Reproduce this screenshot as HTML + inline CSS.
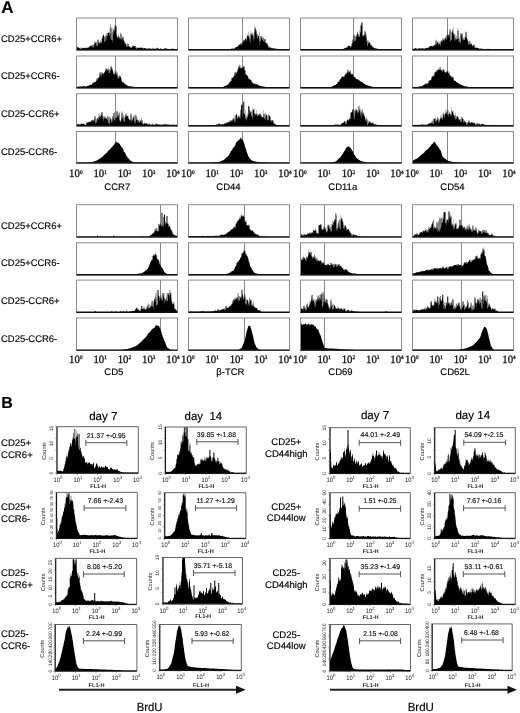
<!DOCTYPE html><html><head><meta charset="utf-8"><style>html,body{margin:0;padding:0;background:#fff;}svg{display:block;filter:grayscale(1);}</style></head><body>
<svg width="520" height="713" viewBox="0 0 520 713" text-rendering="geometricPrecision">
<rect width="520" height="713" fill="#fff"/>
<text x="1.20" y="13.20" font-family='"Liberation Sans", sans-serif' font-size="17" font-weight="bold" text-anchor="start" fill="#000" stroke="#000" stroke-width="0.15">A</text>
<text x="1.00" y="41.70" font-family='"Liberation Sans", sans-serif' font-size="9.6" font-weight="normal" text-anchor="start" fill="#000" textLength="60.98" lengthAdjust="spacingAndGlyphs" stroke="#000" stroke-width="0.15">CD25+CCR6+</text>
<text x="1.00" y="79.40" font-family='"Liberation Sans", sans-serif' font-size="9.6" font-weight="normal" text-anchor="start" fill="#000" textLength="58.60" lengthAdjust="spacingAndGlyphs" stroke="#000" stroke-width="0.15">CD25+CCR6-</text>
<text x="1.00" y="116.80" font-family='"Liberation Sans", sans-serif' font-size="9.6" font-weight="normal" text-anchor="start" fill="#000" textLength="58.60" lengthAdjust="spacingAndGlyphs" stroke="#000" stroke-width="0.15">CD25-CCR6+</text>
<text x="1.00" y="154.70" font-family='"Liberation Sans", sans-serif' font-size="9.6" font-weight="normal" text-anchor="start" fill="#000" textLength="56.23" lengthAdjust="spacingAndGlyphs" stroke="#000" stroke-width="0.15">CD25-CCR6-</text>
<line x1="115.50" y1="18.0" x2="115.50" y2="50" stroke="#888" stroke-width="1"/>
<path d="M76.50,50.00V46.1h.250V46.8h.250V47.3h.250V47.5h.250V46.8h.250V47.2h.250V46.9h.250V47.5h.250V47.8h.250V47.7h.250V47.9h.250V47.7h.250V48.2h.250V48.2h.250V47.7h.250V47.3h.250V49.1h.250V48.8h.250V48.7h.250V48.9h.250V48.0h.250V48.3h.250V47.9h.250V47.6h.250V47.9h.250V48.1h.250V48.2h.250V47.6h.250V48.0h.250V47.9h.250V47.6h.250V48.0h.250V47.9h.250V48.5h.250V47.9h.250V48.4h.250V47.5h.250V48.1h.250V47.8h.250V47.8h.250V47.9h.250V47.4h.250V47.6h.250V47.5h.250V47.9h.250V48.1h.250V47.2h.250V46.9h.250V47.5h.250V47.5h.250V47.3h.250V47.3h.250V46.0h.250V46.4h.250V45.8h.250V45.6h.250V46.0h.250V46.1h.250V46.2h.250V46.6h.250V45.0h.250V45.3h.250V44.8h.250V44.8h.250V47.3h.250V46.7h.250V48.0h.250V46.5h.250V44.6h.250V44.6h.250V44.8h.250V44.8h.250V41.3h.250V42.5h.250V41.8h.250V41.8h.250V43.4h.250V43.0h.250V42.3h.250V42.0h.250V45.5h.250V45.5h.250V46.3h.250V46.2h.250V39.6h.250V40.3h.250V40.1h.250V39.1h.250V41.7h.250V44.2h.250V43.6h.250V42.9h.250V42.5h.250V42.6h.250V40.2h.250V42.7h.250V41.6h.250V42.8h.250V43.3h.250V42.2h.250V41.7h.250V38.6h.250V38.4h.250V37.7h.250V35.6h.250V36.1h.250V35.0h.250V35.7h.250V35.2h.250V34.1h.250V37.1h.250V36.1h.250V41.8h.250V41.8h.250V41.0h.250V38.7h.250V35.9h.250V35.2h.250V35.8h.250V33.0h.250V40.5h.250V35.3h.250V36.4h.250V35.8h.250V32.5h.250V33.1h.250V32.3h.250V32.7h.250V32.4h.250V33.0h.250V32.4h.250V28.6h.250V34.6h.250V35.8h.250V33.3h.250V38.5h.250V24.3h.250V25.8h.250V28.0h.250V27.5h.250V39.5h.250V39.7h.250V42.3h.250V39.9h.250V27.7h.250V32.0h.250V29.3h.250V29.5h.250V30.7h.250V34.3h.250V29.9h.250V31.8h.250V28.0h.250V24.9h.250V27.0h.250V27.3h.250V25.2h.250V25.5h.250V25.8h.250V26.1h.250V33.9h.250V36.4h.250V38.1h.250V36.5h.250V37.1h.250V37.0h.250V34.8h.250V35.5h.250V36.3h.250V38.4h.250V39.3h.250V38.2h.250V37.0h.250V36.5h.250V38.6h.250V39.5h.250V32.8h.250V33.3h.250V33.8h.250V34.3h.250V39.4h.250V38.8h.250V40.5h.250V37.9h.250V36.4h.250V36.7h.250V37.1h.250V37.5h.250V40.3h.250V39.8h.250V41.2h.250V41.4h.250V43.9h.250V41.7h.250V43.2h.250V42.8h.250V43.6h.250V44.6h.250V43.8h.250V44.7h.250V46.7h.250V46.6h.250V46.0h.250V47.1h.250V44.0h.250V42.8h.250V44.0h.250V44.1h.250V46.2h.250V46.1h.250V46.3h.250V47.1h.250V47.0h.250V46.2h.250V47.7h.250V46.8h.250V47.5h.250V46.8h.250V47.7h.250V48.1h.250V47.6h.250V46.2h.250V47.0h.250V46.9h.250V45.6h.250V45.5h.250V46.1h.250V45.1h.250V46.1h.250V46.6h.250V46.7h.250V46.1h.250V45.9h.250V45.9h.250V46.0h.250V46.1h.250V47.6h.250V47.7h.250V47.7h.250V47.5h.250V48.9h.250V48.7h.250V47.7h.250V48.0h.250V47.1h.250V47.7h.250V47.4h.250V47.6h.250V47.9h.250V48.2h.250V47.8h.250V47.9h.250V47.8h.250V47.9h.250V47.5h.250V47.9h.250V47.5h.250V47.6h.250V47.8h.250V47.6h.250V47.7h.250V48.3h.250V47.4h.250V47.4h.250V48.3h.250V48.0h.250V48.0h.250V48.4h.250V48.3h.250V48.6h.250V48.1h.250V48.1h.250V48.3h.250V48.0h.250V48.2h.250V48.3h.250V48.3h.250V48.4h.250V48.4h.250V48.3h.250V49.3h.250V49.3h.250V48.7h.250V49.1h.250V48.0h.250V48.2h.250V48.3h.250V48.0h.250V49.1h.250V48.9h.250V49.0h.250V49.3h.250V48.1h.250V48.3h.250V48.0h.250V48.1h.250V48.9h.250V48.8h.250V48.8h.250V48.9h.250V48.7h.250V49.2h.250V48.8h.250V49.3h.250V48.2h.250V48.4h.250V47.6h.250V47.9h.250V49.0h.250V49.2h.250V49.4h.250V49.0h.250V48.5h.250V48.8h.250V48.7h.250V48.8h.250V48.4h.250V48.3h.250V48.3h.250V48.3h.250V48.4h.250V48.7h.250V48.7h.250V48.5h.250V47.6h.250V47.7h.250V47.9h.250V47.8h.250V49.0h.250V49.1h.250V49.1h.250V49.1h.250V48.8h.250V49.0h.250V48.5h.250V48.8h.250V48.5h.250V48.4h.250V48.5h.250V48.8h.250V48.9h.250V49.0h.250V49.0h.250V49.0h.250V49.1h.250V49.0h.250V49.0h.250V49.0h.250V48.9h.250V48.6h.250V48.9h.250V48.8h.250V48.3h.250V48.2h.250V48.3h.250V48.6h.250V48.2h.250V48.2h.250V48.2h.250V48.2h.250V48.9h.250V48.8h.250V49.1h.250V48.8h.250V48.8h.250V49.0h.250V49.0h.250V49.0h.250V48.9h.250V48.7h.250V48.9h.250V49.1h.250V49.1h.250V49.0h.250V48.8h.250V49.1h.250V49.3h.250V49.3h.250V49.3h.250V49.4h.250V48.7h.250V48.7h.250V48.6h.250V48.8h.250V48.5h.250V48.7h.250V48.7h.250V48.8h.250V48.8h.250V49.1h.250V49.1h.250V49.2h.250V49.4h.250V49.1h.250V49.1h.250V49.1h.250V49.0h.250V49.0h.250V48.9h.250V49.0h.250V49.4h.250V49.4h.250V50.00Z" fill="#000"/>
<rect x="76.5" y="18.0" width="101" height="32.0" fill="none" stroke="#8a8a8a" stroke-width="1"/>
<path d="M76.5,49.70H177.5" stroke="#111" stroke-width="1.4"/>
<line x1="115.50" y1="56.0" x2="115.50" y2="88" stroke="#888" stroke-width="1"/>
<path d="M76.50,88.00V86.8h.250V86.7h.250V86.8h.250V86.8h.250V86.8h.250V86.7h.250V86.7h.250V86.6h.250V86.6h.250V86.6h.250V86.6h.250V86.6h.250V86.6h.250V86.6h.250V86.6h.250V86.5h.250V86.3h.250V86.5h.250V86.5h.250V86.4h.250V86.6h.250V86.4h.250V86.4h.250V86.4h.250V86.2h.250V86.2h.250V86.2h.250V86.1h.250V86.1h.250V86.1h.250V86.1h.250V86.1h.250V86.6h.250V86.6h.250V86.5h.250V86.4h.250V86.6h.250V86.6h.250V86.5h.250V86.5h.250V86.2h.250V86.0h.250V86.2h.250V85.9h.250V85.8h.250V85.9h.250V85.6h.250V85.5h.250V85.8h.250V85.8h.250V85.4h.250V85.2h.250V85.0h.250V84.8h.250V85.0h.250V84.7h.250V85.1h.250V85.1h.250V85.1h.250V84.8h.250V84.5h.250V84.3h.250V84.2h.250V84.2h.250V83.0h.250V82.6h.250V82.6h.250V82.1h.250V83.0h.250V83.0h.250V82.6h.250V81.9h.250V82.4h.250V81.8h.250V81.9h.250V81.9h.250V81.5h.250V81.5h.250V81.1h.250V81.0h.250V78.4h.250V79.0h.250V77.9h.250V78.1h.250V79.7h.250V79.7h.250V78.5h.250V78.2h.250V76.9h.250V77.3h.250V76.5h.250V77.3h.250V72.9h.250V72.6h.250V72.3h.250V72.0h.250V75.8h.250V74.0h.250V75.3h.250V76.6h.250V72.4h.250V72.6h.250V73.1h.250V72.1h.250V73.8h.250V73.2h.250V73.3h.250V73.1h.250V73.9h.250V75.0h.250V72.6h.250V73.3h.250V71.8h.250V71.8h.250V70.6h.250V70.7h.250V68.8h.250V68.7h.250V68.7h.250V68.2h.250V71.2h.250V69.0h.250V70.2h.250V68.8h.250V69.1h.250V70.6h.250V69.0h.250V68.1h.250V73.2h.250V70.0h.250V72.9h.250V73.1h.250V69.4h.250V69.5h.250V71.0h.250V70.9h.250V66.6h.250V67.1h.250V66.5h.250V66.2h.250V68.2h.250V69.1h.250V69.0h.250V67.8h.250V70.9h.250V70.5h.250V73.4h.250V71.9h.250V73.6h.250V74.4h.250V74.0h.250V75.6h.250V70.8h.250V73.3h.250V71.2h.250V71.2h.250V73.9h.250V73.4h.250V74.7h.250V74.3h.250V70.8h.250V72.3h.250V72.4h.250V72.8h.250V76.2h.250V78.3h.250V78.4h.250V78.5h.250V76.3h.250V75.8h.250V76.4h.250V77.9h.250V75.2h.250V75.6h.250V75.9h.250V76.3h.250V76.2h.250V77.3h.250V78.0h.250V78.6h.250V81.6h.250V80.7h.250V82.0h.250V82.7h.250V81.3h.250V82.2h.250V82.1h.250V82.1h.250V82.4h.250V82.9h.250V83.2h.250V83.4h.250V83.7h.250V83.8h.250V84.1h.250V84.1h.250V84.5h.250V84.7h.250V84.7h.250V85.0h.250V85.0h.250V85.4h.250V85.2h.250V85.3h.250V85.7h.250V86.0h.250V85.7h.250V86.0h.250V86.4h.250V86.4h.250V86.7h.250V86.3h.250V85.9h.250V86.0h.250V86.1h.250V86.2h.250V86.4h.250V86.3h.250V86.6h.250V86.7h.250V86.5h.250V86.5h.250V86.6h.250V86.7h.250V86.5h.250V86.6h.250V86.7h.250V86.8h.250V86.8h.250V86.8h.250V86.9h.250V86.8h.250V86.9h.250V87.0h.250V86.9h.250V87.0h.250V87.1h.250V87.0h.250V87.2h.250V87.1h.250V87.4h.250V87.4h.250V87.4h.250V87.4h.250V87.3h.250V87.4h.250V87.3h.250V87.3h.250V87.4h.250V87.4h.250V87.3h.250V87.3h.250V87.4h.250V87.4h.250V87.4h.250V87.4h.250V87.5h.250V87.4h.250V87.4h.250V87.4h.250V87.3h.250V87.3h.250V87.3h.250V87.3h.250V87.3h.250V87.3h.250V87.4h.250V87.3h.250V87.3h.250V87.4h.250V87.3h.250V87.4h.250V87.4h.250V87.4h.250V87.4h.250V87.4h.250V87.4h.250V87.3h.250V87.4h.250V87.3h.250V87.2h.250V87.2h.250V87.2h.250V87.2h.250V87.4h.250V87.4h.250V87.4h.250V87.5h.250V87.4h.250V87.4h.250V87.4h.250V87.3h.250V87.4h.250V87.4h.250V87.4h.250V87.4h.250V87.4h.250V87.4h.250V87.4h.250V87.4h.250V87.3h.250V87.3h.250V87.3h.250V87.3h.250V87.3h.250V87.3h.250V87.4h.250V87.4h.250V87.3h.250V87.3h.250V87.3h.250V87.3h.250V87.3h.250V87.3h.250V87.3h.250V87.3h.250V87.3h.250V87.3h.250V87.4h.250V87.3h.250V87.4h.250V87.4h.250V87.4h.250V87.4h.250V87.3h.250V87.4h.250V87.4h.250V87.4h.250V87.3h.250V87.3h.250V87.4h.250V87.3h.250V87.4h.250V87.4h.250V87.3h.250V87.4h.250V87.3h.250V87.3h.250V87.3h.250V87.3h.250V87.2h.250V87.2h.250V87.2h.250V87.3h.250V87.3h.250V87.3h.250V87.4h.250V87.3h.250V87.4h.250V87.4h.250V87.4h.250V87.4h.250V87.4h.250V87.3h.250V87.4h.250V87.4h.250V87.4h.250V87.4h.250V87.3h.250V87.4h.250V87.3h.250V87.4h.250V87.4h.250V87.4h.250V87.2h.250V87.3h.250V87.3h.250V87.4h.250V87.3h.250V87.3h.250V87.3h.250V87.3h.250V87.5h.250V87.4h.250V87.4h.250V87.4h.250V87.3h.250V87.3h.250V87.3h.250V87.2h.250V87.3h.250V87.3h.250V87.3h.250V87.4h.250V87.3h.250V87.3h.250V87.4h.250V87.4h.250V87.4h.250V87.4h.250V87.4h.250V87.4h.250V87.4h.250V87.4h.250V87.4h.250V87.4h.250V87.4h.250V87.4h.250V87.5h.250V87.4h.250V87.3h.250V87.3h.250V88.00Z" fill="#000"/>
<rect x="76.5" y="56.0" width="101" height="32.0" fill="none" stroke="#8a8a8a" stroke-width="1"/>
<path d="M76.5,87.70H177.5" stroke="#111" stroke-width="1.4"/>
<line x1="115.50" y1="93.7" x2="115.50" y2="126" stroke="#888" stroke-width="1"/>
<path d="M76.50,126.00V124.2h.250V124.4h.250V124.6h.250V124.5h.250V124.0h.250V124.1h.250V124.3h.250V124.3h.250V124.2h.250V123.9h.250V123.8h.250V123.7h.250V125.2h.250V124.8h.250V124.8h.250V124.6h.250V123.5h.250V123.8h.250V123.9h.250V123.5h.250V124.2h.250V123.8h.250V124.0h.250V123.6h.250V123.7h.250V124.0h.250V123.8h.250V123.9h.250V123.8h.250V124.0h.250V123.2h.250V123.8h.250V124.9h.250V125.5h.250V125.5h.250V125.2h.250V124.7h.250V124.5h.250V124.4h.250V124.3h.250V122.7h.250V121.6h.250V122.7h.250V122.1h.250V122.4h.250V122.9h.250V122.5h.250V121.8h.250V122.2h.250V122.1h.250V122.1h.250V122.0h.250V121.9h.250V121.6h.250V122.0h.250V121.4h.250V121.2h.250V121.7h.250V120.3h.250V121.5h.250V121.3h.250V119.9h.250V120.6h.250V120.0h.250V121.4h.250V119.6h.250V120.9h.250V119.9h.250V119.9h.250V120.7h.250V118.9h.250V121.5h.250V116.7h.250V116.5h.250V116.3h.250V116.2h.250V122.4h.250V123.8h.250V122.4h.250V122.4h.250V119.4h.250V119.0h.250V120.4h.250V118.0h.250V118.1h.250V117.8h.250V119.4h.250V119.1h.250V117.1h.250V113.8h.250V113.5h.250V115.7h.250V116.6h.250V117.8h.250V118.0h.250V116.3h.250V116.5h.250V114.1h.250V114.9h.250V115.4h.250V112.2h.250V112.2h.250V112.2h.250V112.1h.250V115.8h.250V119.1h.250V120.9h.250V118.6h.250V116.2h.250V116.6h.250V118.2h.250V118.4h.250V116.6h.250V116.1h.250V117.0h.250V116.4h.250V119.2h.250V117.9h.250V117.3h.250V118.3h.250V118.7h.250V119.2h.250V119.8h.250V120.6h.250V115.2h.250V116.3h.250V116.7h.250V116.9h.250V123.0h.250V122.7h.250V124.2h.250V123.7h.250V116.5h.250V118.2h.250V118.4h.250V116.7h.250V118.6h.250V119.9h.250V119.0h.250V119.4h.250V121.7h.250V123.0h.250V119.6h.250V122.0h.250V116.7h.250V115.5h.250V119.2h.250V117.3h.250V113.1h.250V112.9h.250V112.8h.250V112.4h.250V120.8h.250V120.0h.250V121.9h.250V117.5h.250V117.6h.250V118.3h.250V118.0h.250V117.8h.250V111.2h.250V111.2h.250V111.2h.250V111.2h.250V116.4h.250V115.7h.250V117.6h.250V115.1h.250V112.4h.250V114.6h.250V113.2h.250V111.8h.250V121.1h.250V119.7h.250V120.1h.250V122.1h.250V120.9h.250V121.7h.250V117.4h.250V120.6h.250V111.6h.250V112.9h.250V113.4h.250V111.5h.250V117.2h.250V118.7h.250V115.0h.250V115.5h.250V121.9h.250V119.5h.250V122.1h.250V121.3h.250V116.1h.250V117.7h.250V116.6h.250V117.2h.250V113.7h.250V114.1h.250V116.3h.250V113.3h.250V114.8h.250V116.2h.250V115.9h.250V115.7h.250V116.3h.250V115.8h.250V118.8h.250V115.6h.250V119.0h.250V117.2h.250V119.9h.250V120.4h.250V119.5h.250V119.1h.250V119.8h.250V121.1h.250V114.3h.250V113.4h.250V113.0h.250V115.5h.250V122.0h.250V119.5h.250V120.4h.250V120.3h.250V118.5h.250V117.4h.250V118.4h.250V117.7h.250V117.1h.250V114.9h.250V116.4h.250V115.8h.250V123.1h.250V121.3h.250V121.6h.250V123.7h.250V114.5h.250V114.8h.250V115.9h.250V115.5h.250V120.1h.250V119.3h.250V118.4h.250V119.8h.250V120.2h.250V121.4h.250V121.4h.250V119.8h.250V122.6h.250V120.0h.250V122.5h.250V119.5h.250V121.9h.250V122.4h.250V120.3h.250V120.6h.250V121.1h.250V121.4h.250V122.9h.250V120.5h.250V117.1h.250V119.2h.250V120.5h.250V120.1h.250V123.8h.250V123.5h.250V123.1h.250V123.5h.250V124.9h.250V124.3h.250V123.8h.250V123.9h.250V122.4h.250V122.4h.250V123.1h.250V123.0h.250V123.4h.250V124.1h.250V123.4h.250V123.3h.250V123.6h.250V123.6h.250V123.5h.250V123.7h.250V124.6h.250V124.6h.250V124.6h.250V125.0h.250V123.4h.250V123.6h.250V123.9h.250V123.7h.250V123.8h.250V124.1h.250V124.4h.250V124.3h.250V124.9h.250V124.8h.250V124.4h.250V124.4h.250V124.7h.250V125.2h.250V124.9h.250V124.7h.250V123.6h.250V123.8h.250V123.7h.250V123.9h.250V125.1h.250V125.0h.250V125.1h.250V125.0h.250V124.8h.250V124.0h.250V125.0h.250V124.5h.250V123.2h.250V123.7h.250V124.1h.250V123.7h.250V124.2h.250V124.4h.250V124.4h.250V124.1h.250V124.4h.250V123.8h.250V124.3h.250V124.4h.250V125.2h.250V124.9h.250V124.5h.250V124.7h.250V124.2h.250V124.3h.250V124.4h.250V124.2h.250V124.9h.250V125.0h.250V124.4h.250V124.6h.250V124.5h.250V125.0h.250V125.0h.250V125.0h.250V124.2h.250V124.6h.250V124.3h.250V124.6h.250V124.3h.250V124.4h.250V124.3h.250V124.6h.250V124.4h.250V124.3h.250V124.1h.250V124.6h.250V124.3h.250V124.5h.250V124.4h.250V124.2h.250V124.6h.250V124.6h.250V124.8h.250V125.0h.250V124.0h.250V124.3h.250V124.3h.250V124.4h.250V125.1h.250V124.8h.250V124.8h.250V124.7h.250V124.9h.250V124.5h.250V124.7h.250V124.5h.250V124.7h.250V125.2h.250V125.1h.250V125.0h.250V124.3h.250V124.6h.250V124.2h.250V124.4h.250V125.0h.250V124.7h.250V124.6h.250V124.6h.250V124.7h.250V125.1h.250V125.2h.250V125.2h.250V124.7h.250V124.8h.250V124.8h.250V124.6h.250V125.2h.250V125.2h.250V125.3h.250V125.1h.250V124.4h.250V124.2h.250V126.00Z" fill="#000"/>
<rect x="76.5" y="93.7" width="101" height="32.3" fill="none" stroke="#8a8a8a" stroke-width="1"/>
<path d="M76.5,125.70H177.5" stroke="#111" stroke-width="1.4"/>
<line x1="115.50" y1="131.5" x2="115.50" y2="163.2" stroke="#888" stroke-width="1"/>
<path d="M76.50,163.20V162.9h.250V162.9h.250V162.9h.250V162.9h.250V162.9h.250V162.9h.250V162.9h.250V162.9h.250V162.9h.250V162.9h.250V162.9h.250V162.9h.250V162.9h.250V162.9h.250V162.9h.250V162.9h.250V162.9h.250V162.9h.250V162.9h.250V162.9h.250V162.9h.250V162.9h.250V162.9h.250V162.9h.250V162.9h.250V162.9h.250V162.9h.250V162.9h.250V162.9h.250V162.9h.250V162.9h.250V162.9h.250V162.9h.250V162.9h.250V162.9h.250V162.9h.250V162.9h.250V162.9h.250V162.9h.250V162.9h.250V162.9h.250V162.8h.250V162.8h.250V162.8h.250V162.7h.250V162.7h.250V162.7h.250V162.7h.250V162.6h.250V162.6h.250V162.6h.250V162.5h.250V162.5h.250V162.5h.250V162.4h.250V162.4h.250V162.4h.250V162.3h.250V162.3h.250V162.3h.250V162.2h.250V162.2h.250V162.1h.250V162.0h.250V161.9h.250V161.8h.250V161.7h.250V161.6h.250V161.6h.250V161.5h.250V161.5h.250V161.4h.250V161.3h.250V161.2h.250V161.1h.250V161.0h.250V160.9h.250V160.9h.250V160.8h.250V160.7h.250V160.6h.250V160.4h.250V160.3h.250V160.1h.250V159.9h.250V159.7h.250V159.5h.250V159.4h.250V159.5h.250V159.3h.250V159.2h.250V159.0h.250V158.7h.250V158.6h.250V158.4h.250V158.3h.250V158.1h.250V157.8h.250V157.7h.250V157.5h.250V157.4h.250V157.2h.250V157.0h.250V156.7h.250V156.4h.250V156.4h.250V156.0h.250V155.6h.250V155.7h.250V155.3h.250V155.2h.250V155.0h.250V154.5h.250V154.2h.250V154.0h.250V153.6h.250V153.5h.250V153.5h.250V153.2h.250V152.9h.250V152.8h.250V152.6h.250V152.4h.250V152.2h.250V151.7h.250V151.3h.250V151.1h.250V150.6h.250V150.3h.250V150.2h.250V150.0h.250V149.5h.250V149.9h.250V149.4h.250V149.1h.250V149.0h.250V148.3h.250V148.4h.250V147.6h.250V147.7h.250V147.6h.250V147.6h.250V147.1h.250V147.1h.250V146.2h.250V145.8h.250V145.9h.250V145.4h.250V145.3h.250V144.9h.250V144.4h.250V144.2h.250V143.8h.250V143.3h.250V142.7h.250V142.7h.250V142.5h.250V142.1h.250V141.9h.250V141.3h.250V142.2h.250V142.4h.250V142.0h.250V142.2h.250V142.8h.250V142.8h.250V142.8h.250V143.3h.250V143.2h.250V143.1h.250V143.8h.250V143.6h.250V143.8h.250V144.1h.250V145.0h.250V145.3h.250V145.6h.250V145.9h.250V146.4h.250V147.0h.250V146.8h.250V147.1h.250V147.5h.250V148.4h.250V148.1h.250V148.5h.250V149.0h.250V149.5h.250V151.0h.250V151.4h.250V152.0h.250V152.3h.250V151.9h.250V152.3h.250V152.8h.250V153.3h.250V154.4h.250V154.8h.250V155.3h.250V155.8h.250V156.0h.250V156.3h.250V156.7h.250V156.9h.250V157.5h.250V157.7h.250V158.2h.250V158.5h.250V158.5h.250V158.8h.250V159.1h.250V159.5h.250V159.9h.250V160.2h.250V160.3h.250V160.5h.250V160.6h.250V160.7h.250V160.9h.250V161.0h.250V161.2h.250V161.3h.250V161.5h.250V161.7h.250V161.8h.250V162.0h.250V162.0h.250V162.0h.250V162.1h.250V162.1h.250V162.2h.250V162.2h.250V162.2h.250V162.3h.250V162.3h.250V162.3h.250V162.4h.250V162.4h.250V162.5h.250V162.5h.250V162.5h.250V162.6h.250V162.6h.250V162.6h.250V162.6h.250V162.6h.250V162.6h.250V162.6h.250V162.6h.250V162.6h.250V162.6h.250V162.6h.250V162.6h.250V162.6h.250V162.6h.250V162.6h.250V162.6h.250V162.6h.250V162.6h.250V162.6h.250V162.6h.250V162.6h.250V162.6h.250V162.6h.250V162.6h.250V162.6h.250V162.6h.250V162.6h.250V162.6h.250V162.6h.250V162.6h.250V162.6h.250V162.6h.250V162.6h.250V162.6h.250V162.6h.250V162.6h.250V162.7h.250V162.7h.250V162.7h.250V162.6h.250V162.6h.250V162.6h.250V162.7h.250V162.7h.250V162.7h.250V162.7h.250V162.7h.250V162.7h.250V162.7h.250V162.7h.250V162.7h.250V162.7h.250V162.7h.250V162.7h.250V162.7h.250V162.7h.250V162.7h.250V162.7h.250V162.7h.250V162.7h.250V162.7h.250V162.7h.250V162.7h.250V162.7h.250V162.7h.250V162.7h.250V162.7h.250V162.7h.250V162.7h.250V162.7h.250V162.7h.250V162.7h.250V162.7h.250V162.7h.250V162.7h.250V162.7h.250V162.7h.250V162.7h.250V162.7h.250V162.7h.250V162.7h.250V162.7h.250V162.7h.250V162.7h.250V162.7h.250V162.7h.250V162.7h.250V162.7h.250V162.7h.250V162.7h.250V162.7h.250V162.8h.250V162.8h.250V162.8h.250V162.8h.250V162.8h.250V162.8h.250V162.8h.250V162.8h.250V162.8h.250V162.8h.250V162.8h.250V162.8h.250V162.8h.250V162.8h.250V162.8h.250V162.8h.250V162.8h.250V162.8h.250V162.8h.250V162.8h.250V162.8h.250V162.8h.250V162.8h.250V162.8h.250V162.8h.250V162.8h.250V162.8h.250V162.8h.250V162.8h.250V162.8h.250V162.8h.250V162.8h.250V162.8h.250V162.8h.250V162.8h.250V162.8h.250V162.8h.250V162.8h.250V162.8h.250V162.8h.250V162.8h.250V162.8h.250V162.8h.250V162.8h.250V162.8h.250V162.8h.250V162.8h.250V162.8h.250V162.8h.250V162.9h.250V162.9h.250V162.8h.250V162.8h.250V162.8h.250V162.8h.250V162.8h.250V162.9h.250V162.9h.250V162.9h.250V162.9h.250V162.9h.250V162.9h.250V162.9h.250V162.9h.250V162.9h.250V162.9h.250V162.9h.250V162.9h.250V162.9h.250V162.9h.250V163.20Z" fill="#000"/>
<rect x="76.5" y="131.5" width="101" height="31.69999999999999" fill="none" stroke="#8a8a8a" stroke-width="1"/>
<path d="M76.5,162.90H177.5" stroke="#111" stroke-width="1.4"/>
<text x="69.10" y="176.8" font-family='"Liberation Serif", serif' font-size="11.2" fill="#111" stroke="#111" stroke-width="0.3" textLength="13.4" lengthAdjust="spacingAndGlyphs">10<tspan font-size="5.4" dy="-3.2">0</tspan></text>
<text x="93.40" y="176.8" font-family='"Liberation Serif", serif' font-size="11.2" fill="#111" stroke="#111" stroke-width="0.3" textLength="13.4" lengthAdjust="spacingAndGlyphs">10<tspan font-size="5.4" dy="-3.2">1</tspan></text>
<text x="117.70" y="176.8" font-family='"Liberation Serif", serif' font-size="11.2" fill="#111" stroke="#111" stroke-width="0.3" textLength="13.4" lengthAdjust="spacingAndGlyphs">10<tspan font-size="5.4" dy="-3.2">2</tspan></text>
<text x="142.00" y="176.8" font-family='"Liberation Serif", serif' font-size="11.2" fill="#111" stroke="#111" stroke-width="0.3" textLength="13.4" lengthAdjust="spacingAndGlyphs">10<tspan font-size="5.4" dy="-3.2">3</tspan></text>
<text x="166.30" y="176.8" font-family='"Liberation Serif", serif' font-size="11.2" fill="#111" stroke="#111" stroke-width="0.3" textLength="13.4" lengthAdjust="spacingAndGlyphs">10<tspan font-size="5.4" dy="-3.2">4</tspan></text>
<text x="104.30" y="189.70" font-family='"Liberation Sans", sans-serif' font-size="9.5" font-weight="normal" text-anchor="start" fill="#000" stroke="#000" stroke-width="0.15">CCR7</text>
<line x1="242.50" y1="18.0" x2="242.50" y2="50" stroke="#888" stroke-width="1"/>
<path d="M188.50,50.00V49.6h.250V49.6h.250V49.6h.250V49.6h.250V49.6h.250V49.6h.250V49.5h.250V49.6h.250V49.7h.250V49.7h.250V49.7h.250V49.7h.250V49.8h.250V49.7h.250V49.7h.250V49.7h.250V49.7h.250V49.6h.250V49.7h.250V49.7h.250V49.7h.250V49.6h.250V49.6h.250V49.6h.250V49.6h.250V49.6h.250V49.7h.250V49.6h.250V49.7h.250V49.7h.250V49.7h.250V49.7h.250V49.8h.250V49.7h.250V49.7h.250V49.8h.250V49.5h.250V49.6h.250V49.6h.250V49.6h.250V49.6h.250V49.5h.250V49.5h.250V49.5h.250V49.7h.250V49.7h.250V49.7h.250V49.7h.250V49.7h.250V49.7h.250V49.7h.250V49.6h.250V49.5h.250V49.5h.250V49.5h.250V49.5h.250V49.5h.250V49.5h.250V49.5h.250V49.5h.250V49.7h.250V49.7h.250V49.7h.250V49.6h.250V49.6h.250V49.6h.250V49.6h.250V49.6h.250V49.7h.250V49.7h.250V49.7h.250V49.7h.250V49.5h.250V49.5h.250V49.5h.250V49.5h.250V49.6h.250V49.6h.250V49.7h.250V49.7h.250V49.7h.250V49.7h.250V49.7h.250V49.7h.250V49.8h.250V49.9h.250V49.8h.250V49.8h.250V49.6h.250V49.7h.250V49.6h.250V49.7h.250V49.7h.250V49.8h.250V49.8h.250V49.7h.250V49.7h.250V49.6h.250V49.6h.250V49.6h.250V49.6h.250V49.6h.250V49.6h.250V49.6h.250V49.5h.250V49.5h.250V49.5h.250V49.5h.250V49.7h.250V49.7h.250V49.8h.250V49.7h.250V49.8h.250V49.8h.250V49.8h.250V49.8h.250V49.7h.250V49.7h.250V49.7h.250V49.6h.250V49.8h.250V49.7h.250V49.8h.250V49.8h.250V49.7h.250V49.7h.250V49.6h.250V49.7h.250V49.7h.250V49.7h.250V49.7h.250V49.7h.250V49.6h.250V49.7h.250V49.7h.250V49.7h.250V49.5h.250V49.5h.250V49.5h.250V49.5h.250V49.7h.250V49.6h.250V49.6h.250V49.7h.250V49.7h.250V49.8h.250V49.6h.250V49.8h.250V49.7h.250V49.7h.250V49.7h.250V49.7h.250V49.7h.250V49.7h.250V49.7h.250V49.7h.250V49.7h.250V49.7h.250V49.7h.250V49.7h.250V49.7h.250V49.6h.250V49.4h.250V49.4h.250V49.5h.250V49.4h.250V49.4h.250V49.3h.250V49.2h.250V49.2h.250V48.8h.250V48.8h.250V48.6h.250V48.6h.250V48.3h.250V48.0h.250V48.7h.250V49.0h.250V48.8h.250V48.8h.250V48.5h.250V48.7h.250V49.2h.250V48.8h.250V48.0h.250V47.9h.250V47.3h.250V47.7h.250V47.7h.250V47.5h.250V46.9h.250V47.1h.250V47.0h.250V46.5h.250V46.6h.250V46.0h.250V46.8h.250V47.1h.250V46.2h.250V45.7h.250V45.2h.250V44.8h.250V44.6h.250V44.5h.250V44.7h.250V44.5h.250V45.1h.250V43.5h.250V43.2h.250V44.3h.250V42.6h.250V42.8h.250V44.8h.250V44.7h.250V42.9h.250V45.0h.250V42.4h.250V42.3h.250V41.5h.250V39.3h.250V41.3h.250V40.0h.250V39.9h.250V40.8h.250V40.9h.250V39.8h.250V38.1h.250V39.4h.250V38.3h.250V39.0h.250V39.5h.250V41.1h.250V38.9h.250V35.8h.250V36.3h.250V34.1h.250V35.3h.250V36.9h.250V36.4h.250V36.6h.250V32.1h.250V35.5h.250V34.5h.250V37.0h.250V39.0h.250V41.6h.250V42.9h.250V38.8h.250V34.5h.250V30.7h.250V32.7h.250V33.4h.250V34.3h.250V35.6h.250V32.6h.250V35.3h.250V33.8h.250V35.7h.250V33.3h.250V35.8h.250V37.8h.250V40.7h.250V39.2h.250V32.6h.250V25.7h.250V29.0h.250V27.8h.250V27.2h.250V28.4h.250V31.1h.250V29.9h.250V33.1h.250V35.3h.250V30.4h.250V34.3h.250V33.5h.250V37.9h.250V37.9h.250V35.9h.250V35.4h.250V36.1h.250V35.4h.250V32.1h.250V38.8h.250V45.0h.250V41.0h.250V40.6h.250V42.0h.250V35.9h.250V36.3h.250V36.1h.250V38.8h.250V36.5h.250V37.2h.250V39.7h.250V37.8h.250V36.1h.250V39.9h.250V37.7h.250V37.6h.250V41.8h.250V41.1h.250V39.8h.250V42.1h.250V38.7h.250V39.2h.250V39.1h.250V39.1h.250V43.0h.250V43.1h.250V42.6h.250V43.8h.250V42.6h.250V43.5h.250V43.5h.250V44.1h.250V43.5h.250V46.1h.250V45.4h.250V46.4h.250V46.7h.250V47.9h.250V47.5h.250V47.6h.250V46.9h.250V47.3h.250V47.1h.250V47.4h.250V47.7h.250V48.1h.250V47.9h.250V47.9h.250V47.6h.250V48.7h.250V48.3h.250V48.1h.250V48.3h.250V48.4h.250V48.4h.250V48.5h.250V48.0h.250V48.0h.250V48.5h.250V48.5h.250V48.8h.250V48.7h.250V48.9h.250V48.6h.250V48.6h.250V48.5h.250V49.0h.250V48.8h.250V48.6h.250V48.6h.250V48.8h.250V48.9h.250V49.1h.250V49.2h.250V49.0h.250V49.3h.250V49.2h.250V49.3h.250V49.3h.250V49.4h.250V49.6h.250V49.7h.250V49.8h.250V49.8h.250V49.9h.250V50.0h.250V50.0h.250V50.0h.250V50.0h.250V50.0h.250V50.0h.250V50.0h.250V50.0h.250V50.0h.250V50.0h.250V50.0h.250V50.0h.250V50.0h.250V50.0h.250V50.0h.250V50.0h.250V50.0h.250V50.0h.250V50.0h.250V50.0h.250V50.0h.250V50.0h.250V50.0h.250V50.0h.250V50.0h.250V50.0h.250V50.0h.250V50.0h.250V50.0h.250V50.0h.250V50.0h.250V50.0h.250V50.0h.250V50.00Z" fill="#000"/>
<rect x="188.5" y="18.0" width="101" height="32.0" fill="none" stroke="#8a8a8a" stroke-width="1"/>
<path d="M188.5,49.70H289.5" stroke="#111" stroke-width="1.4"/>
<line x1="242.50" y1="56.0" x2="242.50" y2="88" stroke="#888" stroke-width="1"/>
<path d="M188.50,88.00V87.7h.250V87.7h.250V87.7h.250V87.7h.250V87.7h.250V87.7h.250V87.7h.250V87.7h.250V87.7h.250V87.7h.250V87.7h.250V87.7h.250V87.6h.250V87.7h.250V87.7h.250V87.6h.250V87.7h.250V87.6h.250V87.6h.250V87.6h.250V87.7h.250V87.7h.250V87.6h.250V87.7h.250V87.6h.250V87.6h.250V87.6h.250V87.7h.250V87.7h.250V87.7h.250V87.7h.250V87.7h.250V87.6h.250V87.7h.250V87.6h.250V87.6h.250V87.7h.250V87.7h.250V87.7h.250V87.7h.250V87.7h.250V87.7h.250V87.7h.250V87.7h.250V87.7h.250V87.7h.250V87.7h.250V87.7h.250V87.7h.250V87.7h.250V87.7h.250V87.7h.250V87.7h.250V87.7h.250V87.7h.250V87.7h.250V87.7h.250V87.7h.250V87.7h.250V87.7h.250V87.7h.250V87.6h.250V87.7h.250V87.7h.250V87.7h.250V87.7h.250V87.7h.250V87.7h.250V87.7h.250V87.7h.250V87.7h.250V87.7h.250V87.7h.250V87.7h.250V87.7h.250V87.7h.250V87.7h.250V87.6h.250V87.6h.250V87.6h.250V87.7h.250V87.7h.250V87.7h.250V87.7h.250V87.7h.250V87.7h.250V87.7h.250V87.7h.250V87.7h.250V87.7h.250V87.7h.250V87.7h.250V87.7h.250V87.7h.250V87.7h.250V87.7h.250V87.7h.250V87.7h.250V87.7h.250V87.7h.250V87.7h.250V87.7h.250V87.7h.250V87.7h.250V87.7h.250V87.7h.250V87.7h.250V87.7h.250V87.7h.250V87.7h.250V87.7h.250V87.7h.250V87.7h.250V87.7h.250V87.7h.250V87.7h.250V87.7h.250V87.7h.250V87.6h.250V87.7h.250V87.7h.250V87.7h.250V87.6h.250V87.6h.250V87.5h.250V87.5h.250V87.4h.250V87.3h.250V87.4h.250V87.4h.250V87.3h.250V87.2h.250V87.2h.250V87.2h.250V87.2h.250V87.1h.250V86.9h.250V87.0h.250V86.9h.250V86.9h.250V86.5h.250V86.4h.250V86.2h.250V86.0h.250V86.2h.250V86.1h.250V86.0h.250V85.9h.250V85.7h.250V85.8h.250V85.6h.250V85.3h.250V85.1h.250V85.0h.250V84.7h.250V84.7h.250V84.7h.250V84.7h.250V84.5h.250V84.4h.250V84.1h.250V83.5h.250V83.0h.250V82.9h.250V81.8h.250V81.4h.250V80.9h.250V80.5h.250V82.0h.250V81.9h.250V80.9h.250V81.1h.250V77.8h.250V78.0h.250V77.9h.250V77.4h.250V77.9h.250V78.0h.250V77.6h.250V76.5h.250V76.5h.250V76.3h.250V75.5h.250V76.1h.250V72.9h.250V72.5h.250V72.0h.250V71.5h.250V73.6h.250V74.2h.250V73.5h.250V72.8h.250V72.5h.250V71.9h.250V72.1h.250V71.0h.250V69.2h.250V69.4h.250V68.8h.250V67.6h.250V66.1h.250V67.6h.250V67.3h.250V64.7h.250V64.8h.250V67.6h.250V67.3h.250V65.0h.250V67.9h.250V68.7h.250V68.6h.250V68.1h.250V67.1h.250V68.0h.250V67.0h.250V66.2h.250V68.3h.250V68.8h.250V67.7h.250V67.2h.250V65.4h.250V65.8h.250V66.1h.250V66.5h.250V70.1h.250V70.3h.250V70.3h.250V71.3h.250V74.1h.250V75.1h.250V73.9h.250V74.9h.250V74.9h.250V75.2h.250V75.9h.250V75.2h.250V76.2h.250V76.1h.250V76.6h.250V77.9h.250V78.6h.250V79.4h.250V79.3h.250V79.1h.250V79.3h.250V79.6h.250V79.6h.250V79.5h.250V79.5h.250V79.8h.250V80.4h.250V80.2h.250V81.7h.250V81.8h.250V81.8h.250V82.0h.250V83.3h.250V83.3h.250V83.5h.250V83.9h.250V83.3h.250V83.6h.250V83.7h.250V83.7h.250V83.5h.250V83.6h.250V83.8h.250V83.7h.250V84.2h.250V84.3h.250V84.2h.250V84.3h.250V84.5h.250V84.3h.250V84.6h.250V84.7h.250V84.4h.250V84.7h.250V84.9h.250V85.0h.250V85.4h.250V85.5h.250V85.5h.250V85.4h.250V86.0h.250V85.9h.250V85.9h.250V86.1h.250V86.0h.250V86.2h.250V86.1h.250V86.3h.250V86.1h.250V86.2h.250V86.2h.250V86.4h.250V86.4h.250V86.4h.250V86.6h.250V86.6h.250V86.4h.250V86.5h.250V86.5h.250V86.6h.250V86.8h.250V86.9h.250V87.0h.250V86.9h.250V87.0h.250V87.1h.250V87.0h.250V87.0h.250V87.1h.250V87.1h.250V87.1h.250V87.1h.250V87.2h.250V87.2h.250V87.3h.250V87.3h.250V87.2h.250V87.2h.250V87.3h.250V87.3h.250V87.4h.250V87.5h.250V87.4h.250V87.5h.250V87.5h.250V87.5h.250V87.6h.250V87.5h.250V87.5h.250V87.5h.250V87.6h.250V87.5h.250V87.6h.250V87.6h.250V87.6h.250V87.6h.250V87.6h.250V87.7h.250V87.6h.250V87.7h.250V87.7h.250V87.7h.250V87.7h.250V87.7h.250V87.7h.250V87.6h.250V87.7h.250V87.6h.250V87.7h.250V87.7h.250V87.7h.250V87.7h.250V87.7h.250V87.7h.250V87.7h.250V87.7h.250V87.7h.250V87.7h.250V87.7h.250V87.7h.250V87.7h.250V87.7h.250V87.7h.250V87.7h.250V87.6h.250V87.7h.250V87.7h.250V87.6h.250V87.6h.250V87.6h.250V87.6h.250V87.6h.250V87.7h.250V87.7h.250V87.7h.250V87.7h.250V87.6h.250V87.6h.250V87.7h.250V87.7h.250V87.7h.250V87.7h.250V87.7h.250V87.7h.250V87.7h.250V87.7h.250V87.7h.250V87.7h.250V87.7h.250V87.7h.250V87.7h.250V87.7h.250V87.7h.250V87.7h.250V87.7h.250V87.7h.250V87.7h.250V87.7h.250V88.00Z" fill="#000"/>
<rect x="188.5" y="56.0" width="101" height="32.0" fill="none" stroke="#8a8a8a" stroke-width="1"/>
<path d="M188.5,87.70H289.5" stroke="#111" stroke-width="1.4"/>
<line x1="242.50" y1="93.7" x2="242.50" y2="126" stroke="#888" stroke-width="1"/>
<path d="M188.50,126.00V126.0h.250V126.0h.250V126.0h.250V126.0h.250V126.0h.250V126.0h.250V126.0h.250V126.0h.250V126.0h.250V126.0h.250V126.0h.250V126.0h.250V126.0h.250V126.0h.250V126.0h.250V126.0h.250V126.0h.250V126.0h.250V126.0h.250V126.0h.250V126.0h.250V126.0h.250V126.0h.250V126.0h.250V126.0h.250V126.0h.250V126.0h.250V126.0h.250V126.0h.250V126.0h.250V126.0h.250V126.0h.250V126.0h.250V126.0h.250V126.0h.250V126.0h.250V126.0h.250V126.0h.250V126.0h.250V126.0h.250V126.0h.250V126.0h.250V126.0h.250V126.0h.250V126.0h.250V126.0h.250V126.0h.250V126.0h.250V126.0h.250V126.0h.250V126.0h.250V126.0h.250V126.0h.250V126.0h.250V126.0h.250V126.0h.250V126.0h.250V126.0h.250V126.0h.250V126.0h.250V126.0h.250V126.0h.250V126.0h.250V126.0h.250V126.0h.250V126.0h.250V126.0h.250V126.0h.250V126.0h.250V126.0h.250V126.0h.250V126.0h.250V126.0h.250V126.0h.250V126.0h.250V126.0h.250V126.0h.250V126.0h.250V126.0h.250V126.0h.250V126.0h.250V126.0h.250V126.0h.250V126.0h.250V126.0h.250V126.0h.250V126.0h.250V126.0h.250V126.0h.250V126.0h.250V126.0h.250V126.0h.250V126.0h.250V126.0h.250V126.0h.250V126.0h.250V126.0h.250V125.8h.250V125.6h.250V125.5h.250V125.2h.250V125.2h.250V125.4h.250V125.4h.250V125.1h.250V125.3h.250V125.0h.250V125.0h.250V124.5h.250V125.2h.250V124.7h.250V124.5h.250V124.4h.250V124.1h.250V124.5h.250V124.3h.250V124.5h.250V124.7h.250V124.0h.250V124.5h.250V123.6h.250V123.5h.250V123.6h.250V123.6h.250V124.5h.250V124.3h.250V124.4h.250V124.2h.250V124.2h.250V124.2h.250V124.1h.250V124.2h.250V124.7h.250V124.9h.250V124.6h.250V124.4h.250V123.9h.250V124.0h.250V124.2h.250V124.2h.250V124.3h.250V124.2h.250V123.7h.250V123.9h.250V123.1h.250V123.8h.250V122.9h.250V123.6h.250V123.7h.250V123.2h.250V123.5h.250V123.6h.250V122.6h.250V122.0h.250V122.6h.250V122.4h.250V123.2h.250V121.7h.250V122.9h.250V121.9h.250V121.9h.250V122.5h.250V122.3h.250V121.9h.250V120.5h.250V121.2h.250V120.0h.250V120.3h.250V122.0h.250V121.7h.250V121.0h.250V120.3h.250V120.1h.250V121.4h.250V120.3h.250V118.5h.250V121.3h.250V119.6h.250V120.3h.250V118.8h.250V117.4h.250V118.8h.250V118.5h.250V115.1h.250V120.7h.250V123.1h.250V119.0h.250V121.8h.250V115.8h.250V114.4h.250V114.4h.250V113.8h.250V115.1h.250V114.0h.250V117.6h.250V115.2h.250V117.6h.250V119.2h.250V115.1h.250V118.7h.250V116.2h.250V115.7h.250V117.6h.250V117.2h.250V117.6h.250V115.8h.250V114.7h.250V118.7h.250V110.1h.250V109.6h.250V105.2h.250V104.4h.250V105.4h.250V105.1h.250V104.8h.250V104.5h.250V115.5h.250V117.8h.250V113.5h.250V101.8h.250V101.8h.250V101.8h.250V101.8h.250V113.3h.250V113.8h.250V114.9h.250V109.9h.250V115.2h.250V118.3h.250V119.5h.250V120.4h.250V119.0h.250V114.9h.250V117.0h.250V117.0h.250V118.5h.250V115.4h.250V112.8h.250V114.9h.250V106.0h.250V106.0h.250V106.0h.250V106.0h.250V113.3h.250V109.7h.250V107.6h.250V110.6h.250V111.7h.250V112.2h.250V113.0h.250V110.8h.250V112.1h.250V116.8h.250V115.6h.250V117.0h.250V118.9h.250V110.8h.250V107.3h.250V109.5h.250V109.0h.250V110.2h.250V109.4h.250V112.7h.250V108.3h.250V116.0h.250V112.9h.250V115.2h.250V113.9h.250V113.1h.250V114.5h.250V115.3h.250V114.1h.250V113.9h.250V110.3h.250V115.2h.250V113.0h.250V115.4h.250V115.9h.250V114.0h.250V115.6h.250V115.0h.250V114.7h.250V113.9h.250V113.3h.250V116.1h.250V113.9h.250V114.7h.250V116.1h.250V113.4h.250V114.3h.250V115.4h.250V116.4h.250V117.6h.250V115.8h.250V117.6h.250V116.9h.250V117.0h.250V117.3h.250V117.1h.250V117.6h.250V110.0h.250V114.0h.250V113.8h.250V114.1h.250V119.0h.250V119.1h.250V119.7h.250V117.0h.250V112.8h.250V114.6h.250V113.4h.250V115.2h.250V114.9h.250V115.8h.250V114.6h.250V116.7h.250V120.2h.250V120.3h.250V119.6h.250V120.4h.250V114.6h.250V114.9h.250V115.2h.250V115.6h.250V115.9h.250V116.3h.250V116.6h.250V117.0h.250V120.7h.250V119.9h.250V121.8h.250V121.8h.250V119.8h.250V120.2h.250V120.4h.250V120.4h.250V120.1h.250V120.5h.250V120.8h.250V121.2h.250V123.4h.250V123.4h.250V123.5h.250V123.6h.250V123.6h.250V124.3h.250V123.8h.250V124.3h.250V124.4h.250V124.6h.250V125.0h.250V125.0h.250V124.7h.250V124.9h.250V125.1h.250V125.2h.250V125.5h.250V125.6h.250V125.8h.250V125.8h.250V125.9h.250V126.0h.250V126.0h.250V126.0h.250V126.0h.250V126.0h.250V126.0h.250V126.0h.250V126.0h.250V126.0h.250V126.0h.250V126.0h.250V126.0h.250V126.0h.250V126.0h.250V126.0h.250V126.0h.250V126.0h.250V126.0h.250V126.0h.250V126.0h.250V126.0h.250V126.0h.250V126.0h.250V126.0h.250V126.0h.250V126.0h.250V126.0h.250V126.0h.250V126.0h.250V126.0h.250V126.0h.250V126.0h.250V126.0h.250V126.0h.250V126.0h.250V126.0h.250V126.0h.250V126.0h.250V126.0h.250V126.0h.250V126.0h.250V126.00Z" fill="#000"/>
<rect x="188.5" y="93.7" width="101" height="32.3" fill="none" stroke="#8a8a8a" stroke-width="1"/>
<path d="M188.5,125.70H289.5" stroke="#111" stroke-width="1.4"/>
<line x1="242.50" y1="131.5" x2="242.50" y2="163.2" stroke="#888" stroke-width="1"/>
<path d="M188.50,163.20V162.9h.250V162.9h.250V162.9h.250V162.9h.250V162.9h.250V162.9h.250V162.9h.250V162.9h.250V162.9h.250V162.9h.250V162.9h.250V162.9h.250V162.9h.250V162.9h.250V162.9h.250V162.9h.250V162.9h.250V162.9h.250V162.9h.250V162.9h.250V162.9h.250V162.9h.250V162.9h.250V162.9h.250V162.9h.250V162.9h.250V162.9h.250V162.9h.250V162.9h.250V162.9h.250V162.9h.250V162.9h.250V162.9h.250V162.9h.250V162.9h.250V162.9h.250V162.9h.250V162.9h.250V162.9h.250V162.9h.250V162.9h.250V162.9h.250V162.9h.250V162.9h.250V162.9h.250V162.9h.250V162.9h.250V162.9h.250V162.9h.250V162.9h.250V162.9h.250V162.9h.250V162.9h.250V162.9h.250V162.9h.250V162.9h.250V162.9h.250V162.9h.250V162.9h.250V162.9h.250V162.9h.250V162.9h.250V162.9h.250V162.9h.250V162.9h.250V162.9h.250V162.9h.250V162.9h.250V162.9h.250V162.9h.250V162.9h.250V162.9h.250V162.9h.250V162.9h.250V162.9h.250V162.9h.250V162.9h.250V162.9h.250V162.9h.250V162.9h.250V162.9h.250V162.9h.250V162.8h.250V162.8h.250V162.8h.250V162.8h.250V162.7h.250V162.7h.250V162.7h.250V162.7h.250V162.6h.250V162.6h.250V162.6h.250V162.6h.250V162.6h.250V162.6h.250V162.5h.250V162.5h.250V162.4h.250V162.4h.250V162.4h.250V162.4h.250V162.4h.250V162.3h.250V162.3h.250V162.3h.250V162.2h.250V162.2h.250V162.2h.250V162.2h.250V162.2h.250V162.1h.250V162.1h.250V162.1h.250V162.0h.250V162.0h.250V162.0h.250V162.0h.250V162.0h.250V162.0h.250V162.0h.250V161.9h.250V161.9h.250V161.8h.250V161.5h.250V161.4h.250V161.4h.250V161.2h.250V161.2h.250V161.1h.250V161.0h.250V160.9h.250V160.7h.250V160.6h.250V160.6h.250V160.4h.250V160.5h.250V160.4h.250V160.3h.250V160.2h.250V160.0h.250V159.8h.250V159.6h.250V159.3h.250V159.2h.250V159.0h.250V158.7h.250V158.5h.250V158.2h.250V157.9h.250V157.6h.250V157.4h.250V157.2h.250V157.1h.250V156.9h.250V156.7h.250V156.4h.250V156.2h.250V155.9h.250V155.7h.250V155.5h.250V155.3h.250V154.7h.250V154.3h.250V153.8h.250V153.5h.250V153.0h.250V152.6h.250V151.8h.250V151.3h.250V150.9h.250V150.4h.250V150.6h.250V150.4h.250V149.9h.250V149.4h.250V148.6h.250V148.3h.250V148.2h.250V147.4h.250V147.5h.250V147.0h.250V147.0h.250V146.3h.250V146.6h.250V145.8h.250V145.5h.250V145.3h.250V143.4h.250V143.3h.250V142.8h.250V142.0h.250V142.0h.250V141.8h.250V141.2h.250V140.7h.250V141.8h.250V141.1h.250V140.8h.250V140.0h.250V140.4h.250V139.9h.250V140.0h.250V139.4h.250V139.2h.250V139.1h.250V139.3h.250V138.7h.250V137.3h.250V137.5h.250V137.6h.250V138.3h.250V139.0h.250V139.6h.250V140.0h.250V140.3h.250V139.7h.250V140.1h.250V140.5h.250V140.9h.250V142.0h.250V142.4h.250V143.3h.250V143.9h.250V145.0h.250V146.2h.250V146.9h.250V147.5h.250V148.3h.250V149.0h.250V149.8h.250V150.4h.250V151.5h.250V152.1h.250V152.9h.250V153.7h.250V154.2h.250V154.8h.250V155.7h.250V156.3h.250V156.7h.250V157.3h.250V157.6h.250V157.9h.250V158.3h.250V158.5h.250V158.8h.250V159.1h.250V159.4h.250V159.6h.250V159.9h.250V160.1h.250V160.4h.250V160.6h.250V160.7h.250V160.8h.250V160.7h.250V160.8h.250V160.9h.250V160.9h.250V161.1h.250V161.1h.250V161.2h.250V161.2h.250V161.3h.250V161.4h.250V161.4h.250V161.5h.250V161.5h.250V161.5h.250V161.6h.250V161.7h.250V161.7h.250V161.8h.250V161.8h.250V161.9h.250V161.9h.250V162.0h.250V162.0h.250V162.1h.250V162.2h.250V162.3h.250V162.3h.250V162.3h.250V162.3h.250V162.3h.250V162.3h.250V162.3h.250V162.4h.250V162.4h.250V162.4h.250V162.4h.250V162.4h.250V162.4h.250V162.5h.250V162.5h.250V162.5h.250V162.5h.250V162.5h.250V162.5h.250V162.5h.250V162.5h.250V162.6h.250V162.6h.250V162.6h.250V162.6h.250V162.6h.250V162.6h.250V162.7h.250V162.7h.250V162.7h.250V162.7h.250V162.7h.250V162.7h.250V162.8h.250V162.8h.250V162.8h.250V162.8h.250V162.8h.250V162.9h.250V162.9h.250V162.9h.250V162.9h.250V162.9h.250V162.9h.250V162.9h.250V162.9h.250V162.9h.250V162.9h.250V162.9h.250V162.9h.250V162.9h.250V162.9h.250V162.9h.250V162.9h.250V162.9h.250V162.9h.250V162.9h.250V162.9h.250V162.9h.250V162.9h.250V162.9h.250V162.9h.250V162.9h.250V162.9h.250V162.9h.250V162.9h.250V162.9h.250V162.9h.250V162.9h.250V162.9h.250V162.9h.250V162.9h.250V162.9h.250V162.9h.250V162.9h.250V162.9h.250V162.9h.250V162.9h.250V162.9h.250V162.9h.250V162.9h.250V162.9h.250V162.9h.250V162.9h.250V162.9h.250V162.9h.250V162.9h.250V162.9h.250V162.9h.250V162.9h.250V162.9h.250V162.9h.250V162.9h.250V162.9h.250V162.9h.250V162.9h.250V162.9h.250V162.9h.250V162.9h.250V162.9h.250V162.9h.250V162.9h.250V162.9h.250V162.9h.250V162.9h.250V162.9h.250V162.9h.250V162.9h.250V162.9h.250V162.9h.250V162.9h.250V162.9h.250V162.9h.250V162.9h.250V162.9h.250V162.9h.250V162.9h.250V162.9h.250V162.9h.250V162.9h.250V162.9h.250V163.20Z" fill="#000"/>
<rect x="188.5" y="131.5" width="101" height="31.69999999999999" fill="none" stroke="#8a8a8a" stroke-width="1"/>
<path d="M188.5,162.90H289.5" stroke="#111" stroke-width="1.4"/>
<text x="181.10" y="176.8" font-family='"Liberation Serif", serif' font-size="11.2" fill="#111" stroke="#111" stroke-width="0.3" textLength="13.4" lengthAdjust="spacingAndGlyphs">10<tspan font-size="5.4" dy="-3.2">0</tspan></text>
<text x="205.40" y="176.8" font-family='"Liberation Serif", serif' font-size="11.2" fill="#111" stroke="#111" stroke-width="0.3" textLength="13.4" lengthAdjust="spacingAndGlyphs">10<tspan font-size="5.4" dy="-3.2">1</tspan></text>
<text x="229.70" y="176.8" font-family='"Liberation Serif", serif' font-size="11.2" fill="#111" stroke="#111" stroke-width="0.3" textLength="13.4" lengthAdjust="spacingAndGlyphs">10<tspan font-size="5.4" dy="-3.2">2</tspan></text>
<text x="254.00" y="176.8" font-family='"Liberation Serif", serif' font-size="11.2" fill="#111" stroke="#111" stroke-width="0.3" textLength="13.4" lengthAdjust="spacingAndGlyphs">10<tspan font-size="5.4" dy="-3.2">3</tspan></text>
<text x="278.30" y="176.8" font-family='"Liberation Serif", serif' font-size="11.2" fill="#111" stroke="#111" stroke-width="0.3" textLength="13.4" lengthAdjust="spacingAndGlyphs">10<tspan font-size="5.4" dy="-3.2">4</tspan></text>
<text x="216.30" y="189.70" font-family='"Liberation Sans", sans-serif' font-size="9.5" font-weight="normal" text-anchor="start" fill="#000" stroke="#000" stroke-width="0.15">CD44</text>
<line x1="353.50" y1="18.0" x2="353.50" y2="50" stroke="#888" stroke-width="1"/>
<path d="M300.50,50.00V50.0h.250V50.0h.250V50.0h.250V50.0h.250V50.0h.250V50.0h.250V50.0h.250V50.0h.250V50.0h.250V50.0h.250V50.0h.250V50.0h.250V50.0h.250V50.0h.250V50.0h.250V50.0h.250V50.0h.250V50.0h.250V50.0h.250V50.0h.250V50.0h.250V50.0h.250V50.0h.250V50.0h.250V50.0h.250V50.0h.250V50.0h.250V50.0h.250V50.0h.250V50.0h.250V50.0h.250V50.0h.250V50.0h.250V50.0h.250V50.0h.250V50.0h.250V50.0h.250V50.0h.250V50.0h.250V50.0h.250V50.0h.250V50.0h.250V50.0h.250V50.0h.250V50.0h.250V50.0h.250V50.0h.250V50.0h.250V50.0h.250V50.0h.250V50.0h.250V50.0h.250V50.0h.250V50.0h.250V50.0h.250V50.0h.250V50.0h.250V50.0h.250V50.0h.250V50.0h.250V50.0h.250V50.0h.250V50.0h.250V50.0h.250V50.0h.250V50.0h.250V50.0h.250V50.0h.250V50.0h.250V50.0h.250V50.0h.250V50.0h.250V50.0h.250V50.0h.250V50.0h.250V50.0h.250V50.0h.250V50.0h.250V50.0h.250V50.0h.250V50.0h.250V50.0h.250V50.0h.250V50.0h.250V50.0h.250V50.0h.250V50.0h.250V50.0h.250V50.0h.250V50.0h.250V50.0h.250V50.0h.250V50.0h.250V50.0h.250V50.0h.250V50.0h.250V50.0h.250V50.0h.250V50.0h.250V50.0h.250V50.0h.250V50.0h.250V50.0h.250V50.0h.250V50.0h.250V50.0h.250V50.0h.250V50.0h.250V50.0h.250V50.0h.250V50.0h.250V50.0h.250V50.0h.250V50.0h.250V50.0h.250V50.0h.250V50.0h.250V50.0h.250V50.0h.250V50.0h.250V50.0h.250V50.0h.250V50.0h.250V50.0h.250V50.0h.250V50.0h.250V50.0h.250V50.0h.250V50.0h.250V50.0h.250V50.0h.250V50.0h.250V50.0h.250V50.0h.250V50.0h.250V50.0h.250V50.0h.250V50.0h.250V50.0h.250V50.0h.250V50.0h.250V50.0h.250V50.0h.250V50.0h.250V50.0h.250V50.0h.250V50.0h.250V50.0h.250V50.0h.250V50.0h.250V50.0h.250V50.0h.250V50.0h.250V50.0h.250V50.0h.250V50.0h.250V50.0h.250V50.0h.250V50.0h.250V50.0h.250V50.0h.250V49.8h.250V49.6h.250V49.4h.250V49.3h.250V49.2h.250V49.1h.250V49.0h.250V49.1h.250V49.1h.250V49.2h.250V48.9h.250V48.8h.250V48.6h.250V48.6h.250V48.2h.250V48.0h.250V48.5h.250V47.9h.250V48.3h.250V47.6h.250V47.7h.250V48.0h.250V47.6h.250V48.0h.250V47.1h.250V47.6h.250V47.4h.250V46.2h.250V46.1h.250V46.5h.250V46.1h.250V45.2h.250V45.8h.250V45.7h.250V45.8h.250V46.0h.250V45.9h.250V46.1h.250V46.5h.250V48.0h.250V46.7h.250V46.5h.250V46.4h.250V44.2h.250V43.5h.250V42.8h.250V43.7h.250V40.0h.250V39.3h.250V41.4h.250V41.8h.250V36.1h.250V35.5h.250V34.9h.250V34.4h.250V41.6h.250V40.4h.250V40.5h.250V40.4h.250V36.3h.250V36.3h.250V37.2h.250V35.8h.250V34.3h.250V36.1h.250V32.0h.250V31.6h.250V34.6h.250V33.4h.250V34.1h.250V35.8h.250V37.0h.250V33.9h.250V35.3h.250V37.0h.250V30.3h.250V36.4h.250V32.0h.250V33.2h.250V26.2h.250V24.3h.250V24.7h.250V26.1h.250V22.2h.250V22.4h.250V22.6h.250V22.8h.250V36.5h.250V35.4h.250V35.7h.250V35.6h.250V35.4h.250V35.2h.250V34.4h.250V35.4h.250V30.9h.250V30.9h.250V31.5h.250V33.4h.250V36.1h.250V31.8h.250V36.4h.250V33.8h.250V41.9h.250V38.5h.250V40.6h.250V40.5h.250V44.7h.250V46.8h.250V43.2h.250V43.8h.250V40.6h.250V41.8h.250V41.9h.250V42.0h.250V43.4h.250V42.3h.250V42.8h.250V44.3h.250V44.6h.250V45.4h.250V44.4h.250V45.2h.250V45.3h.250V46.3h.250V45.7h.250V46.2h.250V47.4h.250V47.4h.250V47.2h.250V47.4h.250V47.1h.250V47.8h.250V48.1h.250V48.1h.250V47.9h.250V48.2h.250V48.4h.250V48.5h.250V48.2h.250V48.3h.250V48.7h.250V48.2h.250V48.8h.250V48.7h.250V48.8h.250V48.8h.250V48.6h.250V48.7h.250V48.8h.250V48.9h.250V49.4h.250V49.4h.250V49.4h.250V49.6h.250V49.4h.250V49.5h.250V49.6h.250V49.8h.250V49.9h.250V50.0h.250V50.0h.250V50.0h.250V50.0h.250V50.0h.250V50.0h.250V50.0h.250V50.0h.250V50.0h.250V50.0h.250V50.0h.250V50.0h.250V50.0h.250V50.0h.250V50.0h.250V50.0h.250V50.0h.250V50.0h.250V50.0h.250V50.0h.250V50.0h.250V50.0h.250V50.0h.250V50.0h.250V50.0h.250V50.0h.250V50.0h.250V50.0h.250V50.0h.250V50.0h.250V50.0h.250V50.0h.250V50.0h.250V50.0h.250V50.0h.250V50.0h.250V50.0h.250V50.0h.250V50.0h.250V50.0h.250V50.0h.250V50.0h.250V50.0h.250V50.0h.250V50.0h.250V50.0h.250V50.0h.250V50.0h.250V50.0h.250V50.0h.250V50.0h.250V50.0h.250V50.0h.250V50.0h.250V50.0h.250V50.0h.250V50.0h.250V50.0h.250V50.0h.250V50.0h.250V50.0h.250V50.0h.250V50.0h.250V50.0h.250V50.0h.250V50.0h.250V50.0h.250V50.0h.250V50.0h.250V50.0h.250V50.0h.250V50.0h.250V50.0h.250V50.0h.250V50.0h.250V50.0h.250V50.0h.250V50.0h.250V50.0h.250V50.0h.250V50.0h.250V50.00Z" fill="#000"/>
<rect x="300.5" y="18.0" width="101" height="32.0" fill="none" stroke="#8a8a8a" stroke-width="1"/>
<path d="M300.5,49.70H401.5" stroke="#111" stroke-width="1.4"/>
<line x1="353.50" y1="56.0" x2="353.50" y2="88" stroke="#888" stroke-width="1"/>
<path d="M300.50,88.00V88.0h.250V88.0h.250V88.0h.250V88.0h.250V88.0h.250V88.0h.250V88.0h.250V88.0h.250V88.0h.250V88.0h.250V88.0h.250V88.0h.250V88.0h.250V88.0h.250V88.0h.250V88.0h.250V88.0h.250V88.0h.250V88.0h.250V88.0h.250V88.0h.250V88.0h.250V88.0h.250V88.0h.250V88.0h.250V88.0h.250V88.0h.250V88.0h.250V88.0h.250V88.0h.250V88.0h.250V88.0h.250V88.0h.250V88.0h.250V88.0h.250V88.0h.250V88.0h.250V88.0h.250V88.0h.250V88.0h.250V88.0h.250V88.0h.250V88.0h.250V88.0h.250V88.0h.250V88.0h.250V88.0h.250V88.0h.250V88.0h.250V88.0h.250V88.0h.250V88.0h.250V88.0h.250V88.0h.250V88.0h.250V88.0h.250V88.0h.250V88.0h.250V88.0h.250V88.0h.250V88.0h.250V88.0h.250V88.0h.250V88.0h.250V88.0h.250V88.0h.250V88.0h.250V88.0h.250V88.0h.250V88.0h.250V88.0h.250V88.0h.250V88.0h.250V88.0h.250V88.0h.250V88.0h.250V88.0h.250V88.0h.250V88.0h.250V88.0h.250V88.0h.250V88.0h.250V88.0h.250V88.0h.250V88.0h.250V88.0h.250V88.0h.250V88.0h.250V88.0h.250V88.0h.250V88.0h.250V88.0h.250V88.0h.250V88.0h.250V88.0h.250V88.0h.250V88.0h.250V88.0h.250V88.0h.250V88.0h.250V88.0h.250V87.9h.250V87.9h.250V87.8h.250V87.8h.250V87.8h.250V87.7h.250V87.7h.250V87.6h.250V87.5h.250V87.4h.250V87.4h.250V87.5h.250V87.4h.250V87.4h.250V87.3h.250V87.2h.250V87.2h.250V87.1h.250V87.1h.250V87.1h.250V86.9h.250V86.9h.250V86.7h.250V86.7h.250V86.6h.250V86.5h.250V86.4h.250V86.3h.250V86.1h.250V86.1h.250V85.9h.250V85.5h.250V85.5h.250V85.3h.250V85.2h.250V85.0h.250V85.0h.250V85.0h.250V84.9h.250V84.8h.250V84.7h.250V84.2h.250V84.1h.250V84.0h.250V84.0h.250V83.7h.250V83.6h.250V82.1h.250V81.9h.250V81.6h.250V81.3h.250V82.0h.250V81.7h.250V81.4h.250V81.6h.250V79.9h.250V79.6h.250V79.4h.250V79.1h.250V79.1h.250V78.7h.250V78.2h.250V77.5h.250V77.4h.250V77.0h.250V76.6h.250V76.2h.250V77.4h.250V76.7h.250V76.5h.250V76.0h.250V77.1h.250V77.0h.250V77.0h.250V76.0h.250V75.4h.250V74.9h.250V74.6h.250V73.9h.250V75.1h.250V73.0h.250V73.7h.250V73.8h.250V72.9h.250V72.2h.250V72.2h.250V72.5h.250V70.0h.250V69.5h.250V69.7h.250V70.6h.250V73.1h.250V72.2h.250V72.1h.250V71.8h.250V71.0h.250V71.2h.250V70.3h.250V71.1h.250V73.3h.250V73.6h.250V73.6h.250V74.3h.250V74.0h.250V74.5h.250V73.6h.250V74.3h.250V74.5h.250V74.2h.250V75.2h.250V75.1h.250V76.9h.250V76.2h.250V76.9h.250V77.6h.250V77.3h.250V77.0h.250V76.8h.250V77.1h.250V78.4h.250V78.7h.250V78.7h.250V79.1h.250V79.3h.250V78.9h.250V79.5h.250V79.5h.250V78.9h.250V79.3h.250V79.5h.250V80.2h.250V79.8h.250V79.9h.250V79.8h.250V80.7h.250V80.6h.250V81.0h.250V80.9h.250V81.5h.250V81.3h.250V81.4h.250V81.5h.250V82.0h.250V81.9h.250V82.6h.250V81.9h.250V82.6h.250V82.7h.250V82.5h.250V83.0h.250V83.0h.250V83.4h.250V83.6h.250V83.7h.250V83.9h.250V83.9h.250V83.8h.250V84.4h.250V84.5h.250V84.9h.250V85.2h.250V85.1h.250V85.1h.250V85.3h.250V85.3h.250V85.4h.250V85.3h.250V85.1h.250V85.3h.250V85.4h.250V85.4h.250V85.8h.250V85.7h.250V85.8h.250V86.0h.250V86.1h.250V86.2h.250V86.1h.250V86.4h.250V86.3h.250V86.4h.250V86.5h.250V86.4h.250V86.6h.250V86.6h.250V86.7h.250V86.7h.250V86.7h.250V86.7h.250V86.9h.250V86.9h.250V87.0h.250V87.0h.250V87.1h.250V87.1h.250V87.2h.250V87.2h.250V87.3h.250V87.3h.250V87.3h.250V87.2h.250V87.4h.250V87.4h.250V87.5h.250V87.5h.250V87.5h.250V87.6h.250V87.6h.250V87.7h.250V87.7h.250V87.7h.250V87.7h.250V87.7h.250V87.8h.250V87.8h.250V87.8h.250V87.9h.250V87.9h.250V87.9h.250V88.0h.250V88.0h.250V88.0h.250V88.0h.250V88.0h.250V88.0h.250V88.0h.250V88.0h.250V88.0h.250V88.0h.250V88.0h.250V88.0h.250V88.0h.250V88.0h.250V88.0h.250V88.0h.250V88.0h.250V88.0h.250V88.0h.250V88.0h.250V88.0h.250V88.0h.250V88.0h.250V88.0h.250V88.0h.250V88.0h.250V88.0h.250V88.0h.250V88.0h.250V88.0h.250V88.0h.250V88.0h.250V88.0h.250V88.0h.250V88.0h.250V88.0h.250V88.0h.250V88.0h.250V88.0h.250V88.0h.250V88.0h.250V88.0h.250V88.0h.250V88.0h.250V88.0h.250V88.0h.250V88.0h.250V88.0h.250V88.0h.250V88.0h.250V88.0h.250V88.0h.250V88.0h.250V88.0h.250V88.0h.250V88.0h.250V88.0h.250V88.0h.250V88.0h.250V88.0h.250V88.0h.250V88.0h.250V88.0h.250V88.0h.250V88.0h.250V88.0h.250V88.0h.250V88.0h.250V88.0h.250V88.0h.250V88.0h.250V88.0h.250V88.0h.250V88.0h.250V88.0h.250V88.0h.250V88.0h.250V88.0h.250V88.0h.250V88.0h.250V88.0h.250V88.0h.250V88.00Z" fill="#000"/>
<rect x="300.5" y="56.0" width="101" height="32.0" fill="none" stroke="#8a8a8a" stroke-width="1"/>
<path d="M300.5,87.70H401.5" stroke="#111" stroke-width="1.4"/>
<line x1="353.50" y1="93.7" x2="353.50" y2="126" stroke="#888" stroke-width="1"/>
<path d="M300.50,126.00V126.0h.250V126.0h.250V126.0h.250V126.0h.250V126.0h.250V126.0h.250V126.0h.250V126.0h.250V126.0h.250V126.0h.250V126.0h.250V126.0h.250V126.0h.250V126.0h.250V126.0h.250V126.0h.250V126.0h.250V126.0h.250V126.0h.250V126.0h.250V126.0h.250V126.0h.250V126.0h.250V126.0h.250V126.0h.250V126.0h.250V126.0h.250V126.0h.250V126.0h.250V126.0h.250V126.0h.250V126.0h.250V126.0h.250V126.0h.250V126.0h.250V126.0h.250V126.0h.250V126.0h.250V126.0h.250V126.0h.250V126.0h.250V126.0h.250V126.0h.250V126.0h.250V126.0h.250V126.0h.250V126.0h.250V126.0h.250V126.0h.250V126.0h.250V126.0h.250V126.0h.250V126.0h.250V126.0h.250V126.0h.250V126.0h.250V126.0h.250V126.0h.250V126.0h.250V126.0h.250V126.0h.250V126.0h.250V126.0h.250V126.0h.250V126.0h.250V126.0h.250V126.0h.250V126.0h.250V126.0h.250V126.0h.250V126.0h.250V126.0h.250V126.0h.250V126.0h.250V126.0h.250V126.0h.250V126.0h.250V126.0h.250V126.0h.250V126.0h.250V126.0h.250V126.0h.250V126.0h.250V126.0h.250V126.0h.250V126.0h.250V126.0h.250V126.0h.250V126.0h.250V126.0h.250V126.0h.250V126.0h.250V126.0h.250V126.0h.250V126.0h.250V126.0h.250V126.0h.250V126.0h.250V126.0h.250V126.0h.250V126.0h.250V126.0h.250V126.0h.250V126.0h.250V126.0h.250V126.0h.250V126.0h.250V126.0h.250V126.0h.250V126.0h.250V126.0h.250V126.0h.250V126.0h.250V126.0h.250V126.0h.250V126.0h.250V126.0h.250V126.0h.250V126.0h.250V126.0h.250V126.0h.250V126.0h.250V126.0h.250V126.0h.250V126.0h.250V126.0h.250V126.0h.250V126.0h.250V126.0h.250V126.0h.250V126.0h.250V126.0h.250V126.0h.250V125.7h.250V125.1h.250V125.0h.250V124.3h.250V124.7h.250V124.7h.250V124.4h.250V124.7h.250V124.4h.250V124.4h.250V124.2h.250V125.2h.250V124.9h.250V124.8h.250V124.9h.250V124.2h.250V124.3h.250V124.3h.250V124.4h.250V125.1h.250V124.7h.250V124.9h.250V125.0h.250V125.0h.250V125.0h.250V124.7h.250V124.7h.250V124.1h.250V124.6h.250V124.3h.250V124.2h.250V123.6h.250V122.9h.250V123.5h.250V123.1h.250V122.8h.250V122.8h.250V123.1h.250V123.0h.250V122.6h.250V121.7h.250V121.7h.250V121.6h.250V121.1h.250V121.3h.250V121.6h.250V121.4h.250V123.9h.250V123.9h.250V123.9h.250V123.8h.250V120.9h.250V121.2h.250V119.2h.250V119.5h.250V120.1h.250V120.6h.250V119.4h.250V119.4h.250V120.3h.250V121.0h.250V119.4h.250V119.3h.250V118.8h.250V117.3h.250V118.7h.250V119.0h.250V113.0h.250V112.6h.250V112.2h.250V111.8h.250V112.5h.250V112.4h.250V111.9h.250V109.8h.250V109.8h.250V109.4h.250V109.0h.250V108.6h.250V114.2h.250V118.9h.250V119.8h.250V117.3h.250V110.5h.250V110.5h.250V110.5h.250V113.0h.250V110.4h.250V108.8h.250V109.8h.250V108.3h.250V109.9h.250V111.0h.250V112.4h.250V112.7h.250V110.2h.250V110.3h.250V112.0h.250V113.4h.250V106.3h.250V106.3h.250V105.6h.250V110.8h.250V108.6h.250V110.2h.250V108.6h.250V110.9h.250V116.3h.250V113.6h.250V112.2h.250V118.2h.250V112.0h.250V109.9h.250V110.1h.250V109.3h.250V114.7h.250V113.6h.250V115.5h.250V111.9h.250V114.0h.250V112.9h.250V113.7h.250V116.3h.250V116.8h.250V116.2h.250V117.7h.250V119.2h.250V119.8h.250V121.7h.250V119.8h.250V122.1h.250V116.7h.250V118.4h.250V118.9h.250V120.3h.250V125.9h.250V124.9h.250V123.8h.250V123.0h.250V120.4h.250V122.5h.250V122.2h.250V121.6h.250V121.6h.250V121.3h.250V121.6h.250V122.1h.250V123.1h.250V122.9h.250V123.9h.250V123.0h.250V122.2h.250V123.0h.250V123.5h.250V123.0h.250V122.4h.250V122.5h.250V122.4h.250V123.0h.250V124.0h.250V124.4h.250V124.4h.250V124.3h.250V124.0h.250V124.6h.250V124.2h.250V124.5h.250V124.1h.250V124.6h.250V124.2h.250V124.6h.250V125.1h.250V125.3h.250V125.3h.250V125.3h.250V125.1h.250V125.5h.250V125.4h.250V125.4h.250V124.9h.250V125.1h.250V124.9h.250V125.1h.250V124.7h.250V124.7h.250V124.9h.250V124.9h.250V125.4h.250V125.2h.250V125.5h.250V125.6h.250V125.9h.250V126.0h.250V126.0h.250V126.0h.250V126.0h.250V126.0h.250V126.0h.250V126.0h.250V126.0h.250V126.0h.250V126.0h.250V126.0h.250V126.0h.250V126.0h.250V126.0h.250V126.0h.250V126.0h.250V126.0h.250V126.0h.250V126.0h.250V126.0h.250V126.0h.250V126.0h.250V126.0h.250V126.0h.250V126.0h.250V126.0h.250V126.0h.250V126.0h.250V126.0h.250V126.0h.250V126.0h.250V126.0h.250V126.0h.250V126.0h.250V126.0h.250V126.0h.250V126.0h.250V126.0h.250V126.0h.250V126.0h.250V126.0h.250V126.0h.250V126.0h.250V126.0h.250V126.0h.250V126.0h.250V126.0h.250V126.0h.250V126.0h.250V126.0h.250V126.0h.250V126.0h.250V126.0h.250V126.0h.250V126.0h.250V126.0h.250V126.0h.250V126.0h.250V126.0h.250V126.0h.250V126.0h.250V126.0h.250V126.0h.250V126.0h.250V126.0h.250V126.0h.250V126.0h.250V126.0h.250V126.0h.250V126.0h.250V126.0h.250V126.0h.250V126.0h.250V126.0h.250V126.0h.250V126.0h.250V126.0h.250V126.00Z" fill="#000"/>
<rect x="300.5" y="93.7" width="101" height="32.3" fill="none" stroke="#8a8a8a" stroke-width="1"/>
<path d="M300.5,125.70H401.5" stroke="#111" stroke-width="1.4"/>
<line x1="353.50" y1="131.5" x2="353.50" y2="163.2" stroke="#888" stroke-width="1"/>
<path d="M300.50,163.20V163.2h.250V163.2h.250V163.2h.250V163.2h.250V163.2h.250V163.2h.250V163.2h.250V163.2h.250V163.2h.250V163.2h.250V163.2h.250V163.2h.250V163.2h.250V163.2h.250V163.2h.250V163.2h.250V163.2h.250V163.2h.250V163.2h.250V163.2h.250V163.2h.250V163.2h.250V163.2h.250V163.2h.250V163.2h.250V163.2h.250V163.2h.250V163.2h.250V163.2h.250V163.2h.250V163.2h.250V163.2h.250V163.2h.250V163.2h.250V163.2h.250V163.2h.250V163.2h.250V163.2h.250V163.2h.250V163.2h.250V163.2h.250V163.2h.250V163.2h.250V163.2h.250V163.2h.250V163.2h.250V163.2h.250V163.2h.250V163.2h.250V163.2h.250V163.2h.250V163.2h.250V163.2h.250V163.2h.250V163.2h.250V163.2h.250V163.2h.250V163.2h.250V163.2h.250V163.2h.250V163.2h.250V163.2h.250V163.2h.250V163.2h.250V163.2h.250V163.2h.250V163.2h.250V163.2h.250V163.2h.250V163.2h.250V163.2h.250V163.2h.250V163.2h.250V163.2h.250V163.2h.250V163.2h.250V163.2h.250V163.2h.250V163.2h.250V163.2h.250V163.2h.250V163.2h.250V163.2h.250V163.2h.250V163.1h.250V163.1h.250V163.1h.250V163.1h.250V163.1h.250V163.1h.250V163.0h.250V163.0h.250V163.0h.250V163.0h.250V163.0h.250V163.0h.250V162.9h.250V162.9h.250V162.9h.250V162.9h.250V162.9h.250V162.9h.250V162.8h.250V162.8h.250V162.8h.250V162.8h.250V162.8h.250V162.8h.250V162.7h.250V162.7h.250V162.7h.250V162.7h.250V162.7h.250V162.7h.250V162.7h.250V162.7h.250V162.6h.250V162.6h.250V162.6h.250V162.6h.250V162.6h.250V162.5h.250V162.5h.250V162.4h.250V162.4h.250V162.3h.250V162.3h.250V162.2h.250V162.2h.250V162.1h.250V162.1h.250V162.0h.250V162.0h.250V162.0h.250V161.9h.250V161.8h.250V161.8h.250V161.8h.250V161.7h.250V161.7h.250V161.6h.250V161.3h.250V161.2h.250V160.9h.250V160.7h.250V160.5h.250V160.3h.250V160.0h.250V159.6h.250V159.4h.250V159.2h.250V158.9h.250V158.7h.250V158.5h.250V158.2h.250V157.9h.250V157.8h.250V157.7h.250V157.4h.250V157.2h.250V156.8h.250V156.4h.250V155.9h.250V155.5h.250V155.4h.250V155.1h.250V154.6h.250V154.2h.250V153.9h.250V153.7h.250V153.2h.250V152.7h.250V152.0h.250V151.9h.250V151.5h.250V150.7h.250V150.8h.250V150.6h.250V150.0h.250V149.7h.250V148.6h.250V148.4h.250V148.3h.250V147.6h.250V147.1h.250V147.1h.250V146.8h.250V146.8h.250V146.9h.250V146.8h.250V146.6h.250V146.6h.250V146.4h.250V146.5h.250V146.7h.250V146.6h.250V147.4h.250V147.4h.250V147.6h.250V147.8h.250V148.4h.250V148.3h.250V148.9h.250V149.3h.250V149.6h.250V150.1h.250V150.6h.250V151.0h.250V151.0h.250V151.5h.250V152.0h.250V152.5h.250V153.4h.250V154.0h.250V154.2h.250V154.7h.250V155.0h.250V155.3h.250V155.8h.250V156.2h.250V156.7h.250V157.1h.250V157.5h.250V158.0h.250V158.1h.250V158.3h.250V158.6h.250V158.7h.250V159.1h.250V159.1h.250V159.3h.250V159.5h.250V159.5h.250V159.7h.250V159.9h.250V160.0h.250V160.3h.250V160.4h.250V160.6h.250V160.7h.250V160.8h.250V161.0h.250V161.1h.250V161.1h.250V161.2h.250V161.2h.250V161.3h.250V161.4h.250V161.5h.250V161.5h.250V161.6h.250V161.7h.250V161.7h.250V161.7h.250V161.8h.250V161.9h.250V161.9h.250V162.0h.250V162.0h.250V162.1h.250V162.2h.250V162.3h.250V162.3h.250V162.3h.250V162.4h.250V162.4h.250V162.4h.250V162.5h.250V162.4h.250V162.5h.250V162.5h.250V162.6h.250V162.6h.250V162.6h.250V162.7h.250V162.7h.250V162.7h.250V162.8h.250V162.8h.250V162.8h.250V162.8h.250V162.9h.250V162.9h.250V162.9h.250V162.9h.250V162.9h.250V162.9h.250V162.9h.250V162.9h.250V162.9h.250V162.9h.250V162.9h.250V162.9h.250V162.9h.250V162.9h.250V162.9h.250V162.9h.250V162.9h.250V162.9h.250V162.9h.250V162.9h.250V162.9h.250V162.9h.250V162.9h.250V162.9h.250V162.9h.250V162.9h.250V162.9h.250V163.0h.250V163.0h.250V163.0h.250V163.0h.250V163.0h.250V163.0h.250V163.0h.250V163.0h.250V163.0h.250V163.0h.250V163.0h.250V163.0h.250V163.0h.250V163.0h.250V163.0h.250V163.0h.250V163.0h.250V163.0h.250V163.0h.250V163.0h.250V163.0h.250V163.0h.250V163.0h.250V163.0h.250V163.0h.250V163.0h.250V163.0h.250V163.0h.250V163.0h.250V163.0h.250V163.0h.250V163.0h.250V163.0h.250V163.0h.250V163.0h.250V163.0h.250V163.0h.250V163.1h.250V163.1h.250V163.1h.250V163.1h.250V163.1h.250V163.1h.250V163.1h.250V163.1h.250V163.1h.250V163.1h.250V163.1h.250V163.1h.250V163.1h.250V163.1h.250V163.1h.250V163.1h.250V163.1h.250V163.1h.250V163.1h.250V163.1h.250V163.1h.250V163.1h.250V163.1h.250V163.1h.250V163.1h.250V163.1h.250V163.1h.250V163.1h.250V163.1h.250V163.1h.250V163.1h.250V163.1h.250V163.1h.250V163.1h.250V163.1h.250V163.1h.250V163.1h.250V163.2h.250V163.2h.250V163.2h.250V163.2h.250V163.2h.250V163.2h.250V163.2h.250V163.2h.250V163.2h.250V163.2h.250V163.2h.250V163.2h.250V163.2h.250V163.2h.250V163.2h.250V163.2h.250V163.2h.250V163.2h.250V163.2h.250V163.2h.250V163.20Z" fill="#000"/>
<rect x="300.5" y="131.5" width="101" height="31.69999999999999" fill="none" stroke="#8a8a8a" stroke-width="1"/>
<path d="M300.5,162.90H401.5" stroke="#111" stroke-width="1.4"/>
<text x="293.10" y="176.8" font-family='"Liberation Serif", serif' font-size="11.2" fill="#111" stroke="#111" stroke-width="0.3" textLength="13.4" lengthAdjust="spacingAndGlyphs">10<tspan font-size="5.4" dy="-3.2">0</tspan></text>
<text x="317.40" y="176.8" font-family='"Liberation Serif", serif' font-size="11.2" fill="#111" stroke="#111" stroke-width="0.3" textLength="13.4" lengthAdjust="spacingAndGlyphs">10<tspan font-size="5.4" dy="-3.2">1</tspan></text>
<text x="341.70" y="176.8" font-family='"Liberation Serif", serif' font-size="11.2" fill="#111" stroke="#111" stroke-width="0.3" textLength="13.4" lengthAdjust="spacingAndGlyphs">10<tspan font-size="5.4" dy="-3.2">2</tspan></text>
<text x="366.00" y="176.8" font-family='"Liberation Serif", serif' font-size="11.2" fill="#111" stroke="#111" stroke-width="0.3" textLength="13.4" lengthAdjust="spacingAndGlyphs">10<tspan font-size="5.4" dy="-3.2">3</tspan></text>
<text x="390.30" y="176.8" font-family='"Liberation Serif", serif' font-size="11.2" fill="#111" stroke="#111" stroke-width="0.3" textLength="13.4" lengthAdjust="spacingAndGlyphs">10<tspan font-size="5.4" dy="-3.2">4</tspan></text>
<text x="328.30" y="189.70" font-family='"Liberation Sans", sans-serif' font-size="9.5" font-weight="normal" text-anchor="start" fill="#000" stroke="#000" stroke-width="0.15">CD11a</text>
<line x1="447.50" y1="18.0" x2="447.50" y2="50" stroke="#888" stroke-width="1"/>
<path d="M412.50,50.00V49.0h.250V48.9h.250V49.1h.250V48.8h.250V48.4h.250V48.7h.250V48.9h.250V48.7h.250V48.2h.250V48.3h.250V48.1h.250V48.6h.250V48.0h.250V48.2h.250V48.1h.250V48.3h.250V49.2h.250V48.8h.250V48.9h.250V48.9h.250V48.4h.250V48.9h.250V48.5h.250V48.4h.250V48.4h.250V48.3h.250V48.3h.250V48.2h.250V48.4h.250V48.3h.250V48.3h.250V48.5h.250V48.2h.250V48.7h.250V48.5h.250V48.3h.250V48.4h.250V48.4h.250V48.1h.250V48.0h.250V48.5h.250V48.8h.250V48.8h.250V48.8h.250V48.6h.250V48.1h.250V48.5h.250V48.4h.250V48.7h.250V48.4h.250V48.4h.250V48.6h.250V48.1h.250V47.9h.250V48.0h.250V47.9h.250V47.9h.250V47.9h.250V47.8h.250V48.0h.250V48.3h.250V47.6h.250V47.7h.250V48.2h.250V47.3h.250V47.3h.250V47.0h.250V47.3h.250V46.0h.250V46.0h.250V46.2h.250V46.1h.250V46.1h.250V45.6h.250V46.2h.250V45.7h.250V46.0h.250V45.9h.250V45.6h.250V46.1h.250V46.8h.250V46.6h.250V46.1h.250V46.4h.250V45.4h.250V44.8h.250V45.1h.250V44.6h.250V45.6h.250V45.3h.250V46.1h.250V44.4h.250V40.7h.250V41.5h.250V40.6h.250V39.5h.250V43.7h.250V43.9h.250V43.1h.250V42.4h.250V41.9h.250V41.3h.250V42.7h.250V41.7h.250V45.4h.250V44.1h.250V42.0h.250V42.7h.250V43.9h.250V44.4h.250V45.9h.250V43.8h.250V41.7h.250V40.9h.250V40.3h.250V42.8h.250V40.3h.250V40.9h.250V37.6h.250V42.1h.250V39.5h.250V40.7h.250V40.6h.250V38.3h.250V40.1h.250V39.3h.250V39.3h.250V39.3h.250V37.7h.250V41.4h.250V38.5h.250V37.8h.250V36.5h.250V38.6h.250V38.5h.250V35.6h.250V34.9h.250V40.1h.250V37.8h.250V34.8h.250V35.4h.250V30.5h.250V35.3h.250V34.2h.250V36.6h.250V34.7h.250V37.1h.250V34.5h.250V31.4h.250V28.8h.250V30.0h.250V28.9h.250V40.5h.250V41.2h.250V40.3h.250V39.2h.250V32.3h.250V32.0h.250V31.2h.250V32.9h.250V29.8h.250V29.8h.250V32.2h.250V26.8h.250V34.3h.250V34.1h.250V33.0h.250V34.7h.250V41.1h.250V35.3h.250V34.6h.250V38.1h.250V38.8h.250V40.4h.250V39.0h.250V38.6h.250V35.8h.250V40.1h.250V39.0h.250V38.4h.250V28.0h.250V31.0h.250V30.7h.250V30.1h.250V38.7h.250V41.4h.250V39.3h.250V36.7h.250V41.4h.250V42.5h.250V42.0h.250V43.5h.250V33.0h.250V33.3h.250V36.4h.250V32.8h.250V34.2h.250V34.1h.250V34.2h.250V32.9h.250V39.5h.250V38.5h.250V38.2h.250V40.0h.250V40.5h.250V37.3h.250V40.1h.250V39.3h.250V39.9h.250V36.4h.250V37.3h.250V37.5h.250V31.6h.250V31.8h.250V32.1h.250V32.3h.250V36.9h.250V38.3h.250V40.8h.250V39.8h.250V39.3h.250V39.1h.250V40.9h.250V42.3h.250V44.6h.250V44.3h.250V43.5h.250V44.5h.250V40.6h.250V40.9h.250V42.7h.250V41.3h.250V44.3h.250V45.2h.250V43.1h.250V44.3h.250V43.9h.250V44.5h.250V45.2h.250V45.2h.250V46.7h.250V45.8h.250V46.1h.250V45.3h.250V45.0h.250V43.9h.250V44.4h.250V45.1h.250V47.3h.250V47.3h.250V47.7h.250V47.5h.250V47.8h.250V48.2h.250V47.7h.250V48.0h.250V47.5h.250V47.4h.250V48.1h.250V47.8h.250V47.7h.250V48.1h.250V48.2h.250V48.1h.250V48.6h.250V48.3h.250V48.2h.250V48.2h.250V49.3h.250V49.3h.250V49.2h.250V49.3h.250V48.2h.250V48.3h.250V48.4h.250V48.4h.250V48.8h.250V48.7h.250V48.9h.250V48.7h.250V48.8h.250V48.8h.250V48.7h.250V49.0h.250V49.3h.250V49.2h.250V49.4h.250V49.2h.250V49.0h.250V48.8h.250V48.9h.250V49.1h.250V49.2h.250V49.4h.250V49.1h.250V49.3h.250V49.0h.250V49.1h.250V49.1h.250V49.0h.250V48.7h.250V48.8h.250V48.8h.250V48.8h.250V49.3h.250V49.2h.250V49.3h.250V49.2h.250V49.3h.250V49.2h.250V49.2h.250V49.2h.250V49.0h.250V49.1h.250V49.2h.250V49.1h.250V49.4h.250V49.5h.250V49.5h.250V49.4h.250V49.4h.250V49.2h.250V49.3h.250V49.3h.250V49.5h.250V49.5h.250V49.4h.250V49.6h.250V49.6h.250V49.5h.250V49.5h.250V49.4h.250V49.5h.250V49.6h.250V49.5h.250V49.4h.250V49.6h.250V49.5h.250V49.7h.250V49.6h.250V49.4h.250V49.5h.250V49.5h.250V49.4h.250V49.1h.250V49.1h.250V49.2h.250V49.2h.250V49.4h.250V49.5h.250V49.4h.250V49.4h.250V49.4h.250V49.4h.250V49.4h.250V49.4h.250V49.6h.250V49.6h.250V49.7h.250V49.6h.250V49.3h.250V49.4h.250V49.4h.250V49.4h.250V49.6h.250V49.5h.250V49.6h.250V49.5h.250V49.3h.250V49.3h.250V49.3h.250V49.3h.250V49.5h.250V49.4h.250V49.4h.250V49.4h.250V49.4h.250V49.3h.250V49.3h.250V49.4h.250V49.6h.250V49.5h.250V49.5h.250V49.6h.250V49.8h.250V49.8h.250V49.7h.250V49.8h.250V49.6h.250V49.7h.250V49.6h.250V49.6h.250V49.6h.250V49.6h.250V49.6h.250V49.6h.250V49.7h.250V49.7h.250V49.7h.250V49.7h.250V49.7h.250V49.7h.250V50.00Z" fill="#000"/>
<rect x="412.5" y="18.0" width="101" height="32.0" fill="none" stroke="#8a8a8a" stroke-width="1"/>
<path d="M412.5,49.70H513.5" stroke="#111" stroke-width="1.4"/>
<line x1="447.50" y1="56.0" x2="447.50" y2="88" stroke="#888" stroke-width="1"/>
<path d="M412.50,88.00V87.0h.250V87.1h.250V87.1h.250V87.1h.250V87.1h.250V87.1h.250V87.1h.250V87.1h.250V87.1h.250V87.0h.250V87.0h.250V87.0h.250V87.1h.250V87.1h.250V87.1h.250V87.1h.250V87.0h.250V87.1h.250V87.0h.250V87.0h.250V86.9h.250V86.9h.250V86.9h.250V86.7h.250V86.6h.250V86.5h.250V86.4h.250V86.5h.250V86.4h.250V86.3h.250V86.3h.250V86.3h.250V86.3h.250V86.5h.250V86.4h.250V86.4h.250V86.2h.250V86.1h.250V86.2h.250V86.0h.250V85.7h.250V85.5h.250V85.6h.250V85.3h.250V84.8h.250V84.8h.250V84.5h.250V84.5h.250V84.8h.250V84.2h.250V84.8h.250V84.3h.250V83.5h.250V83.3h.250V83.2h.250V83.0h.250V84.4h.250V84.1h.250V83.6h.250V83.7h.250V83.4h.250V83.5h.250V83.0h.250V83.2h.250V80.8h.250V81.4h.250V80.6h.250V80.3h.250V81.0h.250V80.5h.250V80.4h.250V80.2h.250V80.3h.250V79.6h.250V79.8h.250V78.8h.250V77.4h.250V76.2h.250V75.6h.250V76.0h.250V77.0h.250V76.8h.250V76.6h.250V76.4h.250V76.0h.250V75.3h.250V74.8h.250V75.2h.250V72.5h.250V71.7h.250V72.6h.250V72.6h.250V72.3h.250V71.0h.250V71.2h.250V69.7h.250V72.0h.250V71.4h.250V70.5h.250V70.4h.250V69.8h.250V69.5h.250V69.0h.250V69.4h.250V70.1h.250V69.6h.250V70.0h.250V70.1h.250V67.6h.250V67.7h.250V67.5h.250V66.4h.250V69.4h.250V70.3h.250V69.9h.250V69.7h.250V70.4h.250V71.1h.250V71.9h.250V70.1h.250V69.1h.250V70.7h.250V69.6h.250V68.8h.250V69.7h.250V69.9h.250V70.2h.250V70.0h.250V71.7h.250V71.9h.250V71.4h.250V71.9h.250V73.2h.250V72.7h.250V71.3h.250V72.8h.250V71.9h.250V71.4h.250V70.7h.250V70.5h.250V72.1h.250V72.0h.250V73.1h.250V73.1h.250V70.9h.250V74.1h.250V72.7h.250V71.9h.250V75.4h.250V75.0h.250V75.6h.250V76.6h.250V75.8h.250V75.3h.250V76.3h.250V76.0h.250V77.1h.250V77.6h.250V77.9h.250V77.7h.250V76.4h.250V76.8h.250V77.0h.250V77.3h.250V79.3h.250V80.2h.250V80.0h.250V80.7h.250V80.5h.250V81.2h.250V81.0h.250V81.0h.250V81.1h.250V81.1h.250V81.9h.250V82.1h.250V81.9h.250V82.2h.250V82.4h.250V82.8h.250V82.2h.250V83.0h.250V83.0h.250V83.3h.250V83.4h.250V83.5h.250V84.0h.250V83.9h.250V84.3h.250V84.4h.250V84.6h.250V84.4h.250V84.5h.250V84.8h.250V84.8h.250V84.8h.250V84.9h.250V85.2h.250V85.4h.250V85.6h.250V85.3h.250V85.4h.250V85.4h.250V85.5h.250V86.2h.250V85.9h.250V86.0h.250V86.4h.250V86.3h.250V86.3h.250V86.3h.250V86.3h.250V86.2h.250V86.3h.250V86.5h.250V86.4h.250V86.4h.250V86.5h.250V86.6h.250V86.6h.250V86.8h.250V86.7h.250V86.7h.250V86.9h.250V86.9h.250V87.0h.250V87.1h.250V87.0h.250V87.0h.250V87.1h.250V87.1h.250V87.0h.250V87.0h.250V87.0h.250V87.0h.250V87.1h.250V87.2h.250V87.3h.250V87.3h.250V87.3h.250V87.3h.250V87.3h.250V87.3h.250V87.4h.250V87.4h.250V87.4h.250V87.4h.250V87.4h.250V87.5h.250V87.5h.250V87.5h.250V87.5h.250V87.5h.250V87.5h.250V87.4h.250V87.5h.250V87.4h.250V87.4h.250V87.5h.250V87.5h.250V87.5h.250V87.5h.250V87.5h.250V87.5h.250V87.5h.250V87.5h.250V87.5h.250V87.5h.250V87.6h.250V87.5h.250V87.6h.250V87.6h.250V87.6h.250V87.6h.250V87.6h.250V87.6h.250V87.6h.250V87.6h.250V87.6h.250V87.7h.250V87.7h.250V87.7h.250V87.7h.250V87.7h.250V87.7h.250V87.7h.250V87.7h.250V87.7h.250V87.7h.250V87.7h.250V87.7h.250V87.7h.250V87.8h.250V87.7h.250V87.7h.250V87.7h.250V87.7h.250V87.7h.250V87.7h.250V87.7h.250V87.7h.250V87.7h.250V87.7h.250V87.7h.250V87.7h.250V87.7h.250V87.7h.250V87.7h.250V87.7h.250V87.7h.250V87.7h.250V87.7h.250V87.7h.250V87.7h.250V87.7h.250V87.7h.250V87.7h.250V87.7h.250V87.7h.250V87.7h.250V87.7h.250V87.7h.250V87.7h.250V87.7h.250V87.7h.250V87.7h.250V87.7h.250V87.7h.250V87.7h.250V87.7h.250V87.7h.250V87.7h.250V87.7h.250V87.7h.250V87.7h.250V87.7h.250V87.7h.250V87.7h.250V87.7h.250V87.7h.250V87.7h.250V87.7h.250V87.7h.250V87.7h.250V87.7h.250V87.7h.250V87.7h.250V87.7h.250V87.7h.250V87.7h.250V87.7h.250V87.7h.250V87.7h.250V87.7h.250V87.7h.250V87.7h.250V87.6h.250V87.6h.250V87.6h.250V87.6h.250V87.7h.250V87.7h.250V87.7h.250V87.7h.250V87.6h.250V87.7h.250V87.6h.250V87.6h.250V87.7h.250V87.7h.250V87.7h.250V87.7h.250V87.7h.250V87.7h.250V87.7h.250V87.7h.250V87.7h.250V87.7h.250V87.7h.250V87.7h.250V87.7h.250V87.7h.250V87.7h.250V87.7h.250V87.7h.250V87.7h.250V87.7h.250V87.8h.250V87.7h.250V87.7h.250V87.7h.250V87.7h.250V87.7h.250V87.7h.250V87.7h.250V87.7h.250V87.7h.250V87.7h.250V87.7h.250V87.7h.250V87.7h.250V87.7h.250V88.00Z" fill="#000"/>
<rect x="412.5" y="56.0" width="101" height="32.0" fill="none" stroke="#8a8a8a" stroke-width="1"/>
<path d="M412.5,87.70H513.5" stroke="#111" stroke-width="1.4"/>
<line x1="447.50" y1="93.7" x2="447.50" y2="126" stroke="#888" stroke-width="1"/>
<path d="M412.50,126.00V125.2h.250V125.1h.250V125.3h.250V125.0h.250V125.1h.250V125.5h.250V125.5h.250V125.3h.250V124.6h.250V124.9h.250V125.0h.250V124.6h.250V125.5h.250V125.5h.250V125.3h.250V125.5h.250V125.0h.250V124.7h.250V124.9h.250V124.7h.250V125.1h.250V125.4h.250V125.4h.250V125.5h.250V124.7h.250V124.8h.250V124.7h.250V124.6h.250V124.7h.250V124.9h.250V124.5h.250V124.8h.250V124.9h.250V124.9h.250V124.8h.250V125.0h.250V124.5h.250V124.1h.250V124.6h.250V124.2h.250V124.5h.250V124.6h.250V124.6h.250V124.8h.250V125.1h.250V125.4h.250V125.2h.250V124.8h.250V124.4h.250V124.4h.250V124.8h.250V124.6h.250V125.0h.250V124.4h.250V124.4h.250V124.5h.250V125.4h.250V125.8h.250V125.5h.250V126.0h.250V123.7h.250V124.2h.250V124.0h.250V123.3h.250V123.9h.250V123.7h.250V123.3h.250V122.8h.250V123.6h.250V123.7h.250V123.4h.250V122.7h.250V122.9h.250V123.1h.250V123.6h.250V123.2h.250V121.4h.250V121.6h.250V121.1h.250V120.6h.250V123.5h.250V123.2h.250V124.0h.250V123.7h.250V118.8h.250V118.6h.250V118.4h.250V118.1h.250V119.4h.250V118.9h.250V117.3h.250V119.1h.250V121.6h.250V121.8h.250V121.4h.250V121.1h.250V119.9h.250V119.1h.250V119.7h.250V116.8h.250V120.1h.250V117.4h.250V118.2h.250V118.3h.250V122.7h.250V120.9h.250V122.8h.250V121.1h.250V119.7h.250V119.2h.250V118.2h.250V119.2h.250V117.8h.250V114.9h.250V116.2h.250V117.3h.250V119.1h.250V117.6h.250V119.5h.250V119.6h.250V113.3h.250V117.7h.250V113.6h.250V112.2h.250V115.0h.250V115.0h.250V114.1h.250V117.7h.250V117.0h.250V114.0h.250V113.6h.250V110.2h.250V113.9h.250V112.4h.250V109.2h.250V111.9h.250V113.3h.250V113.8h.250V114.8h.250V110.8h.250V115.8h.250V111.5h.250V116.9h.250V114.6h.250V113.7h.250V109.9h.250V112.2h.250V113.7h.250V111.7h.250V114.1h.250V113.8h.250V113.4h.250V115.0h.250V116.2h.250V114.6h.250V115.7h.250V107.0h.250V110.8h.250V111.7h.250V111.6h.250V111.2h.250V111.5h.250V110.8h.250V113.5h.250V115.1h.250V114.2h.250V115.0h.250V115.3h.250V118.5h.250V115.7h.250V118.2h.250V120.3h.250V112.6h.250V115.5h.250V118.7h.250V115.9h.250V119.0h.250V116.3h.250V117.5h.250V116.5h.250V115.7h.250V116.9h.250V117.0h.250V116.5h.250V119.0h.250V120.2h.250V119.8h.250V120.3h.250V119.4h.250V119.0h.250V119.1h.250V118.4h.250V122.5h.250V120.9h.250V122.1h.250V121.5h.250V116.9h.250V117.1h.250V117.4h.250V117.7h.250V119.1h.250V119.2h.250V118.5h.250V119.3h.250V122.5h.250V121.9h.250V122.3h.250V121.5h.250V120.9h.250V120.1h.250V121.6h.250V122.0h.250V122.0h.250V122.7h.250V121.4h.250V122.8h.250V124.9h.250V124.5h.250V123.3h.250V124.9h.250V122.2h.250V122.9h.250V123.0h.250V122.0h.250V120.3h.250V120.4h.250V121.3h.250V120.2h.250V123.0h.250V123.0h.250V123.3h.250V122.8h.250V122.9h.250V122.6h.250V122.3h.250V122.5h.250V121.8h.250V121.9h.250V122.2h.250V122.2h.250V122.9h.250V123.0h.250V123.7h.250V122.5h.250V122.4h.250V122.7h.250V122.7h.250V122.8h.250V123.4h.250V123.6h.250V123.7h.250V123.6h.250V125.4h.250V125.6h.250V125.3h.250V125.7h.250V123.0h.250V123.1h.250V123.1h.250V123.2h.250V124.1h.250V124.7h.250V124.4h.250V124.3h.250V123.4h.250V123.5h.250V123.5h.250V123.5h.250V124.0h.250V124.7h.250V124.5h.250V124.6h.250V124.5h.250V124.6h.250V124.9h.250V124.6h.250V123.8h.250V123.9h.250V123.9h.250V123.8h.250V123.9h.250V123.9h.250V123.9h.250V123.9h.250V124.4h.250V124.8h.250V124.3h.250V124.5h.250V125.4h.250V125.1h.250V125.3h.250V125.3h.250V124.9h.250V124.6h.250V124.5h.250V124.7h.250V124.7h.250V125.0h.250V124.9h.250V125.0h.250V125.3h.250V125.2h.250V125.5h.250V125.6h.250V124.9h.250V125.1h.250V125.1h.250V125.3h.250V125.4h.250V125.3h.250V125.5h.250V125.5h.250V124.8h.250V124.9h.250V124.9h.250V125.0h.250V125.4h.250V125.5h.250V125.5h.250V125.2h.250V125.4h.250V125.6h.250V125.5h.250V125.5h.250V125.5h.250V125.5h.250V125.3h.250V125.5h.250V125.2h.250V125.3h.250V125.3h.250V125.3h.250V125.5h.250V125.5h.250V125.5h.250V125.5h.250V125.4h.250V125.5h.250V125.4h.250V125.5h.250V125.6h.250V125.6h.250V125.8h.250V125.7h.250V125.6h.250V125.5h.250V125.5h.250V125.5h.250V125.4h.250V125.5h.250V125.6h.250V125.5h.250V125.6h.250V125.6h.250V125.5h.250V125.6h.250V125.7h.250V125.7h.250V125.7h.250V125.6h.250V125.8h.250V125.8h.250V125.8h.250V125.8h.250V125.8h.250V125.8h.250V125.9h.250V125.9h.250V125.7h.250V125.7h.250V125.8h.250V125.7h.250V125.8h.250V125.7h.250V125.8h.250V125.7h.250V125.7h.250V125.8h.250V125.7h.250V125.7h.250V125.8h.250V125.7h.250V125.8h.250V125.8h.250V125.7h.250V125.8h.250V125.7h.250V125.7h.250V125.6h.250V125.6h.250V125.7h.250V125.7h.250V125.6h.250V125.5h.250V125.6h.250V125.6h.250V125.8h.250V125.8h.250V125.8h.250V125.8h.250V125.5h.250V125.6h.250V126.00Z" fill="#000"/>
<rect x="412.5" y="93.7" width="101" height="32.3" fill="none" stroke="#8a8a8a" stroke-width="1"/>
<path d="M412.5,125.70H513.5" stroke="#111" stroke-width="1.4"/>
<line x1="447.50" y1="131.5" x2="447.50" y2="163.2" stroke="#888" stroke-width="1"/>
<path d="M412.50,163.20V160.7h.250V160.5h.250V160.5h.250V160.4h.250V160.1h.250V160.1h.250V159.9h.250V159.9h.250V159.6h.250V159.4h.250V159.3h.250V159.2h.250V159.1h.250V159.0h.250V158.9h.250V158.7h.250V158.8h.250V158.7h.250V158.6h.250V158.4h.250V158.1h.250V158.1h.250V157.7h.250V157.5h.250V157.5h.250V157.3h.250V157.0h.250V156.8h.250V156.3h.250V156.0h.250V155.7h.250V155.6h.250V155.6h.250V155.4h.250V155.2h.250V154.8h.250V154.6h.250V154.6h.250V154.0h.250V154.0h.250V154.0h.250V153.7h.250V153.5h.250V153.3h.250V153.0h.250V152.8h.250V152.5h.250V152.4h.250V151.7h.250V151.5h.250V151.4h.250V151.0h.250V150.8h.250V150.6h.250V150.6h.250V150.0h.250V150.2h.250V149.5h.250V149.7h.250V149.6h.250V149.0h.250V149.0h.250V148.7h.250V148.4h.250V148.2h.250V147.4h.250V147.6h.250V147.4h.250V147.0h.250V146.9h.250V146.7h.250V146.4h.250V145.7h.250V145.5h.250V145.1h.250V144.6h.250V144.6h.250V144.5h.250V144.2h.250V144.0h.250V143.6h.250V143.7h.250V143.3h.250V143.0h.250V142.0h.250V142.0h.250V142.1h.250V141.7h.250V141.6h.250V142.4h.250V142.5h.250V142.7h.250V143.6h.250V143.6h.250V144.2h.250V144.8h.250V144.8h.250V145.3h.250V145.4h.250V145.7h.250V146.0h.250V146.3h.250V146.6h.250V146.9h.250V147.3h.250V147.8h.250V148.2h.250V148.8h.250V149.3h.250V149.5h.250V150.0h.250V150.3h.250V150.2h.250V151.1h.250V151.6h.250V152.5h.250V153.7h.250V154.3h.250V155.2h.250V155.9h.250V156.7h.250V156.9h.250V157.2h.250V157.3h.250V157.5h.250V157.7h.250V157.9h.250V158.1h.250V158.4h.250V158.6h.250V158.7h.250V159.0h.250V159.1h.250V159.3h.250V159.4h.250V159.6h.250V159.9h.250V160.1h.250V160.3h.250V160.4h.250V160.6h.250V160.7h.250V160.8h.250V160.8h.250V160.9h.250V161.0h.250V161.0h.250V161.1h.250V161.1h.250V161.2h.250V161.2h.250V161.3h.250V161.4h.250V161.5h.250V161.6h.250V161.6h.250V161.7h.250V161.8h.250V161.8h.250V161.9h.250V161.9h.250V161.9h.250V161.9h.250V162.0h.250V162.0h.250V162.0h.250V162.1h.250V162.1h.250V162.2h.250V162.3h.250V162.3h.250V162.3h.250V162.3h.250V162.3h.250V162.3h.250V162.4h.250V162.4h.250V162.5h.250V162.5h.250V162.5h.250V162.5h.250V162.6h.250V162.6h.250V162.6h.250V162.6h.250V162.6h.250V162.6h.250V162.7h.250V162.7h.250V162.7h.250V162.7h.250V162.7h.250V162.7h.250V162.8h.250V162.8h.250V162.8h.250V162.8h.250V162.8h.250V162.8h.250V162.8h.250V162.9h.250V162.9h.250V162.9h.250V162.9h.250V162.9h.250V162.9h.250V162.9h.250V162.9h.250V162.9h.250V162.9h.250V162.9h.250V162.9h.250V162.9h.250V162.9h.250V162.9h.250V162.9h.250V162.9h.250V162.9h.250V162.9h.250V162.9h.250V162.9h.250V162.9h.250V162.9h.250V162.9h.250V162.9h.250V162.9h.250V162.9h.250V162.9h.250V162.9h.250V162.9h.250V162.9h.250V162.9h.250V162.9h.250V162.9h.250V162.9h.250V162.9h.250V162.9h.250V162.9h.250V162.9h.250V162.9h.250V162.9h.250V162.9h.250V162.9h.250V162.9h.250V162.9h.250V162.9h.250V162.9h.250V162.9h.250V162.9h.250V162.9h.250V162.9h.250V162.9h.250V162.9h.250V162.9h.250V162.9h.250V162.9h.250V162.9h.250V162.9h.250V162.9h.250V162.9h.250V162.9h.250V162.9h.250V162.9h.250V162.9h.250V162.9h.250V162.9h.250V162.9h.250V162.9h.250V162.9h.250V162.9h.250V162.9h.250V162.9h.250V162.9h.250V162.9h.250V162.9h.250V162.9h.250V162.9h.250V162.9h.250V162.9h.250V162.9h.250V162.9h.250V162.9h.250V162.9h.250V162.9h.250V162.9h.250V162.9h.250V162.9h.250V162.9h.250V162.9h.250V162.9h.250V162.9h.250V162.9h.250V162.9h.250V162.9h.250V162.9h.250V162.9h.250V162.9h.250V162.9h.250V162.9h.250V162.9h.250V162.9h.250V162.9h.250V162.9h.250V162.9h.250V162.9h.250V162.9h.250V162.9h.250V162.9h.250V162.9h.250V162.9h.250V162.9h.250V162.9h.250V162.9h.250V162.9h.250V162.9h.250V162.9h.250V162.9h.250V162.9h.250V162.9h.250V162.9h.250V162.9h.250V162.9h.250V162.9h.250V162.9h.250V162.9h.250V162.9h.250V162.9h.250V162.9h.250V162.9h.250V162.9h.250V162.9h.250V162.9h.250V162.9h.250V162.9h.250V162.9h.250V162.9h.250V162.9h.250V162.9h.250V162.9h.250V162.9h.250V162.9h.250V162.9h.250V162.9h.250V162.9h.250V162.9h.250V162.9h.250V162.9h.250V162.9h.250V162.9h.250V162.9h.250V162.9h.250V162.9h.250V162.9h.250V162.9h.250V162.9h.250V162.9h.250V162.9h.250V162.9h.250V162.9h.250V162.9h.250V162.9h.250V162.9h.250V162.9h.250V162.9h.250V162.9h.250V162.9h.250V162.9h.250V162.9h.250V162.9h.250V162.9h.250V162.9h.250V162.9h.250V162.9h.250V162.9h.250V162.9h.250V162.9h.250V162.9h.250V162.9h.250V162.9h.250V162.9h.250V162.9h.250V162.9h.250V162.9h.250V162.9h.250V162.9h.250V162.9h.250V162.9h.250V162.9h.250V162.9h.250V162.9h.250V162.9h.250V162.9h.250V162.9h.250V162.9h.250V162.9h.250V162.9h.250V162.9h.250V162.9h.250V162.9h.250V162.9h.250V162.9h.250V162.9h.250V163.20Z" fill="#000"/>
<rect x="412.5" y="131.5" width="101" height="31.69999999999999" fill="none" stroke="#8a8a8a" stroke-width="1"/>
<path d="M412.5,162.90H513.5" stroke="#111" stroke-width="1.4"/>
<text x="405.10" y="176.8" font-family='"Liberation Serif", serif' font-size="11.2" fill="#111" stroke="#111" stroke-width="0.3" textLength="13.4" lengthAdjust="spacingAndGlyphs">10<tspan font-size="5.4" dy="-3.2">0</tspan></text>
<text x="429.40" y="176.8" font-family='"Liberation Serif", serif' font-size="11.2" fill="#111" stroke="#111" stroke-width="0.3" textLength="13.4" lengthAdjust="spacingAndGlyphs">10<tspan font-size="5.4" dy="-3.2">1</tspan></text>
<text x="453.70" y="176.8" font-family='"Liberation Serif", serif' font-size="11.2" fill="#111" stroke="#111" stroke-width="0.3" textLength="13.4" lengthAdjust="spacingAndGlyphs">10<tspan font-size="5.4" dy="-3.2">2</tspan></text>
<text x="478.00" y="176.8" font-family='"Liberation Serif", serif' font-size="11.2" fill="#111" stroke="#111" stroke-width="0.3" textLength="13.4" lengthAdjust="spacingAndGlyphs">10<tspan font-size="5.4" dy="-3.2">3</tspan></text>
<text x="502.30" y="176.8" font-family='"Liberation Serif", serif' font-size="11.2" fill="#111" stroke="#111" stroke-width="0.3" textLength="13.4" lengthAdjust="spacingAndGlyphs">10<tspan font-size="5.4" dy="-3.2">4</tspan></text>
<text x="440.30" y="189.70" font-family='"Liberation Sans", sans-serif' font-size="9.5" font-weight="normal" text-anchor="start" fill="#000" stroke="#000" stroke-width="0.15">CD54</text>
<text x="1.00" y="228.60" font-family='"Liberation Sans", sans-serif' font-size="9.6" font-weight="normal" text-anchor="start" fill="#000" textLength="60.98" lengthAdjust="spacingAndGlyphs" stroke="#000" stroke-width="0.15">CD25+CCR6+</text>
<text x="1.00" y="266.10" font-family='"Liberation Sans", sans-serif' font-size="9.6" font-weight="normal" text-anchor="start" fill="#000" textLength="58.60" lengthAdjust="spacingAndGlyphs" stroke="#000" stroke-width="0.15">CD25+CCR6-</text>
<text x="1.00" y="304.00" font-family='"Liberation Sans", sans-serif' font-size="9.6" font-weight="normal" text-anchor="start" fill="#000" textLength="58.60" lengthAdjust="spacingAndGlyphs" stroke="#000" stroke-width="0.15">CD25-CCR6+</text>
<text x="1.00" y="341.50" font-family='"Liberation Sans", sans-serif' font-size="9.6" font-weight="normal" text-anchor="start" fill="#000" textLength="56.23" lengthAdjust="spacingAndGlyphs" stroke="#000" stroke-width="0.15">CD25-CCR6-</text>
<line x1="160.50" y1="204.7" x2="160.50" y2="237.2" stroke="#888" stroke-width="1"/>
<path d="M76.50,237.20V236.8h.250V236.8h.250V236.8h.250V236.8h.250V236.9h.250V236.9h.250V236.9h.250V236.8h.250V236.8h.250V236.8h.250V236.9h.250V236.8h.250V236.9h.250V236.8h.250V236.8h.250V236.8h.250V236.8h.250V236.9h.250V236.8h.250V236.8h.250V236.8h.250V236.9h.250V236.8h.250V236.8h.250V236.8h.250V236.9h.250V236.9h.250V236.8h.250V236.9h.250V236.8h.250V236.8h.250V236.8h.250V236.8h.250V236.8h.250V236.9h.250V236.8h.250V236.9h.250V236.9h.250V236.9h.250V236.9h.250V236.8h.250V236.9h.250V236.7h.250V236.8h.250V237.0h.250V237.0h.250V237.1h.250V237.0h.250V236.9h.250V236.9h.250V236.9h.250V236.9h.250V236.9h.250V236.9h.250V236.9h.250V236.9h.250V236.7h.250V236.7h.250V236.7h.250V236.7h.250V236.7h.250V236.7h.250V236.7h.250V236.7h.250V236.9h.250V236.9h.250V236.9h.250V236.9h.250V236.8h.250V236.8h.250V236.8h.250V236.8h.250V236.8h.250V236.8h.250V236.9h.250V236.8h.250V236.8h.250V236.9h.250V236.8h.250V236.9h.250V237.0h.250V237.0h.250V235.6h.250V235.6h.250V235.6h.250V235.6h.250V236.8h.250V236.8h.250V236.7h.250V236.7h.250V236.7h.250V236.7h.250V236.8h.250V236.8h.250V236.8h.250V236.8h.250V236.8h.250V236.8h.250V236.8h.250V236.8h.250V236.8h.250V236.9h.250V236.9h.250V236.9h.250V236.9h.250V236.9h.250V236.9h.250V236.9h.250V236.8h.250V236.8h.250V236.8h.250V236.9h.250V236.9h.250V236.9h.250V236.8h.250V236.9h.250V237.0h.250V237.0h.250V236.9h.250V237.0h.250V236.7h.250V236.8h.250V236.8h.250V236.7h.250V236.9h.250V237.0h.250V236.9h.250V236.8h.250V236.8h.250V236.9h.250V236.8h.250V236.9h.250V237.0h.250V237.0h.250V237.0h.250V237.1h.250V237.1h.250V237.0h.250V237.1h.250V237.0h.250V236.9h.250V236.8h.250V236.9h.250V236.8h.250V236.9h.250V236.9h.250V237.0h.250V235.6h.250V235.6h.250V235.6h.250V235.6h.250V236.9h.250V236.7h.250V236.8h.250V236.7h.250V236.8h.250V236.7h.250V236.7h.250V236.7h.250V236.7h.250V237.0h.250V237.0h.250V236.9h.250V236.9h.250V236.9h.250V236.9h.250V236.9h.250V236.9h.250V236.8h.250V236.9h.250V236.8h.250V236.8h.250V236.9h.250V236.9h.250V236.9h.250V236.9h.250V236.8h.250V236.9h.250V236.9h.250V236.8h.250V236.8h.250V236.8h.250V236.8h.250V236.8h.250V236.8h.250V236.8h.250V236.9h.250V236.8h.250V237.1h.250V237.0h.250V237.1h.250V237.1h.250V236.9h.250V236.9h.250V236.9h.250V236.9h.250V236.8h.250V236.8h.250V236.8h.250V236.8h.250V236.7h.250V236.7h.250V236.7h.250V236.8h.250V237.0h.250V236.9h.250V236.9h.250V236.9h.250V236.8h.250V236.8h.250V236.8h.250V236.9h.250V237.0h.250V237.0h.250V236.9h.250V237.0h.250V236.9h.250V237.0h.250V236.9h.250V236.9h.250V236.9h.250V236.8h.250V236.9h.250V236.8h.250V236.8h.250V236.8h.250V236.8h.250V236.9h.250V236.8h.250V236.8h.250V236.9h.250V236.8h.250V237.0h.250V236.9h.250V236.9h.250V236.9h.250V236.9h.250V236.9h.250V236.9h.250V236.9h.250V237.0h.250V236.9h.250V236.9h.250V236.9h.250V236.9h.250V236.9h.250V236.9h.250V236.9h.250V236.9h.250V236.9h.250V236.8h.250V236.8h.250V236.8h.250V236.9h.250V236.9h.250V236.9h.250V236.8h.250V236.9h.250V236.9h.250V236.2h.250V236.2h.250V236.2h.250V236.2h.250V236.9h.250V236.8h.250V236.8h.250V236.8h.250V236.9h.250V236.9h.250V236.9h.250V236.9h.250V237.0h.250V237.0h.250V236.9h.250V236.9h.250V236.9h.250V236.9h.250V236.8h.250V236.9h.250V236.8h.250V236.9h.250V237.0h.250V236.8h.250V236.8h.250V236.6h.250V236.5h.250V236.5h.250V236.3h.250V236.6h.250V236.4h.250V236.5h.250V236.4h.250V235.9h.250V235.5h.250V235.7h.250V235.3h.250V235.4h.250V234.8h.250V234.8h.250V234.8h.250V234.2h.250V234.4h.250V234.1h.250V233.4h.250V233.5h.250V233.4h.250V232.7h.250V232.3h.250V234.1h.250V233.1h.250V232.8h.250V232.1h.250V229.2h.250V230.7h.250V230.6h.250V231.0h.250V228.6h.250V228.5h.250V227.9h.250V227.5h.250V231.3h.250V229.8h.250V231.1h.250V228.4h.250V231.6h.250V230.8h.250V231.0h.250V231.3h.250V223.8h.250V223.9h.250V224.4h.250V225.7h.250V225.8h.250V223.7h.250V223.8h.250V223.3h.250V225.4h.250V225.2h.250V226.6h.250V225.7h.250V212.8h.250V212.8h.250V212.8h.250V212.8h.250V225.2h.250V226.7h.250V224.5h.250V227.0h.250V216.9h.250V217.1h.250V214.4h.250V214.4h.250V214.4h.250V214.4h.250V221.6h.250V220.9h.250V223.6h.250V225.3h.250V223.0h.250V223.4h.250V216.1h.250V216.1h.250V216.1h.250V216.1h.250V223.7h.250V223.6h.250V224.3h.250V223.2h.250V225.7h.250V227.3h.250V225.4h.250V226.1h.250V225.7h.250V227.3h.250V227.9h.250V226.6h.250V229.8h.250V229.3h.250V230.9h.250V231.2h.250V228.7h.250V229.7h.250V231.5h.250V231.7h.250V233.6h.250V233.8h.250V233.7h.250V233.9h.250V234.8h.250V234.7h.250V235.0h.250V235.3h.250V234.9h.250V235.5h.250V235.6h.250V235.8h.250V235.1h.250V235.7h.250V235.2h.250V235.7h.250V236.2h.250V236.3h.250V237.20Z" fill="#000"/>
<rect x="76.5" y="204.7" width="101" height="32.5" fill="none" stroke="#8a8a8a" stroke-width="1"/>
<path d="M76.5,236.90H177.5" stroke="#111" stroke-width="1.4"/>
<line x1="160.50" y1="242.8" x2="160.50" y2="275" stroke="#888" stroke-width="1"/>
<path d="M76.50,275.00V274.6h.250V274.6h.250V274.6h.250V274.6h.250V274.7h.250V274.7h.250V274.7h.250V274.7h.250V274.7h.250V274.7h.250V274.7h.250V274.7h.250V274.7h.250V274.7h.250V274.7h.250V274.7h.250V274.6h.250V274.7h.250V274.7h.250V274.7h.250V274.7h.250V274.7h.250V274.7h.250V274.7h.250V274.7h.250V274.7h.250V274.7h.250V274.7h.250V274.7h.250V274.7h.250V274.7h.250V274.7h.250V274.7h.250V274.7h.250V274.7h.250V274.7h.250V274.7h.250V274.7h.250V274.7h.250V274.7h.250V274.7h.250V274.7h.250V274.7h.250V274.7h.250V274.6h.250V274.6h.250V274.6h.250V274.6h.250V274.7h.250V274.7h.250V274.7h.250V274.7h.250V274.6h.250V274.6h.250V274.6h.250V274.6h.250V274.6h.250V274.6h.250V274.6h.250V274.6h.250V274.7h.250V274.7h.250V274.7h.250V274.7h.250V274.7h.250V274.7h.250V274.6h.250V274.7h.250V274.7h.250V274.7h.250V274.7h.250V274.7h.250V274.7h.250V274.7h.250V274.7h.250V274.7h.250V274.6h.250V274.7h.250V274.6h.250V274.7h.250V274.7h.250V274.7h.250V274.7h.250V274.7h.250V274.7h.250V274.7h.250V274.7h.250V274.7h.250V274.7h.250V274.7h.250V274.7h.250V274.7h.250V274.7h.250V274.7h.250V274.7h.250V274.7h.250V274.6h.250V274.6h.250V274.6h.250V274.6h.250V274.6h.250V274.6h.250V274.6h.250V274.6h.250V274.7h.250V274.7h.250V274.7h.250V274.7h.250V274.7h.250V274.7h.250V274.7h.250V274.7h.250V274.7h.250V274.7h.250V274.7h.250V274.7h.250V274.7h.250V274.7h.250V274.7h.250V274.7h.250V274.7h.250V274.6h.250V274.7h.250V274.6h.250V274.7h.250V274.7h.250V274.7h.250V274.7h.250V274.7h.250V274.7h.250V274.7h.250V274.7h.250V274.7h.250V274.7h.250V274.7h.250V274.7h.250V274.7h.250V274.7h.250V274.7h.250V274.7h.250V274.7h.250V274.7h.250V274.7h.250V274.7h.250V274.7h.250V274.7h.250V274.7h.250V274.7h.250V274.7h.250V274.7h.250V274.7h.250V274.7h.250V274.7h.250V274.7h.250V274.7h.250V274.7h.250V274.7h.250V274.7h.250V274.7h.250V274.7h.250V274.7h.250V274.7h.250V274.7h.250V274.7h.250V274.7h.250V274.7h.250V274.7h.250V274.7h.250V274.7h.250V274.6h.250V274.6h.250V274.6h.250V274.6h.250V274.6h.250V274.6h.250V274.6h.250V274.7h.250V274.7h.250V274.7h.250V274.7h.250V274.6h.250V274.6h.250V274.6h.250V274.6h.250V274.7h.250V274.7h.250V274.7h.250V274.7h.250V274.7h.250V274.7h.250V274.7h.250V274.7h.250V274.7h.250V274.7h.250V274.7h.250V274.7h.250V274.7h.250V274.7h.250V274.7h.250V274.7h.250V274.7h.250V274.7h.250V274.7h.250V274.7h.250V274.7h.250V274.7h.250V274.7h.250V274.7h.250V274.7h.250V274.7h.250V274.7h.250V274.7h.250V274.7h.250V274.6h.250V274.7h.250V274.7h.250V274.7h.250V274.7h.250V274.7h.250V274.7h.250V274.7h.250V274.7h.250V274.7h.250V274.7h.250V274.6h.250V274.6h.250V274.6h.250V274.6h.250V274.4h.250V274.5h.250V274.4h.250V274.4h.250V274.3h.250V274.2h.250V274.2h.250V274.2h.250V274.1h.250V274.1h.250V274.0h.250V274.0h.250V274.1h.250V274.0h.250V274.0h.250V273.9h.250V273.8h.250V273.8h.250V273.7h.250V273.6h.250V273.7h.250V273.7h.250V273.6h.250V273.6h.250V273.5h.250V273.5h.250V273.3h.250V273.4h.250V273.3h.250V273.4h.250V273.3h.250V273.3h.250V273.2h.250V273.2h.250V273.0h.250V272.9h.250V272.6h.250V272.5h.250V272.5h.250V272.1h.250V272.0h.250V271.7h.250V271.6h.250V271.6h.250V271.6h.250V271.4h.250V271.0h.250V271.1h.250V270.2h.250V270.0h.250V269.9h.250V269.7h.250V269.9h.250V269.8h.250V269.3h.250V269.1h.250V268.9h.250V268.5h.250V267.9h.250V267.7h.250V266.5h.250V266.8h.250V265.3h.250V265.4h.250V264.2h.250V263.8h.250V263.0h.250V262.2h.250V261.8h.250V261.2h.250V260.1h.250V259.9h.250V261.2h.250V260.3h.250V260.4h.250V259.6h.250V256.2h.250V255.9h.250V255.0h.250V253.9h.250V256.1h.250V255.0h.250V255.5h.250V255.2h.250V255.6h.250V254.5h.250V253.2h.250V254.2h.250V252.8h.250V254.9h.250V254.4h.250V254.9h.250V255.7h.250V258.5h.250V258.9h.250V258.1h.250V259.4h.250V259.2h.250V260.2h.250V259.4h.250V260.1h.250V260.2h.250V261.2h.250V262.4h.250V263.8h.250V264.4h.250V265.1h.250V265.3h.250V265.0h.250V266.1h.250V267.2h.250V266.9h.250V267.0h.250V267.3h.250V268.1h.250V268.3h.250V268.6h.250V269.3h.250V269.6h.250V269.9h.250V270.6h.250V270.8h.250V271.2h.250V271.8h.250V272.3h.250V272.4h.250V272.7h.250V273.0h.250V272.9h.250V273.2h.250V273.4h.250V273.6h.250V273.7h.250V273.8h.250V274.0h.250V274.1h.250V274.1h.250V274.2h.250V274.3h.250V274.4h.250V274.6h.250V274.6h.250V274.7h.250V274.7h.250V274.7h.250V274.7h.250V274.7h.250V274.6h.250V274.6h.250V274.6h.250V274.6h.250V274.6h.250V274.6h.250V274.6h.250V274.6h.250V274.6h.250V274.7h.250V274.7h.250V274.7h.250V274.7h.250V274.7h.250V274.7h.250V274.7h.250V274.7h.250V274.7h.250V274.7h.250V274.7h.250V274.7h.250V274.7h.250V274.7h.250V274.7h.250V274.7h.250V274.7h.250V274.7h.250V275.00Z" fill="#000"/>
<rect x="76.5" y="242.8" width="101" height="32.19999999999999" fill="none" stroke="#8a8a8a" stroke-width="1"/>
<path d="M76.5,274.70H177.5" stroke="#111" stroke-width="1.4"/>
<line x1="160.50" y1="280.1" x2="160.50" y2="312.6" stroke="#888" stroke-width="1"/>
<path d="M76.50,312.60V312.6h.250V312.6h.250V312.6h.250V312.6h.250V312.6h.250V312.6h.250V312.6h.250V312.6h.250V312.6h.250V312.6h.250V312.6h.250V312.6h.250V312.6h.250V312.6h.250V312.6h.250V312.6h.250V312.6h.250V312.6h.250V312.6h.250V312.6h.250V312.5h.250V312.5h.250V312.5h.250V312.5h.250V312.6h.250V312.5h.250V312.5h.250V312.6h.250V312.5h.250V312.5h.250V312.5h.250V312.5h.250V312.5h.250V312.6h.250V312.5h.250V312.6h.250V312.6h.250V312.5h.250V312.6h.250V312.5h.250V312.5h.250V312.5h.250V312.5h.250V312.5h.250V312.5h.250V312.5h.250V312.5h.250V312.5h.250V312.5h.250V312.5h.250V312.5h.250V312.5h.250V312.5h.250V312.5h.250V312.5h.250V312.5h.250V312.5h.250V312.5h.250V312.5h.250V312.5h.250V312.5h.250V312.5h.250V312.5h.250V312.5h.250V312.5h.250V312.5h.250V312.5h.250V312.5h.250V312.5h.250V312.5h.250V312.5h.250V312.5h.250V312.5h.250V312.5h.250V311.0h.250V311.0h.250V311.0h.250V311.0h.250V312.5h.250V312.5h.250V312.5h.250V312.5h.250V312.5h.250V312.5h.250V312.5h.250V312.4h.250V312.5h.250V312.5h.250V312.5h.250V312.5h.250V312.4h.250V312.5h.250V312.4h.250V312.5h.250V312.5h.250V312.5h.250V312.4h.250V312.4h.250V312.4h.250V312.4h.250V312.5h.250V312.4h.250V312.5h.250V312.5h.250V312.4h.250V312.4h.250V312.4h.250V312.4h.250V312.4h.250V312.4h.250V312.4h.250V312.4h.250V312.4h.250V312.4h.250V312.3h.250V312.4h.250V312.4h.250V312.4h.250V312.4h.250V312.4h.250V312.3h.250V312.3h.250V312.4h.250V312.3h.250V312.3h.250V312.4h.250V312.3h.250V312.4h.250V312.4h.250V312.4h.250V312.5h.250V312.5h.250V312.3h.250V312.3h.250V312.2h.250V312.3h.250V312.4h.250V312.5h.250V312.4h.250V311.3h.250V311.3h.250V311.3h.250V311.3h.250V312.4h.250V312.4h.250V312.4h.250V312.4h.250V312.4h.250V312.3h.250V312.3h.250V312.2h.250V312.3h.250V312.3h.250V312.2h.250V312.3h.250V311.3h.250V311.3h.250V311.3h.250V311.3h.250V312.2h.250V312.4h.250V312.3h.250V312.3h.250V312.3h.250V312.2h.250V312.2h.250V312.2h.250V312.2h.250V312.3h.250V312.4h.250V312.4h.250V312.3h.250V312.2h.250V312.2h.250V312.2h.250V311.0h.250V311.0h.250V311.0h.250V311.0h.250V312.2h.250V312.3h.250V312.3h.250V312.4h.250V312.3h.250V312.2h.250V312.2h.250V312.3h.250V311.0h.250V311.0h.250V311.0h.250V311.0h.250V312.4h.250V312.3h.250V312.3h.250V312.4h.250V312.3h.250V312.3h.250V312.3h.250V312.3h.250V310.7h.250V310.7h.250V310.7h.250V310.7h.250V312.2h.250V312.1h.250V312.0h.250V312.0h.250V312.0h.250V311.9h.250V312.0h.250V311.7h.250V311.6h.250V311.5h.250V311.3h.250V311.4h.250V311.4h.250V311.6h.250V311.7h.250V311.2h.250V311.6h.250V311.1h.250V311.2h.250V311.2h.250V311.2h.250V310.7h.250V311.0h.250V311.1h.250V311.0h.250V311.0h.250V310.8h.250V310.8h.250V310.9h.250V310.3h.250V310.7h.250V309.7h.250V310.0h.250V308.7h.250V308.6h.250V308.6h.250V307.7h.250V307.7h.250V307.7h.250V307.7h.250V309.1h.250V308.6h.250V309.7h.250V309.2h.250V308.8h.250V310.2h.250V310.1h.250V310.4h.250V309.8h.250V310.9h.250V310.7h.250V310.8h.250V311.0h.250V309.6h.250V308.8h.250V308.9h.250V306.1h.250V306.1h.250V306.1h.250V306.1h.250V308.1h.250V309.5h.250V309.0h.250V309.0h.250V309.3h.250V307.3h.250V307.7h.250V308.0h.250V306.2h.250V309.4h.250V309.2h.250V309.4h.250V308.8h.250V308.9h.250V310.0h.250V309.5h.250V309.8h.250V306.5h.250V308.1h.250V308.0h.250V306.5h.250V304.9h.250V305.8h.250V303.9h.250V303.3h.250V308.2h.250V309.3h.250V307.3h.250V308.0h.250V308.0h.250V304.3h.250V304.9h.250V306.0h.250V307.8h.250V306.8h.250V305.9h.250V306.2h.250V303.1h.250V300.5h.250V300.4h.250V300.9h.250V305.6h.250V307.1h.250V309.7h.250V306.6h.250V301.1h.250V302.8h.250V300.6h.250V299.0h.250V297.6h.250V299.2h.250V301.9h.250V299.6h.250V296.5h.250V292.8h.250V292.3h.250V297.6h.250V304.8h.250V306.2h.250V305.0h.250V304.6h.250V289.9h.250V289.9h.250V289.9h.250V289.9h.250V294.8h.250V296.1h.250V295.9h.250V296.8h.250V298.0h.250V300.7h.250V294.7h.250V298.2h.250V299.3h.250V297.1h.250V295.3h.250V299.9h.250V297.9h.250V298.4h.250V299.9h.250V301.0h.250V293.1h.250V293.1h.250V293.1h.250V293.1h.250V295.5h.250V297.1h.250V293.6h.250V298.5h.250V303.4h.250V298.6h.250V300.3h.250V298.8h.250V298.8h.250V301.4h.250V299.7h.250V301.3h.250V297.0h.250V294.3h.250V301.2h.250V300.9h.250V293.1h.250V293.1h.250V293.1h.250V293.1h.250V294.6h.250V295.0h.250V295.7h.250V299.3h.250V293.0h.250V290.1h.250V290.6h.250V293.2h.250V293.7h.250V293.4h.250V297.8h.250V292.5h.250V300.7h.250V301.8h.250V303.4h.250V302.1h.250V304.0h.250V304.6h.250V303.4h.250V303.9h.250V301.7h.250V303.6h.250V302.1h.250V305.6h.250V308.8h.250V308.7h.250V309.2h.250V310.6h.250V308.6h.250V309.1h.250V309.9h.250V309.8h.250V310.9h.250V311.2h.250V312.60Z" fill="#000"/>
<rect x="76.5" y="280.1" width="101" height="32.5" fill="none" stroke="#8a8a8a" stroke-width="1"/>
<path d="M76.5,312.30H177.5" stroke="#111" stroke-width="1.4"/>
<line x1="160.50" y1="318.0" x2="160.50" y2="350.4" stroke="#888" stroke-width="1"/>
<path d="M76.50,350.40V350.4h.250V350.4h.250V350.4h.250V350.4h.250V350.4h.250V350.4h.250V350.4h.250V350.4h.250V350.4h.250V350.4h.250V350.4h.250V350.4h.250V350.4h.250V350.4h.250V350.4h.250V350.4h.250V350.4h.250V350.4h.250V350.4h.250V350.4h.250V350.4h.250V350.4h.250V350.4h.250V350.4h.250V350.4h.250V350.4h.250V350.4h.250V350.4h.250V350.4h.250V350.4h.250V350.4h.250V350.4h.250V350.4h.250V350.4h.250V350.4h.250V350.4h.250V350.4h.250V350.4h.250V350.4h.250V350.4h.250V350.4h.250V350.4h.250V350.4h.250V350.4h.250V350.4h.250V350.4h.250V350.4h.250V350.4h.250V350.4h.250V350.4h.250V350.4h.250V350.4h.250V350.4h.250V350.4h.250V350.4h.250V350.4h.250V350.4h.250V350.4h.250V350.4h.250V350.4h.250V350.4h.250V350.4h.250V350.4h.250V350.4h.250V350.4h.250V350.4h.250V350.4h.250V350.4h.250V350.4h.250V350.4h.250V350.4h.250V350.4h.250V350.4h.250V350.4h.250V350.4h.250V350.4h.250V350.4h.250V350.4h.250V350.4h.250V350.4h.250V350.4h.250V350.4h.250V350.4h.250V350.4h.250V350.4h.250V350.4h.250V350.4h.250V350.4h.250V350.4h.250V350.4h.250V350.4h.250V350.4h.250V350.4h.250V350.4h.250V350.4h.250V350.4h.250V350.4h.250V350.4h.250V350.4h.250V350.4h.250V350.4h.250V350.4h.250V350.4h.250V350.4h.250V350.4h.250V350.4h.250V350.4h.250V350.4h.250V350.4h.250V350.4h.250V350.4h.250V350.4h.250V350.4h.250V350.4h.250V350.4h.250V350.4h.250V350.4h.250V350.4h.250V350.4h.250V350.4h.250V350.4h.250V350.4h.250V350.4h.250V350.4h.250V350.4h.250V350.4h.250V350.4h.250V350.4h.250V350.4h.250V350.4h.250V350.4h.250V350.4h.250V350.4h.250V350.4h.250V350.4h.250V350.4h.250V350.4h.250V350.4h.250V350.4h.250V350.4h.250V350.4h.250V350.4h.250V350.4h.250V350.4h.250V350.4h.250V350.4h.250V350.4h.250V350.4h.250V350.4h.250V350.4h.250V350.4h.250V350.4h.250V350.4h.250V350.4h.250V350.4h.250V350.4h.250V350.4h.250V350.4h.250V350.4h.250V350.4h.250V350.4h.250V350.4h.250V350.3h.250V350.3h.250V350.3h.250V350.3h.250V350.2h.250V350.2h.250V350.2h.250V350.1h.250V350.1h.250V350.1h.250V350.0h.250V350.0h.250V350.0h.250V349.9h.250V349.9h.250V349.8h.250V349.8h.250V349.8h.250V349.7h.250V349.7h.250V349.7h.250V349.6h.250V349.6h.250V349.6h.250V349.6h.250V349.5h.250V349.5h.250V349.5h.250V349.5h.250V349.4h.250V349.3h.250V349.3h.250V349.3h.250V349.2h.250V349.3h.250V349.3h.250V349.2h.250V349.2h.250V349.1h.250V349.1h.250V349.0h.250V348.9h.250V348.9h.250V348.9h.250V348.8h.250V348.7h.250V348.6h.250V348.6h.250V348.5h.250V348.4h.250V348.3h.250V348.3h.250V348.2h.250V348.2h.250V348.1h.250V348.1h.250V348.0h.250V347.9h.250V347.8h.250V347.8h.250V347.6h.250V347.5h.250V347.4h.250V347.3h.250V347.2h.250V347.1h.250V347.0h.250V346.8h.250V346.7h.250V346.7h.250V346.6h.250V346.4h.250V346.4h.250V346.2h.250V346.1h.250V346.0h.250V346.0h.250V345.8h.250V345.6h.250V345.5h.250V345.2h.250V345.1h.250V344.8h.250V344.6h.250V344.4h.250V344.2h.250V344.0h.250V343.7h.250V343.5h.250V343.3h.250V343.3h.250V343.0h.250V342.8h.250V342.6h.250V342.3h.250V342.1h.250V341.9h.250V341.6h.250V341.4h.250V341.3h.250V340.9h.250V340.6h.250V340.2h.250V340.0h.250V339.7h.250V339.5h.250V339.2h.250V338.9h.250V338.7h.250V338.5h.250V338.3h.250V337.9h.250V337.9h.250V337.7h.250V337.4h.250V337.1h.250V336.7h.250V336.5h.250V336.1h.250V335.8h.250V335.7h.250V335.3h.250V334.3h.250V334.0h.250V333.7h.250V333.3h.250V333.3h.250V333.1h.250V332.8h.250V332.2h.250V332.6h.250V332.3h.250V331.8h.250V331.7h.250V331.1h.250V330.6h.250V330.5h.250V329.8h.250V329.5h.250V329.4h.250V329.1h.250V328.8h.250V328.9h.250V328.7h.250V328.5h.250V328.0h.250V328.3h.250V328.4h.250V328.0h.250V328.1h.250V327.4h.250V327.0h.250V326.4h.250V326.4h.250V325.4h.250V325.3h.250V325.0h.250V324.7h.250V325.5h.250V325.6h.250V325.6h.250V326.0h.250V325.6h.250V325.8h.250V325.9h.250V325.9h.250V325.8h.250V326.1h.250V326.3h.250V326.5h.250V327.6h.250V328.0h.250V328.7h.250V329.4h.250V329.3h.250V330.3h.250V331.5h.250V332.0h.250V333.4h.250V334.2h.250V334.7h.250V335.4h.250V336.2h.250V336.8h.250V337.5h.250V338.1h.250V338.8h.250V339.4h.250V340.2h.250V341.0h.250V341.2h.250V341.9h.250V342.5h.250V343.1h.250V343.8h.250V344.5h.250V345.1h.250V345.7h.250V346.4h.250V347.0h.250V347.3h.250V347.5h.250V347.7h.250V347.9h.250V348.0h.250V348.3h.250V348.4h.250V348.6h.250V348.8h.250V349.0h.250V349.2h.250V349.4h.250V349.5h.250V349.6h.250V349.6h.250V349.7h.250V349.8h.250V349.9h.250V350.0h.250V350.0h.250V350.1h.250V350.1h.250V350.1h.250V350.1h.250V350.1h.250V350.1h.250V350.1h.250V350.1h.250V350.1h.250V350.1h.250V350.1h.250V350.1h.250V350.1h.250V350.1h.250V350.1h.250V350.1h.250V350.1h.250V350.1h.250V350.1h.250V350.1h.250V350.40Z" fill="#000"/>
<rect x="76.5" y="318.0" width="101" height="32.39999999999998" fill="none" stroke="#8a8a8a" stroke-width="1"/>
<path d="M76.5,350.10H177.5" stroke="#111" stroke-width="1.4"/>
<text x="69.10" y="362.5" font-family='"Liberation Serif", serif' font-size="11.2" fill="#111" stroke="#111" stroke-width="0.3" textLength="13.4" lengthAdjust="spacingAndGlyphs">10<tspan font-size="5.4" dy="-3.2">0</tspan></text>
<text x="93.40" y="362.5" font-family='"Liberation Serif", serif' font-size="11.2" fill="#111" stroke="#111" stroke-width="0.3" textLength="13.4" lengthAdjust="spacingAndGlyphs">10<tspan font-size="5.4" dy="-3.2">1</tspan></text>
<text x="117.70" y="362.5" font-family='"Liberation Serif", serif' font-size="11.2" fill="#111" stroke="#111" stroke-width="0.3" textLength="13.4" lengthAdjust="spacingAndGlyphs">10<tspan font-size="5.4" dy="-3.2">2</tspan></text>
<text x="142.00" y="362.5" font-family='"Liberation Serif", serif' font-size="11.2" fill="#111" stroke="#111" stroke-width="0.3" textLength="13.4" lengthAdjust="spacingAndGlyphs">10<tspan font-size="5.4" dy="-3.2">3</tspan></text>
<text x="166.30" y="362.5" font-family='"Liberation Serif", serif' font-size="11.2" fill="#111" stroke="#111" stroke-width="0.3" textLength="13.4" lengthAdjust="spacingAndGlyphs">10<tspan font-size="5.4" dy="-3.2">4</tspan></text>
<text x="104.30" y="374.90" font-family='"Liberation Sans", sans-serif' font-size="9.5" font-weight="normal" text-anchor="start" fill="#000" stroke="#000" stroke-width="0.15">CD5</text>
<line x1="244.50" y1="204.7" x2="244.50" y2="237.2" stroke="#888" stroke-width="1"/>
<path d="M188.50,237.20V236.3h.250V236.4h.250V236.3h.250V236.3h.250V236.0h.250V236.0h.250V236.0h.250V236.0h.250V236.1h.250V236.2h.250V236.1h.250V236.1h.250V236.3h.250V236.2h.250V236.3h.250V236.2h.250V236.2h.250V236.0h.250V236.1h.250V236.2h.250V235.9h.250V235.9h.250V235.9h.250V235.9h.250V236.2h.250V236.1h.250V236.2h.250V236.0h.250V236.1h.250V236.2h.250V236.2h.250V236.2h.250V236.2h.250V236.2h.250V236.3h.250V236.2h.250V236.1h.250V236.0h.250V236.0h.250V236.1h.250V235.9h.250V235.9h.250V235.9h.250V236.0h.250V236.0h.250V236.0h.250V236.1h.250V236.1h.250V236.1h.250V236.1h.250V236.1h.250V236.1h.250V236.1h.250V236.0h.250V236.1h.250V236.0h.250V235.7h.250V235.7h.250V235.7h.250V235.7h.250V235.9h.250V236.1h.250V236.0h.250V236.0h.250V236.2h.250V236.1h.250V236.2h.250V236.0h.250V236.0h.250V236.0h.250V236.0h.250V236.0h.250V236.2h.250V236.0h.250V236.1h.250V236.2h.250V235.8h.250V235.8h.250V235.8h.250V235.7h.250V235.9h.250V235.9h.250V236.0h.250V235.8h.250V236.0h.250V236.0h.250V236.0h.250V236.0h.250V236.1h.250V236.2h.250V236.0h.250V235.9h.250V235.9h.250V235.9h.250V235.9h.250V235.9h.250V235.9h.250V235.9h.250V235.9h.250V236.0h.250V235.8h.250V235.8h.250V235.8h.250V235.7h.250V235.9h.250V236.0h.250V235.9h.250V235.8h.250V235.8h.250V235.6h.250V235.7h.250V235.7h.250V235.9h.250V235.7h.250V235.8h.250V235.8h.250V236.0h.250V235.8h.250V235.9h.250V235.8h.250V235.9h.250V235.8h.250V235.8h.250V235.8h.250V235.5h.250V235.4h.250V235.3h.250V235.3h.250V234.9h.250V234.8h.250V234.7h.250V234.8h.250V234.7h.250V234.7h.250V234.7h.250V234.6h.250V234.8h.250V234.7h.250V234.9h.250V234.5h.250V235.3h.250V235.0h.250V234.8h.250V234.9h.250V234.2h.250V234.4h.250V234.0h.250V233.8h.250V234.3h.250V234.5h.250V234.3h.250V234.1h.250V233.2h.250V233.0h.250V232.7h.250V232.8h.250V232.9h.250V232.3h.250V232.0h.250V231.7h.250V231.8h.250V232.0h.250V231.3h.250V231.2h.250V232.0h.250V231.3h.250V231.0h.250V230.6h.250V230.2h.250V230.5h.250V229.6h.250V229.5h.250V229.3h.250V229.5h.250V228.9h.250V229.1h.250V229.5h.250V228.4h.250V228.3h.250V228.0h.250V228.0h.250V227.1h.250V226.5h.250V225.8h.250V228.7h.250V227.3h.250V228.3h.250V227.0h.250V224.8h.250V223.5h.250V223.2h.250V223.9h.250V222.9h.250V221.7h.250V220.5h.250V222.2h.250V220.9h.250V221.8h.250V220.1h.250V219.9h.250V219.6h.250V220.6h.250V218.7h.250V218.4h.250V219.2h.250V216.5h.250V218.9h.250V217.3h.250V215.6h.250V218.5h.250V216.3h.250V216.5h.250V214.2h.250V214.9h.250V216.4h.250V215.3h.250V215.9h.250V216.4h.250V216.5h.250V216.8h.250V215.1h.250V215.9h.250V217.1h.250V217.3h.250V222.6h.250V221.0h.250V221.8h.250V222.0h.250V220.0h.250V221.4h.250V220.4h.250V222.2h.250V225.0h.250V224.8h.250V226.1h.250V225.5h.250V225.0h.250V225.1h.250V224.7h.250V226.3h.250V224.4h.250V225.7h.250V225.0h.250V225.1h.250V228.6h.250V229.2h.250V229.0h.250V229.2h.250V230.4h.250V229.9h.250V230.7h.250V230.6h.250V230.6h.250V230.4h.250V230.2h.250V230.9h.250V230.2h.250V230.4h.250V231.4h.250V231.4h.250V231.6h.250V232.6h.250V232.4h.250V232.9h.250V233.5h.250V233.5h.250V233.8h.250V233.9h.250V234.1h.250V234.0h.250V234.0h.250V234.3h.250V234.6h.250V234.4h.250V234.8h.250V234.7h.250V234.2h.250V234.6h.250V234.9h.250V234.8h.250V235.5h.250V235.6h.250V235.7h.250V235.8h.250V235.9h.250V235.9h.250V236.0h.250V236.1h.250V235.8h.250V235.9h.250V236.0h.250V236.0h.250V236.1h.250V236.1h.250V236.2h.250V236.3h.250V236.4h.250V236.5h.250V236.4h.250V236.5h.250V236.4h.250V236.5h.250V236.5h.250V236.5h.250V236.7h.250V236.6h.250V236.7h.250V236.7h.250V236.7h.250V236.7h.250V236.7h.250V236.7h.250V236.7h.250V236.7h.250V236.7h.250V236.7h.250V236.8h.250V236.8h.250V236.8h.250V236.9h.250V236.9h.250V236.9h.250V236.9h.250V236.9h.250V236.9h.250V236.9h.250V236.9h.250V236.9h.250V236.9h.250V236.9h.250V236.9h.250V236.8h.250V236.9h.250V236.9h.250V236.9h.250V236.9h.250V236.9h.250V236.9h.250V236.9h.250V236.9h.250V236.9h.250V236.9h.250V236.9h.250V236.9h.250V236.8h.250V236.9h.250V236.9h.250V236.9h.250V236.9h.250V236.9h.250V236.9h.250V236.9h.250V236.9h.250V236.9h.250V236.9h.250V236.9h.250V236.8h.250V236.8h.250V236.8h.250V236.8h.250V236.9h.250V236.9h.250V236.9h.250V236.8h.250V236.9h.250V236.9h.250V236.9h.250V236.9h.250V236.8h.250V236.8h.250V236.8h.250V236.8h.250V236.9h.250V236.9h.250V236.9h.250V236.9h.250V236.8h.250V236.9h.250V236.8h.250V236.9h.250V236.9h.250V236.9h.250V236.9h.250V236.9h.250V236.9h.250V236.9h.250V236.9h.250V236.9h.250V236.9h.250V236.9h.250V236.9h.250V236.9h.250V236.9h.250V236.9h.250V236.9h.250V236.9h.250V236.9h.250V236.9h.250V236.8h.250V236.8h.250V236.8h.250V236.8h.250V237.20Z" fill="#000"/>
<rect x="188.5" y="204.7" width="101" height="32.5" fill="none" stroke="#8a8a8a" stroke-width="1"/>
<path d="M188.5,236.90H289.5" stroke="#111" stroke-width="1.4"/>
<line x1="244.50" y1="242.8" x2="244.50" y2="275" stroke="#888" stroke-width="1"/>
<path d="M188.50,275.00V274.6h.250V274.6h.250V274.6h.250V274.6h.250V274.7h.250V274.7h.250V274.7h.250V274.7h.250V274.7h.250V274.7h.250V274.7h.250V274.7h.250V274.7h.250V274.7h.250V274.7h.250V274.7h.250V274.7h.250V274.7h.250V274.7h.250V274.7h.250V274.7h.250V274.7h.250V274.7h.250V274.7h.250V274.7h.250V274.7h.250V274.7h.250V274.7h.250V274.7h.250V274.7h.250V274.7h.250V274.7h.250V274.7h.250V274.7h.250V274.7h.250V274.7h.250V274.6h.250V274.7h.250V274.7h.250V274.7h.250V274.7h.250V274.6h.250V274.6h.250V274.6h.250V274.7h.250V274.7h.250V274.7h.250V274.7h.250V274.7h.250V274.7h.250V274.7h.250V274.7h.250V274.7h.250V274.7h.250V274.7h.250V274.7h.250V274.7h.250V274.7h.250V274.7h.250V274.7h.250V274.7h.250V274.7h.250V274.7h.250V274.7h.250V274.7h.250V274.7h.250V274.7h.250V274.7h.250V274.7h.250V274.7h.250V274.7h.250V274.7h.250V274.7h.250V274.7h.250V274.7h.250V274.7h.250V274.7h.250V274.7h.250V274.7h.250V274.7h.250V274.7h.250V274.7h.250V274.7h.250V274.6h.250V274.6h.250V274.7h.250V274.6h.250V274.7h.250V274.7h.250V274.7h.250V274.7h.250V274.7h.250V274.7h.250V274.7h.250V274.7h.250V274.7h.250V274.7h.250V274.7h.250V274.7h.250V274.7h.250V274.7h.250V274.7h.250V274.7h.250V274.7h.250V274.6h.250V274.7h.250V274.7h.250V274.7h.250V274.7h.250V274.7h.250V274.7h.250V274.7h.250V274.7h.250V274.7h.250V274.7h.250V274.7h.250V274.7h.250V274.7h.250V274.7h.250V274.7h.250V274.7h.250V274.7h.250V274.7h.250V274.6h.250V274.6h.250V274.6h.250V274.6h.250V274.6h.250V274.6h.250V274.6h.250V274.6h.250V274.5h.250V274.6h.250V274.5h.250V274.5h.250V274.5h.250V274.4h.250V274.4h.250V274.4h.250V274.4h.250V274.4h.250V274.4h.250V274.3h.250V274.2h.250V274.2h.250V274.2h.250V274.1h.250V274.1h.250V274.1h.250V274.0h.250V274.0h.250V273.9h.250V273.8h.250V273.8h.250V273.7h.250V273.6h.250V273.5h.250V273.5h.250V273.4h.250V273.4h.250V273.2h.250V273.1h.250V272.9h.250V272.7h.250V273.0h.250V272.8h.250V272.7h.250V272.6h.250V272.0h.250V271.7h.250V271.7h.250V271.4h.250V271.5h.250V271.2h.250V271.1h.250V271.0h.250V271.0h.250V270.9h.250V270.6h.250V270.7h.250V270.2h.250V270.1h.250V269.4h.250V268.9h.250V267.9h.250V267.7h.250V267.2h.250V266.5h.250V266.5h.250V265.9h.250V265.3h.250V265.5h.250V263.3h.250V262.7h.250V262.2h.250V261.6h.250V262.6h.250V262.4h.250V262.2h.250V261.0h.250V260.8h.250V261.0h.250V259.7h.250V259.4h.250V259.9h.250V259.9h.250V258.2h.250V258.6h.250V257.9h.250V256.9h.250V257.0h.250V256.5h.250V253.4h.250V253.6h.250V253.3h.250V253.8h.250V253.3h.250V252.6h.250V252.8h.250V251.3h.250V252.4h.250V249.8h.250V250.9h.250V250.6h.250V251.3h.250V250.5h.250V250.6h.250V251.9h.250V254.1h.250V254.1h.250V254.6h.250V256.0h.250V254.5h.250V254.6h.250V255.4h.250V255.9h.250V257.3h.250V257.5h.250V258.5h.250V258.9h.250V260.5h.250V261.8h.250V261.7h.250V262.6h.250V263.7h.250V264.8h.250V266.0h.250V266.6h.250V266.7h.250V267.2h.250V267.3h.250V268.1h.250V268.9h.250V269.2h.250V269.9h.250V270.1h.250V269.9h.250V270.6h.250V271.0h.250V271.6h.250V272.0h.250V272.3h.250V272.4h.250V272.4h.250V273.0h.250V273.1h.250V273.1h.250V273.2h.250V273.2h.250V273.3h.250V273.3h.250V273.5h.250V273.5h.250V273.6h.250V273.6h.250V273.8h.250V273.8h.250V273.9h.250V274.0h.250V274.1h.250V274.2h.250V274.3h.250V274.3h.250V274.3h.250V274.4h.250V274.4h.250V274.4h.250V274.4h.250V274.5h.250V274.5h.250V274.5h.250V274.5h.250V274.5h.250V274.5h.250V274.6h.250V274.6h.250V274.6h.250V274.6h.250V274.6h.250V274.6h.250V274.6h.250V274.6h.250V274.6h.250V274.7h.250V274.7h.250V274.7h.250V274.7h.250V274.7h.250V274.7h.250V274.7h.250V274.7h.250V274.7h.250V274.7h.250V274.7h.250V274.7h.250V274.7h.250V274.6h.250V274.6h.250V274.6h.250V274.6h.250V274.7h.250V274.6h.250V274.7h.250V274.6h.250V274.7h.250V274.7h.250V274.7h.250V274.7h.250V274.7h.250V274.7h.250V274.7h.250V274.7h.250V274.7h.250V274.7h.250V274.7h.250V274.6h.250V274.7h.250V274.7h.250V274.7h.250V274.7h.250V274.7h.250V274.7h.250V274.7h.250V274.7h.250V274.7h.250V274.6h.250V274.7h.250V274.7h.250V274.7h.250V274.7h.250V274.7h.250V274.7h.250V274.7h.250V274.7h.250V274.7h.250V274.7h.250V274.7h.250V274.7h.250V274.7h.250V274.6h.250V274.7h.250V274.7h.250V274.7h.250V274.7h.250V274.6h.250V274.7h.250V274.7h.250V274.7h.250V274.7h.250V274.7h.250V274.7h.250V274.7h.250V274.7h.250V274.7h.250V274.7h.250V274.7h.250V274.7h.250V274.7h.250V274.7h.250V274.7h.250V274.6h.250V274.7h.250V274.7h.250V274.7h.250V274.7h.250V274.7h.250V274.7h.250V274.7h.250V274.7h.250V274.7h.250V274.7h.250V274.7h.250V274.6h.250V274.7h.250V274.7h.250V274.6h.250V274.7h.250V274.7h.250V274.7h.250V274.7h.250V274.7h.250V274.7h.250V275.00Z" fill="#000"/>
<rect x="188.5" y="242.8" width="101" height="32.19999999999999" fill="none" stroke="#8a8a8a" stroke-width="1"/>
<path d="M188.5,274.70H289.5" stroke="#111" stroke-width="1.4"/>
<line x1="244.50" y1="280.1" x2="244.50" y2="312.6" stroke="#888" stroke-width="1"/>
<path d="M188.50,312.60V311.9h.250V311.9h.250V312.0h.250V312.0h.250V311.5h.250V311.6h.250V311.6h.250V311.6h.250V311.5h.250V311.5h.250V311.6h.250V311.5h.250V311.7h.250V311.5h.250V311.6h.250V311.5h.250V311.7h.250V311.6h.250V311.6h.250V311.6h.250V312.2h.250V312.2h.250V312.1h.250V312.2h.250V311.6h.250V311.4h.250V311.7h.250V311.5h.250V312.0h.250V311.7h.250V311.8h.250V311.6h.250V311.9h.250V311.8h.250V311.7h.250V311.8h.250V311.7h.250V311.7h.250V311.5h.250V311.3h.250V311.5h.250V311.8h.250V311.9h.250V311.9h.250V311.6h.250V311.6h.250V311.8h.250V311.9h.250V311.1h.250V311.3h.250V311.1h.250V311.2h.250V311.3h.250V311.2h.250V311.3h.250V311.3h.250V311.2h.250V311.2h.250V311.2h.250V311.2h.250V311.5h.250V311.6h.250V311.4h.250V311.3h.250V311.6h.250V311.3h.250V311.5h.250V311.5h.250V311.7h.250V311.7h.250V311.7h.250V311.6h.250V311.6h.250V311.5h.250V311.4h.250V311.5h.250V311.4h.250V311.7h.250V311.7h.250V311.5h.250V311.6h.250V311.6h.250V311.5h.250V311.5h.250V311.8h.250V311.6h.250V311.2h.250V311.6h.250V311.5h.250V311.3h.250V311.3h.250V311.3h.250V311.7h.250V311.7h.250V311.6h.250V311.8h.250V311.1h.250V311.2h.250V310.9h.250V311.0h.250V311.2h.250V311.3h.250V311.2h.250V311.2h.250V310.3h.250V310.4h.250V310.2h.250V310.3h.250V311.0h.250V310.7h.250V311.0h.250V310.8h.250V310.9h.250V310.5h.250V310.3h.250V310.6h.250V309.5h.250V309.2h.250V309.1h.250V309.2h.250V310.8h.250V310.9h.250V310.9h.250V310.6h.250V310.1h.250V310.0h.250V310.1h.250V310.4h.250V309.8h.250V309.5h.250V309.8h.250V310.0h.250V309.4h.250V309.6h.250V309.6h.250V309.6h.250V308.9h.250V309.2h.250V308.7h.250V308.6h.250V309.3h.250V309.0h.250V308.7h.250V308.0h.250V309.5h.250V310.4h.250V309.8h.250V309.5h.250V306.3h.250V306.1h.250V305.9h.250V305.7h.250V308.2h.250V307.6h.250V307.7h.250V307.9h.250V308.0h.250V307.8h.250V307.2h.250V307.4h.250V307.8h.250V307.2h.250V306.1h.250V307.1h.250V305.9h.250V306.5h.250V306.8h.250V304.9h.250V305.9h.250V305.0h.250V305.7h.250V304.3h.250V303.6h.250V304.4h.250V303.9h.250V303.4h.250V300.9h.250V300.5h.250V302.7h.250V299.8h.250V299.8h.250V298.8h.250V298.9h.250V301.1h.250V300.0h.250V297.7h.250V298.1h.250V298.8h.250V299.2h.250V299.8h.250V298.9h.250V298.2h.250V297.1h.250V298.2h.250V300.2h.250V297.5h.250V296.9h.250V292.9h.250V295.7h.250V292.7h.250V300.9h.250V298.7h.250V300.7h.250V300.4h.250V296.0h.250V296.4h.250V297.2h.250V297.9h.250V297.2h.250V296.4h.250V299.3h.250V296.7h.250V289.9h.250V290.0h.250V290.2h.250V290.3h.250V295.1h.250V294.6h.250V299.8h.250V296.0h.250V297.3h.250V298.8h.250V298.7h.250V298.1h.250V294.7h.250V293.5h.250V295.2h.250V297.2h.250V302.9h.250V304.2h.250V303.5h.250V305.6h.250V300.0h.250V298.3h.250V299.9h.250V299.4h.250V300.6h.250V300.4h.250V300.7h.250V302.5h.250V305.7h.250V303.7h.250V301.9h.250V305.2h.250V298.5h.250V297.5h.250V299.2h.250V299.9h.250V300.5h.250V301.1h.250V299.4h.250V300.4h.250V305.6h.250V305.0h.250V305.6h.250V306.6h.250V302.9h.250V304.1h.250V301.3h.250V304.4h.250V305.7h.250V306.8h.250V305.8h.250V307.5h.250V307.3h.250V307.3h.250V307.7h.250V307.9h.250V307.3h.250V307.8h.250V308.2h.250V308.0h.250V308.1h.250V307.6h.250V308.8h.250V308.9h.250V309.7h.250V310.2h.250V310.2h.250V310.3h.250V310.2h.250V310.0h.250V310.0h.250V310.3h.250V310.3h.250V310.4h.250V310.5h.250V310.6h.250V311.4h.250V311.5h.250V311.5h.250V311.7h.250V312.0h.250V312.0h.250V312.2h.250V312.3h.250V312.1h.250V312.2h.250V312.3h.250V312.4h.250V312.5h.250V312.6h.250V312.6h.250V312.6h.250V312.6h.250V312.6h.250V312.6h.250V312.6h.250V312.6h.250V312.6h.250V312.6h.250V312.6h.250V312.6h.250V312.6h.250V312.6h.250V312.6h.250V312.6h.250V312.6h.250V312.6h.250V312.6h.250V312.6h.250V312.6h.250V312.6h.250V312.6h.250V312.6h.250V312.6h.250V312.6h.250V312.6h.250V312.6h.250V312.6h.250V312.6h.250V312.6h.250V312.6h.250V312.6h.250V312.6h.250V312.6h.250V312.6h.250V312.6h.250V312.6h.250V312.6h.250V312.6h.250V312.6h.250V312.6h.250V312.6h.250V312.6h.250V312.6h.250V312.6h.250V312.6h.250V312.6h.250V312.6h.250V312.6h.250V312.6h.250V312.6h.250V312.6h.250V312.6h.250V312.6h.250V312.6h.250V312.6h.250V312.6h.250V312.6h.250V312.6h.250V312.6h.250V312.6h.250V312.6h.250V312.6h.250V312.6h.250V312.6h.250V312.6h.250V312.6h.250V312.6h.250V312.6h.250V312.6h.250V312.6h.250V312.6h.250V312.6h.250V312.6h.250V312.6h.250V312.6h.250V312.6h.250V312.6h.250V312.6h.250V312.6h.250V312.6h.250V312.6h.250V312.6h.250V312.6h.250V312.6h.250V312.6h.250V312.6h.250V312.6h.250V312.6h.250V312.6h.250V312.6h.250V312.6h.250V312.6h.250V312.6h.250V312.6h.250V312.6h.250V312.6h.250V312.6h.250V312.6h.250V312.6h.250V312.60Z" fill="#000"/>
<rect x="188.5" y="280.1" width="101" height="32.5" fill="none" stroke="#8a8a8a" stroke-width="1"/>
<path d="M188.5,312.30H289.5" stroke="#111" stroke-width="1.4"/>
<line x1="244.50" y1="318.0" x2="244.50" y2="350.4" stroke="#888" stroke-width="1"/>
<path d="M188.50,350.40V350.4h.250V350.4h.250V350.4h.250V350.4h.250V350.4h.250V350.4h.250V350.4h.250V350.4h.250V350.4h.250V350.4h.250V350.4h.250V350.4h.250V350.4h.250V350.4h.250V350.4h.250V350.4h.250V350.4h.250V350.4h.250V350.4h.250V350.4h.250V350.4h.250V350.4h.250V350.4h.250V350.4h.250V350.4h.250V350.4h.250V350.4h.250V350.4h.250V350.4h.250V350.4h.250V350.4h.250V350.4h.250V350.4h.250V350.4h.250V350.4h.250V350.4h.250V350.4h.250V350.4h.250V350.4h.250V350.4h.250V350.4h.250V350.4h.250V350.4h.250V350.4h.250V350.4h.250V350.4h.250V350.4h.250V350.4h.250V350.4h.250V350.4h.250V350.4h.250V350.4h.250V350.4h.250V350.4h.250V350.4h.250V350.4h.250V350.4h.250V350.4h.250V350.4h.250V350.4h.250V350.4h.250V350.4h.250V350.4h.250V350.4h.250V350.4h.250V350.4h.250V350.4h.250V350.4h.250V350.4h.250V350.4h.250V350.4h.250V350.4h.250V350.4h.250V350.4h.250V350.4h.250V350.4h.250V350.4h.250V350.4h.250V350.4h.250V350.4h.250V350.4h.250V350.4h.250V350.4h.250V350.4h.250V350.4h.250V350.4h.250V350.4h.250V350.4h.250V350.4h.250V350.4h.250V350.4h.250V350.4h.250V350.4h.250V350.4h.250V350.4h.250V350.4h.250V350.4h.250V350.4h.250V350.4h.250V350.4h.250V350.4h.250V350.4h.250V350.4h.250V350.4h.250V350.4h.250V350.4h.250V350.4h.250V350.4h.250V350.4h.250V350.4h.250V350.4h.250V350.4h.250V350.4h.250V350.4h.250V350.4h.250V350.4h.250V350.4h.250V350.4h.250V350.4h.250V350.4h.250V350.4h.250V350.4h.250V350.4h.250V350.4h.250V350.4h.250V350.4h.250V350.4h.250V350.4h.250V350.4h.250V350.4h.250V350.4h.250V350.4h.250V350.4h.250V350.4h.250V350.4h.250V350.4h.250V350.4h.250V350.4h.250V350.4h.250V350.4h.250V350.4h.250V350.4h.250V350.4h.250V350.4h.250V350.4h.250V350.4h.250V350.4h.250V350.4h.250V350.4h.250V350.4h.250V350.4h.250V350.4h.250V350.4h.250V350.4h.250V350.4h.250V350.4h.250V350.4h.250V350.4h.250V350.4h.250V350.4h.250V350.4h.250V350.4h.250V350.4h.250V350.4h.250V350.4h.250V350.4h.250V350.4h.250V350.4h.250V350.4h.250V350.4h.250V350.4h.250V350.4h.250V350.4h.250V350.4h.250V350.4h.250V350.4h.250V350.4h.250V350.4h.250V350.4h.250V350.4h.250V350.4h.250V350.4h.250V350.3h.250V350.3h.250V350.3h.250V350.2h.250V350.2h.250V350.2h.250V350.2h.250V350.1h.250V350.1h.250V350.1h.250V350.0h.250V350.0h.250V350.0h.250V349.9h.250V349.9h.250V349.9h.250V349.8h.250V349.8h.250V349.8h.250V349.7h.250V349.5h.250V349.4h.250V349.2h.250V349.0h.250V348.9h.250V348.7h.250V348.5h.250V348.3h.250V348.2h.250V348.0h.250V347.9h.250V347.5h.250V346.9h.250V346.3h.250V345.8h.250V345.2h.250V344.6h.250V344.0h.250V343.2h.250V342.6h.250V342.0h.250V341.4h.250V341.2h.250V340.3h.250V339.1h.250V337.9h.250V336.6h.250V335.3h.250V334.0h.250V332.7h.250V331.9h.250V330.7h.250V330.0h.250V329.3h.250V328.5h.250V327.6h.250V326.8h.250V326.0h.250V325.9h.250V325.6h.250V326.1h.250V326.3h.250V325.4h.250V325.7h.250V326.1h.250V326.4h.250V327.5h.250V328.1h.250V329.0h.250V330.0h.250V330.9h.250V332.1h.250V333.0h.250V334.0h.250V334.5h.250V335.6h.250V336.6h.250V337.7h.250V339.2h.250V340.1h.250V341.2h.250V342.1h.250V343.2h.250V344.2h.250V344.6h.250V345.1h.250V345.5h.250V346.0h.250V346.5h.250V346.9h.250V347.4h.250V347.8h.250V348.0h.250V348.2h.250V348.4h.250V348.6h.250V348.8h.250V349.0h.250V349.2h.250V349.4h.250V349.5h.250V349.5h.250V349.6h.250V349.6h.250V349.7h.250V349.7h.250V349.8h.250V349.8h.250V349.9h.250V349.9h.250V350.0h.250V350.0h.250V350.1h.250V350.1h.250V350.2h.250V350.2h.250V350.3h.250V350.3h.250V350.4h.250V350.4h.250V350.4h.250V350.4h.250V350.4h.250V350.4h.250V350.4h.250V350.4h.250V350.4h.250V350.4h.250V350.4h.250V350.4h.250V350.4h.250V350.4h.250V350.4h.250V350.4h.250V350.4h.250V350.4h.250V350.4h.250V350.4h.250V350.4h.250V350.4h.250V350.4h.250V350.4h.250V350.4h.250V350.4h.250V350.4h.250V350.4h.250V350.4h.250V350.4h.250V350.4h.250V350.4h.250V350.4h.250V350.4h.250V350.4h.250V350.4h.250V350.4h.250V350.4h.250V350.4h.250V350.4h.250V350.4h.250V350.4h.250V350.4h.250V350.4h.250V350.4h.250V350.4h.250V350.4h.250V350.4h.250V350.4h.250V350.4h.250V350.4h.250V350.4h.250V350.4h.250V350.4h.250V350.4h.250V350.4h.250V350.4h.250V350.4h.250V350.4h.250V350.4h.250V350.4h.250V350.4h.250V350.4h.250V350.4h.250V350.4h.250V350.4h.250V350.4h.250V350.4h.250V350.4h.250V350.4h.250V350.4h.250V350.4h.250V350.4h.250V350.4h.250V350.4h.250V350.4h.250V350.4h.250V350.4h.250V350.4h.250V350.4h.250V350.4h.250V350.4h.250V350.4h.250V350.4h.250V350.4h.250V350.4h.250V350.4h.250V350.4h.250V350.4h.250V350.4h.250V350.4h.250V350.4h.250V350.4h.250V350.4h.250V350.4h.250V350.4h.250V350.4h.250V350.4h.250V350.4h.250V350.4h.250V350.4h.250V350.4h.250V350.40Z" fill="#000"/>
<rect x="188.5" y="318.0" width="101" height="32.39999999999998" fill="none" stroke="#8a8a8a" stroke-width="1"/>
<path d="M188.5,350.10H289.5" stroke="#111" stroke-width="1.4"/>
<text x="181.10" y="362.5" font-family='"Liberation Serif", serif' font-size="11.2" fill="#111" stroke="#111" stroke-width="0.3" textLength="13.4" lengthAdjust="spacingAndGlyphs">10<tspan font-size="5.4" dy="-3.2">0</tspan></text>
<text x="205.40" y="362.5" font-family='"Liberation Serif", serif' font-size="11.2" fill="#111" stroke="#111" stroke-width="0.3" textLength="13.4" lengthAdjust="spacingAndGlyphs">10<tspan font-size="5.4" dy="-3.2">1</tspan></text>
<text x="229.70" y="362.5" font-family='"Liberation Serif", serif' font-size="11.2" fill="#111" stroke="#111" stroke-width="0.3" textLength="13.4" lengthAdjust="spacingAndGlyphs">10<tspan font-size="5.4" dy="-3.2">2</tspan></text>
<text x="254.00" y="362.5" font-family='"Liberation Serif", serif' font-size="11.2" fill="#111" stroke="#111" stroke-width="0.3" textLength="13.4" lengthAdjust="spacingAndGlyphs">10<tspan font-size="5.4" dy="-3.2">3</tspan></text>
<text x="278.30" y="362.5" font-family='"Liberation Serif", serif' font-size="11.2" fill="#111" stroke="#111" stroke-width="0.3" textLength="13.4" lengthAdjust="spacingAndGlyphs">10<tspan font-size="5.4" dy="-3.2">4</tspan></text>
<text x="216.30" y="374.90" font-family='"Liberation Sans", sans-serif' font-size="9.5" font-weight="normal" text-anchor="start" fill="#000" stroke="#000" stroke-width="0.15">&#946;-TCR</text>
<line x1="324.50" y1="204.7" x2="324.50" y2="237.2" stroke="#888" stroke-width="1"/>
<path d="M300.50,237.20V234.8h.250V234.7h.250V234.3h.250V235.1h.250V234.3h.250V234.7h.250V234.7h.250V234.4h.250V235.6h.250V235.4h.250V235.7h.250V235.4h.250V234.0h.250V235.2h.250V234.2h.250V234.3h.250V234.6h.250V235.4h.250V235.3h.250V235.2h.250V234.0h.250V234.5h.250V234.4h.250V234.8h.250V234.6h.250V235.0h.250V234.3h.250V235.2h.250V233.3h.250V232.7h.250V233.5h.250V233.2h.250V234.1h.250V233.4h.250V233.5h.250V234.0h.250V232.2h.250V232.6h.250V233.0h.250V232.4h.250V234.1h.250V233.1h.250V233.4h.250V232.7h.250V233.0h.250V232.0h.250V233.1h.250V232.8h.250V232.1h.250V232.5h.250V230.1h.250V231.1h.250V229.6h.250V230.5h.250V229.7h.250V230.6h.250V231.0h.250V230.7h.250V231.3h.250V230.6h.250V229.8h.250V228.1h.250V231.4h.250V229.4h.250V232.9h.250V233.7h.250V232.8h.250V233.3h.250V234.6h.250V233.0h.250V234.1h.250V233.4h.250V225.5h.250V225.4h.250V225.3h.250V225.1h.250V225.0h.250V224.9h.250V224.8h.250V224.6h.250V224.5h.250V224.5h.250V224.5h.250V224.5h.250V229.3h.250V229.8h.250V228.2h.250V230.3h.250V230.1h.250V229.6h.250V228.9h.250V229.6h.250V229.0h.250V226.3h.250V227.7h.250V228.7h.250V226.2h.250V227.1h.250V227.4h.250V227.7h.250V230.1h.250V230.0h.250V232.7h.250V228.3h.250V231.6h.250V232.0h.250V231.3h.250V231.5h.250V225.7h.250V224.7h.250V225.3h.250V224.3h.250V227.6h.250V225.3h.250V228.9h.250V228.7h.250V225.7h.250V226.1h.250V227.5h.250V224.0h.250V229.8h.250V231.5h.250V231.6h.250V231.6h.250V226.9h.250V224.1h.250V225.0h.250V224.3h.250V220.5h.250V225.0h.250V221.6h.250V224.9h.250V222.3h.250V221.4h.250V222.3h.250V219.2h.250V219.6h.250V219.6h.250V220.9h.250V218.9h.250V214.1h.250V212.4h.250V213.2h.250V215.6h.250V228.4h.250V230.9h.250V229.8h.250V227.8h.250V228.2h.250V224.2h.250V223.1h.250V227.7h.250V222.0h.250V220.0h.250V220.6h.250V218.7h.250V228.7h.250V225.7h.250V229.2h.250V228.5h.250V219.4h.250V215.2h.250V218.6h.250V217.7h.250V217.3h.250V219.7h.250V222.0h.250V221.3h.250V218.7h.250V219.4h.250V221.8h.250V224.6h.250V227.9h.250V228.7h.250V229.6h.250V227.4h.250V224.9h.250V225.7h.250V225.5h.250V226.4h.250V224.4h.250V226.0h.250V226.7h.250V228.1h.250V230.8h.250V230.1h.250V230.1h.250V229.6h.250V228.7h.250V228.9h.250V229.5h.250V228.9h.250V229.2h.250V229.7h.250V231.3h.250V230.8h.250V231.4h.250V231.8h.250V231.6h.250V233.0h.250V233.1h.250V233.3h.250V233.7h.250V233.3h.250V235.1h.250V235.9h.250V235.8h.250V235.7h.250V233.7h.250V234.5h.250V234.1h.250V234.2h.250V235.0h.250V234.5h.250V235.3h.250V235.2h.250V234.6h.250V234.7h.250V235.2h.250V235.4h.250V235.2h.250V235.3h.250V235.0h.250V235.3h.250V235.6h.250V235.3h.250V235.7h.250V236.0h.250V236.2h.250V236.4h.250V236.2h.250V236.2h.250V236.3h.250V236.5h.250V236.4h.250V236.4h.250V236.6h.250V236.7h.250V236.6h.250V236.6h.250V236.5h.250V236.7h.250V236.6h.250V236.6h.250V236.6h.250V236.6h.250V236.7h.250V236.7h.250V236.6h.250V236.7h.250V236.7h.250V236.7h.250V236.7h.250V236.6h.250V236.7h.250V236.6h.250V236.8h.250V236.9h.250V236.9h.250V236.9h.250V236.7h.250V236.7h.250V236.7h.250V236.7h.250V236.9h.250V236.9h.250V236.9h.250V236.9h.250V236.9h.250V236.8h.250V236.8h.250V236.8h.250V236.9h.250V236.9h.250V236.9h.250V236.9h.250V236.9h.250V236.9h.250V236.9h.250V236.9h.250V236.8h.250V236.8h.250V236.8h.250V236.8h.250V237.0h.250V236.9h.250V237.0h.250V237.0h.250V236.9h.250V236.9h.250V236.8h.250V236.9h.250V237.1h.250V237.0h.250V237.0h.250V237.1h.250V236.8h.250V236.9h.250V236.8h.250V236.8h.250V237.0h.250V236.9h.250V236.9h.250V236.9h.250V236.9h.250V236.9h.250V236.8h.250V236.8h.250V236.8h.250V236.9h.250V236.9h.250V236.8h.250V236.9h.250V236.9h.250V236.9h.250V236.8h.250V236.9h.250V236.9h.250V236.9h.250V236.9h.250V237.0h.250V236.8h.250V236.9h.250V236.9h.250V236.8h.250V236.8h.250V236.8h.250V236.8h.250V237.0h.250V236.9h.250V236.9h.250V236.9h.250V236.9h.250V236.9h.250V236.8h.250V236.8h.250V236.8h.250V236.8h.250V236.7h.250V236.9h.250V237.0h.250V236.9h.250V236.9h.250V237.0h.250V236.7h.250V236.8h.250V236.7h.250V236.7h.250V236.9h.250V236.7h.250V236.8h.250V236.8h.250V236.9h.250V236.9h.250V236.9h.250V236.9h.250V236.9h.250V236.9h.250V236.9h.250V236.9h.250V236.7h.250V236.9h.250V236.9h.250V236.8h.250V236.9h.250V236.9h.250V236.9h.250V236.9h.250V236.7h.250V236.7h.250V236.7h.250V236.7h.250V237.0h.250V237.0h.250V236.9h.250V237.0h.250V236.8h.250V236.9h.250V236.9h.250V236.8h.250V236.9h.250V236.9h.250V236.9h.250V236.9h.250V237.1h.250V237.1h.250V237.0h.250V237.0h.250V236.9h.250V237.0h.250V236.9h.250V236.9h.250V237.0h.250V237.0h.250V237.0h.250V237.0h.250V236.9h.250V236.9h.250V236.9h.250V237.0h.250V236.8h.250V236.9h.250V237.20Z" fill="#000"/>
<rect x="300.5" y="204.7" width="101" height="32.5" fill="none" stroke="#8a8a8a" stroke-width="1"/>
<path d="M300.5,236.90H401.5" stroke="#111" stroke-width="1.4"/>
<line x1="324.50" y1="242.8" x2="324.50" y2="275" stroke="#888" stroke-width="1"/>
<path d="M300.50,275.00V258.5h.250V258.5h.250V259.2h.250V258.5h.250V260.1h.250V260.2h.250V259.1h.250V260.7h.250V257.7h.250V257.5h.250V259.9h.250V257.3h.250V257.3h.250V255.6h.250V257.9h.250V257.7h.250V258.4h.250V257.5h.250V259.6h.250V258.5h.250V260.0h.250V260.2h.250V260.9h.250V258.0h.250V256.7h.250V256.5h.250V258.0h.250V257.2h.250V255.9h.250V257.8h.250V255.1h.250V255.5h.250V252.2h.250V250.3h.250V251.7h.250V251.9h.250V252.9h.250V253.6h.250V254.0h.250V254.6h.250V251.9h.250V251.9h.250V252.0h.250V252.0h.250V255.8h.250V256.9h.250V256.8h.250V256.3h.250V257.8h.250V258.8h.250V258.3h.250V257.1h.250V256.6h.250V256.7h.250V254.8h.250V258.6h.250V254.4h.250V256.7h.250V257.4h.250V256.0h.250V258.7h.250V259.8h.250V259.5h.250V260.9h.250V258.4h.250V258.2h.250V257.8h.250V260.0h.250V260.2h.250V261.7h.250V260.4h.250V260.5h.250V259.8h.250V260.9h.250V260.8h.250V261.6h.250V260.3h.250V261.2h.250V259.9h.250V261.5h.250V261.1h.250V260.0h.250V260.9h.250V261.5h.250V262.7h.250V264.4h.250V262.0h.250V262.7h.250V263.5h.250V263.3h.250V262.0h.250V264.1h.250V262.8h.250V262.4h.250V263.3h.250V264.7h.250V265.2h.250V264.8h.250V264.9h.250V264.6h.250V264.9h.250V265.0h.250V265.7h.250V265.2h.250V265.0h.250V264.8h.250V264.6h.250V265.6h.250V264.1h.250V264.1h.250V263.8h.250V263.4h.250V265.1h.250V264.4h.250V265.0h.250V265.3h.250V265.4h.250V265.1h.250V265.4h.250V265.7h.250V263.0h.250V263.0h.250V263.0h.250V263.0h.250V264.5h.250V264.8h.250V265.8h.250V265.1h.250V264.0h.250V263.4h.250V264.0h.250V264.0h.250V267.1h.250V266.9h.250V266.3h.250V267.2h.250V264.1h.250V264.2h.250V263.6h.250V264.3h.250V264.1h.250V265.2h.250V264.3h.250V264.3h.250V267.0h.250V266.3h.250V265.9h.250V266.5h.250V263.9h.250V265.1h.250V264.0h.250V263.8h.250V265.5h.250V264.9h.250V264.1h.250V264.2h.250V266.4h.250V266.2h.250V265.6h.250V265.8h.250V265.8h.250V265.9h.250V266.7h.250V265.8h.250V266.9h.250V267.5h.250V268.1h.250V268.2h.250V267.9h.250V268.1h.250V267.7h.250V269.2h.250V269.9h.250V270.1h.250V270.4h.250V270.5h.250V268.9h.250V269.3h.250V269.5h.250V269.7h.250V269.5h.250V269.0h.250V269.3h.250V269.8h.250V269.7h.250V269.8h.250V270.0h.250V270.2h.250V270.7h.250V271.3h.250V271.2h.250V271.4h.250V272.0h.250V272.0h.250V272.2h.250V272.3h.250V272.3h.250V272.4h.250V272.7h.250V272.8h.250V272.8h.250V272.8h.250V273.0h.250V273.0h.250V273.3h.250V273.6h.250V273.6h.250V273.6h.250V273.4h.250V273.4h.250V273.5h.250V273.3h.250V273.5h.250V273.5h.250V273.4h.250V273.5h.250V273.2h.250V273.3h.250V273.3h.250V273.4h.250V273.8h.250V273.8h.250V273.7h.250V273.9h.250V274.0h.250V274.0h.250V274.1h.250V274.2h.250V273.8h.250V274.0h.250V273.9h.250V273.9h.250V274.1h.250V274.1h.250V274.0h.250V274.1h.250V274.3h.250V274.3h.250V274.3h.250V274.3h.250V274.3h.250V274.3h.250V274.4h.250V274.3h.250V274.4h.250V274.4h.250V274.4h.250V274.4h.250V274.4h.250V274.4h.250V274.4h.250V274.5h.250V274.4h.250V274.4h.250V274.5h.250V274.5h.250V274.4h.250V274.5h.250V274.5h.250V274.5h.250V274.6h.250V274.5h.250V274.6h.250V274.6h.250V274.6h.250V274.6h.250V274.6h.250V274.6h.250V274.6h.250V274.6h.250V274.6h.250V274.6h.250V274.6h.250V274.7h.250V274.7h.250V274.6h.250V274.6h.250V274.6h.250V274.6h.250V274.7h.250V274.7h.250V274.7h.250V274.8h.250V274.7h.250V274.7h.250V274.7h.250V274.8h.250V274.8h.250V274.8h.250V274.8h.250V274.8h.250V274.8h.250V274.9h.250V274.9h.250V274.9h.250V274.9h.250V274.9h.250V274.9h.250V275.0h.250V275.0h.250V275.0h.250V275.0h.250V275.0h.250V275.0h.250V275.0h.250V275.0h.250V275.0h.250V275.0h.250V275.0h.250V275.0h.250V275.0h.250V275.0h.250V275.0h.250V275.0h.250V275.0h.250V275.0h.250V275.0h.250V275.0h.250V275.0h.250V275.0h.250V275.0h.250V275.0h.250V275.0h.250V275.0h.250V275.0h.250V275.0h.250V275.0h.250V275.0h.250V275.0h.250V275.0h.250V275.0h.250V275.0h.250V275.0h.250V275.0h.250V275.0h.250V275.0h.250V275.0h.250V275.0h.250V275.0h.250V275.0h.250V275.0h.250V275.0h.250V275.0h.250V275.0h.250V275.0h.250V275.0h.250V275.0h.250V275.0h.250V275.0h.250V275.0h.250V275.0h.250V275.0h.250V275.0h.250V275.0h.250V275.0h.250V275.0h.250V275.0h.250V275.0h.250V275.0h.250V275.0h.250V275.0h.250V275.0h.250V275.0h.250V275.0h.250V275.0h.250V275.0h.250V275.0h.250V275.0h.250V275.0h.250V275.0h.250V275.0h.250V275.0h.250V275.0h.250V275.0h.250V275.0h.250V275.0h.250V275.0h.250V275.0h.250V275.0h.250V275.0h.250V275.0h.250V275.0h.250V275.0h.250V275.0h.250V275.0h.250V275.0h.250V275.0h.250V275.0h.250V275.0h.250V275.0h.250V275.0h.250V275.0h.250V275.0h.250V275.0h.250V275.0h.250V275.0h.250V275.0h.250V275.0h.250V275.0h.250V275.0h.250V275.0h.250V275.0h.250V275.00Z" fill="#000"/>
<rect x="300.5" y="242.8" width="101" height="32.19999999999999" fill="none" stroke="#8a8a8a" stroke-width="1"/>
<path d="M300.5,274.70H401.5" stroke="#111" stroke-width="1.4"/>
<line x1="324.50" y1="280.1" x2="324.50" y2="312.6" stroke="#888" stroke-width="1"/>
<path d="M300.50,312.60V308.9h.250V308.0h.250V308.2h.250V308.3h.250V308.1h.250V309.2h.250V308.7h.250V308.9h.250V309.1h.250V309.3h.250V308.3h.250V310.2h.250V306.0h.250V306.1h.250V305.4h.250V306.0h.250V308.7h.250V308.1h.250V307.4h.250V307.8h.250V311.1h.250V309.6h.250V309.7h.250V309.5h.250V304.6h.250V304.4h.250V302.5h.250V303.9h.250V306.7h.250V305.9h.250V306.4h.250V306.5h.250V307.9h.250V307.6h.250V304.2h.250V305.8h.250V301.2h.250V304.6h.250V302.2h.250V303.7h.250V300.4h.250V301.8h.250V300.7h.250V299.5h.250V295.5h.250V295.2h.250V294.9h.250V294.7h.250V301.7h.250V299.6h.250V300.3h.250V298.4h.250V300.7h.250V300.8h.250V299.0h.250V301.5h.250V303.2h.250V305.7h.250V304.6h.250V307.0h.250V299.5h.250V300.8h.250V300.0h.250V300.5h.250V298.6h.250V302.4h.250V300.8h.250V299.0h.250V295.1h.250V297.4h.250V295.6h.250V296.0h.250V299.1h.250V299.9h.250V300.8h.250V298.0h.250V297.4h.250V294.5h.250V298.7h.250V299.4h.250V294.2h.250V294.2h.250V295.0h.250V300.9h.250V292.0h.250V294.2h.250V294.1h.250V292.4h.250V306.8h.250V307.0h.250V301.9h.250V305.0h.250V291.3h.250V292.7h.250V298.2h.250V295.5h.250V302.3h.250V300.4h.250V299.0h.250V301.2h.250V301.6h.250V303.3h.250V300.2h.250V303.1h.250V299.0h.250V298.9h.250V299.9h.250V299.8h.250V304.2h.250V303.2h.250V305.9h.250V304.0h.250V305.5h.250V308.2h.250V308.6h.250V307.0h.250V307.4h.250V309.9h.250V309.2h.250V307.3h.250V301.0h.250V299.7h.250V301.9h.250V298.6h.250V305.8h.250V306.6h.250V305.3h.250V303.7h.250V309.1h.250V310.3h.250V308.9h.250V309.2h.250V303.7h.250V306.3h.250V305.6h.250V305.0h.250V304.9h.250V305.4h.250V307.3h.250V306.7h.250V309.4h.250V306.8h.250V308.6h.250V308.6h.250V308.8h.250V308.6h.250V309.1h.250V308.7h.250V306.5h.250V308.1h.250V307.3h.250V308.1h.250V307.8h.250V309.1h.250V308.7h.250V310.6h.250V308.3h.250V308.6h.250V308.9h.250V308.7h.250V309.1h.250V308.2h.250V308.4h.250V308.6h.250V308.8h.250V308.1h.250V308.2h.250V310.1h.250V309.6h.250V309.8h.250V309.9h.250V310.2h.250V308.3h.250V309.1h.250V308.2h.250V308.5h.250V308.7h.250V309.5h.250V309.9h.250V309.1h.250V311.2h.250V311.7h.250V311.5h.250V311.9h.250V310.5h.250V310.9h.250V309.8h.250V310.9h.250V310.1h.250V309.8h.250V310.4h.250V310.1h.250V310.5h.250V309.9h.250V310.4h.250V310.3h.250V312.0h.250V311.7h.250V311.5h.250V312.1h.250V310.9h.250V310.5h.250V310.6h.250V310.4h.250V310.4h.250V310.7h.250V310.5h.250V311.0h.250V311.0h.250V311.2h.250V311.1h.250V311.3h.250V311.1h.250V311.0h.250V311.2h.250V311.4h.250V311.7h.250V311.6h.250V311.6h.250V311.8h.250V311.5h.250V311.6h.250V311.3h.250V311.3h.250V311.8h.250V311.9h.250V312.0h.250V312.1h.250V311.5h.250V311.7h.250V311.6h.250V311.6h.250V311.7h.250V311.7h.250V311.8h.250V311.9h.250V312.1h.250V312.2h.250V312.3h.250V312.4h.250V312.6h.250V312.6h.250V312.6h.250V312.6h.250V312.6h.250V312.6h.250V312.6h.250V312.6h.250V312.6h.250V312.6h.250V312.6h.250V312.6h.250V312.6h.250V312.6h.250V312.6h.250V312.6h.250V312.6h.250V312.6h.250V312.6h.250V312.6h.250V312.6h.250V312.6h.250V312.6h.250V312.6h.250V312.6h.250V312.6h.250V312.6h.250V312.6h.250V312.6h.250V312.6h.250V312.6h.250V312.6h.250V312.6h.250V312.6h.250V312.6h.250V312.6h.250V312.6h.250V312.6h.250V312.6h.250V312.6h.250V312.6h.250V312.6h.250V312.6h.250V312.6h.250V312.6h.250V312.6h.250V312.6h.250V312.6h.250V312.6h.250V312.6h.250V312.6h.250V312.6h.250V312.6h.250V312.6h.250V312.6h.250V312.6h.250V312.6h.250V312.6h.250V312.6h.250V312.6h.250V312.6h.250V312.6h.250V312.6h.250V312.6h.250V312.6h.250V312.6h.250V312.6h.250V312.6h.250V312.6h.250V312.6h.250V312.6h.250V312.6h.250V312.6h.250V312.6h.250V312.6h.250V312.6h.250V312.6h.250V312.6h.250V312.6h.250V312.6h.250V312.6h.250V312.6h.250V312.6h.250V312.6h.250V312.6h.250V312.6h.250V312.6h.250V312.6h.250V312.6h.250V312.6h.250V312.6h.250V312.6h.250V312.6h.250V312.6h.250V312.6h.250V312.6h.250V312.6h.250V312.6h.250V312.6h.250V312.6h.250V311.0h.250V311.0h.250V311.0h.250V311.0h.250V312.6h.250V312.6h.250V312.6h.250V312.6h.250V312.6h.250V312.6h.250V312.6h.250V312.6h.250V312.6h.250V312.6h.250V312.6h.250V312.6h.250V312.6h.250V312.6h.250V312.6h.250V312.6h.250V312.6h.250V312.6h.250V312.6h.250V312.6h.250V312.6h.250V312.6h.250V312.6h.250V312.6h.250V312.6h.250V312.6h.250V312.6h.250V312.6h.250V312.6h.250V312.6h.250V312.6h.250V312.6h.250V312.6h.250V312.6h.250V312.6h.250V312.6h.250V312.6h.250V312.6h.250V312.6h.250V312.6h.250V312.6h.250V312.6h.250V312.6h.250V312.6h.250V312.6h.250V312.6h.250V312.6h.250V312.6h.250V312.6h.250V312.6h.250V312.6h.250V312.6h.250V312.6h.250V312.6h.250V312.6h.250V312.6h.250V312.6h.250V312.6h.250V312.60Z" fill="#000"/>
<rect x="300.5" y="280.1" width="101" height="32.5" fill="none" stroke="#8a8a8a" stroke-width="1"/>
<path d="M300.5,312.30H401.5" stroke="#111" stroke-width="1.4"/>
<line x1="324.50" y1="318.0" x2="324.50" y2="350.4" stroke="#888" stroke-width="1"/>
<path d="M300.50,350.40V322.9h.250V323.6h.250V323.4h.250V323.6h.250V324.3h.250V324.5h.250V324.7h.250V324.7h.250V324.7h.250V324.4h.250V324.1h.250V324.5h.250V323.8h.250V324.6h.250V324.3h.250V323.7h.250V324.3h.250V323.8h.250V323.7h.250V323.8h.250V323.6h.250V323.8h.250V324.3h.250V324.0h.250V324.8h.250V325.2h.250V325.1h.250V325.2h.250V324.2h.250V323.9h.250V324.3h.250V323.5h.250V323.8h.250V323.7h.250V323.7h.250V324.2h.250V325.2h.250V325.2h.250V325.1h.250V325.0h.250V324.3h.250V324.5h.250V324.8h.250V324.2h.250V324.1h.250V324.2h.250V324.7h.250V324.6h.250V324.1h.250V324.7h.250V324.7h.250V325.0h.250V325.1h.250V325.2h.250V325.8h.250V325.9h.250V326.4h.250V326.3h.250V326.4h.250V326.3h.250V326.6h.250V327.0h.250V328.0h.250V328.4h.250V328.3h.250V329.3h.250V328.9h.250V329.4h.250V329.2h.250V329.2h.250V329.5h.250V329.9h.250V331.1h.250V331.5h.250V332.0h.250V333.1h.250V333.6h.250V334.3h.250V334.7h.250V335.6h.250V335.2h.250V336.0h.250V336.9h.250V337.7h.250V339.1h.250V339.8h.250V340.5h.250V341.4h.250V342.4h.250V343.0h.250V343.6h.250V344.5h.250V345.2h.250V345.8h.250V346.5h.250V347.2h.250V347.9h.250V347.9h.250V348.0h.250V348.0h.250V348.0h.250V348.0h.250V348.1h.250V348.1h.250V348.2h.250V348.3h.250V348.3h.250V348.4h.250V348.5h.250V348.4h.250V348.4h.250V348.5h.250V348.4h.250V348.4h.250V348.4h.250V348.4h.250V348.5h.250V348.5h.250V348.4h.250V348.5h.250V348.4h.250V348.4h.250V348.4h.250V348.5h.250V348.5h.250V348.5h.250V348.5h.250V348.5h.250V348.6h.250V348.6h.250V348.7h.250V348.6h.250V348.7h.250V348.7h.250V348.7h.250V348.7h.250V348.8h.250V348.8h.250V348.8h.250V348.8h.250V348.8h.250V348.8h.250V348.8h.250V348.8h.250V348.8h.250V348.9h.250V348.8h.250V348.9h.250V349.0h.250V348.9h.250V349.0h.250V349.0h.250V349.0h.250V349.0h.250V349.0h.250V349.0h.250V349.0h.250V349.1h.250V349.1h.250V349.1h.250V349.1h.250V349.2h.250V349.2h.250V349.2h.250V349.2h.250V349.2h.250V349.3h.250V349.3h.250V349.3h.250V349.3h.250V349.3h.250V349.3h.250V349.3h.250V349.3h.250V349.3h.250V349.4h.250V349.3h.250V349.4h.250V349.4h.250V349.4h.250V349.4h.250V349.5h.250V349.5h.250V349.5h.250V349.5h.250V349.5h.250V349.5h.250V349.5h.250V349.6h.250V349.6h.250V349.6h.250V349.6h.250V349.6h.250V349.6h.250V349.6h.250V349.7h.250V349.7h.250V349.7h.250V349.7h.250V349.7h.250V349.7h.250V349.8h.250V349.8h.250V349.8h.250V349.8h.250V349.8h.250V349.8h.250V349.8h.250V349.8h.250V349.8h.250V349.8h.250V349.8h.250V349.8h.250V349.8h.250V349.9h.250V349.9h.250V349.9h.250V349.9h.250V349.9h.250V349.9h.250V349.9h.250V349.9h.250V349.9h.250V349.9h.250V349.9h.250V349.9h.250V350.0h.250V350.0h.250V350.0h.250V350.0h.250V350.0h.250V350.0h.250V350.0h.250V350.0h.250V350.0h.250V350.0h.250V350.0h.250V350.0h.250V350.0h.250V350.1h.250V350.1h.250V350.1h.250V350.1h.250V350.1h.250V350.1h.250V350.1h.250V350.1h.250V350.1h.250V350.1h.250V350.1h.250V350.1h.250V350.1h.250V350.1h.250V350.1h.250V350.1h.250V350.1h.250V350.1h.250V350.1h.250V350.1h.250V350.1h.250V350.1h.250V350.1h.250V350.1h.250V350.1h.250V350.1h.250V350.1h.250V350.1h.250V350.1h.250V350.1h.250V350.1h.250V350.1h.250V350.1h.250V350.1h.250V350.1h.250V350.1h.250V350.1h.250V350.1h.250V350.1h.250V350.1h.250V350.1h.250V350.1h.250V350.1h.250V350.1h.250V350.1h.250V350.1h.250V350.1h.250V350.1h.250V350.1h.250V350.1h.250V350.1h.250V350.1h.250V350.1h.250V350.1h.250V350.1h.250V350.1h.250V350.1h.250V350.1h.250V350.1h.250V350.1h.250V350.1h.250V350.1h.250V350.1h.250V350.1h.250V350.1h.250V350.1h.250V350.1h.250V350.1h.250V350.1h.250V350.1h.250V350.1h.250V350.1h.250V350.1h.250V350.1h.250V350.1h.250V350.1h.250V350.1h.250V350.1h.250V350.1h.250V350.1h.250V350.1h.250V350.1h.250V350.1h.250V350.1h.250V350.1h.250V350.1h.250V350.1h.250V350.1h.250V350.1h.250V350.1h.250V350.1h.250V350.1h.250V350.1h.250V350.1h.250V350.1h.250V350.1h.250V350.1h.250V350.1h.250V350.1h.250V350.1h.250V350.1h.250V350.1h.250V350.1h.250V350.1h.250V350.1h.250V350.1h.250V350.1h.250V350.1h.250V350.1h.250V350.1h.250V350.1h.250V350.1h.250V350.1h.250V350.1h.250V350.1h.250V350.1h.250V350.1h.250V350.1h.250V350.1h.250V350.1h.250V350.1h.250V350.1h.250V350.1h.250V350.1h.250V350.1h.250V350.1h.250V350.1h.250V350.1h.250V350.1h.250V350.1h.250V350.1h.250V350.1h.250V350.1h.250V350.1h.250V350.1h.250V350.1h.250V350.1h.250V350.1h.250V350.1h.250V350.1h.250V350.1h.250V350.1h.250V350.1h.250V350.1h.250V350.1h.250V350.1h.250V350.1h.250V350.1h.250V350.1h.250V350.1h.250V350.1h.250V350.1h.250V350.1h.250V350.1h.250V350.1h.250V350.1h.250V350.1h.250V350.1h.250V350.1h.250V350.1h.250V350.1h.250V350.1h.250V350.1h.250V350.40Z" fill="#000"/>
<rect x="300.5" y="318.0" width="101" height="32.39999999999998" fill="none" stroke="#8a8a8a" stroke-width="1"/>
<path d="M300.5,350.10H401.5" stroke="#111" stroke-width="1.4"/>
<text x="293.10" y="362.5" font-family='"Liberation Serif", serif' font-size="11.2" fill="#111" stroke="#111" stroke-width="0.3" textLength="13.4" lengthAdjust="spacingAndGlyphs">10<tspan font-size="5.4" dy="-3.2">0</tspan></text>
<text x="317.40" y="362.5" font-family='"Liberation Serif", serif' font-size="11.2" fill="#111" stroke="#111" stroke-width="0.3" textLength="13.4" lengthAdjust="spacingAndGlyphs">10<tspan font-size="5.4" dy="-3.2">1</tspan></text>
<text x="341.70" y="362.5" font-family='"Liberation Serif", serif' font-size="11.2" fill="#111" stroke="#111" stroke-width="0.3" textLength="13.4" lengthAdjust="spacingAndGlyphs">10<tspan font-size="5.4" dy="-3.2">2</tspan></text>
<text x="366.00" y="362.5" font-family='"Liberation Serif", serif' font-size="11.2" fill="#111" stroke="#111" stroke-width="0.3" textLength="13.4" lengthAdjust="spacingAndGlyphs">10<tspan font-size="5.4" dy="-3.2">3</tspan></text>
<text x="390.30" y="362.5" font-family='"Liberation Serif", serif' font-size="11.2" fill="#111" stroke="#111" stroke-width="0.3" textLength="13.4" lengthAdjust="spacingAndGlyphs">10<tspan font-size="5.4" dy="-3.2">4</tspan></text>
<text x="328.30" y="374.90" font-family='"Liberation Sans", sans-serif' font-size="9.5" font-weight="normal" text-anchor="start" fill="#000" stroke="#000" stroke-width="0.15">CD69</text>
<line x1="461.50" y1="204.7" x2="461.50" y2="237.2" stroke="#888" stroke-width="1"/>
<path d="M412.50,237.20V235.8h.250V235.4h.250V235.7h.250V235.7h.250V235.6h.250V236.2h.250V235.7h.250V236.1h.250V234.0h.250V233.9h.250V233.9h.250V233.8h.250V234.7h.250V234.9h.250V235.1h.250V234.6h.250V233.4h.250V233.3h.250V233.3h.250V233.2h.250V235.2h.250V234.8h.250V234.7h.250V235.3h.250V234.6h.250V234.7h.250V234.6h.250V234.7h.250V233.3h.250V232.2h.250V232.1h.250V233.0h.250V232.8h.250V232.3h.250V231.9h.250V232.3h.250V232.1h.250V232.3h.250V232.8h.250V232.7h.250V231.5h.250V231.2h.250V230.6h.250V231.3h.250V231.3h.250V230.5h.250V230.0h.250V230.4h.250V232.2h.250V231.3h.250V231.1h.250V231.0h.250V228.0h.250V230.1h.250V230.2h.250V229.0h.250V233.0h.250V231.3h.250V231.7h.250V229.8h.250V232.1h.250V229.6h.250V232.8h.250V230.6h.250V226.2h.250V228.5h.250V226.9h.250V229.0h.250V228.4h.250V228.7h.250V226.3h.250V228.0h.250V227.7h.250V228.0h.250V227.8h.250V226.2h.250V224.7h.250V223.9h.250V223.4h.250V224.2h.250V222.1h.250V221.6h.250V219.3h.250V220.3h.250V230.5h.250V227.8h.250V227.5h.250V228.6h.250V226.9h.250V225.5h.250V226.6h.250V227.7h.250V228.0h.250V228.7h.250V229.8h.250V227.6h.250V221.5h.250V223.4h.250V222.6h.250V222.9h.250V231.9h.250V228.0h.250V230.6h.250V230.7h.250V221.1h.250V220.5h.250V217.1h.250V219.1h.250V231.9h.250V229.7h.250V228.2h.250V229.4h.250V217.3h.250V218.9h.250V217.9h.250V217.9h.250V226.5h.250V222.7h.250V223.2h.250V222.1h.250V219.6h.250V216.4h.250V218.9h.250V219.2h.250V212.5h.250V212.4h.250V212.3h.250V212.2h.250V212.1h.250V212.0h.250V211.9h.250V211.8h.250V223.0h.250V223.4h.250V225.6h.250V222.8h.250V219.3h.250V220.2h.250V220.2h.250V219.9h.250V220.1h.250V218.4h.250V218.2h.250V222.4h.250V211.2h.250V211.3h.250V211.4h.250V211.5h.250V219.7h.250V215.6h.250V216.5h.250V218.6h.250V217.4h.250V213.6h.250V216.8h.250V215.6h.250V223.5h.250V225.6h.250V223.9h.250V225.9h.250V223.5h.250V224.9h.250V219.2h.250V225.2h.250V229.2h.250V227.6h.250V227.1h.250V229.3h.250V224.0h.250V226.6h.250V223.8h.250V225.3h.250V223.0h.250V223.8h.250V222.6h.250V223.7h.250V229.6h.250V228.8h.250V228.3h.250V227.9h.250V228.9h.250V229.2h.250V228.9h.250V227.5h.250V227.6h.250V226.6h.250V225.0h.250V226.7h.250V219.5h.250V219.7h.250V219.9h.250V220.1h.250V225.0h.250V226.1h.250V225.8h.250V224.9h.250V225.1h.250V225.6h.250V225.2h.250V225.9h.250V229.1h.250V225.2h.250V226.9h.250V228.2h.250V227.0h.250V227.7h.250V226.9h.250V226.9h.250V226.6h.250V229.8h.250V227.5h.250V228.9h.250V230.4h.250V229.1h.250V228.6h.250V231.4h.250V228.5h.250V226.2h.250V229.7h.250V228.7h.250V225.1h.250V226.7h.250V226.4h.250V225.0h.250V230.0h.250V229.5h.250V227.7h.250V229.3h.250V223.6h.250V225.9h.250V227.5h.250V227.5h.250V229.3h.250V230.0h.250V231.9h.250V229.2h.250V230.7h.250V229.5h.250V230.9h.250V232.3h.250V225.7h.250V225.5h.250V225.9h.250V227.9h.250V230.2h.250V230.7h.250V228.7h.250V229.8h.250V230.9h.250V230.5h.250V230.5h.250V230.0h.250V226.3h.250V228.7h.250V228.0h.250V227.6h.250V232.5h.250V230.6h.250V232.0h.250V233.7h.250V234.0h.250V232.6h.250V232.6h.250V232.9h.250V229.4h.250V229.4h.250V230.9h.250V230.4h.250V231.3h.250V231.3h.250V231.0h.250V231.8h.250V230.6h.250V231.2h.250V231.6h.250V231.8h.250V232.8h.250V234.0h.250V233.4h.250V233.4h.250V230.1h.250V230.0h.250V231.4h.250V232.3h.250V229.8h.250V229.9h.250V230.0h.250V230.1h.250V232.5h.250V232.3h.250V232.7h.250V232.9h.250V229.6h.250V231.1h.250V230.6h.250V230.2h.250V232.7h.250V233.0h.250V233.8h.250V233.0h.250V232.8h.250V232.6h.250V232.7h.250V233.4h.250V234.3h.250V234.9h.250V235.2h.250V234.8h.250V234.3h.250V235.6h.250V235.2h.250V235.3h.250V235.1h.250V235.1h.250V234.8h.250V235.0h.250V233.4h.250V233.5h.250V233.7h.250V233.8h.250V235.1h.250V235.8h.250V235.2h.250V236.0h.250V235.7h.250V235.8h.250V235.6h.250V235.5h.250V236.0h.250V236.0h.250V236.1h.250V236.4h.250V236.3h.250V236.4h.250V236.3h.250V236.4h.250V236.7h.250V236.8h.250V236.8h.250V236.9h.250V236.7h.250V236.8h.250V236.8h.250V236.8h.250V236.9h.250V236.9h.250V236.9h.250V237.0h.250V236.7h.250V236.7h.250V236.7h.250V236.7h.250V237.0h.250V237.0h.250V237.0h.250V237.0h.250V236.9h.250V236.9h.250V236.9h.250V236.9h.250V236.9h.250V236.9h.250V237.0h.250V237.0h.250V236.9h.250V236.9h.250V236.9h.250V236.9h.250V236.8h.250V236.8h.250V236.9h.250V236.9h.250V236.8h.250V236.8h.250V236.8h.250V236.8h.250V236.9h.250V237.0h.250V236.9h.250V237.0h.250V236.8h.250V236.9h.250V236.8h.250V236.9h.250V236.9h.250V236.9h.250V236.8h.250V236.9h.250V236.8h.250V236.8h.250V236.7h.250V236.7h.250V236.9h.250V236.9h.250V236.8h.250V236.9h.250V236.9h.250V236.9h.250V236.9h.250V236.9h.250V236.8h.250V236.8h.250V237.20Z" fill="#000"/>
<rect x="412.5" y="204.7" width="101" height="32.5" fill="none" stroke="#8a8a8a" stroke-width="1"/>
<path d="M412.5,236.90H513.5" stroke="#111" stroke-width="1.4"/>
<line x1="461.50" y1="242.8" x2="461.50" y2="275" stroke="#888" stroke-width="1"/>
<path d="M412.50,275.00V273.3h.250V273.0h.250V273.3h.250V273.0h.250V273.5h.250V273.5h.250V273.4h.250V273.3h.250V273.0h.250V273.1h.250V272.9h.250V273.0h.250V272.7h.250V272.7h.250V272.6h.250V272.5h.250V272.2h.250V272.2h.250V272.2h.250V272.4h.250V272.3h.250V272.3h.250V272.0h.250V272.2h.250V272.2h.250V272.0h.250V272.0h.250V272.3h.250V271.7h.250V271.8h.250V271.8h.250V271.6h.250V271.0h.250V271.4h.250V270.8h.250V271.0h.250V271.7h.250V271.4h.250V271.4h.250V271.5h.250V271.0h.250V271.0h.250V271.0h.250V271.0h.250V270.7h.250V270.8h.250V270.7h.250V271.0h.250V270.9h.250V270.9h.250V270.9h.250V270.9h.250V269.9h.250V269.7h.250V269.9h.250V269.9h.250V269.8h.250V270.1h.250V269.7h.250V269.4h.250V270.5h.250V270.8h.250V270.4h.250V270.2h.250V269.4h.250V269.7h.250V269.7h.250V269.7h.250V270.2h.250V269.8h.250V270.3h.250V269.6h.250V269.8h.250V269.4h.250V270.0h.250V269.5h.250V268.8h.250V268.8h.250V268.4h.250V268.7h.250V269.9h.250V269.6h.250V269.7h.250V269.7h.250V268.3h.250V268.6h.250V267.9h.250V268.6h.250V268.2h.250V268.0h.250V268.3h.250V268.1h.250V268.7h.250V268.3h.250V268.0h.250V268.8h.250V268.8h.250V269.1h.250V269.2h.250V268.3h.250V268.0h.250V267.6h.250V268.4h.250V268.1h.250V268.7h.250V268.7h.250V268.7h.250V268.1h.250V268.0h.250V268.3h.250V268.4h.250V268.2h.250V268.0h.250V267.7h.250V268.3h.250V267.3h.250V267.8h.250V268.6h.250V268.5h.250V268.6h.250V266.6h.250V266.6h.250V266.6h.250V266.6h.250V268.1h.250V268.1h.250V268.5h.250V268.2h.250V268.1h.250V268.3h.250V268.3h.250V268.8h.250V266.6h.250V267.6h.250V267.4h.250V267.2h.250V267.2h.250V267.1h.250V266.5h.250V267.9h.250V269.0h.250V268.5h.250V269.0h.250V268.5h.250V266.9h.250V266.7h.250V266.9h.250V267.0h.250V266.1h.250V266.1h.250V266.0h.250V265.9h.250V267.3h.250V266.8h.250V267.2h.250V266.6h.250V265.9h.250V266.3h.250V266.5h.250V266.7h.250V265.7h.250V266.3h.250V266.1h.250V266.0h.250V265.2h.250V265.1h.250V265.1h.250V265.0h.250V265.5h.250V265.5h.250V264.9h.250V265.0h.250V264.7h.250V264.7h.250V264.6h.250V264.6h.250V265.5h.250V265.6h.250V266.0h.250V265.6h.250V264.3h.250V264.2h.250V264.1h.250V264.1h.250V265.6h.250V264.5h.250V264.7h.250V264.9h.250V265.4h.250V265.1h.250V265.2h.250V264.9h.250V264.5h.250V264.8h.250V265.6h.250V265.1h.250V266.1h.250V266.4h.250V265.7h.250V266.4h.250V265.3h.250V265.5h.250V265.0h.250V266.2h.250V263.6h.250V263.6h.250V262.6h.250V262.3h.250V262.5h.250V263.4h.250V263.4h.250V263.3h.250V262.2h.250V261.4h.250V261.1h.250V262.1h.250V263.4h.250V263.4h.250V263.4h.250V262.5h.250V262.3h.250V262.6h.250V261.4h.250V261.9h.250V261.4h.250V261.7h.250V260.7h.250V259.9h.250V260.1h.250V260.0h.250V260.5h.250V259.4h.250V262.0h.250V262.0h.250V262.0h.250V262.2h.250V260.5h.250V260.1h.250V259.7h.250V260.6h.250V261.1h.250V259.7h.250V259.9h.250V260.3h.250V259.7h.250V258.8h.250V258.7h.250V259.7h.250V259.6h.250V258.7h.250V258.5h.250V258.5h.250V256.1h.250V255.8h.250V256.1h.250V256.3h.250V256.2h.250V257.0h.250V255.7h.250V255.3h.250V258.5h.250V258.7h.250V259.1h.250V258.3h.250V258.8h.250V257.2h.250V257.5h.250V257.9h.250V259.2h.250V258.2h.250V259.4h.250V258.1h.250V253.6h.250V255.0h.250V252.3h.250V252.3h.250V254.0h.250V253.7h.250V254.2h.250V252.6h.250V249.5h.250V248.5h.250V249.2h.250V247.2h.250V249.9h.250V251.5h.250V248.8h.250V251.0h.250V255.4h.250V255.6h.250V256.1h.250V256.0h.250V256.6h.250V258.6h.250V259.0h.250V260.5h.250V263.5h.250V263.6h.250V264.9h.250V266.1h.250V265.0h.250V265.8h.250V267.1h.250V268.2h.250V269.7h.250V270.8h.250V270.7h.250V271.3h.250V271.0h.250V271.4h.250V271.8h.250V272.1h.250V272.7h.250V272.8h.250V273.0h.250V273.1h.250V272.9h.250V273.2h.250V273.4h.250V273.6h.250V274.0h.250V274.3h.250V274.5h.250V274.5h.250V274.7h.250V274.7h.250V274.8h.250V274.9h.250V274.9h.250V275.0h.250V275.0h.250V275.0h.250V275.0h.250V275.0h.250V275.0h.250V275.0h.250V275.0h.250V275.0h.250V275.0h.250V275.0h.250V275.0h.250V275.0h.250V275.0h.250V275.0h.250V275.0h.250V275.0h.250V275.0h.250V275.0h.250V275.0h.250V275.0h.250V275.0h.250V275.0h.250V275.0h.250V275.0h.250V275.0h.250V275.0h.250V275.0h.250V275.0h.250V275.0h.250V275.0h.250V275.0h.250V275.0h.250V275.0h.250V275.0h.250V275.0h.250V275.0h.250V275.0h.250V275.0h.250V275.0h.250V275.0h.250V275.0h.250V275.0h.250V275.0h.250V275.0h.250V275.0h.250V275.0h.250V275.0h.250V275.0h.250V275.0h.250V275.0h.250V275.0h.250V275.0h.250V275.0h.250V275.0h.250V275.0h.250V275.0h.250V275.0h.250V275.0h.250V275.0h.250V275.0h.250V275.0h.250V275.0h.250V275.0h.250V275.0h.250V275.0h.250V275.0h.250V275.0h.250V275.0h.250V275.0h.250V275.0h.250V275.0h.250V275.0h.250V275.00Z" fill="#000"/>
<rect x="412.5" y="242.8" width="101" height="32.19999999999999" fill="none" stroke="#8a8a8a" stroke-width="1"/>
<path d="M412.5,274.70H513.5" stroke="#111" stroke-width="1.4"/>
<line x1="461.50" y1="280.1" x2="461.50" y2="312.6" stroke="#888" stroke-width="1"/>
<path d="M412.50,312.60V310.8h.250V310.9h.250V311.1h.250V311.1h.250V309.8h.250V309.6h.250V309.6h.250V309.2h.250V310.3h.250V310.2h.250V310.7h.250V310.0h.250V310.0h.250V310.2h.250V309.7h.250V309.7h.250V309.8h.250V309.9h.250V310.1h.250V310.3h.250V309.9h.250V310.5h.250V310.4h.250V310.4h.250V310.2h.250V310.0h.250V310.3h.250V310.5h.250V310.5h.250V310.1h.250V310.0h.250V310.5h.250V310.0h.250V309.8h.250V309.8h.250V309.4h.250V308.9h.250V309.0h.250V308.9h.250V308.7h.250V310.1h.250V309.8h.250V308.7h.250V310.0h.250V309.3h.250V309.3h.250V309.7h.250V309.0h.250V307.6h.250V308.2h.250V307.2h.250V308.4h.250V310.7h.250V309.7h.250V308.3h.250V309.3h.250V307.5h.250V308.7h.250V307.9h.250V308.5h.250V306.1h.250V306.1h.250V306.6h.250V307.7h.250V307.1h.250V307.9h.250V307.7h.250V307.9h.250V307.9h.250V309.2h.250V308.0h.250V307.4h.250V301.7h.250V301.5h.250V301.2h.250V301.0h.250V302.8h.250V305.2h.250V305.6h.250V304.4h.250V305.6h.250V306.0h.250V306.4h.250V305.4h.250V304.6h.250V304.5h.250V305.1h.250V301.8h.250V298.4h.250V301.3h.250V301.2h.250V299.8h.250V302.9h.250V302.3h.250V300.3h.250V303.5h.250V303.0h.250V301.9h.250V304.4h.250V296.4h.250V296.4h.250V296.4h.250V296.4h.250V308.1h.250V302.4h.250V301.4h.250V304.6h.250V304.5h.250V298.3h.250V297.0h.250V296.0h.250V295.9h.250V299.6h.250V300.6h.250V299.4h.250V300.7h.250V301.0h.250V301.3h.250V298.5h.250V294.7h.250V294.7h.250V294.7h.250V294.7h.250V300.7h.250V304.0h.250V309.3h.250V302.1h.250V305.2h.250V309.5h.250V305.7h.250V308.8h.250V308.4h.250V306.2h.250V302.8h.250V303.2h.250V302.5h.250V301.9h.250V306.0h.250V304.6h.250V296.4h.250V296.4h.250V296.4h.250V296.4h.250V303.8h.250V303.0h.250V302.3h.250V305.7h.250V302.6h.250V303.8h.250V303.0h.250V306.1h.250V304.4h.250V302.0h.250V304.6h.250V302.9h.250V305.1h.250V302.3h.250V301.6h.250V304.8h.250V305.4h.250V299.1h.250V299.3h.250V299.5h.250V299.6h.250V309.1h.250V308.7h.250V308.2h.250V309.6h.250V306.8h.250V305.6h.250V308.4h.250V309.2h.250V305.2h.250V306.9h.250V307.7h.250V306.9h.250V303.5h.250V304.1h.250V305.6h.250V305.3h.250V303.1h.250V306.1h.250V305.3h.250V304.0h.250V302.5h.250V302.5h.250V302.5h.250V302.5h.250V306.7h.250V306.2h.250V307.6h.250V305.1h.250V309.4h.250V309.2h.250V310.6h.250V309.9h.250V308.5h.250V307.0h.250V307.2h.250V307.7h.250V301.9h.250V301.0h.250V302.0h.250V300.8h.250V305.7h.250V305.4h.250V304.3h.250V304.8h.250V310.6h.250V308.9h.250V308.6h.250V308.9h.250V306.1h.250V306.9h.250V307.4h.250V306.8h.250V306.3h.250V305.9h.250V304.9h.250V304.0h.250V300.0h.250V300.2h.250V302.3h.250V301.7h.250V309.2h.250V307.7h.250V308.0h.250V308.8h.250V307.1h.250V306.7h.250V308.0h.250V306.8h.250V301.8h.250V304.7h.250V303.5h.250V303.0h.250V308.5h.250V310.8h.250V309.4h.250V310.9h.250V305.2h.250V306.5h.250V304.4h.250V306.8h.250V309.2h.250V309.5h.250V309.8h.250V307.2h.250V298.1h.250V296.6h.250V298.5h.250V297.4h.250V303.6h.250V301.4h.250V306.7h.250V301.7h.250V302.9h.250V303.6h.250V303.3h.250V299.6h.250V299.6h.250V299.2h.250V299.6h.250V301.6h.250V300.7h.250V298.6h.250V300.0h.250V297.5h.250V304.5h.250V302.6h.250V302.7h.250V303.2h.250V298.6h.250V296.9h.250V299.1h.250V299.7h.250V306.3h.250V308.7h.250V309.0h.250V291.5h.250V291.5h.250V291.5h.250V291.5h.250V303.9h.250V295.9h.250V299.4h.250V300.9h.250V298.1h.250V295.1h.250V295.3h.250V295.4h.250V295.6h.250V300.9h.250V301.0h.250V302.7h.250V301.7h.250V294.7h.250V299.4h.250V299.1h.250V295.8h.250V308.7h.250V307.5h.250V306.2h.250V306.8h.250V302.8h.250V304.5h.250V304.0h.250V303.5h.250V305.3h.250V306.7h.250V306.2h.250V306.7h.250V307.3h.250V307.9h.250V309.5h.250V309.5h.250V308.4h.250V310.0h.250V308.1h.250V308.1h.250V308.9h.250V309.0h.250V309.8h.250V308.8h.250V308.7h.250V309.4h.250V309.4h.250V309.6h.250V308.2h.250V308.9h.250V308.8h.250V308.6h.250V310.8h.250V311.3h.250V311.1h.250V311.3h.250V310.5h.250V310.1h.250V310.4h.250V311.0h.250V311.6h.250V311.6h.250V311.8h.250V312.2h.250V312.0h.250V312.0h.250V312.5h.250V312.3h.250V312.3h.250V312.4h.250V312.3h.250V312.4h.250V312.4h.250V312.6h.250V312.6h.250V312.6h.250V312.6h.250V312.6h.250V312.6h.250V312.6h.250V312.6h.250V312.6h.250V312.6h.250V312.6h.250V312.6h.250V312.6h.250V312.6h.250V312.6h.250V312.6h.250V312.6h.250V312.6h.250V312.6h.250V312.6h.250V312.6h.250V312.6h.250V312.6h.250V312.6h.250V312.6h.250V312.6h.250V312.6h.250V312.6h.250V312.6h.250V312.6h.250V312.6h.250V312.6h.250V312.6h.250V312.6h.250V312.6h.250V312.6h.250V312.6h.250V312.6h.250V312.6h.250V312.6h.250V312.6h.250V312.6h.250V312.6h.250V312.6h.250V312.6h.250V312.6h.250V312.6h.250V312.6h.250V312.6h.250V312.60Z" fill="#000"/>
<rect x="412.5" y="280.1" width="101" height="32.5" fill="none" stroke="#8a8a8a" stroke-width="1"/>
<path d="M412.5,312.30H513.5" stroke="#111" stroke-width="1.4"/>
<line x1="461.50" y1="318.0" x2="461.50" y2="350.4" stroke="#888" stroke-width="1"/>
<path d="M412.50,350.40V349.8h.250V349.8h.250V349.8h.250V349.8h.250V349.7h.250V349.7h.250V349.7h.250V349.7h.250V349.7h.250V349.7h.250V349.7h.250V349.7h.250V349.7h.250V349.7h.250V349.7h.250V349.7h.250V349.7h.250V349.7h.250V349.7h.250V349.7h.250V349.8h.250V349.8h.250V349.8h.250V349.8h.250V349.8h.250V349.8h.250V349.8h.250V349.8h.250V349.7h.250V349.7h.250V349.7h.250V349.7h.250V349.7h.250V349.7h.250V349.7h.250V349.7h.250V349.8h.250V349.8h.250V349.8h.250V349.8h.250V349.8h.250V349.8h.250V349.8h.250V349.8h.250V349.8h.250V349.8h.250V349.8h.250V349.8h.250V349.8h.250V349.8h.250V349.8h.250V349.8h.250V349.8h.250V349.8h.250V349.8h.250V349.8h.250V349.8h.250V349.7h.250V349.7h.250V349.8h.250V349.8h.250V349.8h.250V349.7h.250V349.8h.250V349.8h.250V349.8h.250V349.8h.250V349.8h.250V349.8h.250V349.8h.250V349.8h.250V349.8h.250V349.8h.250V349.8h.250V349.8h.250V349.8h.250V349.8h.250V349.8h.250V349.8h.250V349.8h.250V349.8h.250V349.8h.250V349.8h.250V349.8h.250V349.7h.250V349.7h.250V349.7h.250V349.7h.250V349.7h.250V349.7h.250V349.8h.250V349.7h.250V349.8h.250V349.8h.250V349.7h.250V349.8h.250V349.7h.250V349.8h.250V349.8h.250V349.7h.250V349.7h.250V349.7h.250V349.8h.250V349.7h.250V349.8h.250V349.8h.250V349.7h.250V349.8h.250V349.8h.250V349.8h.250V349.8h.250V349.8h.250V349.8h.250V349.8h.250V349.8h.250V349.8h.250V349.8h.250V349.8h.250V349.8h.250V349.8h.250V349.8h.250V349.8h.250V349.8h.250V349.8h.250V349.8h.250V349.7h.250V349.7h.250V349.7h.250V349.8h.250V349.7h.250V349.7h.250V349.7h.250V349.8h.250V349.8h.250V349.8h.250V349.8h.250V349.8h.250V349.8h.250V349.8h.250V349.8h.250V349.7h.250V349.7h.250V349.7h.250V349.7h.250V349.8h.250V349.8h.250V349.8h.250V349.8h.250V349.8h.250V349.7h.250V349.8h.250V349.8h.250V349.7h.250V349.8h.250V349.7h.250V349.7h.250V349.7h.250V349.7h.250V349.8h.250V349.7h.250V349.7h.250V349.8h.250V349.8h.250V349.8h.250V349.7h.250V349.8h.250V349.8h.250V349.7h.250V349.7h.250V349.7h.250V349.7h.250V349.7h.250V349.8h.250V349.8h.250V349.8h.250V349.8h.250V349.7h.250V349.7h.250V349.7h.250V349.7h.250V349.8h.250V349.7h.250V349.7h.250V349.7h.250V349.6h.250V349.6h.250V349.5h.250V349.5h.250V349.5h.250V349.5h.250V349.5h.250V349.4h.250V349.3h.250V349.3h.250V349.3h.250V349.2h.250V349.3h.250V349.2h.250V349.2h.250V349.2h.250V349.1h.250V349.1h.250V349.0h.250V349.0h.250V348.8h.250V348.8h.250V348.7h.250V348.6h.250V348.6h.250V348.5h.250V348.5h.250V348.4h.250V348.3h.250V348.3h.250V348.2h.250V348.2h.250V348.1h.250V348.1h.250V348.0h.250V347.9h.250V347.8h.250V347.7h.250V347.6h.250V347.5h.250V347.4h.250V347.3h.250V347.1h.250V347.0h.250V346.9h.250V346.8h.250V346.8h.250V346.6h.250V346.6h.250V346.5h.250V346.4h.250V346.2h.250V345.9h.250V345.8h.250V345.7h.250V345.6h.250V345.6h.250V345.4h.250V345.2h.250V345.0h.250V344.7h.250V344.4h.250V344.3h.250V343.9h.250V343.7h.250V343.6h.250V343.3h.250V343.0h.250V342.9h.250V342.6h.250V342.3h.250V342.3h.250V341.5h.250V341.5h.250V341.0h.250V340.8h.250V340.8h.250V340.5h.250V340.2h.250V339.7h.250V339.6h.250V339.1h.250V338.7h.250V338.5h.250V338.0h.250V337.7h.250V337.2h.250V336.8h.250V335.9h.250V335.3h.250V334.5h.250V333.9h.250V332.7h.250V331.9h.250V331.1h.250V330.2h.250V330.6h.250V329.8h.250V329.3h.250V329.0h.250V328.1h.250V327.2h.250V327.1h.250V326.9h.250V326.8h.250V326.6h.250V326.9h.250V327.1h.250V327.6h.250V328.1h.250V328.5h.250V328.7h.250V328.6h.250V329.0h.250V330.2h.250V331.1h.250V332.2h.250V333.2h.250V334.1h.250V335.5h.250V336.5h.250V337.4h.250V338.5h.250V339.5h.250V340.4h.250V341.5h.250V342.5h.250V343.4h.250V344.5h.250V345.5h.250V345.9h.250V346.4h.250V346.8h.250V347.3h.250V347.7h.250V348.2h.250V348.6h.250V349.0h.250V349.2h.250V349.4h.250V349.6h.250V349.7h.250V349.9h.250V350.1h.250V350.2h.250V350.4h.250V350.4h.250V350.4h.250V350.4h.250V350.4h.250V350.4h.250V350.4h.250V350.4h.250V350.4h.250V350.4h.250V350.4h.250V350.4h.250V350.4h.250V350.4h.250V350.4h.250V350.4h.250V350.4h.250V350.4h.250V350.4h.250V350.4h.250V350.4h.250V350.4h.250V350.4h.250V350.4h.250V350.4h.250V350.4h.250V350.4h.250V350.4h.250V350.4h.250V350.4h.250V350.4h.250V350.4h.250V350.4h.250V350.4h.250V350.4h.250V350.4h.250V350.4h.250V350.4h.250V350.4h.250V350.4h.250V350.4h.250V350.4h.250V350.4h.250V350.4h.250V350.4h.250V350.4h.250V350.4h.250V350.4h.250V350.4h.250V350.4h.250V350.4h.250V350.4h.250V350.4h.250V350.4h.250V350.4h.250V350.4h.250V350.4h.250V350.4h.250V350.4h.250V350.4h.250V350.4h.250V350.4h.250V350.4h.250V350.4h.250V350.4h.250V350.4h.250V350.4h.250V350.4h.250V350.4h.250V350.4h.250V350.4h.250V350.4h.250V350.4h.250V350.40Z" fill="#000"/>
<rect x="412.5" y="318.0" width="101" height="32.39999999999998" fill="none" stroke="#8a8a8a" stroke-width="1"/>
<path d="M412.5,350.10H513.5" stroke="#111" stroke-width="1.4"/>
<text x="405.10" y="362.5" font-family='"Liberation Serif", serif' font-size="11.2" fill="#111" stroke="#111" stroke-width="0.3" textLength="13.4" lengthAdjust="spacingAndGlyphs">10<tspan font-size="5.4" dy="-3.2">0</tspan></text>
<text x="429.40" y="362.5" font-family='"Liberation Serif", serif' font-size="11.2" fill="#111" stroke="#111" stroke-width="0.3" textLength="13.4" lengthAdjust="spacingAndGlyphs">10<tspan font-size="5.4" dy="-3.2">1</tspan></text>
<text x="453.70" y="362.5" font-family='"Liberation Serif", serif' font-size="11.2" fill="#111" stroke="#111" stroke-width="0.3" textLength="13.4" lengthAdjust="spacingAndGlyphs">10<tspan font-size="5.4" dy="-3.2">2</tspan></text>
<text x="478.00" y="362.5" font-family='"Liberation Serif", serif' font-size="11.2" fill="#111" stroke="#111" stroke-width="0.3" textLength="13.4" lengthAdjust="spacingAndGlyphs">10<tspan font-size="5.4" dy="-3.2">3</tspan></text>
<text x="502.30" y="362.5" font-family='"Liberation Serif", serif' font-size="11.2" fill="#111" stroke="#111" stroke-width="0.3" textLength="13.4" lengthAdjust="spacingAndGlyphs">10<tspan font-size="5.4" dy="-3.2">4</tspan></text>
<text x="440.30" y="374.90" font-family='"Liberation Sans", sans-serif' font-size="9.5" font-weight="normal" text-anchor="start" fill="#000" stroke="#000" stroke-width="0.15">CD62L</text>
<text x="1.20" y="408.20" font-family='"Liberation Sans", sans-serif' font-size="16" font-weight="bold" text-anchor="start" fill="#000" stroke="#000" stroke-width="0.15">B</text>
<text x="89.20" y="419.80" font-family='"Liberation Sans", sans-serif' font-size="11.5" font-weight="normal" text-anchor="start" fill="#000" textLength="28.30" lengthAdjust="spacingAndGlyphs" stroke="#000" stroke-width="0.15">day 7</text>
<text x="184.60" y="419.80" font-family='"Liberation Sans", sans-serif' font-size="11.5" font-weight="normal" text-anchor="start" fill="#000" textLength="37.60" lengthAdjust="spacingAndGlyphs" stroke="#000" stroke-width="0.15">day&#160;&#160;14</text>
<text x="360.90" y="419.30" font-family='"Liberation Sans", sans-serif' font-size="11.5" font-weight="normal" text-anchor="start" fill="#000" textLength="28.30" lengthAdjust="spacingAndGlyphs" stroke="#000" stroke-width="0.15">day 7</text>
<text x="455.40" y="419.30" font-family='"Liberation Sans", sans-serif' font-size="11.5" font-weight="normal" text-anchor="start" fill="#000" textLength="34.80" lengthAdjust="spacingAndGlyphs" stroke="#000" stroke-width="0.15">day 14</text>
<text x="1.00" y="446.30" font-family='"Liberation Sans", sans-serif' font-size="9.6" font-weight="normal" text-anchor="start" fill="#000" textLength="30.14" lengthAdjust="spacingAndGlyphs" stroke="#000" stroke-width="0.15">CD25+</text>
<text x="1.00" y="458.00" font-family='"Liberation Sans", sans-serif' font-size="9.6" font-weight="normal" text-anchor="start" fill="#000" textLength="31.74" lengthAdjust="spacingAndGlyphs" stroke="#000" stroke-width="0.15">CCR6+</text>
<text x="1.00" y="510.20" font-family='"Liberation Sans", sans-serif' font-size="9.6" font-weight="normal" text-anchor="start" fill="#000" textLength="30.14" lengthAdjust="spacingAndGlyphs" stroke="#000" stroke-width="0.15">CD25+</text>
<text x="1.00" y="522.10" font-family='"Liberation Sans", sans-serif' font-size="9.6" font-weight="normal" text-anchor="start" fill="#000" textLength="29.33" lengthAdjust="spacingAndGlyphs" stroke="#000" stroke-width="0.15">CCR6-</text>
<text x="1.00" y="576.20" font-family='"Liberation Sans", sans-serif' font-size="9.6" font-weight="normal" text-anchor="start" fill="#000" textLength="27.73" lengthAdjust="spacingAndGlyphs" stroke="#000" stroke-width="0.15">CD25-</text>
<text x="1.00" y="587.60" font-family='"Liberation Sans", sans-serif' font-size="9.6" font-weight="normal" text-anchor="start" fill="#000" textLength="31.74" lengthAdjust="spacingAndGlyphs" stroke="#000" stroke-width="0.15">CCR6+</text>
<text x="1.00" y="637.10" font-family='"Liberation Sans", sans-serif' font-size="9.6" font-weight="normal" text-anchor="start" fill="#000" textLength="27.73" lengthAdjust="spacingAndGlyphs" stroke="#000" stroke-width="0.15">CD25-</text>
<text x="1.00" y="649.00" font-family='"Liberation Sans", sans-serif' font-size="9.6" font-weight="normal" text-anchor="start" fill="#000" textLength="29.33" lengthAdjust="spacingAndGlyphs" stroke="#000" stroke-width="0.15">CCR6-</text>
<text x="286.30" y="445.00" font-family='"Liberation Sans", sans-serif' font-size="9.6" font-weight="normal" text-anchor="middle" fill="#000" textLength="30.14" lengthAdjust="spacingAndGlyphs" stroke="#000" stroke-width="0.15">CD25+</text>
<text x="286.30" y="456.50" font-family='"Liberation Sans", sans-serif' font-size="9.6" font-weight="normal" text-anchor="middle" fill="#000" textLength="42.68" lengthAdjust="spacingAndGlyphs" stroke="#000" stroke-width="0.15">CD44high</text>
<text x="286.30" y="509.50" font-family='"Liberation Sans", sans-serif' font-size="9.6" font-weight="normal" text-anchor="middle" fill="#000" textLength="30.14" lengthAdjust="spacingAndGlyphs" stroke="#000" stroke-width="0.15">CD25+</text>
<text x="286.30" y="521.40" font-family='"Liberation Sans", sans-serif' font-size="9.6" font-weight="normal" text-anchor="middle" fill="#000" textLength="38.94" lengthAdjust="spacingAndGlyphs" stroke="#000" stroke-width="0.15">CD44low</text>
<text x="286.30" y="576.20" font-family='"Liberation Sans", sans-serif' font-size="9.6" font-weight="normal" text-anchor="middle" fill="#000" textLength="27.73" lengthAdjust="spacingAndGlyphs" stroke="#000" stroke-width="0.15">CD25-</text>
<text x="286.30" y="587.60" font-family='"Liberation Sans", sans-serif' font-size="9.6" font-weight="normal" text-anchor="middle" fill="#000" textLength="42.68" lengthAdjust="spacingAndGlyphs" stroke="#000" stroke-width="0.15">CD44high</text>
<text x="286.30" y="637.60" font-family='"Liberation Sans", sans-serif' font-size="9.6" font-weight="normal" text-anchor="middle" fill="#000" textLength="27.73" lengthAdjust="spacingAndGlyphs" stroke="#000" stroke-width="0.15">CD25-</text>
<text x="286.30" y="649.00" font-family='"Liberation Sans", sans-serif' font-size="9.6" font-weight="normal" text-anchor="middle" fill="#000" textLength="38.94" lengthAdjust="spacingAndGlyphs" stroke="#000" stroke-width="0.15">CD44low</text>
<path d="M57.00,473.20V471.0h.250V470.7h.250V470.4h.250V470.9h.250V470.8h.250V470.6h.250V470.4h.250V470.5h.250V471.0h.250V470.9h.250V471.0h.250V471.1h.250V470.6h.250V470.8h.250V470.6h.250V470.8h.250V470.9h.250V470.7h.250V471.0h.250V470.7h.250V471.2h.250V471.5h.250V471.7h.250V471.3h.250V470.9h.250V469.2h.250V469.0h.250V468.5h.250V467.2h.250V466.9h.250V464.4h.250V464.4h.250V463.7h.250V461.6h.250V461.3h.250V457.9h.250V458.9h.250V456.7h.250V455.9h.250V453.6h.250V456.3h.250V458.3h.250V457.1h.250V455.4h.250V452.7h.250V451.0h.250V451.5h.250V449.3h.250V447.4h.250V450.3h.250V446.6h.250V446.4h.250V443.1h.250V443.2h.250V445.4h.250V442.7h.250V443.4h.250V447.0h.250V444.6h.250V445.4h.250V438.4h.250V440.3h.250V440.8h.250V437.3h.250V439.3h.250V432.7h.250V437.3h.250V433.0h.250V439.1h.250V438.7h.250V429.0h.250V429.0h.250V429.0h.250V437.8h.250V440.4h.250V444.8h.250V431.0h.250V438.3h.250V437.1h.250V435.6h.250V436.8h.250V434.0h.250V432.5h.250V436.2h.250V448.4h.250V445.6h.250V433.7h.250V433.7h.250V433.7h.250V433.7h.250V449.7h.250V450.0h.250V447.4h.250V447.9h.250V448.1h.250V451.1h.250V451.6h.250V451.8h.250V454.7h.250V453.6h.250V455.1h.250V455.7h.250V456.5h.250V457.6h.250V456.2h.250V455.9h.250V457.4h.250V456.6h.250V457.2h.250V458.6h.250V459.1h.250V458.7h.250V461.8h.250V463.0h.250V463.0h.250V461.8h.250V461.4h.250V461.9h.250V462.8h.250V463.3h.250V464.4h.250V462.3h.250V463.2h.250V463.7h.250V462.8h.250V462.5h.250V463.2h.250V462.7h.250V462.6h.250V462.6h.250V463.1h.250V462.0h.250V465.0h.250V463.8h.250V463.2h.250V464.0h.250V463.4h.250V464.1h.250V464.9h.250V463.9h.250V463.9h.250V464.0h.250V464.5h.250V465.8h.250V462.9h.250V462.2h.250V462.2h.250V463.6h.250V467.9h.250V467.7h.250V468.4h.250V467.5h.250V466.5h.250V466.2h.250V466.9h.250V466.2h.250V463.3h.250V463.4h.250V463.5h.250V463.7h.250V465.1h.250V464.3h.250V465.8h.250V465.4h.250V467.3h.250V467.2h.250V468.1h.250V467.4h.250V466.5h.250V465.9h.250V466.5h.250V466.2h.250V467.4h.250V468.2h.250V467.7h.250V467.8h.250V467.1h.250V465.8h.250V466.6h.250V466.6h.250V467.1h.250V467.6h.250V466.9h.250V468.4h.250V467.2h.250V467.3h.250V467.5h.250V467.1h.250V467.6h.250V467.1h.250V467.4h.250V467.4h.250V465.6h.250V465.7h.250V465.8h.250V465.9h.250V467.0h.250V467.1h.250V466.7h.250V466.5h.250V467.1h.250V467.4h.250V467.4h.250V467.3h.250V468.9h.250V469.5h.250V469.1h.250V469.1h.250V469.2h.250V469.6h.250V469.1h.250V469.8h.250V467.8h.250V467.7h.250V468.2h.250V468.3h.250V467.8h.250V468.1h.250V467.7h.250V467.5h.250V469.0h.250V468.7h.250V469.1h.250V469.3h.250V469.5h.250V469.5h.250V469.5h.250V469.4h.250V469.3h.250V469.4h.250V469.4h.250V468.9h.250V469.6h.250V470.0h.250V469.6h.250V469.7h.250V469.1h.250V469.6h.250V470.0h.250V469.9h.250V468.8h.250V469.6h.250V469.4h.250V470.1h.250V470.9h.250V471.2h.250V471.1h.250V470.9h.250V471.1h.250V471.1h.250V471.2h.250V471.2h.250V471.7h.250V471.6h.250V471.8h.250V471.9h.250V471.9h.250V472.0h.250V472.3h.250V472.1h.250V472.3h.250V472.3h.250V472.3h.250V472.4h.250V472.4h.250V472.3h.250V472.4h.250V472.4h.250V472.4h.250V472.5h.250V472.5h.250V472.5h.250V472.4h.250V472.5h.250V472.5h.250V472.6h.250V472.7h.250V472.7h.250V472.7h.250V472.7h.250V472.6h.250V472.6h.250V472.6h.250V472.6h.250V472.7h.250V472.7h.250V472.7h.250V472.7h.250V472.6h.250V472.7h.250V472.7h.250V472.6h.250V472.7h.250V472.8h.250V472.7h.250V472.7h.250V472.8h.250V472.7h.250V472.7h.250V472.7h.250V472.6h.250V472.6h.250V472.6h.250V472.6h.250V472.8h.250V472.8h.250V472.8h.250V472.8h.250V472.7h.250V472.7h.250V472.7h.250V472.7h.250V472.7h.250V472.6h.250V472.7h.250V472.7h.250V472.7h.250V472.6h.250V472.7h.250V472.7h.250V472.7h.250V472.7h.250V472.7h.250V472.8h.250V472.8h.250V473.20Z" fill="#000"/>
<path d="M57.00,426.70H138.30V473.20" fill="none" stroke="#666" stroke-width="1"/>
<path d="M57.00,426.70V473.20H138.30" fill="none" stroke="#111" stroke-width="1.2"/>
<path d="M55.20,473.20H57.00M56.00,470.88H57.00M56.00,468.55H57.00M56.00,466.22H57.00M56.00,463.90H57.00M55.20,461.57H57.00M56.00,459.25H57.00M56.00,456.93H57.00M56.00,454.60H57.00M56.00,452.27H57.00M55.20,449.95H57.00M56.00,447.62H57.00M56.00,445.30H57.00M56.00,442.97H57.00M56.00,440.65H57.00M55.20,438.32H57.00M56.00,436.00H57.00M56.00,433.68H57.00M56.00,431.35H57.00M56.00,429.02H57.00M55.20,426.70H57.00M57.00,473.20V475.00M63.12,473.20V474.20M66.70,473.20V474.20M69.24,473.20V474.20M71.21,473.20V474.20M72.82,473.20V474.20M74.18,473.20V474.20M75.36,473.20V474.20M76.39,473.20V474.20M77.33,473.20V475.00M83.44,473.20V474.20M87.02,473.20V474.20M89.56,473.20V474.20M91.53,473.20V474.20M93.14,473.20V474.20M94.50,473.20V474.20M95.68,473.20V474.20M96.72,473.20V474.20M97.65,473.20V475.00M103.77,473.20V474.20M107.35,473.20V474.20M109.89,473.20V474.20M111.86,473.20V474.20M113.47,473.20V474.20M114.83,473.20V474.20M116.01,473.20V474.20M117.04,473.20V474.20M117.98,473.20V475.00M124.09,473.20V474.20M127.67,473.20V474.20M130.21,473.20V474.20M132.18,473.20V474.20M133.79,473.20V474.20M135.15,473.20V474.20M136.33,473.20V474.20M137.37,473.20V474.20" stroke="#444" stroke-width="0.5" fill="none"/>
<text transform="translate(53.40,473.20) rotate(-90)" font-family='"Liberation Sans", sans-serif' font-size="5.0" text-anchor="middle" fill="#222">0</text>
<text transform="translate(53.40,458.32) rotate(-90)" font-family='"Liberation Sans", sans-serif' font-size="5.0" text-anchor="middle" fill="#222">5</text>
<text transform="translate(53.40,443.44) rotate(-90)" font-family='"Liberation Sans", sans-serif' font-size="5.0" text-anchor="middle" fill="#222">10</text>
<text transform="translate(53.40,428.56) rotate(-90)" font-family='"Liberation Sans", sans-serif' font-size="5.0" text-anchor="middle" fill="#222">15</text>
<text transform="translate(45.80,450.95) rotate(-90)" font-family='"Liberation Sans", sans-serif' font-size="5.6" text-anchor="middle" fill="#222">Counts</text>
<text x="53.60" y="482.00" font-family='"Liberation Sans", sans-serif' font-size="6.4" fill="#222" textLength="8.8" lengthAdjust="spacingAndGlyphs">10<tspan font-size="4.8" dy="-3.0">0</tspan></text>
<text x="73.48" y="482.00" font-family='"Liberation Sans", sans-serif' font-size="6.4" fill="#222" textLength="8.8" lengthAdjust="spacingAndGlyphs">10<tspan font-size="4.8" dy="-3.0">1</tspan></text>
<text x="93.35" y="482.00" font-family='"Liberation Sans", sans-serif' font-size="6.4" fill="#222" textLength="8.8" lengthAdjust="spacingAndGlyphs">10<tspan font-size="4.8" dy="-3.0">2</tspan></text>
<text x="113.23" y="482.00" font-family='"Liberation Sans", sans-serif' font-size="6.4" fill="#222" textLength="8.8" lengthAdjust="spacingAndGlyphs">10<tspan font-size="4.8" dy="-3.0">3</tspan></text>
<text x="133.10" y="482.00" font-family='"Liberation Sans", sans-serif' font-size="6.4" fill="#222" textLength="8.8" lengthAdjust="spacingAndGlyphs">10<tspan font-size="4.8" dy="-3.0">4</tspan></text>
<text x="98.15" y="487.80" font-family='"Liberation Sans", sans-serif' font-size="5.6" font-weight="bold" text-anchor="middle" fill="#222">FL1-H</text>
<path d="M85.80,442.70H126.80M85.80,439.90V445.90M126.80,439.90V445.90" stroke="#555" stroke-width="1" fill="none"/>
<text x="86.80" y="437.50" font-family='"Liberation Sans", sans-serif' font-size="7" font-weight="normal" text-anchor="start" fill="#222" textLength="38.80" lengthAdjust="spacingAndGlyphs" stroke="#000" stroke-width="0.15">21.37 +-0.95</text>
<path d="M165.40,473.30V472.2h.250V472.0h.250V472.2h.250V472.2h.250V471.6h.250V471.7h.250V471.7h.250V471.7h.250V472.0h.250V472.0h.250V472.0h.250V471.8h.250V471.9h.250V472.0h.250V471.9h.250V471.9h.250V471.6h.250V471.6h.250V471.5h.250V471.4h.250V472.2h.250V471.9h.250V471.7h.250V471.5h.250V470.7h.250V470.9h.250V470.7h.250V470.1h.250V470.0h.250V470.3h.250V470.0h.250V469.2h.250V469.1h.250V468.4h.250V468.4h.250V467.9h.250V468.3h.250V468.2h.250V468.2h.250V467.4h.250V466.6h.250V464.7h.250V464.1h.250V463.0h.250V459.4h.250V458.7h.250V457.9h.250V454.8h.250V454.8h.250V454.8h.250V454.8h.250V453.6h.250V454.9h.250V455.7h.250V454.2h.250V451.1h.250V453.1h.250V451.0h.250V451.5h.250V447.6h.250V442.0h.250V448.9h.250V442.2h.250V444.4h.250V440.5h.250V442.3h.250V443.9h.250V441.4h.250V434.2h.250V436.5h.250V434.3h.250V441.3h.250V431.5h.250V436.3h.250V427.1h.250V432.6h.250V427.0h.250V427.0h.250V427.0h.250V427.0h.250V435.9h.250V432.3h.250V436.9h.250V435.5h.250V427.0h.250V427.0h.250V427.0h.250V427.0h.250V427.0h.250V437.9h.250V440.6h.250V439.1h.250V450.3h.250V450.6h.250V451.2h.250V451.2h.250V445.7h.250V443.1h.250V445.7h.250V443.2h.250V453.4h.250V451.9h.250V454.5h.250V453.2h.250V453.2h.250V451.6h.250V454.9h.250V454.9h.250V456.7h.250V455.5h.250V457.2h.250V457.4h.250V457.5h.250V456.7h.250V457.6h.250V459.2h.250V463.2h.250V463.2h.250V465.4h.250V465.1h.250V464.7h.250V466.4h.250V465.9h.250V465.2h.250V464.5h.250V465.5h.250V464.6h.250V464.5h.250V464.3h.250V464.5h.250V463.2h.250V464.1h.250V464.2h.250V464.4h.250V464.5h.250V462.7h.250V464.3h.250V463.9h.250V463.5h.250V463.4h.250V459.7h.250V459.4h.250V459.1h.250V458.7h.250V461.1h.250V459.3h.250V459.5h.250V460.4h.250V459.9h.250V458.7h.250V460.7h.250V460.0h.250V460.5h.250V461.0h.250V460.5h.250V460.4h.250V459.4h.250V456.7h.250V458.7h.250V458.1h.250V460.8h.250V460.2h.250V461.4h.250V458.9h.250V457.6h.250V456.4h.250V458.5h.250V457.6h.250V458.0h.250V457.4h.250V457.3h.250V456.6h.250V458.4h.250V458.5h.250V457.0h.250V457.0h.250V450.1h.250V450.1h.250V450.1h.250V450.1h.250V456.3h.250V455.9h.250V457.0h.250V458.6h.250V461.3h.250V460.9h.250V460.3h.250V461.4h.250V457.5h.250V458.1h.250V456.5h.250V457.8h.250V452.5h.250V452.5h.250V452.5h.250V452.5h.250V458.1h.250V458.4h.250V459.1h.250V461.0h.250V462.2h.250V460.0h.250V460.2h.250V461.0h.250V463.0h.250V460.6h.250V462.1h.250V461.2h.250V457.6h.250V457.8h.250V458.0h.250V458.4h.250V461.6h.250V461.3h.250V461.2h.250V461.2h.250V464.7h.250V463.7h.250V464.1h.250V463.4h.250V461.8h.250V462.1h.250V462.5h.250V462.9h.250V463.3h.250V463.6h.250V464.0h.250V464.3h.250V466.7h.250V466.3h.250V466.9h.250V467.2h.250V468.3h.250V468.6h.250V468.5h.250V468.3h.250V469.5h.250V469.0h.250V469.2h.250V469.7h.250V468.8h.250V469.5h.250V470.1h.250V470.4h.250V469.3h.250V469.6h.250V469.1h.250V469.7h.250V469.9h.250V470.3h.250V470.7h.250V470.6h.250V470.2h.250V470.4h.250V470.6h.250V470.8h.250V471.6h.250V471.5h.250V471.7h.250V471.8h.250V472.4h.250V472.4h.250V472.4h.250V472.4h.250V472.0h.250V472.0h.250V472.1h.250V472.2h.250V472.1h.250V472.2h.250V472.3h.250V472.3h.250V472.7h.250V472.7h.250V472.8h.250V472.8h.250V472.8h.250V472.7h.250V472.8h.250V472.8h.250V472.9h.250V472.9h.250V472.9h.250V472.9h.250V472.9h.250V472.8h.250V472.8h.250V472.8h.250V472.9h.250V472.9h.250V472.8h.250V472.8h.250V472.8h.250V472.7h.250V472.8h.250V472.7h.250V472.9h.250V472.9h.250V472.9h.250V472.9h.250V472.7h.250V472.7h.250V472.7h.250V472.7h.250V472.9h.250V472.8h.250V472.9h.250V472.9h.250V472.7h.250V472.8h.250V472.8h.250V472.8h.250V472.8h.250V472.8h.250V472.8h.250V472.8h.250V472.7h.250V472.8h.250V472.8h.250V472.7h.250V472.8h.250V472.8h.250V472.9h.250V472.8h.250V473.30Z" fill="#000"/>
<path d="M165.40,427.00H246.30V473.30" fill="none" stroke="#666" stroke-width="1"/>
<path d="M165.40,427.00V473.30H246.30" fill="none" stroke="#111" stroke-width="1.2"/>
<path d="M163.60,473.30H165.40M164.40,470.99H165.40M164.40,468.67H165.40M164.40,466.36H165.40M164.40,464.04H165.40M163.60,461.73H165.40M164.40,459.41H165.40M164.40,457.10H165.40M164.40,454.78H165.40M164.40,452.47H165.40M163.60,450.15H165.40M164.40,447.83H165.40M164.40,445.52H165.40M164.40,443.20H165.40M164.40,440.89H165.40M163.60,438.57H165.40M164.40,436.26H165.40M164.40,433.94H165.40M164.40,431.63H165.40M164.40,429.31H165.40M163.60,427.00H165.40M165.40,473.30V475.10M171.49,473.30V474.30M175.05,473.30V474.30M177.58,473.30V474.30M179.54,473.30V474.30M181.14,473.30V474.30M182.49,473.30V474.30M183.66,473.30V474.30M184.70,473.30V474.30M185.62,473.30V475.10M191.71,473.30V474.30M195.27,473.30V474.30M197.80,473.30V474.30M199.76,473.30V474.30M201.36,473.30V474.30M202.72,473.30V474.30M203.89,473.30V474.30M204.92,473.30V474.30M205.85,473.30V475.10M211.94,473.30V474.30M215.50,473.30V474.30M218.03,473.30V474.30M219.99,473.30V474.30M221.59,473.30V474.30M222.94,473.30V474.30M224.11,473.30V474.30M225.15,473.30V474.30M226.08,473.30V475.10M232.16,473.30V474.30M235.72,473.30V474.30M238.25,473.30V474.30M240.21,473.30V474.30M241.81,473.30V474.30M243.17,473.30V474.30M244.34,473.30V474.30M245.37,473.30V474.30" stroke="#444" stroke-width="0.5" fill="none"/>
<text transform="translate(161.80,473.30) rotate(-90)" font-family='"Liberation Sans", sans-serif' font-size="5.0" text-anchor="middle" fill="#222">0</text>
<text transform="translate(161.80,457.87) rotate(-90)" font-family='"Liberation Sans", sans-serif' font-size="5.0" text-anchor="middle" fill="#222">5</text>
<text transform="translate(161.80,442.43) rotate(-90)" font-family='"Liberation Sans", sans-serif' font-size="5.0" text-anchor="middle" fill="#222">10</text>
<text transform="translate(161.80,427.00) rotate(-90)" font-family='"Liberation Sans", sans-serif' font-size="5.0" text-anchor="middle" fill="#222">15</text>
<text transform="translate(154.20,451.15) rotate(-90)" font-family='"Liberation Sans", sans-serif' font-size="5.6" text-anchor="middle" fill="#222">Counts</text>
<text x="162.00" y="482.10" font-family='"Liberation Sans", sans-serif' font-size="6.4" fill="#222" textLength="8.8" lengthAdjust="spacingAndGlyphs">10<tspan font-size="4.8" dy="-3.0">0</tspan></text>
<text x="181.78" y="482.10" font-family='"Liberation Sans", sans-serif' font-size="6.4" fill="#222" textLength="8.8" lengthAdjust="spacingAndGlyphs">10<tspan font-size="4.8" dy="-3.0">1</tspan></text>
<text x="201.55" y="482.10" font-family='"Liberation Sans", sans-serif' font-size="6.4" fill="#222" textLength="8.8" lengthAdjust="spacingAndGlyphs">10<tspan font-size="4.8" dy="-3.0">2</tspan></text>
<text x="221.33" y="482.10" font-family='"Liberation Sans", sans-serif' font-size="6.4" fill="#222" textLength="8.8" lengthAdjust="spacingAndGlyphs">10<tspan font-size="4.8" dy="-3.0">3</tspan></text>
<text x="241.10" y="482.10" font-family='"Liberation Sans", sans-serif' font-size="6.4" fill="#222" textLength="8.8" lengthAdjust="spacingAndGlyphs">10<tspan font-size="4.8" dy="-3.0">4</tspan></text>
<text x="206.35" y="487.90" font-family='"Liberation Sans", sans-serif' font-size="5.6" font-weight="bold" text-anchor="middle" fill="#222">FL1-H</text>
<path d="M196.80,441.80H238.00M196.80,439.00V445.00M238.00,439.00V445.00" stroke="#555" stroke-width="1" fill="none"/>
<text x="196.80" y="436.60" font-family='"Liberation Sans", sans-serif' font-size="7" font-weight="normal" text-anchor="start" fill="#222" textLength="39.30" lengthAdjust="spacingAndGlyphs" stroke="#000" stroke-width="0.15">39.85 +-1.88</text>
<path d="M330.00,473.40V450.2h.250V449.3h.250V452.7h.250V452.2h.250V462.0h.250V467.5h.250V467.4h.250V467.0h.250V468.0h.250V468.6h.250V467.6h.250V467.8h.250V465.8h.250V465.5h.250V464.6h.250V464.6h.250V465.5h.250V466.3h.250V466.0h.250V465.3h.250V464.8h.250V465.7h.250V465.2h.250V465.0h.250V463.0h.250V462.6h.250V461.6h.250V461.8h.250V466.0h.250V465.1h.250V464.9h.250V464.9h.250V464.0h.250V463.7h.250V463.4h.250V462.2h.250V462.9h.250V462.1h.250V461.6h.250V460.6h.250V460.3h.250V459.8h.250V457.8h.250V460.4h.250V459.5h.250V456.8h.250V457.3h.250V457.9h.250V459.2h.250V457.3h.250V458.4h.250V457.6h.250V452.0h.250V451.8h.250V452.3h.250V453.1h.250V450.8h.250V448.1h.250V451.4h.250V451.2h.250V453.4h.250V454.8h.250V455.8h.250V457.6h.250V448.5h.250V449.3h.250V449.8h.250V446.8h.250V449.4h.250V445.4h.250V430.0h.250V430.0h.250V430.0h.250V430.0h.250V448.3h.250V444.3h.250V454.0h.250V452.1h.250V452.4h.250V450.2h.250V450.4h.250V450.0h.250V448.9h.250V452.3h.250V456.7h.250V456.5h.250V456.4h.250V460.0h.250V454.1h.250V455.7h.250V454.1h.250V455.4h.250V461.0h.250V460.4h.250V461.6h.250V461.5h.250V458.0h.250V459.3h.250V458.0h.250V460.8h.250V461.9h.250V463.5h.250V464.3h.250V463.6h.250V460.4h.250V462.4h.250V461.8h.250V459.8h.250V461.8h.250V462.8h.250V463.9h.250V462.6h.250V461.1h.250V460.8h.250V461.6h.250V462.9h.250V464.4h.250V465.1h.250V465.7h.250V465.8h.250V463.9h.250V464.1h.250V465.1h.250V465.0h.250V462.7h.250V463.1h.250V464.0h.250V464.3h.250V467.1h.250V466.0h.250V466.5h.250V466.4h.250V466.0h.250V465.3h.250V465.8h.250V464.9h.250V464.9h.250V465.5h.250V465.1h.250V464.5h.250V462.9h.250V464.0h.250V462.7h.250V462.9h.250V466.0h.250V464.4h.250V464.9h.250V465.1h.250V463.9h.250V464.2h.250V463.3h.250V463.0h.250V462.7h.250V462.9h.250V463.5h.250V462.0h.250V463.7h.250V462.6h.250V462.2h.250V463.8h.250V463.4h.250V462.1h.250V461.2h.250V461.6h.250V459.3h.250V458.6h.250V460.4h.250V459.6h.250V455.8h.250V454.9h.250V456.2h.250V452.6h.250V456.1h.250V456.1h.250V453.7h.250V455.6h.250V460.4h.250V458.8h.250V456.9h.250V457.3h.250V454.6h.250V456.2h.250V458.1h.250V454.8h.250V450.5h.250V450.5h.250V450.5h.250V450.5h.250V454.8h.250V455.9h.250V456.5h.250V455.6h.250V454.6h.250V452.0h.250V455.2h.250V454.3h.250V451.6h.250V454.1h.250V455.0h.250V454.9h.250V456.4h.250V453.7h.250V454.8h.250V455.6h.250V456.5h.250V455.6h.250V456.2h.250V457.5h.250V456.0h.250V457.5h.250V459.5h.250V455.4h.250V449.8h.250V451.2h.250V450.5h.250V451.7h.250V453.7h.250V454.0h.250V453.1h.250V454.8h.250V454.6h.250V453.8h.250V455.4h.250V456.5h.250V459.6h.250V457.3h.250V456.2h.250V456.1h.250V455.0h.250V455.7h.250V456.7h.250V456.7h.250V459.6h.250V460.2h.250V461.6h.250V462.2h.250V455.1h.250V455.3h.250V455.8h.250V456.2h.250V461.3h.250V461.1h.250V460.9h.250V461.3h.250V461.0h.250V462.4h.250V463.1h.250V464.3h.250V464.4h.250V465.0h.250V465.4h.250V465.6h.250V464.6h.250V466.7h.250V466.0h.250V466.3h.250V468.0h.250V468.1h.250V467.8h.250V468.4h.250V467.0h.250V468.3h.250V468.1h.250V468.7h.250V468.7h.250V469.2h.250V469.5h.250V469.5h.250V470.8h.250V471.3h.250V471.6h.250V471.7h.250V471.4h.250V471.6h.250V471.5h.250V471.8h.250V472.1h.250V472.1h.250V472.5h.250V472.5h.250V472.6h.250V472.8h.250V472.9h.250V472.9h.250V472.8h.250V472.9h.250V472.9h.250V472.9h.250V472.8h.250V472.9h.250V472.9h.250V472.9h.250V472.8h.250V472.8h.250V472.8h.250V472.8h.250V473.0h.250V472.9h.250V473.0h.250V473.0h.250V473.0h.250V472.9h.250V472.9h.250V473.0h.250V472.8h.250V472.9h.250V472.8h.250V472.9h.250V473.0h.250V472.9h.250V473.0h.250V473.0h.250V472.9h.250V472.9h.250V472.9h.250V472.9h.250V473.0h.250V473.0h.250V473.0h.250V473.0h.250V473.0h.250V473.40Z" fill="#000"/>
<path d="M330.00,427.70H410.30V473.40" fill="none" stroke="#666" stroke-width="1"/>
<path d="M330.00,427.70V473.40H410.30" fill="none" stroke="#111" stroke-width="1.2"/>
<path d="M328.20,473.40H330.00M329.00,471.11H330.00M329.00,468.83H330.00M329.00,466.54H330.00M329.00,464.26H330.00M328.20,461.97H330.00M329.00,459.69H330.00M329.00,457.40H330.00M329.00,455.12H330.00M329.00,452.83H330.00M328.20,450.55H330.00M329.00,448.26H330.00M329.00,445.98H330.00M329.00,443.69H330.00M329.00,441.41H330.00M328.20,439.12H330.00M329.00,436.84H330.00M329.00,434.56H330.00M329.00,432.27H330.00M329.00,429.99H330.00M328.20,427.70H330.00M330.00,473.40V475.20M336.04,473.40V474.40M339.58,473.40V474.40M342.09,473.40V474.40M344.03,473.40V474.40M345.62,473.40V474.40M346.97,473.40V474.40M348.13,473.40V474.40M349.16,473.40V474.40M350.07,473.40V475.20M356.12,473.40V474.40M359.65,473.40V474.40M362.16,473.40V474.40M364.11,473.40V474.40M365.70,473.40V474.40M367.04,473.40V474.40M368.20,473.40V474.40M369.23,473.40V474.40M370.15,473.40V475.20M376.19,473.40V474.40M379.73,473.40V474.40M382.24,473.40V474.40M384.18,473.40V474.40M385.77,473.40V474.40M387.12,473.40V474.40M388.28,473.40V474.40M389.31,473.40V474.40M390.23,473.40V475.20M396.27,473.40V474.40M399.80,473.40V474.40M402.31,473.40V474.40M404.26,473.40V474.40M405.85,473.40V474.40M407.19,473.40V474.40M408.35,473.40V474.40M409.38,473.40V474.40" stroke="#444" stroke-width="0.5" fill="none"/>
<text transform="translate(326.40,473.40) rotate(-90)" font-family='"Liberation Sans", sans-serif' font-size="5.0" text-anchor="middle" fill="#222">0</text>
<text transform="translate(326.40,458.17) rotate(-90)" font-family='"Liberation Sans", sans-serif' font-size="5.0" text-anchor="middle" fill="#222">5</text>
<text transform="translate(326.40,442.93) rotate(-90)" font-family='"Liberation Sans", sans-serif' font-size="5.0" text-anchor="middle" fill="#222">10</text>
<text transform="translate(326.40,427.70) rotate(-90)" font-family='"Liberation Sans", sans-serif' font-size="5.0" text-anchor="middle" fill="#222">15</text>
<text transform="translate(318.80,451.55) rotate(-90)" font-family='"Liberation Sans", sans-serif' font-size="5.6" text-anchor="middle" fill="#222">Counts</text>
<text x="326.60" y="482.20" font-family='"Liberation Sans", sans-serif' font-size="6.4" fill="#222" textLength="8.8" lengthAdjust="spacingAndGlyphs">10<tspan font-size="4.8" dy="-3.0">0</tspan></text>
<text x="346.22" y="482.20" font-family='"Liberation Sans", sans-serif' font-size="6.4" fill="#222" textLength="8.8" lengthAdjust="spacingAndGlyphs">10<tspan font-size="4.8" dy="-3.0">1</tspan></text>
<text x="365.85" y="482.20" font-family='"Liberation Sans", sans-serif' font-size="6.4" fill="#222" textLength="8.8" lengthAdjust="spacingAndGlyphs">10<tspan font-size="4.8" dy="-3.0">2</tspan></text>
<text x="385.47" y="482.20" font-family='"Liberation Sans", sans-serif' font-size="6.4" fill="#222" textLength="8.8" lengthAdjust="spacingAndGlyphs">10<tspan font-size="4.8" dy="-3.0">3</tspan></text>
<text x="405.10" y="482.20" font-family='"Liberation Sans", sans-serif' font-size="6.4" fill="#222" textLength="8.8" lengthAdjust="spacingAndGlyphs">10<tspan font-size="4.8" dy="-3.0">4</tspan></text>
<text x="370.65" y="488.00" font-family='"Liberation Sans", sans-serif' font-size="5.6" font-weight="bold" text-anchor="middle" fill="#222">FL1-H</text>
<path d="M359.20,442.60H400.60M359.20,439.80V445.80M400.60,439.80V445.80" stroke="#555" stroke-width="1" fill="none"/>
<text x="360.50" y="437.40" font-family='"Liberation Sans", sans-serif' font-size="7" font-weight="normal" text-anchor="start" fill="#222" textLength="39.60" lengthAdjust="spacingAndGlyphs" stroke="#000" stroke-width="0.15">44.01 +-2.49</text>
<path d="M434.70,473.40V463.2h.250V464.2h.250V462.5h.250V463.4h.250V466.7h.250V469.0h.250V471.4h.250V471.0h.250V471.2h.250V470.9h.250V471.1h.250V471.2h.250V470.2h.250V469.5h.250V469.7h.250V469.1h.250V470.4h.250V469.6h.250V470.2h.250V469.4h.250V469.6h.250V468.7h.250V468.8h.250V468.7h.250V468.6h.250V468.2h.250V467.6h.250V467.4h.250V468.8h.250V468.6h.250V469.3h.250V468.5h.250V467.3h.250V466.2h.250V466.5h.250V465.2h.250V464.1h.250V464.5h.250V464.2h.250V463.4h.250V463.5h.250V464.4h.250V463.9h.250V462.8h.250V462.1h.250V462.0h.250V461.3h.250V459.2h.250V463.5h.250V461.9h.250V459.3h.250V461.8h.250V455.7h.250V455.1h.250V454.4h.250V453.8h.250V461.7h.250V461.1h.250V459.9h.250V461.6h.250V455.4h.250V456.8h.250V453.4h.250V455.3h.250V448.1h.250V448.3h.250V450.1h.250V446.9h.250V449.1h.250V446.6h.250V445.4h.250V445.1h.250V446.7h.250V442.3h.250V438.6h.250V441.7h.250V434.9h.250V434.3h.250V435.0h.250V435.6h.250V430.0h.250V430.0h.250V430.0h.250V430.0h.250V447.3h.250V447.9h.250V448.3h.250V449.5h.250V452.6h.250V454.4h.250V454.0h.250V456.1h.250V448.4h.250V448.4h.250V451.5h.250V452.9h.250V459.2h.250V458.1h.250V459.7h.250V460.0h.250V464.1h.250V462.0h.250V465.9h.250V464.7h.250V463.4h.250V465.8h.250V465.6h.250V465.4h.250V466.9h.250V468.0h.250V467.7h.250V467.7h.250V468.2h.250V469.0h.250V469.2h.250V469.4h.250V468.9h.250V467.6h.250V465.4h.250V465.6h.250V465.4h.250V465.7h.250V463.8h.250V462.4h.250V459.7h.250V459.7h.250V459.7h.250V459.7h.250V460.3h.250V460.1h.250V460.2h.250V459.6h.250V462.3h.250V463.0h.250V461.9h.250V461.6h.250V465.0h.250V464.5h.250V462.9h.250V464.4h.250V463.8h.250V463.5h.250V462.5h.250V461.5h.250V460.4h.250V459.2h.250V457.8h.250V457.5h.250V459.7h.250V459.9h.250V459.8h.250V457.7h.250V459.4h.250V456.3h.250V455.7h.250V457.1h.250V451.8h.250V451.2h.250V450.7h.250V448.3h.250V448.3h.250V448.3h.250V448.3h.250V451.3h.250V454.8h.250V455.8h.250V455.0h.250V454.6h.250V456.5h.250V453.9h.250V453.9h.250V456.1h.250V456.6h.250V455.8h.250V456.1h.250V454.2h.250V458.5h.250V454.6h.250V454.3h.250V454.7h.250V458.1h.250V455.0h.250V457.8h.250V456.9h.250V456.2h.250V455.0h.250V455.9h.250V454.7h.250V454.6h.250V453.4h.250V452.2h.250V452.6h.250V452.3h.250V454.9h.250V457.2h.250V456.6h.250V459.5h.250V458.0h.250V457.7h.250V457.3h.250V451.8h.250V452.7h.250V454.4h.250V452.9h.250V455.1h.250V455.9h.250V455.8h.250V458.4h.250V461.7h.250V459.3h.250V461.6h.250V460.6h.250V461.7h.250V459.0h.250V461.1h.250V461.3h.250V460.6h.250V461.3h.250V461.3h.250V462.7h.250V459.8h.250V460.3h.250V459.5h.250V462.2h.250V462.0h.250V461.8h.250V462.3h.250V463.5h.250V461.0h.250V462.2h.250V462.8h.250V462.7h.250V464.4h.250V464.7h.250V465.1h.250V465.1h.250V463.9h.250V464.3h.250V465.7h.250V465.3h.250V467.3h.250V467.3h.250V467.1h.250V467.7h.250V468.2h.250V468.0h.250V468.2h.250V468.3h.250V469.6h.250V469.5h.250V469.2h.250V470.1h.250V469.0h.250V469.5h.250V469.5h.250V469.8h.250V469.9h.250V470.3h.250V470.2h.250V470.2h.250V470.3h.250V470.2h.250V470.8h.250V470.7h.250V470.8h.250V471.0h.250V471.1h.250V471.3h.250V471.8h.250V471.9h.250V472.1h.250V472.1h.250V472.6h.250V472.7h.250V472.8h.250V472.7h.250V472.6h.250V472.5h.250V472.6h.250V472.6h.250V472.6h.250V472.7h.250V472.7h.250V472.8h.250V472.9h.250V472.8h.250V472.9h.250V473.0h.250V472.9h.250V472.9h.250V473.0h.250V473.0h.250V473.1h.250V473.1h.250V473.1h.250V473.1h.250V472.8h.250V472.8h.250V472.8h.250V472.8h.250V472.9h.250V472.9h.250V472.9h.250V472.9h.250V473.0h.250V473.0h.250V473.0h.250V473.0h.250V472.9h.250V472.9h.250V472.9h.250V472.9h.250V473.1h.250V473.1h.250V473.1h.250V473.0h.250V473.0h.250V473.0h.250V473.0h.250V473.0h.250V473.0h.250V473.0h.250V473.40Z" fill="#000"/>
<path d="M434.70,427.70H515.30V473.40" fill="none" stroke="#666" stroke-width="1"/>
<path d="M434.70,427.70V473.40H515.30" fill="none" stroke="#111" stroke-width="1.2"/>
<path d="M432.90,473.40H434.70M433.70,471.11H434.70M433.70,468.83H434.70M433.70,466.54H434.70M433.70,464.26H434.70M432.90,461.97H434.70M433.70,459.69H434.70M433.70,457.40H434.70M433.70,455.12H434.70M433.70,452.83H434.70M432.90,450.55H434.70M433.70,448.26H434.70M433.70,445.98H434.70M433.70,443.69H434.70M433.70,441.41H434.70M432.90,439.12H434.70M433.70,436.84H434.70M433.70,434.56H434.70M433.70,432.27H434.70M433.70,429.99H434.70M432.90,427.70H434.70M434.70,473.40V475.20M440.77,473.40V474.40M444.31,473.40V474.40M446.83,473.40V474.40M448.78,473.40V474.40M450.38,473.40V474.40M451.73,473.40V474.40M452.90,473.40V474.40M453.93,473.40V474.40M454.85,473.40V475.20M460.92,473.40V474.40M464.46,473.40V474.40M466.98,473.40V474.40M468.93,473.40V474.40M470.53,473.40V474.40M471.88,473.40V474.40M473.05,473.40V474.40M474.08,473.40V474.40M475.00,473.40V475.20M481.07,473.40V474.40M484.61,473.40V474.40M487.13,473.40V474.40M489.08,473.40V474.40M490.68,473.40V474.40M492.03,473.40V474.40M493.20,473.40V474.40M494.23,473.40V474.40M495.15,473.40V475.20M501.22,473.40V474.40M504.76,473.40V474.40M507.28,473.40V474.40M509.23,473.40V474.40M510.83,473.40V474.40M512.18,473.40V474.40M513.35,473.40V474.40M514.38,473.40V474.40" stroke="#444" stroke-width="0.5" fill="none"/>
<text transform="translate(431.10,473.40) rotate(-90)" font-family='"Liberation Sans", sans-serif' font-size="5.0" text-anchor="middle" fill="#222">0</text>
<text transform="translate(431.10,457.18) rotate(-90)" font-family='"Liberation Sans", sans-serif' font-size="5.0" text-anchor="middle" fill="#222">5</text>
<text transform="translate(431.10,440.95) rotate(-90)" font-family='"Liberation Sans", sans-serif' font-size="5.0" text-anchor="middle" fill="#222">10</text>
<text transform="translate(423.50,451.55) rotate(-90)" font-family='"Liberation Sans", sans-serif' font-size="5.6" text-anchor="middle" fill="#222">Counts</text>
<text x="431.30" y="482.20" font-family='"Liberation Sans", sans-serif' font-size="6.4" fill="#222" textLength="8.8" lengthAdjust="spacingAndGlyphs">10<tspan font-size="4.8" dy="-3.0">0</tspan></text>
<text x="451.00" y="482.20" font-family='"Liberation Sans", sans-serif' font-size="6.4" fill="#222" textLength="8.8" lengthAdjust="spacingAndGlyphs">10<tspan font-size="4.8" dy="-3.0">1</tspan></text>
<text x="470.70" y="482.20" font-family='"Liberation Sans", sans-serif' font-size="6.4" fill="#222" textLength="8.8" lengthAdjust="spacingAndGlyphs">10<tspan font-size="4.8" dy="-3.0">2</tspan></text>
<text x="490.40" y="482.20" font-family='"Liberation Sans", sans-serif' font-size="6.4" fill="#222" textLength="8.8" lengthAdjust="spacingAndGlyphs">10<tspan font-size="4.8" dy="-3.0">3</tspan></text>
<text x="510.10" y="482.20" font-family='"Liberation Sans", sans-serif' font-size="6.4" fill="#222" textLength="8.8" lengthAdjust="spacingAndGlyphs">10<tspan font-size="4.8" dy="-3.0">4</tspan></text>
<text x="475.50" y="488.00" font-family='"Liberation Sans", sans-serif' font-size="5.6" font-weight="bold" text-anchor="middle" fill="#222">FL1-H</text>
<path d="M463.80,442.30H505.60M463.80,439.50V445.50M505.60,439.50V445.50" stroke="#555" stroke-width="1" fill="none"/>
<text x="464.50" y="437.10" font-family='"Liberation Sans", sans-serif' font-size="7" font-weight="normal" text-anchor="start" fill="#222" textLength="38.90" lengthAdjust="spacingAndGlyphs" stroke="#000" stroke-width="0.15">54.09 +-2.15</text>
<path d="M56.50,538.40V517.3h.250V517.6h.250V518.2h.250V529.0h.250V533.3h.250V532.6h.250V531.7h.250V530.9h.250V530.9h.250V530.6h.250V529.3h.250V528.1h.250V525.6h.250V525.0h.250V524.3h.250V523.6h.250V524.8h.250V522.0h.250V522.9h.250V520.7h.250V518.6h.250V516.8h.250V516.2h.250V515.2h.250V516.5h.250V514.8h.250V511.0h.250V512.0h.250V512.7h.250V511.3h.250V506.8h.250V508.1h.250V508.6h.250V503.4h.250V504.3h.250V505.3h.250V501.1h.250V497.9h.250V497.2h.250V497.3h.250V497.3h.250V492.4h.250V497.1h.250V497.4h.250V494.3h.250V492.4h.250V494.8h.250V495.2h.250V492.4h.250V492.4h.250V493.8h.250V492.8h.250V499.4h.250V504.1h.250V500.6h.250V501.8h.250V495.7h.250V499.2h.250V496.0h.250V500.2h.250V499.8h.250V501.5h.250V500.9h.250V500.3h.250V500.0h.250V502.3h.250V502.1h.250V505.0h.250V509.4h.250V509.8h.250V509.5h.250V512.9h.250V515.3h.250V515.3h.250V518.5h.250V519.5h.250V522.2h.250V522.5h.250V523.6h.250V524.9h.250V526.1h.250V527.3h.250V528.5h.250V529.6h.250V530.9h.250V530.5h.250V531.6h.250V531.9h.250V532.1h.250V533.2h.250V533.6h.250V533.8h.250V535.1h.250V535.3h.250V535.0h.250V535.5h.250V534.7h.250V535.1h.250V535.0h.250V534.9h.250V535.1h.250V535.1h.250V534.9h.250V534.9h.250V535.3h.250V534.9h.250V535.0h.250V535.2h.250V534.4h.250V534.4h.250V534.9h.250V534.5h.250V534.7h.250V535.1h.250V535.0h.250V534.9h.250V534.6h.250V535.0h.250V534.8h.250V535.0h.250V535.2h.250V535.2h.250V535.2h.250V535.1h.250V535.2h.250V535.3h.250V535.4h.250V535.4h.250V535.3h.250V535.2h.250V535.1h.250V535.3h.250V535.2h.250V535.3h.250V535.0h.250V535.4h.250V535.4h.250V535.3h.250V535.3h.250V535.2h.250V534.8h.250V535.2h.250V534.7h.250V534.8h.250V535.3h.250V535.5h.250V535.4h.250V535.6h.250V535.2h.250V535.2h.250V535.2h.250V535.4h.250V535.1h.250V535.1h.250V535.1h.250V535.0h.250V535.1h.250V534.9h.250V535.1h.250V534.7h.250V535.3h.250V535.6h.250V535.3h.250V535.4h.250V535.4h.250V535.4h.250V535.4h.250V535.3h.250V535.2h.250V535.0h.250V535.0h.250V535.1h.250V535.2h.250V535.2h.250V535.5h.250V535.2h.250V535.3h.250V535.3h.250V535.2h.250V535.3h.250V535.6h.250V535.5h.250V535.6h.250V535.4h.250V535.4h.250V535.8h.250V535.5h.250V535.4h.250V535.7h.250V535.5h.250V535.6h.250V535.5h.250V535.4h.250V535.3h.250V535.4h.250V535.4h.250V535.4h.250V535.4h.250V535.3h.250V535.3h.250V535.3h.250V535.2h.250V535.1h.250V535.2h.250V535.3h.250V535.3h.250V535.4h.250V535.3h.250V535.8h.250V535.7h.250V535.6h.250V535.7h.250V535.7h.250V535.8h.250V535.7h.250V535.7h.250V535.4h.250V535.5h.250V535.6h.250V535.6h.250V535.5h.250V535.3h.250V535.3h.250V535.8h.250V535.3h.250V535.4h.250V535.4h.250V535.5h.250V535.0h.250V535.0h.250V535.0h.250V535.0h.250V535.0h.250V535.1h.250V535.1h.250V535.1h.250V535.6h.250V535.7h.250V535.8h.250V535.8h.250V535.5h.250V535.6h.250V535.7h.250V535.9h.250V536.1h.250V536.0h.250V536.1h.250V536.3h.250V536.5h.250V536.6h.250V536.9h.250V536.8h.250V536.5h.250V536.7h.250V536.7h.250V536.7h.250V537.0h.250V537.1h.250V537.1h.250V537.3h.250V537.3h.250V537.4h.250V537.5h.250V537.4h.250V537.3h.250V537.4h.250V537.5h.250V537.5h.250V537.6h.250V537.7h.250V537.7h.250V537.8h.250V537.7h.250V537.8h.250V537.8h.250V537.9h.250V537.9h.250V537.9h.250V538.0h.250V537.9h.250V538.0h.250V538.0h.250V538.0h.250V538.0h.250V537.9h.250V537.9h.250V537.9h.250V537.9h.250V537.9h.250V537.9h.250V537.9h.250V537.9h.250V537.9h.250V537.9h.250V537.9h.250V537.9h.250V537.9h.250V537.9h.250V537.9h.250V537.9h.250V538.0h.250V538.0h.250V538.0h.250V538.0h.250V538.0h.250V538.0h.250V538.0h.250V538.0h.250V537.9h.250V538.0h.250V537.9h.250V538.0h.250V537.9h.250V537.9h.250V537.9h.250V537.9h.250V537.9h.250V538.0h.250V537.9h.250V537.9h.250V537.9h.250V538.0h.250V538.0h.250V538.40Z" fill="#000"/>
<path d="M56.50,492.40H137.30V538.40" fill="none" stroke="#666" stroke-width="1"/>
<path d="M56.50,492.40V538.40H137.30" fill="none" stroke="#111" stroke-width="1.2"/>
<path d="M54.70,538.40H56.50M55.50,536.10H56.50M55.50,533.80H56.50M55.50,531.50H56.50M55.50,529.20H56.50M54.70,526.90H56.50M55.50,524.60H56.50M55.50,522.30H56.50M55.50,520.00H56.50M55.50,517.70H56.50M54.70,515.40H56.50M55.50,513.10H56.50M55.50,510.80H56.50M55.50,508.50H56.50M55.50,506.20H56.50M54.70,503.90H56.50M55.50,501.60H56.50M55.50,499.30H56.50M55.50,497.00H56.50M55.50,494.70H56.50M54.70,492.40H56.50M56.50,538.40V540.20M62.58,538.40V539.40M66.14,538.40V539.40M68.66,538.40V539.40M70.62,538.40V539.40M72.22,538.40V539.40M73.57,538.40V539.40M74.74,538.40V539.40M75.78,538.40V539.40M76.70,538.40V540.20M82.78,538.40V539.40M86.34,538.40V539.40M88.86,538.40V539.40M90.82,538.40V539.40M92.42,538.40V539.40M93.77,538.40V539.40M94.94,538.40V539.40M95.98,538.40V539.40M96.90,538.40V540.20M102.98,538.40V539.40M106.54,538.40V539.40M109.06,538.40V539.40M111.02,538.40V539.40M112.62,538.40V539.40M113.97,538.40V539.40M115.14,538.40V539.40M116.18,538.40V539.40M117.10,538.40V540.20M123.18,538.40V539.40M126.74,538.40V539.40M129.26,538.40V539.40M131.22,538.40V539.40M132.82,538.40V539.40M134.17,538.40V539.40M135.34,538.40V539.40M136.38,538.40V539.40" stroke="#444" stroke-width="0.5" fill="none"/>
<text transform="translate(52.90,538.40) rotate(-90)" font-family='"Liberation Sans", sans-serif' font-size="4.0" text-anchor="middle" fill="#222">0</text>
<text transform="translate(52.90,532.65) rotate(-90)" font-family='"Liberation Sans", sans-serif' font-size="4.0" text-anchor="middle" fill="#222">10</text>
<text transform="translate(52.90,526.90) rotate(-90)" font-family='"Liberation Sans", sans-serif' font-size="4.0" text-anchor="middle" fill="#222">20</text>
<text transform="translate(52.90,521.15) rotate(-90)" font-family='"Liberation Sans", sans-serif' font-size="4.0" text-anchor="middle" fill="#222">30</text>
<text transform="translate(52.90,515.40) rotate(-90)" font-family='"Liberation Sans", sans-serif' font-size="4.0" text-anchor="middle" fill="#222">40</text>
<text transform="translate(52.90,509.65) rotate(-90)" font-family='"Liberation Sans", sans-serif' font-size="4.0" text-anchor="middle" fill="#222">50</text>
<text transform="translate(52.90,503.90) rotate(-90)" font-family='"Liberation Sans", sans-serif' font-size="4.0" text-anchor="middle" fill="#222">60</text>
<text transform="translate(52.90,498.15) rotate(-90)" font-family='"Liberation Sans", sans-serif' font-size="4.0" text-anchor="middle" fill="#222">70</text>
<text transform="translate(52.90,492.40) rotate(-90)" font-family='"Liberation Sans", sans-serif' font-size="4.0" text-anchor="middle" fill="#222">80</text>
<text transform="translate(45.30,516.40) rotate(-90)" font-family='"Liberation Sans", sans-serif' font-size="5.6" text-anchor="middle" fill="#222">Counts</text>
<text x="53.10" y="547.20" font-family='"Liberation Sans", sans-serif' font-size="6.4" fill="#222" textLength="8.8" lengthAdjust="spacingAndGlyphs">10<tspan font-size="4.8" dy="-3.0">0</tspan></text>
<text x="72.85" y="547.20" font-family='"Liberation Sans", sans-serif' font-size="6.4" fill="#222" textLength="8.8" lengthAdjust="spacingAndGlyphs">10<tspan font-size="4.8" dy="-3.0">1</tspan></text>
<text x="92.60" y="547.20" font-family='"Liberation Sans", sans-serif' font-size="6.4" fill="#222" textLength="8.8" lengthAdjust="spacingAndGlyphs">10<tspan font-size="4.8" dy="-3.0">2</tspan></text>
<text x="112.35" y="547.20" font-family='"Liberation Sans", sans-serif' font-size="6.4" fill="#222" textLength="8.8" lengthAdjust="spacingAndGlyphs">10<tspan font-size="4.8" dy="-3.0">3</tspan></text>
<text x="132.10" y="547.20" font-family='"Liberation Sans", sans-serif' font-size="6.4" fill="#222" textLength="8.8" lengthAdjust="spacingAndGlyphs">10<tspan font-size="4.8" dy="-3.0">4</tspan></text>
<text x="97.40" y="553.00" font-family='"Liberation Sans", sans-serif' font-size="5.6" font-weight="bold" text-anchor="middle" fill="#222">FL1-H</text>
<path d="M84.10,508.00H125.90M84.10,505.20V511.20M125.90,505.20V511.20" stroke="#555" stroke-width="1" fill="none"/>
<text x="87.80" y="502.80" font-family='"Liberation Sans", sans-serif' font-size="7" font-weight="normal" text-anchor="start" fill="#222" textLength="35.30" lengthAdjust="spacingAndGlyphs" stroke="#000" stroke-width="0.15">7.66 +-2.43</text>
<path d="M164.70,538.40V535.8h.250V535.9h.250V536.0h.250V535.9h.250V536.2h.250V536.4h.250V536.5h.250V536.3h.250V536.3h.250V536.0h.250V536.2h.250V536.2h.250V536.0h.250V535.9h.250V536.0h.250V536.3h.250V536.0h.250V535.8h.250V535.8h.250V535.5h.250V536.1h.250V535.9h.250V535.8h.250V535.8h.250V534.9h.250V534.7h.250V534.7h.250V534.3h.250V534.5h.250V534.3h.250V533.9h.250V533.6h.250V533.2h.250V532.8h.250V532.5h.250V531.8h.250V532.2h.250V531.8h.250V531.6h.250V530.8h.250V530.7h.250V529.1h.250V528.8h.250V527.3h.250V525.3h.250V524.3h.250V524.3h.250V521.8h.250V521.8h.250V521.4h.250V519.2h.250V518.6h.250V518.6h.250V517.3h.250V514.7h.250V513.9h.250V516.6h.250V514.6h.250V513.6h.250V512.1h.250V515.4h.250V511.6h.250V510.2h.250V511.1h.250V509.4h.250V510.1h.250V505.3h.250V505.9h.250V503.2h.250V503.4h.250V503.6h.250V502.0h.250V495.6h.250V494.2h.250V494.3h.250V492.7h.250V495.6h.250V495.4h.250V496.7h.250V495.8h.250V492.9h.250V493.4h.250V497.6h.250V495.1h.250V509.1h.250V509.2h.250V510.7h.250V512.6h.250V507.3h.250V509.4h.250V511.5h.250V513.6h.250V519.0h.250V521.3h.250V523.5h.250V523.2h.250V526.0h.250V526.6h.250V528.7h.250V529.9h.250V530.4h.250V531.2h.250V531.8h.250V532.6h.250V533.6h.250V534.4h.250V534.5h.250V535.0h.250V534.4h.250V534.6h.250V534.8h.250V534.7h.250V534.7h.250V534.9h.250V534.7h.250V534.7h.250V535.1h.250V535.4h.250V535.2h.250V535.5h.250V535.2h.250V535.0h.250V535.1h.250V535.1h.250V535.4h.250V535.6h.250V535.3h.250V535.3h.250V535.4h.250V535.5h.250V535.3h.250V535.4h.250V535.6h.250V535.2h.250V535.4h.250V535.5h.250V535.3h.250V535.4h.250V535.4h.250V535.2h.250V535.0h.250V534.7h.250V535.0h.250V535.1h.250V532.9h.250V532.9h.250V532.9h.250V532.9h.250V535.6h.250V535.1h.250V535.2h.250V535.3h.250V535.4h.250V535.4h.250V535.4h.250V535.2h.250V535.6h.250V535.8h.250V535.6h.250V535.4h.250V535.4h.250V535.3h.250V535.3h.250V535.4h.250V535.3h.250V535.3h.250V535.2h.250V535.3h.250V535.4h.250V535.5h.250V535.5h.250V535.4h.250V535.2h.250V535.4h.250V535.4h.250V535.3h.250V534.6h.250V534.6h.250V534.6h.250V534.6h.250V535.7h.250V535.7h.250V535.8h.250V535.7h.250V535.2h.250V534.8h.250V532.9h.250V532.9h.250V532.9h.250V532.9h.250V532.9h.250V535.6h.250V535.0h.250V535.1h.250V535.2h.250V535.2h.250V535.4h.250V535.1h.250V535.1h.250V535.0h.250V535.5h.250V535.4h.250V535.2h.250V535.3h.250V535.2h.250V535.4h.250V535.3h.250V535.3h.250V535.2h.250V535.3h.250V535.4h.250V535.3h.250V535.5h.250V535.5h.250V535.5h.250V535.5h.250V534.9h.250V535.0h.250V535.1h.250V535.1h.250V536.1h.250V536.1h.250V536.1h.250V536.1h.250V535.7h.250V535.9h.250V535.8h.250V536.0h.250V535.7h.250V535.8h.250V535.9h.250V535.9h.250V536.2h.250V536.4h.250V536.5h.250V536.5h.250V536.3h.250V536.3h.250V536.4h.250V536.5h.250V536.9h.250V536.9h.250V536.9h.250V537.0h.250V537.0h.250V537.1h.250V537.2h.250V537.2h.250V537.3h.250V537.4h.250V537.5h.250V537.5h.250V537.4h.250V537.4h.250V537.5h.250V537.6h.250V537.7h.250V537.7h.250V537.8h.250V537.8h.250V538.0h.250V538.0h.250V538.0h.250V538.0h.250V537.9h.250V537.9h.250V537.9h.250V537.9h.250V538.0h.250V538.0h.250V538.0h.250V537.9h.250V538.0h.250V538.1h.250V538.0h.250V538.0h.250V537.9h.250V537.9h.250V537.9h.250V537.9h.250V538.0h.250V538.0h.250V538.0h.250V538.0h.250V537.9h.250V537.9h.250V537.9h.250V537.9h.250V537.9h.250V537.9h.250V537.9h.250V537.9h.250V538.0h.250V538.0h.250V538.0h.250V538.0h.250V537.9h.250V537.9h.250V537.9h.250V537.9h.250V538.0h.250V538.0h.250V537.9h.250V538.0h.250V537.9h.250V537.9h.250V537.8h.250V537.9h.250V537.9h.250V537.9h.250V537.9h.250V537.9h.250V538.0h.250V537.9h.250V537.9h.250V537.9h.250V537.9h.250V537.9h.250V537.9h.250V537.9h.250V537.9h.250V537.9h.250V537.9h.250V537.9h.250V537.9h.250V538.40Z" fill="#000"/>
<path d="M164.70,492.70H245.90V538.40" fill="none" stroke="#666" stroke-width="1"/>
<path d="M164.70,492.70V538.40H245.90" fill="none" stroke="#111" stroke-width="1.2"/>
<path d="M162.90,538.40H164.70M163.70,536.12H164.70M163.70,533.83H164.70M163.70,531.54H164.70M163.70,529.26H164.70M162.90,526.98H164.70M163.70,524.69H164.70M163.70,522.40H164.70M163.70,520.12H164.70M163.70,517.84H164.70M162.90,515.55H164.70M163.70,513.26H164.70M163.70,510.98H164.70M163.70,508.69H164.70M163.70,506.41H164.70M162.90,504.12H164.70M163.70,501.84H164.70M163.70,499.56H164.70M163.70,497.27H164.70M163.70,494.99H164.70M162.90,492.70H164.70M164.70,538.40V540.20M170.81,538.40V539.40M174.39,538.40V539.40M176.92,538.40V539.40M178.89,538.40V539.40M180.50,538.40V539.40M181.86,538.40V539.40M183.03,538.40V539.40M184.07,538.40V539.40M185.00,538.40V540.20M191.11,538.40V539.40M194.69,538.40V539.40M197.22,538.40V539.40M199.19,538.40V539.40M200.80,538.40V539.40M202.16,538.40V539.40M203.33,538.40V539.40M204.37,538.40V539.40M205.30,538.40V540.20M211.41,538.40V539.40M214.99,538.40V539.40M217.52,538.40V539.40M219.49,538.40V539.40M221.10,538.40V539.40M222.46,538.40V539.40M223.63,538.40V539.40M224.67,538.40V539.40M225.60,538.40V540.20M231.71,538.40V539.40M235.29,538.40V539.40M237.82,538.40V539.40M239.79,538.40V539.40M241.40,538.40V539.40M242.76,538.40V539.40M243.93,538.40V539.40M244.97,538.40V539.40" stroke="#444" stroke-width="0.5" fill="none"/>
<text transform="translate(161.10,538.40) rotate(-90)" font-family='"Liberation Sans", sans-serif' font-size="4.0" text-anchor="middle" fill="#222">0</text>
<text transform="translate(161.10,530.78) rotate(-90)" font-family='"Liberation Sans", sans-serif' font-size="4.0" text-anchor="middle" fill="#222">10</text>
<text transform="translate(161.10,523.17) rotate(-90)" font-family='"Liberation Sans", sans-serif' font-size="4.0" text-anchor="middle" fill="#222">20</text>
<text transform="translate(161.10,515.55) rotate(-90)" font-family='"Liberation Sans", sans-serif' font-size="4.0" text-anchor="middle" fill="#222">30</text>
<text transform="translate(161.10,507.93) rotate(-90)" font-family='"Liberation Sans", sans-serif' font-size="4.0" text-anchor="middle" fill="#222">40</text>
<text transform="translate(161.10,500.32) rotate(-90)" font-family='"Liberation Sans", sans-serif' font-size="4.0" text-anchor="middle" fill="#222">50</text>
<text transform="translate(161.10,492.70) rotate(-90)" font-family='"Liberation Sans", sans-serif' font-size="4.0" text-anchor="middle" fill="#222">60</text>
<text transform="translate(153.50,516.55) rotate(-90)" font-family='"Liberation Sans", sans-serif' font-size="5.6" text-anchor="middle" fill="#222">Counts</text>
<text x="161.30" y="547.20" font-family='"Liberation Sans", sans-serif' font-size="6.4" fill="#222" textLength="8.8" lengthAdjust="spacingAndGlyphs">10<tspan font-size="4.8" dy="-3.0">0</tspan></text>
<text x="181.15" y="547.20" font-family='"Liberation Sans", sans-serif' font-size="6.4" fill="#222" textLength="8.8" lengthAdjust="spacingAndGlyphs">10<tspan font-size="4.8" dy="-3.0">1</tspan></text>
<text x="201.00" y="547.20" font-family='"Liberation Sans", sans-serif' font-size="6.4" fill="#222" textLength="8.8" lengthAdjust="spacingAndGlyphs">10<tspan font-size="4.8" dy="-3.0">2</tspan></text>
<text x="220.85" y="547.20" font-family='"Liberation Sans", sans-serif' font-size="6.4" fill="#222" textLength="8.8" lengthAdjust="spacingAndGlyphs">10<tspan font-size="4.8" dy="-3.0">3</tspan></text>
<text x="240.70" y="547.20" font-family='"Liberation Sans", sans-serif' font-size="6.4" fill="#222" textLength="8.8" lengthAdjust="spacingAndGlyphs">10<tspan font-size="4.8" dy="-3.0">4</tspan></text>
<text x="205.80" y="553.00" font-family='"Liberation Sans", sans-serif' font-size="5.6" font-weight="bold" text-anchor="middle" fill="#222">FL1-H</text>
<path d="M195.50,508.00H236.60M195.50,505.20V511.20M236.60,505.20V511.20" stroke="#555" stroke-width="1" fill="none"/>
<text x="196.50" y="502.80" font-family='"Liberation Sans", sans-serif' font-size="7" font-weight="normal" text-anchor="start" fill="#222" textLength="38.40" lengthAdjust="spacingAndGlyphs" stroke="#000" stroke-width="0.15">11.27 +-1.29</text>
<path d="M330.00,538.40V514.3h.250V513.9h.250V512.7h.250V524.8h.250V527.7h.250V527.4h.250V525.9h.250V525.3h.250V523.9h.250V522.4h.250V521.5h.250V521.5h.250V524.1h.250V524.2h.250V522.7h.250V522.2h.250V520.1h.250V518.1h.250V517.8h.250V516.8h.250V517.6h.250V515.9h.250V514.6h.250V514.5h.250V514.1h.250V513.4h.250V513.9h.250V514.1h.250V514.6h.250V513.0h.250V513.4h.250V510.6h.250V513.2h.250V511.8h.250V513.6h.250V512.3h.250V509.9h.250V509.7h.250V508.1h.250V507.7h.250V498.6h.250V497.7h.250V497.2h.250V496.8h.250V507.9h.250V507.5h.250V507.2h.250V508.2h.250V505.9h.250V496.4h.250V496.4h.250V496.4h.250V496.4h.250V501.5h.250V504.9h.250V505.2h.250V504.1h.250V502.3h.250V505.5h.250V503.2h.250V506.0h.250V503.9h.250V507.3h.250V507.8h.250V513.2h.250V515.2h.250V516.9h.250V518.5h.250V515.7h.250V517.6h.250V518.0h.250V518.4h.250V523.0h.250V525.0h.250V525.7h.250V526.7h.250V526.5h.250V528.1h.250V529.0h.250V530.2h.250V532.2h.250V533.4h.250V533.1h.250V534.8h.250V534.9h.250V535.2h.250V535.6h.250V535.3h.250V535.3h.250V535.5h.250V535.4h.250V535.6h.250V535.6h.250V535.6h.250V535.7h.250V536.0h.250V536.2h.250V536.4h.250V536.4h.250V536.1h.250V536.5h.250V536.4h.250V536.6h.250V536.6h.250V535.9h.250V536.0h.250V536.1h.250V536.1h.250V536.1h.250V536.1h.250V536.1h.250V536.2h.250V536.2h.250V536.3h.250V536.1h.250V536.3h.250V536.4h.250V536.4h.250V536.6h.250V536.4h.250V536.3h.250V536.3h.250V536.2h.250V536.4h.250V536.5h.250V536.5h.250V536.6h.250V536.5h.250V536.2h.250V536.2h.250V536.2h.250V536.2h.250V536.0h.250V536.0h.250V536.1h.250V536.1h.250V536.5h.250V536.7h.250V536.6h.250V536.5h.250V536.4h.250V536.3h.250V536.4h.250V536.4h.250V536.7h.250V536.6h.250V536.6h.250V536.7h.250V536.1h.250V536.0h.250V536.1h.250V536.2h.250V536.1h.250V536.1h.250V536.1h.250V536.1h.250V536.4h.250V536.4h.250V536.4h.250V536.5h.250V536.3h.250V536.3h.250V536.3h.250V536.3h.250V536.6h.250V536.9h.250V536.7h.250V536.6h.250V536.4h.250V536.4h.250V536.5h.250V536.4h.250V536.5h.250V536.4h.250V536.5h.250V536.5h.250V536.5h.250V536.4h.250V536.4h.250V536.4h.250V536.6h.250V536.6h.250V536.5h.250V536.5h.250V536.8h.250V536.8h.250V536.9h.250V536.9h.250V536.6h.250V536.5h.250V536.6h.250V536.6h.250V536.5h.250V536.6h.250V536.6h.250V536.6h.250V536.4h.250V536.4h.250V536.4h.250V536.4h.250V536.5h.250V536.3h.250V536.6h.250V536.6h.250V536.8h.250V536.9h.250V536.8h.250V536.8h.250V536.7h.250V536.6h.250V536.6h.250V536.5h.250V536.7h.250V536.8h.250V536.8h.250V536.9h.250V536.5h.250V536.5h.250V536.4h.250V536.6h.250V536.7h.250V536.7h.250V536.6h.250V536.8h.250V536.7h.250V536.7h.250V536.7h.250V536.7h.250V536.9h.250V536.9h.250V536.9h.250V537.0h.250V537.0h.250V537.0h.250V536.8h.250V536.9h.250V536.6h.250V536.6h.250V536.6h.250V536.6h.250V537.1h.250V537.1h.250V537.1h.250V537.1h.250V537.0h.250V536.9h.250V536.8h.250V536.9h.250V536.7h.250V536.9h.250V536.9h.250V536.9h.250V536.7h.250V536.7h.250V536.8h.250V536.8h.250V537.0h.250V537.0h.250V537.1h.250V537.1h.250V537.2h.250V537.3h.250V537.3h.250V537.4h.250V537.5h.250V537.5h.250V537.6h.250V537.6h.250V537.7h.250V537.8h.250V537.8h.250V537.9h.250V537.9h.250V537.9h.250V537.9h.250V537.9h.250V537.9h.250V537.9h.250V537.9h.250V537.9h.250V537.9h.250V537.9h.250V537.9h.250V537.9h.250V538.0h.250V538.0h.250V538.0h.250V538.0h.250V537.9h.250V537.9h.250V537.9h.250V537.9h.250V537.9h.250V538.0h.250V537.9h.250V537.9h.250V537.9h.250V537.9h.250V537.9h.250V537.9h.250V538.0h.250V538.0h.250V537.9h.250V538.0h.250V538.0h.250V538.0h.250V537.9h.250V537.9h.250V537.9h.250V537.9h.250V537.9h.250V537.9h.250V538.0h.250V538.0h.250V537.9h.250V538.0h.250V538.0h.250V537.9h.250V537.9h.250V537.9h.250V537.9h.250V538.40Z" fill="#000"/>
<path d="M330.00,492.70H410.30V538.40" fill="none" stroke="#666" stroke-width="1"/>
<path d="M330.00,492.70V538.40H410.30" fill="none" stroke="#111" stroke-width="1.2"/>
<path d="M328.20,538.40H330.00M329.00,536.12H330.00M329.00,533.83H330.00M329.00,531.54H330.00M329.00,529.26H330.00M328.20,526.98H330.00M329.00,524.69H330.00M329.00,522.40H330.00M329.00,520.12H330.00M329.00,517.84H330.00M328.20,515.55H330.00M329.00,513.26H330.00M329.00,510.98H330.00M329.00,508.69H330.00M329.00,506.41H330.00M328.20,504.12H330.00M329.00,501.84H330.00M329.00,499.56H330.00M329.00,497.27H330.00M329.00,494.99H330.00M328.20,492.70H330.00M330.00,538.40V540.20M336.04,538.40V539.40M339.58,538.40V539.40M342.09,538.40V539.40M344.03,538.40V539.40M345.62,538.40V539.40M346.97,538.40V539.40M348.13,538.40V539.40M349.16,538.40V539.40M350.07,538.40V540.20M356.12,538.40V539.40M359.65,538.40V539.40M362.16,538.40V539.40M364.11,538.40V539.40M365.70,538.40V539.40M367.04,538.40V539.40M368.20,538.40V539.40M369.23,538.40V539.40M370.15,538.40V540.20M376.19,538.40V539.40M379.73,538.40V539.40M382.24,538.40V539.40M384.18,538.40V539.40M385.77,538.40V539.40M387.12,538.40V539.40M388.28,538.40V539.40M389.31,538.40V539.40M390.23,538.40V540.20M396.27,538.40V539.40M399.80,538.40V539.40M402.31,538.40V539.40M404.26,538.40V539.40M405.85,538.40V539.40M407.19,538.40V539.40M408.35,538.40V539.40M409.38,538.40V539.40" stroke="#444" stroke-width="0.5" fill="none"/>
<text transform="translate(326.40,538.40) rotate(-90)" font-family='"Liberation Sans", sans-serif' font-size="5.0" text-anchor="middle" fill="#222">0</text>
<text transform="translate(326.40,529.26) rotate(-90)" font-family='"Liberation Sans", sans-serif' font-size="5.0" text-anchor="middle" fill="#222">10</text>
<text transform="translate(326.40,520.12) rotate(-90)" font-family='"Liberation Sans", sans-serif' font-size="5.0" text-anchor="middle" fill="#222">20</text>
<text transform="translate(326.40,510.98) rotate(-90)" font-family='"Liberation Sans", sans-serif' font-size="5.0" text-anchor="middle" fill="#222">30</text>
<text transform="translate(326.40,501.84) rotate(-90)" font-family='"Liberation Sans", sans-serif' font-size="5.0" text-anchor="middle" fill="#222">40</text>
<text transform="translate(326.40,492.70) rotate(-90)" font-family='"Liberation Sans", sans-serif' font-size="5.0" text-anchor="middle" fill="#222">50</text>
<text transform="translate(318.80,516.55) rotate(-90)" font-family='"Liberation Sans", sans-serif' font-size="5.6" text-anchor="middle" fill="#222">Counts</text>
<text x="326.60" y="547.20" font-family='"Liberation Sans", sans-serif' font-size="6.4" fill="#222" textLength="8.8" lengthAdjust="spacingAndGlyphs">10<tspan font-size="4.8" dy="-3.0">0</tspan></text>
<text x="346.22" y="547.20" font-family='"Liberation Sans", sans-serif' font-size="6.4" fill="#222" textLength="8.8" lengthAdjust="spacingAndGlyphs">10<tspan font-size="4.8" dy="-3.0">1</tspan></text>
<text x="365.85" y="547.20" font-family='"Liberation Sans", sans-serif' font-size="6.4" fill="#222" textLength="8.8" lengthAdjust="spacingAndGlyphs">10<tspan font-size="4.8" dy="-3.0">2</tspan></text>
<text x="385.47" y="547.20" font-family='"Liberation Sans", sans-serif' font-size="6.4" fill="#222" textLength="8.8" lengthAdjust="spacingAndGlyphs">10<tspan font-size="4.8" dy="-3.0">3</tspan></text>
<text x="405.10" y="547.20" font-family='"Liberation Sans", sans-serif' font-size="6.4" fill="#222" textLength="8.8" lengthAdjust="spacingAndGlyphs">10<tspan font-size="4.8" dy="-3.0">4</tspan></text>
<text x="370.65" y="553.00" font-family='"Liberation Sans", sans-serif' font-size="5.6" font-weight="bold" text-anchor="middle" fill="#222">FL1-H</text>
<path d="M359.20,508.50H400.60M359.20,505.70V511.70M400.60,505.70V511.70" stroke="#555" stroke-width="1" fill="none"/>
<text x="363.40" y="503.30" font-family='"Liberation Sans", sans-serif' font-size="7" font-weight="normal" text-anchor="start" fill="#222" textLength="33.00" lengthAdjust="spacingAndGlyphs" stroke="#000" stroke-width="0.15">1.51 +-0.25</text>
<path d="M434.70,538.40V536.3h.250V536.4h.250V536.3h.250V536.5h.250V535.7h.250V535.9h.250V535.9h.250V536.0h.250V535.8h.250V535.8h.250V535.9h.250V535.8h.250V535.8h.250V535.6h.250V535.8h.250V535.7h.250V536.0h.250V535.8h.250V535.5h.250V535.1h.250V534.7h.250V534.4h.250V533.8h.250V533.3h.250V529.3h.250V529.3h.250V529.3h.250V529.3h.250V532.1h.250V531.5h.250V530.7h.250V530.4h.250V529.5h.250V529.3h.250V529.2h.250V527.8h.250V527.8h.250V526.7h.250V527.1h.250V525.4h.250V522.7h.250V521.6h.250V520.4h.250V519.3h.250V520.6h.250V519.8h.250V519.7h.250V517.0h.250V518.8h.250V517.9h.250V518.9h.250V515.5h.250V511.7h.250V511.3h.250V510.5h.250V506.3h.250V506.1h.250V505.2h.250V504.2h.250V494.1h.250V494.1h.250V494.1h.250V494.1h.250V501.1h.250V496.8h.250V499.2h.250V498.6h.250V494.4h.250V494.0h.250V495.2h.250V495.5h.250V497.8h.250V495.6h.250V496.8h.250V498.3h.250V500.0h.250V507.4h.250V509.8h.250V508.6h.250V510.5h.250V514.1h.250V515.4h.250V516.9h.250V519.8h.250V522.8h.250V524.4h.250V525.9h.250V528.1h.250V526.4h.250V527.8h.250V528.1h.250V529.9h.250V531.0h.250V532.0h.250V532.6h.250V533.0h.250V533.8h.250V533.8h.250V534.3h.250V534.5h.250V534.4h.250V534.4h.250V534.7h.250V535.3h.250V535.6h.250V535.4h.250V535.4h.250V535.9h.250V535.4h.250V535.5h.250V535.6h.250V535.6h.250V535.7h.250V535.7h.250V535.6h.250V535.9h.250V535.9h.250V535.8h.250V535.9h.250V535.8h.250V535.9h.250V536.0h.250V535.7h.250V536.0h.250V535.8h.250V535.9h.250V535.7h.250V535.9h.250V535.4h.250V535.4h.250V535.5h.250V535.5h.250V536.0h.250V535.6h.250V535.9h.250V535.8h.250V535.9h.250V536.0h.250V535.9h.250V535.9h.250V535.6h.250V535.5h.250V535.7h.250V535.6h.250V535.8h.250V535.7h.250V535.8h.250V535.5h.250V535.3h.250V535.3h.250V535.1h.250V535.1h.250V535.1h.250V535.1h.250V535.1h.250V535.1h.250V535.1h.250V535.1h.250V535.1h.250V535.1h.250V536.0h.250V535.9h.250V536.1h.250V535.8h.250V535.4h.250V535.1h.250V535.6h.250V535.2h.250V535.6h.250V535.4h.250V535.6h.250V535.6h.250V535.5h.250V535.7h.250V535.4h.250V535.7h.250V535.7h.250V535.8h.250V535.8h.250V535.7h.250V535.7h.250V535.3h.250V535.3h.250V535.5h.250V535.3h.250V535.4h.250V535.5h.250V535.4h.250V535.1h.250V535.1h.250V535.1h.250V535.1h.250V535.5h.250V535.7h.250V535.6h.250V535.7h.250V535.4h.250V535.8h.250V535.7h.250V535.6h.250V536.1h.250V536.3h.250V536.0h.250V536.1h.250V536.2h.250V536.3h.250V536.1h.250V536.1h.250V536.6h.250V536.5h.250V536.5h.250V536.5h.250V536.3h.250V536.2h.250V536.3h.250V536.3h.250V536.1h.250V536.3h.250V536.2h.250V536.4h.250V536.4h.250V536.4h.250V536.4h.250V536.4h.250V536.4h.250V536.3h.250V536.4h.250V536.5h.250V536.8h.250V536.7h.250V536.7h.250V536.8h.250V536.9h.250V536.8h.250V536.9h.250V536.9h.250V536.7h.250V536.7h.250V536.8h.250V536.8h.250V537.0h.250V537.0h.250V537.0h.250V537.1h.250V537.0h.250V537.1h.250V537.2h.250V537.2h.250V537.4h.250V537.4h.250V537.4h.250V537.4h.250V537.2h.250V537.3h.250V537.3h.250V537.3h.250V537.4h.250V537.4h.250V537.5h.250V537.5h.250V537.6h.250V537.7h.250V537.8h.250V537.8h.250V537.7h.250V537.7h.250V537.8h.250V537.8h.250V537.8h.250V537.8h.250V537.9h.250V537.9h.250V537.9h.250V537.9h.250V538.0h.250V538.0h.250V537.9h.250V537.9h.250V537.9h.250V537.9h.250V537.9h.250V537.9h.250V538.0h.250V537.9h.250V538.0h.250V538.0h.250V538.0h.250V538.0h.250V537.9h.250V537.9h.250V537.9h.250V537.9h.250V537.9h.250V538.0h.250V537.9h.250V537.9h.250V537.9h.250V537.9h.250V537.9h.250V537.9h.250V537.9h.250V537.9h.250V538.0h.250V538.0h.250V538.0h.250V538.0h.250V538.0h.250V538.0h.250V537.9h.250V538.0h.250V538.0h.250V538.0h.250V537.9h.250V537.9h.250V537.9h.250V537.9h.250V538.0h.250V538.0h.250V538.0h.250V538.0h.250V538.0h.250V538.0h.250V538.40Z" fill="#000"/>
<path d="M434.70,492.70H515.30V538.40" fill="none" stroke="#666" stroke-width="1"/>
<path d="M434.70,492.70V538.40H515.30" fill="none" stroke="#111" stroke-width="1.2"/>
<path d="M432.90,538.40H434.70M433.70,536.12H434.70M433.70,533.83H434.70M433.70,531.54H434.70M433.70,529.26H434.70M432.90,526.98H434.70M433.70,524.69H434.70M433.70,522.40H434.70M433.70,520.12H434.70M433.70,517.84H434.70M432.90,515.55H434.70M433.70,513.26H434.70M433.70,510.98H434.70M433.70,508.69H434.70M433.70,506.41H434.70M432.90,504.12H434.70M433.70,501.84H434.70M433.70,499.56H434.70M433.70,497.27H434.70M433.70,494.99H434.70M432.90,492.70H434.70M434.70,538.40V540.20M440.77,538.40V539.40M444.31,538.40V539.40M446.83,538.40V539.40M448.78,538.40V539.40M450.38,538.40V539.40M451.73,538.40V539.40M452.90,538.40V539.40M453.93,538.40V539.40M454.85,538.40V540.20M460.92,538.40V539.40M464.46,538.40V539.40M466.98,538.40V539.40M468.93,538.40V539.40M470.53,538.40V539.40M471.88,538.40V539.40M473.05,538.40V539.40M474.08,538.40V539.40M475.00,538.40V540.20M481.07,538.40V539.40M484.61,538.40V539.40M487.13,538.40V539.40M489.08,538.40V539.40M490.68,538.40V539.40M492.03,538.40V539.40M493.20,538.40V539.40M494.23,538.40V539.40M495.15,538.40V540.20M501.22,538.40V539.40M504.76,538.40V539.40M507.28,538.40V539.40M509.23,538.40V539.40M510.83,538.40V539.40M512.18,538.40V539.40M513.35,538.40V539.40M514.38,538.40V539.40" stroke="#444" stroke-width="0.5" fill="none"/>
<text transform="translate(431.10,538.40) rotate(-90)" font-family='"Liberation Sans", sans-serif' font-size="5.0" text-anchor="middle" fill="#222">0</text>
<text transform="translate(431.10,526.98) rotate(-90)" font-family='"Liberation Sans", sans-serif' font-size="5.0" text-anchor="middle" fill="#222">10</text>
<text transform="translate(431.10,515.55) rotate(-90)" font-family='"Liberation Sans", sans-serif' font-size="5.0" text-anchor="middle" fill="#222">20</text>
<text transform="translate(431.10,504.12) rotate(-90)" font-family='"Liberation Sans", sans-serif' font-size="5.0" text-anchor="middle" fill="#222">30</text>
<text transform="translate(431.10,492.70) rotate(-90)" font-family='"Liberation Sans", sans-serif' font-size="5.0" text-anchor="middle" fill="#222">40</text>
<text transform="translate(423.50,516.55) rotate(-90)" font-family='"Liberation Sans", sans-serif' font-size="5.6" text-anchor="middle" fill="#222">Counts</text>
<text x="431.30" y="547.20" font-family='"Liberation Sans", sans-serif' font-size="6.4" fill="#222" textLength="8.8" lengthAdjust="spacingAndGlyphs">10<tspan font-size="4.8" dy="-3.0">0</tspan></text>
<text x="451.00" y="547.20" font-family='"Liberation Sans", sans-serif' font-size="6.4" fill="#222" textLength="8.8" lengthAdjust="spacingAndGlyphs">10<tspan font-size="4.8" dy="-3.0">1</tspan></text>
<text x="470.70" y="547.20" font-family='"Liberation Sans", sans-serif' font-size="6.4" fill="#222" textLength="8.8" lengthAdjust="spacingAndGlyphs">10<tspan font-size="4.8" dy="-3.0">2</tspan></text>
<text x="490.40" y="547.20" font-family='"Liberation Sans", sans-serif' font-size="6.4" fill="#222" textLength="8.8" lengthAdjust="spacingAndGlyphs">10<tspan font-size="4.8" dy="-3.0">3</tspan></text>
<text x="510.10" y="547.20" font-family='"Liberation Sans", sans-serif' font-size="6.4" fill="#222" textLength="8.8" lengthAdjust="spacingAndGlyphs">10<tspan font-size="4.8" dy="-3.0">4</tspan></text>
<text x="475.50" y="553.00" font-family='"Liberation Sans", sans-serif' font-size="5.6" font-weight="bold" text-anchor="middle" fill="#222">FL1-H</text>
<path d="M463.60,508.00H505.10M463.60,505.20V511.20M505.10,505.20V511.20" stroke="#555" stroke-width="1" fill="none"/>
<text x="466.70" y="502.80" font-family='"Liberation Sans", sans-serif' font-size="7" font-weight="normal" text-anchor="start" fill="#222" textLength="34.70" lengthAdjust="spacingAndGlyphs" stroke="#000" stroke-width="0.15">7.67 +-0.16</text>
<path d="M55.70,604.40V602.5h.250V602.3h.250V602.3h.250V602.3h.250V601.8h.250V602.0h.250V602.0h.250V602.1h.250V602.6h.250V602.3h.250V602.7h.250V602.6h.250V601.6h.250V601.9h.250V601.6h.250V601.8h.250V601.8h.250V601.9h.250V601.7h.250V601.6h.250V600.8h.250V600.6h.250V600.4h.250V600.3h.250V600.6h.250V600.3h.250V600.1h.250V599.8h.250V600.1h.250V600.2h.250V599.6h.250V599.3h.250V598.9h.250V598.9h.250V599.1h.250V598.2h.250V597.6h.250V597.2h.250V596.6h.250V596.7h.250V597.4h.250V596.2h.250V595.4h.250V595.5h.250V596.3h.250V595.4h.250V594.1h.250V594.4h.250V590.0h.250V590.0h.250V588.4h.250V586.9h.250V588.2h.250V586.9h.250V587.5h.250V586.9h.250V578.0h.250V576.8h.250V575.6h.250V573.8h.250V579.3h.250V575.8h.250V576.3h.250V576.2h.250V573.0h.250V571.2h.250V570.5h.250V570.6h.250V559.6h.250V558.4h.250V558.4h.250V558.4h.250V559.8h.250V559.8h.250V559.8h.250V563.1h.250V564.7h.250V561.9h.250V564.4h.250V560.0h.250V558.4h.250V558.4h.250V558.6h.250V560.3h.250V570.4h.250V572.7h.250V573.1h.250V575.4h.250V575.2h.250V576.7h.250V578.6h.250V578.0h.250V573.0h.250V574.9h.250V576.2h.250V578.0h.250V583.2h.250V582.9h.250V585.6h.250V586.7h.250V589.0h.250V590.7h.250V589.2h.250V591.5h.250V590.3h.250V591.6h.250V592.0h.250V592.9h.250V593.7h.250V595.0h.250V596.0h.250V596.4h.250V599.0h.250V598.7h.250V599.5h.250V599.7h.250V599.1h.250V599.9h.250V599.8h.250V600.4h.250V600.8h.250V601.0h.250V601.0h.250V600.7h.250V600.8h.250V600.7h.250V600.6h.250V601.2h.250V599.9h.250V599.9h.250V600.4h.250V600.4h.250V601.5h.250V601.3h.250V601.1h.250V600.8h.250V600.9h.250V601.2h.250V601.3h.250V601.1h.250V600.2h.250V600.3h.250V600.4h.250V600.6h.250V599.8h.250V599.8h.250V599.9h.250V599.9h.250V600.3h.250V600.5h.250V600.7h.250V600.5h.250V600.6h.250V600.6h.250V592.9h.250V592.9h.250V592.9h.250V592.9h.250V600.6h.250V600.5h.250V601.4h.250V601.4h.250V601.5h.250V601.3h.250V601.3h.250V600.8h.250V601.0h.250V600.7h.250V601.3h.250V601.1h.250V601.3h.250V601.0h.250V601.6h.250V601.6h.250V601.5h.250V601.3h.250V601.3h.250V601.5h.250V601.2h.250V601.3h.250V600.6h.250V600.8h.250V600.9h.250V600.6h.250V601.5h.250V601.3h.250V601.3h.250V601.3h.250V601.0h.250V601.3h.250V601.3h.250V601.4h.250V601.1h.250V601.3h.250V601.0h.250V601.3h.250V602.0h.250V601.6h.250V601.8h.250V602.0h.250V601.0h.250V601.2h.250V601.0h.250V601.2h.250V601.3h.250V601.5h.250V601.2h.250V601.3h.250V601.6h.250V601.5h.250V601.4h.250V601.6h.250V601.2h.250V601.3h.250V601.1h.250V601.2h.250V601.5h.250V601.4h.250V601.3h.250V601.2h.250V600.8h.250V600.8h.250V600.8h.250V600.8h.250V601.1h.250V601.4h.250V601.1h.250V601.5h.250V601.5h.250V601.6h.250V601.6h.250V601.4h.250V601.4h.250V601.7h.250V601.7h.250V601.7h.250V601.3h.250V601.2h.250V601.6h.250V601.4h.250V601.6h.250V601.7h.250V601.2h.250V601.4h.250V602.0h.250V601.8h.250V601.4h.250V601.4h.250V601.7h.250V601.6h.250V601.6h.250V601.9h.250V601.6h.250V601.5h.250V601.8h.250V601.8h.250V601.9h.250V602.3h.250V602.1h.250V602.2h.250V601.9h.250V601.9h.250V602.3h.250V602.1h.250V602.1h.250V602.3h.250V602.5h.250V602.6h.250V602.3h.250V602.2h.250V602.5h.250V602.6h.250V602.4h.250V602.5h.250V602.6h.250V602.7h.250V603.0h.250V603.0h.250V603.1h.250V603.2h.250V603.4h.250V603.3h.250V603.3h.250V603.4h.250V603.5h.250V603.5h.250V603.5h.250V603.6h.250V603.9h.250V603.9h.250V603.9h.250V604.0h.250V604.0h.250V604.0h.250V604.0h.250V604.0h.250V603.9h.250V603.9h.250V603.9h.250V603.9h.250V604.0h.250V604.0h.250V604.0h.250V604.0h.250V603.9h.250V603.9h.250V603.9h.250V603.9h.250V604.0h.250V603.9h.250V604.0h.250V603.9h.250V604.0h.250V603.9h.250V604.0h.250V603.9h.250V604.0h.250V604.0h.250V604.0h.250V603.9h.250V603.9h.250V603.9h.250V603.9h.250V603.9h.250V604.40Z" fill="#000"/>
<path d="M55.70,558.40H136.60V604.40" fill="none" stroke="#666" stroke-width="1"/>
<path d="M55.70,558.40V604.40H136.60" fill="none" stroke="#111" stroke-width="1.2"/>
<path d="M53.90,604.40H55.70M54.70,602.10H55.70M54.70,599.80H55.70M54.70,597.50H55.70M54.70,595.20H55.70M53.90,592.90H55.70M54.70,590.60H55.70M54.70,588.30H55.70M54.70,586.00H55.70M54.70,583.70H55.70M53.90,581.40H55.70M54.70,579.10H55.70M54.70,576.80H55.70M54.70,574.50H55.70M54.70,572.20H55.70M53.90,569.90H55.70M54.70,567.60H55.70M54.70,565.30H55.70M54.70,563.00H55.70M54.70,560.70H55.70M53.90,558.40H55.70M55.70,604.40V606.20M61.79,604.40V605.40M65.35,604.40V605.40M67.88,604.40V605.40M69.84,604.40V605.40M71.44,604.40V605.40M72.79,604.40V605.40M73.96,604.40V605.40M75.00,604.40V605.40M75.92,604.40V606.20M82.01,604.40V605.40M85.57,604.40V605.40M88.10,604.40V605.40M90.06,604.40V605.40M91.66,604.40V605.40M93.02,604.40V605.40M94.19,604.40V605.40M95.22,604.40V605.40M96.15,604.40V606.20M102.24,604.40V605.40M105.80,604.40V605.40M108.33,604.40V605.40M110.29,604.40V605.40M111.89,604.40V605.40M113.24,604.40V605.40M114.41,604.40V605.40M115.45,604.40V605.40M116.38,604.40V606.20M122.46,604.40V605.40M126.02,604.40V605.40M128.55,604.40V605.40M130.51,604.40V605.40M132.11,604.40V605.40M133.47,604.40V605.40M134.64,604.40V605.40M135.67,604.40V605.40" stroke="#444" stroke-width="0.5" fill="none"/>
<text transform="translate(52.10,604.40) rotate(-90)" font-family='"Liberation Sans", sans-serif' font-size="5.0" text-anchor="middle" fill="#222">0</text>
<text transform="translate(52.10,596.03) rotate(-90)" font-family='"Liberation Sans", sans-serif' font-size="5.0" text-anchor="middle" fill="#222">5</text>
<text transform="translate(52.10,587.66) rotate(-90)" font-family='"Liberation Sans", sans-serif' font-size="5.0" text-anchor="middle" fill="#222">10</text>
<text transform="translate(52.10,579.28) rotate(-90)" font-family='"Liberation Sans", sans-serif' font-size="5.0" text-anchor="middle" fill="#222">15</text>
<text transform="translate(52.10,570.91) rotate(-90)" font-family='"Liberation Sans", sans-serif' font-size="5.0" text-anchor="middle" fill="#222">20</text>
<text transform="translate(52.10,562.54) rotate(-90)" font-family='"Liberation Sans", sans-serif' font-size="5.0" text-anchor="middle" fill="#222">25</text>
<text transform="translate(44.50,582.40) rotate(-90)" font-family='"Liberation Sans", sans-serif' font-size="5.6" text-anchor="middle" fill="#222">Counts</text>
<text x="52.30" y="613.20" font-family='"Liberation Sans", sans-serif' font-size="6.4" fill="#222" textLength="8.8" lengthAdjust="spacingAndGlyphs">10<tspan font-size="4.8" dy="-3.0">0</tspan></text>
<text x="72.08" y="613.20" font-family='"Liberation Sans", sans-serif' font-size="6.4" fill="#222" textLength="8.8" lengthAdjust="spacingAndGlyphs">10<tspan font-size="4.8" dy="-3.0">1</tspan></text>
<text x="91.85" y="613.20" font-family='"Liberation Sans", sans-serif' font-size="6.4" fill="#222" textLength="8.8" lengthAdjust="spacingAndGlyphs">10<tspan font-size="4.8" dy="-3.0">2</tspan></text>
<text x="111.62" y="613.20" font-family='"Liberation Sans", sans-serif' font-size="6.4" fill="#222" textLength="8.8" lengthAdjust="spacingAndGlyphs">10<tspan font-size="4.8" dy="-3.0">3</tspan></text>
<text x="131.40" y="613.20" font-family='"Liberation Sans", sans-serif' font-size="6.4" fill="#222" textLength="8.8" lengthAdjust="spacingAndGlyphs">10<tspan font-size="4.8" dy="-3.0">4</tspan></text>
<text x="96.65" y="619.00" font-family='"Liberation Sans", sans-serif' font-size="5.6" font-weight="bold" text-anchor="middle" fill="#222">FL1-H</text>
<path d="M83.60,574.00H124.20M83.60,571.20V577.20M124.20,571.20V577.20" stroke="#555" stroke-width="1" fill="none"/>
<text x="87.00" y="568.80" font-family='"Liberation Sans", sans-serif' font-size="7" font-weight="normal" text-anchor="start" fill="#222" textLength="35.00" lengthAdjust="spacingAndGlyphs" stroke="#000" stroke-width="0.15">8.08 +-5.20</text>
<path d="M163.00,603.80V602.8h.250V602.5h.250V602.5h.250V602.6h.250V602.6h.250V602.6h.250V602.6h.250V602.3h.250V602.5h.250V602.4h.250V602.3h.250V602.4h.250V602.5h.250V602.4h.250V602.5h.250V602.3h.250V602.7h.250V602.4h.250V602.2h.250V602.2h.250V601.8h.250V601.3h.250V601.2h.250V601.3h.250V601.4h.250V601.0h.250V600.5h.250V600.8h.250V600.3h.250V599.6h.250V599.4h.250V599.7h.250V600.8h.250V601.4h.250V600.5h.250V600.9h.250V600.3h.250V600.5h.250V600.3h.250V599.7h.250V597.8h.250V598.1h.250V598.0h.250V597.9h.250V595.1h.250V594.1h.250V587.6h.250V587.6h.250V587.6h.250V587.6h.250V595.3h.250V593.7h.250V586.6h.250V585.6h.250V584.6h.250V583.6h.250V591.4h.250V590.5h.250V589.8h.250V587.5h.250V589.0h.250V588.3h.250V585.4h.250V588.2h.250V586.3h.250V585.2h.250V585.5h.250V581.9h.250V588.2h.250V585.2h.250V584.5h.250V581.8h.250V572.5h.250V581.3h.250V572.9h.250V576.3h.250V559.8h.250V558.8h.250V557.8h.250V557.5h.250V557.7h.250V557.5h.250V557.5h.250V557.5h.250V557.5h.250V557.5h.250V557.5h.250V557.5h.250V563.6h.250V570.3h.250V567.1h.250V574.2h.250V573.2h.250V576.6h.250V579.4h.250V578.6h.250V578.8h.250V582.4h.250V581.7h.250V582.1h.250V588.3h.250V583.4h.250V586.0h.250V588.4h.250V578.2h.250V579.5h.250V580.8h.250V582.1h.250V586.5h.250V587.0h.250V588.6h.250V589.9h.250V590.1h.250V592.0h.250V593.3h.250V595.0h.250V595.8h.250V596.3h.250V596.9h.250V598.8h.250V599.2h.250V600.4h.250V585.3h.250V585.3h.250V585.3h.250V585.3h.250V597.8h.250V598.1h.250V598.4h.250V597.4h.250V598.1h.250V597.5h.250V598.0h.250V598.7h.250V597.1h.250V597.5h.250V597.0h.250V597.0h.250V597.9h.250V597.7h.250V595.7h.250V595.1h.250V594.3h.250V594.7h.250V591.7h.250V591.8h.250V590.0h.250V591.8h.250V591.7h.250V592.9h.250V590.7h.250V590.9h.250V593.0h.250V593.2h.250V592.5h.250V591.8h.250V592.7h.250V593.4h.250V593.9h.250V593.6h.250V590.9h.250V591.6h.250V589.8h.250V591.0h.250V594.7h.250V595.3h.250V595.2h.250V594.5h.250V593.8h.250V592.3h.250V591.9h.250V592.8h.250V588.2h.250V588.2h.250V588.2h.250V588.0h.250V593.2h.250V592.9h.250V593.8h.250V593.4h.250V592.7h.250V590.2h.250V590.3h.250V591.4h.250V590.1h.250V588.0h.250V590.1h.250V588.5h.250V590.2h.250V583.0h.250V583.0h.250V583.0h.250V583.0h.250V593.8h.250V593.0h.250V593.9h.250V589.1h.250V587.5h.250V590.7h.250V587.5h.250V588.0h.250V589.8h.250V589.8h.250V589.8h.250V588.9h.250V580.6h.250V580.6h.250V580.6h.250V580.6h.250V586.1h.250V586.5h.250V586.9h.250V592.6h.250V591.6h.250V591.8h.250V592.5h.250V590.4h.250V591.1h.250V591.0h.250V592.2h.250V594.0h.250V583.0h.250V583.0h.250V583.0h.250V583.0h.250V593.4h.250V595.0h.250V593.1h.250V595.0h.250V595.2h.250V594.4h.250V595.4h.250V598.1h.250V598.4h.250V598.6h.250V597.9h.250V596.3h.250V596.6h.250V596.7h.250V596.7h.250V599.3h.250V598.4h.250V598.8h.250V599.1h.250V599.3h.250V599.5h.250V599.3h.250V599.0h.250V599.4h.250V599.5h.250V599.8h.250V600.0h.250V600.8h.250V601.0h.250V600.9h.250V600.8h.250V601.6h.250V601.6h.250V601.6h.250V601.8h.250V602.1h.250V602.4h.250V602.1h.250V602.0h.250V602.8h.250V602.6h.250V602.6h.250V602.5h.250V602.4h.250V602.2h.250V602.6h.250V602.6h.250V602.8h.250V602.8h.250V602.9h.250V603.0h.250V602.6h.250V602.6h.250V602.9h.250V602.9h.250V602.9h.250V603.1h.250V603.2h.250V603.2h.250V603.3h.250V603.2h.250V603.4h.250V603.4h.250V603.2h.250V603.4h.250V603.3h.250V603.4h.250V603.3h.250V603.3h.250V603.4h.250V603.3h.250V603.4h.250V603.4h.250V603.4h.250V603.5h.250V603.3h.250V603.4h.250V603.3h.250V603.4h.250V603.3h.250V603.3h.250V603.3h.250V603.3h.250V603.4h.250V603.4h.250V603.4h.250V603.4h.250V603.4h.250V603.5h.250V603.4h.250V603.4h.250V603.3h.250V603.2h.250V603.80Z" fill="#000"/>
<path d="M163.00,557.50H242.50V603.80" fill="none" stroke="#666" stroke-width="1"/>
<path d="M163.00,557.50V603.80H242.50" fill="none" stroke="#111" stroke-width="1.2"/>
<path d="M161.20,603.80H163.00M162.00,601.48H163.00M162.00,599.17H163.00M162.00,596.86H163.00M162.00,594.54H163.00M161.20,592.22H163.00M162.00,589.91H163.00M162.00,587.60H163.00M162.00,585.28H163.00M162.00,582.96H163.00M161.20,580.65H163.00M162.00,578.34H163.00M162.00,576.02H163.00M162.00,573.70H163.00M162.00,571.39H163.00M161.20,569.08H163.00M162.00,566.76H163.00M162.00,564.44H163.00M162.00,562.13H163.00M162.00,559.82H163.00M161.20,557.50H163.00M163.00,603.80V605.60M168.98,603.80V604.80M172.48,603.80V604.80M174.97,603.80V604.80M176.89,603.80V604.80M178.47,603.80V604.80M179.80,603.80V604.80M180.95,603.80V604.80M181.97,603.80V604.80M182.88,603.80V605.60M188.86,603.80V604.80M192.36,603.80V604.80M194.84,603.80V604.80M196.77,603.80V604.80M198.34,603.80V604.80M199.67,603.80V604.80M200.82,603.80V604.80M201.84,603.80V604.80M202.75,603.80V605.60M208.73,603.80V604.80M212.23,603.80V604.80M214.72,603.80V604.80M216.64,603.80V604.80M218.22,603.80V604.80M219.55,603.80V604.80M220.70,603.80V604.80M221.72,603.80V604.80M222.62,603.80V605.60M228.61,603.80V604.80M232.11,603.80V604.80M234.59,603.80V604.80M236.52,603.80V604.80M238.09,603.80V604.80M239.42,603.80V604.80M240.57,603.80V604.80M241.59,603.80V604.80" stroke="#444" stroke-width="0.5" fill="none"/>
<text transform="translate(159.40,603.80) rotate(-90)" font-family='"Liberation Sans", sans-serif' font-size="5.0" text-anchor="middle" fill="#222">0</text>
<text transform="translate(159.40,588.37) rotate(-90)" font-family='"Liberation Sans", sans-serif' font-size="5.0" text-anchor="middle" fill="#222">5</text>
<text transform="translate(159.40,572.93) rotate(-90)" font-family='"Liberation Sans", sans-serif' font-size="5.0" text-anchor="middle" fill="#222">10</text>
<text transform="translate(159.40,557.50) rotate(-90)" font-family='"Liberation Sans", sans-serif' font-size="5.0" text-anchor="middle" fill="#222">15</text>
<text transform="translate(151.80,581.65) rotate(-90)" font-family='"Liberation Sans", sans-serif' font-size="5.6" text-anchor="middle" fill="#222">Counts</text>
<text x="159.60" y="612.60" font-family='"Liberation Sans", sans-serif' font-size="6.4" fill="#222" textLength="8.8" lengthAdjust="spacingAndGlyphs">10<tspan font-size="4.8" dy="-3.0">0</tspan></text>
<text x="179.03" y="612.60" font-family='"Liberation Sans", sans-serif' font-size="6.4" fill="#222" textLength="8.8" lengthAdjust="spacingAndGlyphs">10<tspan font-size="4.8" dy="-3.0">1</tspan></text>
<text x="198.45" y="612.60" font-family='"Liberation Sans", sans-serif' font-size="6.4" fill="#222" textLength="8.8" lengthAdjust="spacingAndGlyphs">10<tspan font-size="4.8" dy="-3.0">2</tspan></text>
<text x="217.88" y="612.60" font-family='"Liberation Sans", sans-serif' font-size="6.4" fill="#222" textLength="8.8" lengthAdjust="spacingAndGlyphs">10<tspan font-size="4.8" dy="-3.0">3</tspan></text>
<text x="237.30" y="612.60" font-family='"Liberation Sans", sans-serif' font-size="6.4" fill="#222" textLength="8.8" lengthAdjust="spacingAndGlyphs">10<tspan font-size="4.8" dy="-3.0">4</tspan></text>
<text x="203.25" y="618.40" font-family='"Liberation Sans", sans-serif' font-size="5.6" font-weight="bold" text-anchor="middle" fill="#222">FL1-H</text>
<path d="M193.50,572.80H235.00M193.50,570.00V576.00M235.00,570.00V576.00" stroke="#555" stroke-width="1" fill="none"/>
<text x="193.50" y="567.60" font-family='"Liberation Sans", sans-serif' font-size="7" font-weight="normal" text-anchor="start" fill="#222" textLength="38.50" lengthAdjust="spacingAndGlyphs" stroke="#000" stroke-width="0.15">35.71 +-5.18</text>
<path d="M330.00,604.40V581.8h.250V582.2h.250V579.1h.250V592.4h.250V596.4h.250V596.0h.250V594.8h.250V594.2h.250V594.9h.250V593.5h.250V592.3h.250V593.4h.250V593.8h.250V593.8h.250V593.8h.250V594.3h.250V595.2h.250V594.2h.250V595.1h.250V595.0h.250V593.3h.250V591.4h.250V591.0h.250V590.1h.250V588.2h.250V587.9h.250V586.8h.250V585.2h.250V584.2h.250V584.2h.250V583.9h.250V582.7h.250V581.2h.250V577.2h.250V577.7h.250V577.2h.250V581.4h.250V580.2h.250V580.5h.250V578.4h.250V581.1h.250V578.4h.250V580.2h.250V578.5h.250V567.4h.250V569.0h.250V565.6h.250V564.4h.250V567.6h.250V565.1h.250V564.8h.250V566.9h.250V567.4h.250V568.0h.250V568.7h.250V566.8h.250V569.8h.250V562.2h.250V563.5h.250V567.6h.250V568.2h.250V559.9h.250V559.6h.250V562.3h.250V563.3h.250V559.3h.250V559.3h.250V559.3h.250V559.3h.250V560.6h.250V567.6h.250V564.5h.250V566.2h.250V565.5h.250V566.6h.250V569.9h.250V568.7h.250V570.4h.250V569.8h.250V569.6h.250V572.9h.250V573.3h.250V573.5h.250V575.8h.250V574.8h.250V577.0h.250V576.8h.250V578.9h.250V579.2h.250V580.7h.250V581.0h.250V582.7h.250V583.1h.250V584.1h.250V585.7h.250V586.1h.250V589.5h.250V590.2h.250V592.3h.250V591.1h.250V592.2h.250V590.6h.250V590.8h.250V591.6h.250V591.2h.250V590.8h.250V592.4h.250V591.9h.250V593.3h.250V593.5h.250V594.9h.250V595.5h.250V595.0h.250V595.6h.250V595.1h.250V595.6h.250V596.4h.250V596.3h.250V595.4h.250V595.7h.250V594.9h.250V594.1h.250V594.4h.250V594.2h.250V594.8h.250V593.5h.250V593.5h.250V594.9h.250V593.0h.250V592.8h.250V593.2h.250V592.8h.250V594.0h.250V594.6h.250V594.7h.250V595.5h.250V594.4h.250V594.2h.250V594.3h.250V594.6h.250V597.2h.250V596.7h.250V596.5h.250V597.0h.250V594.8h.250V594.5h.250V593.9h.250V592.8h.250V594.9h.250V594.1h.250V594.4h.250V593.5h.250V593.8h.250V593.1h.250V593.4h.250V593.9h.250V590.4h.250V591.0h.250V590.7h.250V590.3h.250V590.9h.250V590.6h.250V591.2h.250V591.1h.250V591.8h.250V589.9h.250V590.5h.250V589.7h.250V589.4h.250V588.6h.250V588.9h.250V587.6h.250V589.0h.250V589.0h.250V589.7h.250V590.5h.250V589.5h.250V589.9h.250V590.1h.250V591.1h.250V586.7h.250V585.5h.250V588.0h.250V587.2h.250V589.0h.250V589.2h.250V586.9h.250V587.7h.250V585.9h.250V588.5h.250V586.3h.250V587.3h.250V588.3h.250V585.5h.250V588.0h.250V587.6h.250V586.2h.250V587.2h.250V588.2h.250V587.0h.250V587.6h.250V587.5h.250V588.8h.250V590.5h.250V582.7h.250V582.7h.250V582.7h.250V582.7h.250V590.6h.250V588.7h.250V589.5h.250V589.0h.250V587.0h.250V587.7h.250V588.1h.250V588.4h.250V587.5h.250V587.9h.250V585.6h.250V588.3h.250V586.7h.250V586.5h.250V587.4h.250V587.3h.250V590.2h.250V591.6h.250V589.4h.250V590.2h.250V589.5h.250V588.4h.250V589.0h.250V588.9h.250V590.8h.250V590.4h.250V591.3h.250V591.7h.250V592.2h.250V592.2h.250V592.5h.250V592.7h.250V593.3h.250V593.7h.250V593.0h.250V593.5h.250V591.5h.250V592.3h.250V592.4h.250V592.6h.250V593.7h.250V594.2h.250V594.6h.250V595.1h.250V597.1h.250V597.8h.250V597.6h.250V598.5h.250V597.7h.250V598.3h.250V598.4h.250V598.4h.250V599.9h.250V600.0h.250V600.3h.250V600.3h.250V600.6h.250V600.9h.250V601.5h.250V601.4h.250V601.2h.250V601.6h.250V601.9h.250V602.1h.250V601.5h.250V601.6h.250V601.7h.250V601.8h.250V602.7h.250V602.9h.250V602.9h.250V602.9h.250V602.9h.250V602.9h.250V603.1h.250V603.0h.250V603.3h.250V603.3h.250V603.4h.250V603.5h.250V603.3h.250V603.5h.250V603.4h.250V603.5h.250V603.4h.250V603.5h.250V603.5h.250V603.5h.250V603.7h.250V603.6h.250V603.7h.250V603.7h.250V603.7h.250V603.7h.250V603.6h.250V603.6h.250V603.5h.250V603.6h.250V603.6h.250V603.6h.250V603.8h.250V603.8h.250V603.8h.250V603.8h.250V603.8h.250V603.8h.250V603.9h.250V603.9h.250V603.9h.250V603.8h.250V603.9h.250V603.9h.250V603.8h.250V604.40Z" fill="#000"/>
<path d="M330.00,558.40H410.30V604.40" fill="none" stroke="#666" stroke-width="1"/>
<path d="M330.00,558.40V604.40H410.30" fill="none" stroke="#111" stroke-width="1.2"/>
<path d="M328.20,604.40H330.00M329.00,602.10H330.00M329.00,599.80H330.00M329.00,597.50H330.00M329.00,595.20H330.00M328.20,592.90H330.00M329.00,590.60H330.00M329.00,588.30H330.00M329.00,586.00H330.00M329.00,583.70H330.00M328.20,581.40H330.00M329.00,579.10H330.00M329.00,576.80H330.00M329.00,574.50H330.00M329.00,572.20H330.00M328.20,569.90H330.00M329.00,567.60H330.00M329.00,565.30H330.00M329.00,563.00H330.00M329.00,560.70H330.00M328.20,558.40H330.00M330.00,604.40V606.20M336.04,604.40V605.40M339.58,604.40V605.40M342.09,604.40V605.40M344.03,604.40V605.40M345.62,604.40V605.40M346.97,604.40V605.40M348.13,604.40V605.40M349.16,604.40V605.40M350.07,604.40V606.20M356.12,604.40V605.40M359.65,604.40V605.40M362.16,604.40V605.40M364.11,604.40V605.40M365.70,604.40V605.40M367.04,604.40V605.40M368.20,604.40V605.40M369.23,604.40V605.40M370.15,604.40V606.20M376.19,604.40V605.40M379.73,604.40V605.40M382.24,604.40V605.40M384.18,604.40V605.40M385.77,604.40V605.40M387.12,604.40V605.40M388.28,604.40V605.40M389.31,604.40V605.40M390.23,604.40V606.20M396.27,604.40V605.40M399.80,604.40V605.40M402.31,604.40V605.40M404.26,604.40V605.40M405.85,604.40V605.40M407.19,604.40V605.40M408.35,604.40V605.40M409.38,604.40V605.40" stroke="#444" stroke-width="0.5" fill="none"/>
<text transform="translate(326.40,604.40) rotate(-90)" font-family='"Liberation Sans", sans-serif' font-size="5.0" text-anchor="middle" fill="#222">0</text>
<text transform="translate(326.40,590.60) rotate(-90)" font-family='"Liberation Sans", sans-serif' font-size="5.0" text-anchor="middle" fill="#222">10</text>
<text transform="translate(326.40,576.80) rotate(-90)" font-family='"Liberation Sans", sans-serif' font-size="5.0" text-anchor="middle" fill="#222">20</text>
<text transform="translate(326.40,563.00) rotate(-90)" font-family='"Liberation Sans", sans-serif' font-size="5.0" text-anchor="middle" fill="#222">30</text>
<text transform="translate(318.80,582.40) rotate(-90)" font-family='"Liberation Sans", sans-serif' font-size="5.6" text-anchor="middle" fill="#222">Counts</text>
<text x="326.60" y="613.20" font-family='"Liberation Sans", sans-serif' font-size="6.4" fill="#222" textLength="8.8" lengthAdjust="spacingAndGlyphs">10<tspan font-size="4.8" dy="-3.0">0</tspan></text>
<text x="346.22" y="613.20" font-family='"Liberation Sans", sans-serif' font-size="6.4" fill="#222" textLength="8.8" lengthAdjust="spacingAndGlyphs">10<tspan font-size="4.8" dy="-3.0">1</tspan></text>
<text x="365.85" y="613.20" font-family='"Liberation Sans", sans-serif' font-size="6.4" fill="#222" textLength="8.8" lengthAdjust="spacingAndGlyphs">10<tspan font-size="4.8" dy="-3.0">2</tspan></text>
<text x="385.47" y="613.20" font-family='"Liberation Sans", sans-serif' font-size="6.4" fill="#222" textLength="8.8" lengthAdjust="spacingAndGlyphs">10<tspan font-size="4.8" dy="-3.0">3</tspan></text>
<text x="405.10" y="613.20" font-family='"Liberation Sans", sans-serif' font-size="6.4" fill="#222" textLength="8.8" lengthAdjust="spacingAndGlyphs">10<tspan font-size="4.8" dy="-3.0">4</tspan></text>
<text x="370.65" y="619.00" font-family='"Liberation Sans", sans-serif' font-size="5.6" font-weight="bold" text-anchor="middle" fill="#222">FL1-H</text>
<path d="M359.20,574.00H400.60M359.20,571.20V577.20M400.60,571.20V577.20" stroke="#555" stroke-width="1" fill="none"/>
<text x="360.50" y="568.80" font-family='"Liberation Sans", sans-serif' font-size="7" font-weight="normal" text-anchor="start" fill="#222" textLength="39.60" lengthAdjust="spacingAndGlyphs" stroke="#000" stroke-width="0.15">35.23 +-1.49</text>
<path d="M434.70,604.40V589.7h.250V590.0h.250V590.6h.250V591.2h.250V593.4h.250V596.5h.250V599.9h.250V599.6h.250V599.5h.250V599.6h.250V599.5h.250V599.1h.250V601.2h.250V601.1h.250V600.9h.250V600.7h.250V599.5h.250V599.5h.250V599.0h.250V599.1h.250V598.6h.250V599.2h.250V597.8h.250V597.6h.250V596.8h.250V596.6h.250V596.4h.250V596.2h.250V598.1h.250V598.0h.250V597.1h.250V597.7h.250V595.1h.250V594.1h.250V593.2h.250V592.3h.250V594.9h.250V594.5h.250V593.0h.250V592.2h.250V590.7h.250V587.9h.250V589.8h.250V587.5h.250V591.8h.250V589.6h.250V587.1h.250V588.3h.250V583.3h.250V584.4h.250V579.8h.250V582.5h.250V581.6h.250V580.7h.250V577.3h.250V581.2h.250V577.5h.250V579.6h.250V579.3h.250V577.1h.250V575.9h.250V576.3h.250V575.3h.250V572.6h.250V578.1h.250V580.9h.250V577.0h.250V578.5h.250V569.9h.250V570.3h.250V570.5h.250V566.5h.250V563.3h.250V563.3h.250V563.3h.250V563.3h.250V574.9h.250V576.5h.250V576.4h.250V577.9h.250V573.6h.250V571.8h.250V573.3h.250V572.0h.250V575.1h.250V576.9h.250V577.0h.250V574.7h.250V578.3h.250V580.9h.250V581.4h.250V580.6h.250V585.6h.250V585.3h.250V587.3h.250V584.9h.250V587.7h.250V588.2h.250V589.6h.250V591.6h.250V589.0h.250V587.0h.250V586.7h.250V589.1h.250V587.9h.250V587.7h.250V588.1h.250V589.8h.250V590.6h.250V590.1h.250V591.2h.250V592.5h.250V594.3h.250V593.2h.250V594.2h.250V591.5h.250V588.6h.250V590.4h.250V590.5h.250V591.3h.250V595.4h.250V596.3h.250V594.9h.250V595.6h.250V589.3h.250V589.3h.250V589.3h.250V589.3h.250V591.7h.250V594.6h.250V591.8h.250V593.8h.250V593.0h.250V592.3h.250V592.0h.250V592.1h.250V592.5h.250V592.3h.250V592.2h.250V591.3h.250V593.2h.250V592.2h.250V592.2h.250V589.7h.250V593.1h.250V592.1h.250V591.8h.250V594.2h.250V588.3h.250V587.4h.250V589.4h.250V588.7h.250V590.7h.250V592.2h.250V591.7h.250V589.6h.250V588.7h.250V592.4h.250V589.8h.250V590.3h.250V592.6h.250V591.8h.250V593.5h.250V591.2h.250V590.5h.250V591.0h.250V589.7h.250V588.8h.250V589.2h.250V590.3h.250V590.1h.250V589.5h.250V591.2h.250V589.2h.250V590.8h.250V589.5h.250V589.8h.250V588.6h.250V589.6h.250V588.3h.250V587.4h.250V587.0h.250V585.0h.250V585.7h.250V587.0h.250V589.9h.250V589.6h.250V588.6h.250V583.8h.250V581.3h.250V583.0h.250V584.3h.250V588.6h.250V586.8h.250V589.2h.250V586.9h.250V587.6h.250V589.2h.250V589.0h.250V587.9h.250V587.7h.250V587.8h.250V586.9h.250V587.0h.250V590.1h.250V588.9h.250V591.5h.250V589.5h.250V591.3h.250V593.3h.250V591.7h.250V593.4h.250V593.3h.250V593.4h.250V595.7h.250V594.3h.250V591.7h.250V591.3h.250V591.3h.250V591.3h.250V592.7h.250V593.0h.250V592.5h.250V593.2h.250V592.4h.250V592.5h.250V592.6h.250V592.9h.250V595.1h.250V596.2h.250V596.0h.250V595.9h.250V594.6h.250V596.2h.250V596.3h.250V596.1h.250V597.3h.250V598.1h.250V598.3h.250V598.7h.250V597.9h.250V598.1h.250V597.9h.250V598.6h.250V599.3h.250V600.3h.250V599.9h.250V600.1h.250V600.4h.250V600.7h.250V600.9h.250V601.3h.250V601.3h.250V601.7h.250V602.0h.250V602.0h.250V602.2h.250V602.2h.250V602.3h.250V602.5h.250V602.7h.250V602.7h.250V602.8h.250V602.8h.250V603.0h.250V603.3h.250V603.2h.250V603.4h.250V603.5h.250V603.6h.250V603.7h.250V603.8h.250V604.0h.250V604.0h.250V603.9h.250V604.0h.250V604.0h.250V604.1h.250V604.1h.250V604.1h.250V603.9h.250V604.0h.250V604.0h.250V604.0h.250V604.0h.250V603.9h.250V603.9h.250V604.0h.250V604.0h.250V603.9h.250V604.0h.250V604.0h.250V604.0h.250V603.9h.250V603.9h.250V603.9h.250V604.1h.250V604.0h.250V604.0h.250V604.0h.250V604.0h.250V604.0h.250V604.0h.250V604.0h.250V603.9h.250V603.9h.250V604.0h.250V604.0h.250V603.9h.250V603.9h.250V603.9h.250V603.9h.250V603.9h.250V604.0h.250V604.0h.250V603.9h.250V603.9h.250V603.9h.250V603.9h.250V604.0h.250V603.9h.250V603.8h.250V604.40Z" fill="#000"/>
<path d="M434.70,558.70H515.30V604.40" fill="none" stroke="#666" stroke-width="1"/>
<path d="M434.70,558.70V604.40H515.30" fill="none" stroke="#111" stroke-width="1.2"/>
<path d="M432.90,604.40H434.70M433.70,602.12H434.70M433.70,599.83H434.70M433.70,597.54H434.70M433.70,595.26H434.70M432.90,592.98H434.70M433.70,590.69H434.70M433.70,588.40H434.70M433.70,586.12H434.70M433.70,583.84H434.70M432.90,581.55H434.70M433.70,579.26H434.70M433.70,576.98H434.70M433.70,574.70H434.70M433.70,572.41H434.70M432.90,570.12H434.70M433.70,567.84H434.70M433.70,565.56H434.70M433.70,563.27H434.70M433.70,560.99H434.70M432.90,558.70H434.70M434.70,604.40V606.20M440.77,604.40V605.40M444.31,604.40V605.40M446.83,604.40V605.40M448.78,604.40V605.40M450.38,604.40V605.40M451.73,604.40V605.40M452.90,604.40V605.40M453.93,604.40V605.40M454.85,604.40V606.20M460.92,604.40V605.40M464.46,604.40V605.40M466.98,604.40V605.40M468.93,604.40V605.40M470.53,604.40V605.40M471.88,604.40V605.40M473.05,604.40V605.40M474.08,604.40V605.40M475.00,604.40V606.20M481.07,604.40V605.40M484.61,604.40V605.40M487.13,604.40V605.40M489.08,604.40V605.40M490.68,604.40V605.40M492.03,604.40V605.40M493.20,604.40V605.40M494.23,604.40V605.40M495.15,604.40V606.20M501.22,604.40V605.40M504.76,604.40V605.40M507.28,604.40V605.40M509.23,604.40V605.40M510.83,604.40V605.40M512.18,604.40V605.40M513.35,604.40V605.40M514.38,604.40V605.40" stroke="#444" stroke-width="0.5" fill="none"/>
<text transform="translate(431.10,604.40) rotate(-90)" font-family='"Liberation Sans", sans-serif' font-size="5.0" text-anchor="middle" fill="#222">0</text>
<text transform="translate(431.10,592.37) rotate(-90)" font-family='"Liberation Sans", sans-serif' font-size="5.0" text-anchor="middle" fill="#222">5</text>
<text transform="translate(431.10,580.33) rotate(-90)" font-family='"Liberation Sans", sans-serif' font-size="5.0" text-anchor="middle" fill="#222">10</text>
<text transform="translate(431.10,568.30) rotate(-90)" font-family='"Liberation Sans", sans-serif' font-size="5.0" text-anchor="middle" fill="#222">15</text>
<text transform="translate(423.50,582.55) rotate(-90)" font-family='"Liberation Sans", sans-serif' font-size="5.6" text-anchor="middle" fill="#222">Counts</text>
<text x="431.30" y="613.20" font-family='"Liberation Sans", sans-serif' font-size="6.4" fill="#222" textLength="8.8" lengthAdjust="spacingAndGlyphs">10<tspan font-size="4.8" dy="-3.0">0</tspan></text>
<text x="451.00" y="613.20" font-family='"Liberation Sans", sans-serif' font-size="6.4" fill="#222" textLength="8.8" lengthAdjust="spacingAndGlyphs">10<tspan font-size="4.8" dy="-3.0">1</tspan></text>
<text x="470.70" y="613.20" font-family='"Liberation Sans", sans-serif' font-size="6.4" fill="#222" textLength="8.8" lengthAdjust="spacingAndGlyphs">10<tspan font-size="4.8" dy="-3.0">2</tspan></text>
<text x="490.40" y="613.20" font-family='"Liberation Sans", sans-serif' font-size="6.4" fill="#222" textLength="8.8" lengthAdjust="spacingAndGlyphs">10<tspan font-size="4.8" dy="-3.0">3</tspan></text>
<text x="510.10" y="613.20" font-family='"Liberation Sans", sans-serif' font-size="6.4" fill="#222" textLength="8.8" lengthAdjust="spacingAndGlyphs">10<tspan font-size="4.8" dy="-3.0">4</tspan></text>
<text x="475.50" y="619.00" font-family='"Liberation Sans", sans-serif' font-size="5.6" font-weight="bold" text-anchor="middle" fill="#222">FL1-H</text>
<path d="M463.30,574.00H504.80M463.30,571.20V577.20M504.80,571.20V577.20" stroke="#555" stroke-width="1" fill="none"/>
<text x="464.50" y="568.80" font-family='"Liberation Sans", sans-serif' font-size="7" font-weight="normal" text-anchor="start" fill="#222" textLength="38.60" lengthAdjust="spacingAndGlyphs" stroke="#000" stroke-width="0.15">53.11 +-0.61</text>
<path d="M55.20,671.10V668.6h.250V668.4h.250V668.2h.250V668.0h.250V667.8h.250V667.6h.250V667.4h.250V666.8h.250V666.4h.250V665.8h.250V665.2h.250V664.6h.250V663.9h.250V663.3h.250V662.7h.250V662.0h.250V661.7h.250V660.7h.250V659.9h.250V658.9h.250V658.1h.250V657.3h.250V656.4h.250V655.1h.250V653.9h.250V653.0h.250V652.0h.250V651.2h.250V649.4h.250V648.2h.250V647.0h.250V646.3h.250V645.9h.250V644.2h.250V642.9h.250V641.8h.250V640.9h.250V639.9h.250V638.4h.250V637.0h.250V634.8h.250V633.2h.250V632.8h.250V631.2h.250V630.7h.250V629.9h.250V629.1h.250V629.2h.250V627.8h.250V627.7h.250V626.9h.250V626.7h.250V627.7h.250V627.1h.250V626.4h.250V626.2h.250V626.4h.250V626.3h.250V626.8h.250V627.7h.250V628.2h.250V629.6h.250V630.3h.250V631.8h.250V633.6h.250V634.3h.250V635.3h.250V636.8h.250V638.3h.250V640.1h.250V641.0h.250V642.8h.250V645.0h.250V646.6h.250V648.4h.250V649.8h.250V651.2h.250V653.0h.250V654.8h.250V656.0h.250V657.5h.250V659.4h.250V660.6h.250V662.1h.250V663.4h.250V664.4h.250V664.8h.250V665.6h.250V666.1h.250V666.7h.250V667.2h.250V667.8h.250V667.9h.250V668.1h.250V668.2h.250V668.4h.250V668.5h.250V668.7h.250V668.7h.250V668.8h.250V668.8h.250V668.8h.250V668.8h.250V668.8h.250V668.8h.250V668.8h.250V668.8h.250V668.8h.250V668.9h.250V668.8h.250V668.8h.250V668.9h.250V668.8h.250V668.8h.250V668.8h.250V668.8h.250V668.9h.250V668.9h.250V668.9h.250V668.9h.250V668.9h.250V668.9h.250V668.9h.250V669.0h.250V669.0h.250V669.0h.250V669.0h.250V669.0h.250V669.0h.250V669.0h.250V669.0h.250V669.0h.250V668.9h.250V669.0h.250V669.0h.250V669.0h.250V669.1h.250V669.0h.250V669.1h.250V669.0h.250V669.1h.250V669.0h.250V669.1h.250V669.1h.250V669.1h.250V669.1h.250V669.1h.250V669.1h.250V669.2h.250V669.1h.250V669.1h.250V669.2h.250V669.2h.250V669.2h.250V669.2h.250V669.2h.250V669.2h.250V669.2h.250V669.2h.250V669.2h.250V669.1h.250V669.2h.250V669.2h.250V669.2h.250V669.3h.250V669.3h.250V669.3h.250V669.3h.250V669.3h.250V669.3h.250V669.4h.250V669.3h.250V669.3h.250V669.3h.250V669.3h.250V669.3h.250V669.4h.250V669.4h.250V669.4h.250V669.4h.250V669.4h.250V669.4h.250V669.4h.250V669.4h.250V669.4h.250V669.4h.250V669.4h.250V669.5h.250V669.5h.250V669.5h.250V669.5h.250V669.5h.250V669.5h.250V669.5h.250V669.5h.250V669.5h.250V669.6h.250V669.6h.250V669.6h.250V669.6h.250V669.6h.250V669.6h.250V669.6h.250V669.7h.250V669.6h.250V669.6h.250V669.7h.250V669.7h.250V669.7h.250V669.7h.250V669.7h.250V669.7h.250V669.7h.250V669.7h.250V669.7h.250V669.7h.250V669.7h.250V669.7h.250V669.7h.250V669.7h.250V669.8h.250V669.8h.250V669.8h.250V669.8h.250V669.8h.250V669.8h.250V669.8h.250V669.8h.250V669.8h.250V669.8h.250V669.9h.250V669.9h.250V669.9h.250V669.9h.250V669.9h.250V669.9h.250V669.9h.250V669.9h.250V669.9h.250V670.0h.250V670.0h.250V670.0h.250V670.0h.250V670.0h.250V670.0h.250V670.0h.250V670.0h.250V670.0h.250V670.0h.250V670.0h.250V670.0h.250V670.0h.250V670.1h.250V670.1h.250V670.1h.250V670.1h.250V670.1h.250V670.1h.250V670.1h.250V670.1h.250V670.2h.250V670.2h.250V670.2h.250V670.2h.250V670.2h.250V670.2h.250V670.3h.250V670.3h.250V670.4h.250V670.4h.250V670.4h.250V670.4h.250V670.5h.250V670.5h.250V670.5h.250V670.6h.250V670.6h.250V670.6h.250V670.6h.250V670.6h.250V670.6h.250V670.6h.250V670.6h.250V670.6h.250V670.6h.250V670.6h.250V670.6h.250V670.6h.250V670.6h.250V670.6h.250V670.6h.250V670.6h.250V670.6h.250V670.6h.250V670.6h.250V670.6h.250V670.6h.250V670.6h.250V670.6h.250V670.6h.250V670.6h.250V670.6h.250V670.6h.250V670.6h.250V670.6h.250V670.6h.250V670.6h.250V670.6h.250V670.6h.250V670.6h.250V670.6h.250V670.6h.250V670.6h.250V670.6h.250V670.6h.250V670.6h.250V670.6h.250V670.6h.250V670.6h.250V670.6h.250V670.6h.250V670.6h.250V670.6h.250V670.6h.250V670.6h.250V670.6h.250V670.6h.250V671.10Z" fill="#000"/>
<path d="M55.20,624.50H136.90V671.10" fill="none" stroke="#666" stroke-width="1"/>
<path d="M55.20,624.50V671.10H136.90" fill="none" stroke="#111" stroke-width="1.2"/>
<path d="M53.40,671.10H55.20M54.20,668.77H55.20M54.20,666.44H55.20M54.20,664.11H55.20M54.20,661.78H55.20M53.40,659.45H55.20M54.20,657.12H55.20M54.20,654.79H55.20M54.20,652.46H55.20M54.20,650.13H55.20M53.40,647.80H55.20M54.20,645.47H55.20M54.20,643.14H55.20M54.20,640.81H55.20M54.20,638.48H55.20M53.40,636.15H55.20M54.20,633.82H55.20M54.20,631.49H55.20M54.20,629.16H55.20M54.20,626.83H55.20M53.40,624.50H55.20M55.20,671.10V672.90M61.35,671.10V672.10M64.95,671.10V672.10M67.50,671.10V672.10M69.48,671.10V672.10M71.09,671.10V672.10M72.46,671.10V672.10M73.65,671.10V672.10M74.69,671.10V672.10M75.62,671.10V672.90M81.77,671.10V672.10M85.37,671.10V672.10M87.92,671.10V672.10M89.90,671.10V672.10M91.52,671.10V672.10M92.89,671.10V672.10M94.07,671.10V672.10M95.12,671.10V672.10M96.05,671.10V672.90M102.20,671.10V672.10M105.80,671.10V672.10M108.35,671.10V672.10M110.33,671.10V672.10M111.94,671.10V672.10M113.31,671.10V672.10M114.50,671.10V672.10M115.54,671.10V672.10M116.48,671.10V672.90M122.62,671.10V672.10M126.22,671.10V672.10M128.77,671.10V672.10M130.75,671.10V672.10M132.37,671.10V672.10M133.74,671.10V672.10M134.92,671.10V672.10M135.97,671.10V672.10" stroke="#444" stroke-width="0.5" fill="none"/>
<text transform="translate(51.60,671.10) rotate(-90)" font-family='"Liberation Sans", sans-serif' font-size="5.0" text-anchor="middle" fill="#222">0</text>
<text transform="translate(51.60,662.15) rotate(-90)" font-family='"Liberation Sans", sans-serif' font-size="5.0" text-anchor="middle" fill="#222">140</text>
<text transform="translate(51.60,653.21) rotate(-90)" font-family='"Liberation Sans", sans-serif' font-size="5.0" text-anchor="middle" fill="#222">280</text>
<text transform="translate(51.60,644.26) rotate(-90)" font-family='"Liberation Sans", sans-serif' font-size="5.0" text-anchor="middle" fill="#222">420</text>
<text transform="translate(51.60,635.31) rotate(-90)" font-family='"Liberation Sans", sans-serif' font-size="5.0" text-anchor="middle" fill="#222">560</text>
<text transform="translate(51.60,626.36) rotate(-90)" font-family='"Liberation Sans", sans-serif' font-size="5.0" text-anchor="middle" fill="#222">700</text>
<text transform="translate(44.00,648.80) rotate(-90)" font-family='"Liberation Sans", sans-serif' font-size="5.6" text-anchor="middle" fill="#222">Counts</text>
<text x="51.80" y="679.90" font-family='"Liberation Sans", sans-serif' font-size="6.4" fill="#222" textLength="8.8" lengthAdjust="spacingAndGlyphs">10<tspan font-size="4.8" dy="-3.0">0</tspan></text>
<text x="71.78" y="679.90" font-family='"Liberation Sans", sans-serif' font-size="6.4" fill="#222" textLength="8.8" lengthAdjust="spacingAndGlyphs">10<tspan font-size="4.8" dy="-3.0">1</tspan></text>
<text x="91.75" y="679.90" font-family='"Liberation Sans", sans-serif' font-size="6.4" fill="#222" textLength="8.8" lengthAdjust="spacingAndGlyphs">10<tspan font-size="4.8" dy="-3.0">2</tspan></text>
<text x="111.73" y="679.90" font-family='"Liberation Sans", sans-serif' font-size="6.4" fill="#222" textLength="8.8" lengthAdjust="spacingAndGlyphs">10<tspan font-size="4.8" dy="-3.0">3</tspan></text>
<text x="131.70" y="679.90" font-family='"Liberation Sans", sans-serif' font-size="6.4" fill="#222" textLength="8.8" lengthAdjust="spacingAndGlyphs">10<tspan font-size="4.8" dy="-3.0">4</tspan></text>
<text x="96.55" y="687.20" font-family='"Liberation Sans", sans-serif' font-size="5.6" font-weight="bold" text-anchor="middle" fill="#222">FL1-H</text>
<path d="M83.40,640.80H124.60M83.40,638.00V644.00M124.60,638.00V644.00" stroke="#555" stroke-width="1" fill="none"/>
<text x="86.10" y="635.60" font-family='"Liberation Sans", sans-serif' font-size="7" font-weight="normal" text-anchor="start" fill="#222" textLength="36.00" lengthAdjust="spacingAndGlyphs" stroke="#000" stroke-width="0.15">2.24 +-0.99</text>
<path d="M159.80,670.40V669.5h.250V669.5h.250V669.5h.250V669.5h.250V669.5h.250V669.5h.250V669.5h.250V669.5h.250V669.5h.250V669.5h.250V669.5h.250V669.5h.250V669.5h.250V669.5h.250V669.5h.250V669.5h.250V669.5h.250V669.4h.250V669.4h.250V669.3h.250V669.2h.250V669.2h.250V669.1h.250V669.1h.250V669.0h.250V669.0h.250V668.9h.250V668.9h.250V668.8h.250V668.7h.250V668.7h.250V668.6h.250V668.6h.250V668.2h.250V667.8h.250V667.5h.250V667.0h.250V666.7h.250V666.3h.250V665.9h.250V665.5h.250V665.2h.250V664.8h.250V664.4h.250V663.9h.250V663.6h.250V662.7h.250V661.8h.250V660.9h.250V659.8h.250V658.9h.250V657.8h.250V656.6h.250V655.7h.250V654.7h.250V653.7h.250V652.9h.250V651.1h.250V649.5h.250V647.7h.250V644.8h.250V643.3h.250V641.8h.250V640.1h.250V639.2h.250V637.2h.250V636.1h.250V634.1h.250V631.6h.250V631.0h.250V630.0h.250V628.9h.250V628.0h.250V627.4h.250V626.6h.250V625.5h.250V626.4h.250V626.5h.250V625.2h.250V626.0h.250V625.7h.250V626.0h.250V627.2h.250V628.3h.250V628.9h.250V629.5h.250V631.3h.250V633.0h.250V634.5h.250V636.4h.250V637.6h.250V638.8h.250V641.2h.250V643.5h.250V645.2h.250V647.4h.250V648.6h.250V650.8h.250V652.5h.250V653.9h.250V656.0h.250V657.4h.250V658.6h.250V660.1h.250V661.1h.250V661.8h.250V662.5h.250V663.2h.250V664.0h.250V664.7h.250V665.4h.250V665.7h.250V666.0h.250V666.1h.250V666.2h.250V666.3h.250V666.2h.250V666.4h.250V666.5h.250V666.6h.250V666.7h.250V666.8h.250V666.8h.250V666.9h.250V666.7h.250V666.8h.250V666.9h.250V666.9h.250V667.0h.250V667.1h.250V667.2h.250V667.2h.250V667.1h.250V667.1h.250V667.2h.250V667.2h.250V667.2h.250V667.2h.250V667.3h.250V667.3h.250V667.5h.250V667.5h.250V667.5h.250V667.5h.250V667.6h.250V667.6h.250V667.6h.250V667.7h.250V667.7h.250V667.7h.250V667.7h.250V667.7h.250V667.7h.250V667.7h.250V667.8h.250V667.8h.250V667.8h.250V667.8h.250V667.8h.250V667.8h.250V667.9h.250V667.8h.250V667.9h.250V667.8h.250V667.8h.250V667.9h.250V667.9h.250V667.9h.250V668.0h.250V668.0h.250V668.0h.250V668.0h.250V668.0h.250V668.0h.250V668.1h.250V668.1h.250V668.0h.250V668.0h.250V668.1h.250V668.1h.250V668.1h.250V668.1h.250V668.1h.250V668.1h.250V668.1h.250V668.2h.250V668.2h.250V668.2h.250V668.2h.250V668.2h.250V668.2h.250V668.2h.250V668.3h.250V668.3h.250V668.3h.250V668.3h.250V668.3h.250V668.4h.250V668.4h.250V668.4h.250V668.4h.250V668.4h.250V668.4h.250V668.4h.250V668.5h.250V668.4h.250V668.5h.250V668.5h.250V668.5h.250V668.5h.250V668.5h.250V668.5h.250V668.6h.250V668.5h.250V668.6h.250V668.6h.250V668.6h.250V668.6h.250V668.6h.250V668.6h.250V668.7h.250V668.7h.250V668.7h.250V668.7h.250V668.7h.250V668.7h.250V668.8h.250V668.8h.250V668.8h.250V668.8h.250V668.8h.250V668.8h.250V668.8h.250V668.8h.250V668.8h.250V668.9h.250V668.9h.250V668.9h.250V668.9h.250V669.0h.250V669.0h.250V669.0h.250V669.0h.250V669.0h.250V669.0h.250V669.0h.250V669.0h.250V669.1h.250V669.1h.250V669.1h.250V669.1h.250V669.1h.250V669.1h.250V669.1h.250V669.1h.250V669.2h.250V669.2h.250V669.2h.250V669.2h.250V669.2h.250V669.2h.250V669.3h.250V669.3h.250V669.3h.250V669.3h.250V669.3h.250V669.3h.250V669.3h.250V669.4h.250V669.4h.250V669.4h.250V669.4h.250V669.4h.250V669.4h.250V669.5h.250V669.5h.250V669.5h.250V669.5h.250V669.5h.250V669.6h.250V669.6h.250V669.6h.250V669.7h.250V669.7h.250V669.7h.250V669.7h.250V669.8h.250V669.8h.250V669.8h.250V669.8h.250V669.9h.250V669.9h.250V669.9h.250V669.9h.250V669.9h.250V669.9h.250V669.9h.250V669.9h.250V669.9h.250V669.9h.250V669.9h.250V670.0h.250V670.0h.250V669.9h.250V669.9h.250V669.9h.250V669.9h.250V669.9h.250V669.9h.250V669.9h.250V669.9h.250V669.9h.250V669.9h.250V669.9h.250V669.9h.250V669.9h.250V669.9h.250V669.9h.250V669.9h.250V669.9h.250V669.9h.250V669.9h.250V670.0h.250V669.9h.250V669.9h.250V670.0h.250V670.40Z" fill="#000"/>
<path d="M159.80,624.50H241.30V670.40" fill="none" stroke="#666" stroke-width="1"/>
<path d="M159.80,624.50V670.40H241.30" fill="none" stroke="#111" stroke-width="1.2"/>
<path d="M158.00,670.40H159.80M158.80,668.11H159.80M158.80,665.81H159.80M158.80,663.51H159.80M158.80,661.22H159.80M158.00,658.92H159.80M158.80,656.63H159.80M158.80,654.34H159.80M158.80,652.04H159.80M158.80,649.75H159.80M158.00,647.45H159.80M158.80,645.15H159.80M158.80,642.86H159.80M158.80,640.56H159.80M158.80,638.27H159.80M158.00,635.98H159.80M158.80,633.68H159.80M158.80,631.38H159.80M158.80,629.09H159.80M158.80,626.79H159.80M158.00,624.50H159.80M159.80,670.40V672.20M165.93,670.40V671.40M169.52,670.40V671.40M172.07,670.40V671.40M174.04,670.40V671.40M175.65,670.40V671.40M177.02,670.40V671.40M178.20,670.40V671.40M179.24,670.40V671.40M180.18,670.40V672.20M186.31,670.40V671.40M189.90,670.40V671.40M192.44,670.40V671.40M194.42,670.40V671.40M196.03,670.40V671.40M197.39,670.40V671.40M198.58,670.40V671.40M199.62,670.40V671.40M200.55,670.40V672.20M206.68,670.40V671.40M210.27,670.40V671.40M212.82,670.40V671.40M214.79,670.40V671.40M216.40,670.40V671.40M217.77,670.40V671.40M218.95,670.40V671.40M219.99,670.40V671.40M220.93,670.40V672.20M227.06,670.40V671.40M230.65,670.40V671.40M233.19,670.40V671.40M235.17,670.40V671.40M236.78,670.40V671.40M238.14,670.40V671.40M239.33,670.40V671.40M240.37,670.40V671.40" stroke="#444" stroke-width="0.5" fill="none"/>
<text transform="translate(156.20,670.40) rotate(-90)" font-family='"Liberation Sans", sans-serif' font-size="5.0" text-anchor="middle" fill="#222">0</text>
<text transform="translate(156.20,661.22) rotate(-90)" font-family='"Liberation Sans", sans-serif' font-size="5.0" text-anchor="middle" fill="#222">110</text>
<text transform="translate(156.20,652.04) rotate(-90)" font-family='"Liberation Sans", sans-serif' font-size="5.0" text-anchor="middle" fill="#222">220</text>
<text transform="translate(156.20,642.86) rotate(-90)" font-family='"Liberation Sans", sans-serif' font-size="5.0" text-anchor="middle" fill="#222">330</text>
<text transform="translate(156.20,633.68) rotate(-90)" font-family='"Liberation Sans", sans-serif' font-size="5.0" text-anchor="middle" fill="#222">440</text>
<text transform="translate(156.20,624.50) rotate(-90)" font-family='"Liberation Sans", sans-serif' font-size="5.0" text-anchor="middle" fill="#222">550</text>
<text transform="translate(148.60,648.45) rotate(-90)" font-family='"Liberation Sans", sans-serif' font-size="5.6" text-anchor="middle" fill="#222">Counts</text>
<text x="156.40" y="679.20" font-family='"Liberation Sans", sans-serif' font-size="6.4" fill="#222" textLength="8.8" lengthAdjust="spacingAndGlyphs">10<tspan font-size="4.8" dy="-3.0">0</tspan></text>
<text x="176.33" y="679.20" font-family='"Liberation Sans", sans-serif' font-size="6.4" fill="#222" textLength="8.8" lengthAdjust="spacingAndGlyphs">10<tspan font-size="4.8" dy="-3.0">1</tspan></text>
<text x="196.25" y="679.20" font-family='"Liberation Sans", sans-serif' font-size="6.4" fill="#222" textLength="8.8" lengthAdjust="spacingAndGlyphs">10<tspan font-size="4.8" dy="-3.0">2</tspan></text>
<text x="216.18" y="679.20" font-family='"Liberation Sans", sans-serif' font-size="6.4" fill="#222" textLength="8.8" lengthAdjust="spacingAndGlyphs">10<tspan font-size="4.8" dy="-3.0">3</tspan></text>
<text x="236.10" y="679.20" font-family='"Liberation Sans", sans-serif' font-size="6.4" fill="#222" textLength="8.8" lengthAdjust="spacingAndGlyphs">10<tspan font-size="4.8" dy="-3.0">4</tspan></text>
<text x="201.05" y="686.50" font-family='"Liberation Sans", sans-serif' font-size="5.6" font-weight="bold" text-anchor="middle" fill="#222">FL1-H</text>
<path d="M192.00,640.80H233.20M192.00,638.00V644.00M233.20,638.00V644.00" stroke="#555" stroke-width="1" fill="none"/>
<text x="194.70" y="635.60" font-family='"Liberation Sans", sans-serif' font-size="7" font-weight="normal" text-anchor="start" fill="#222" textLength="34.50" lengthAdjust="spacingAndGlyphs" stroke="#000" stroke-width="0.15">5.93 +-0.62</text>
<path d="M330.00,671.00V660.5h.250V660.1h.250V659.4h.250V659.0h.250V658.2h.250V657.3h.250V656.8h.250V656.2h.250V655.2h.250V654.6h.250V653.8h.250V653.2h.250V652.4h.250V651.8h.250V651.4h.250V650.4h.250V649.6h.250V648.9h.250V648.3h.250V647.3h.250V646.3h.250V645.9h.250V644.7h.250V644.3h.250V644.2h.250V643.1h.250V642.3h.250V641.2h.250V640.1h.250V639.4h.250V638.5h.250V637.7h.250V637.7h.250V636.7h.250V636.1h.250V635.7h.250V634.6h.250V633.8h.250V633.1h.250V632.3h.250V631.6h.250V630.7h.250V630.5h.250V630.1h.250V628.9h.250V628.5h.250V628.4h.250V627.6h.250V628.0h.250V627.7h.250V627.5h.250V627.2h.250V625.8h.250V625.3h.250V625.7h.250V625.2h.250V625.9h.250V625.5h.250V626.0h.250V626.9h.250V628.1h.250V629.0h.250V629.1h.250V629.6h.250V630.5h.250V631.5h.250V632.9h.250V634.5h.250V635.9h.250V637.4h.250V638.9h.250V640.7h.250V642.8h.250V644.7h.250V646.1h.250V647.8h.250V650.1h.250V651.8h.250V653.4h.250V655.0h.250V656.7h.250V658.2h.250V659.8h.250V661.3h.250V662.4h.250V663.2h.250V664.1h.250V664.9h.250V665.8h.250V666.7h.250V667.4h.250V667.7h.250V668.0h.250V668.3h.250V668.6h.250V668.9h.250V669.1h.250V669.1h.250V669.1h.250V669.2h.250V669.2h.250V669.2h.250V669.2h.250V669.3h.250V669.3h.250V669.3h.250V669.3h.250V669.3h.250V669.3h.250V669.4h.250V669.4h.250V669.4h.250V669.3h.250V669.4h.250V669.4h.250V669.4h.250V669.4h.250V669.4h.250V669.4h.250V669.5h.250V669.5h.250V669.5h.250V669.5h.250V669.5h.250V669.5h.250V669.6h.250V669.6h.250V669.6h.250V669.6h.250V669.6h.250V669.6h.250V669.6h.250V669.6h.250V669.6h.250V669.6h.250V669.6h.250V669.6h.250V669.6h.250V669.6h.250V669.6h.250V669.6h.250V669.7h.250V669.6h.250V669.7h.250V669.6h.250V669.6h.250V669.6h.250V669.6h.250V669.6h.250V669.6h.250V669.6h.250V669.6h.250V669.6h.250V669.6h.250V669.6h.250V669.6h.250V669.6h.250V669.6h.250V669.6h.250V669.6h.250V669.6h.250V669.6h.250V669.6h.250V669.6h.250V669.6h.250V669.6h.250V669.6h.250V669.6h.250V669.6h.250V669.6h.250V669.6h.250V669.6h.250V669.6h.250V669.6h.250V669.6h.250V669.6h.250V669.6h.250V669.6h.250V669.6h.250V669.6h.250V669.6h.250V669.6h.250V669.6h.250V669.6h.250V669.6h.250V669.6h.250V669.6h.250V669.6h.250V669.6h.250V669.6h.250V669.6h.250V669.6h.250V669.6h.250V669.6h.250V669.6h.250V669.6h.250V669.6h.250V669.6h.250V669.6h.250V669.6h.250V669.6h.250V669.6h.250V669.6h.250V669.6h.250V669.6h.250V669.6h.250V669.6h.250V669.6h.250V669.6h.250V669.6h.250V669.6h.250V669.6h.250V669.6h.250V669.6h.250V669.6h.250V669.6h.250V669.6h.250V669.6h.250V669.6h.250V669.6h.250V669.6h.250V669.6h.250V669.6h.250V669.6h.250V669.6h.250V669.6h.250V669.6h.250V669.6h.250V669.6h.250V669.6h.250V669.6h.250V669.6h.250V669.6h.250V669.6h.250V669.6h.250V669.6h.250V669.6h.250V669.6h.250V669.6h.250V669.6h.250V669.6h.250V669.6h.250V669.6h.250V669.6h.250V669.6h.250V669.6h.250V669.6h.250V669.6h.250V669.6h.250V669.6h.250V669.6h.250V669.6h.250V669.6h.250V669.6h.250V669.6h.250V669.6h.250V669.6h.250V669.6h.250V669.6h.250V669.6h.250V669.6h.250V669.6h.250V669.6h.250V669.6h.250V669.6h.250V669.6h.250V669.6h.250V669.6h.250V669.6h.250V669.6h.250V669.6h.250V669.6h.250V669.6h.250V669.6h.250V669.6h.250V669.6h.250V669.6h.250V669.6h.250V669.6h.250V669.6h.250V669.6h.250V669.6h.250V669.6h.250V669.6h.250V669.6h.250V669.6h.250V669.6h.250V669.6h.250V669.6h.250V669.6h.250V669.6h.250V669.6h.250V669.7h.250V669.7h.250V669.7h.250V669.8h.250V669.8h.250V669.8h.250V669.9h.250V669.9h.250V669.9h.250V669.9h.250V670.0h.250V670.0h.250V670.0h.250V670.1h.250V670.1h.250V670.1h.250V670.1h.250V670.1h.250V670.1h.250V670.1h.250V670.1h.250V670.1h.250V670.1h.250V670.1h.250V670.1h.250V670.1h.250V670.1h.250V670.1h.250V670.1h.250V670.1h.250V671.00Z" fill="#000"/>
<path d="M330.00,624.50H410.50V671.00" fill="none" stroke="#666" stroke-width="1"/>
<path d="M330.00,624.50V671.00H410.50" fill="none" stroke="#111" stroke-width="1.2"/>
<path d="M328.20,671.00H330.00M329.00,668.67H330.00M329.00,666.35H330.00M329.00,664.02H330.00M329.00,661.70H330.00M328.20,659.38H330.00M329.00,657.05H330.00M329.00,654.73H330.00M329.00,652.40H330.00M329.00,650.08H330.00M328.20,647.75H330.00M329.00,645.42H330.00M329.00,643.10H330.00M329.00,640.77H330.00M329.00,638.45H330.00M328.20,636.12H330.00M329.00,633.80H330.00M329.00,631.48H330.00M329.00,629.15H330.00M329.00,626.83H330.00M328.20,624.50H330.00M330.00,671.00V672.80M336.06,671.00V672.00M339.60,671.00V672.00M342.12,671.00V672.00M344.07,671.00V672.00M345.66,671.00V672.00M347.01,671.00V672.00M348.17,671.00V672.00M349.20,671.00V672.00M350.12,671.00V672.80M356.18,671.00V672.00M359.73,671.00V672.00M362.24,671.00V672.00M364.19,671.00V672.00M365.79,671.00V672.00M367.13,671.00V672.00M368.30,671.00V672.00M369.33,671.00V672.00M370.25,671.00V672.80M376.31,671.00V672.00M379.85,671.00V672.00M382.37,671.00V672.00M384.32,671.00V672.00M385.91,671.00V672.00M387.26,671.00V672.00M388.42,671.00V672.00M389.45,671.00V672.00M390.38,671.00V672.80M396.43,671.00V672.00M399.98,671.00V672.00M402.49,671.00V672.00M404.44,671.00V672.00M406.04,671.00V672.00M407.38,671.00V672.00M408.55,671.00V672.00M409.58,671.00V672.00" stroke="#444" stroke-width="0.5" fill="none"/>
<text transform="translate(326.40,671.00) rotate(-90)" font-family='"Liberation Sans", sans-serif' font-size="5.0" text-anchor="middle" fill="#222">0</text>
<text transform="translate(326.40,662.35) rotate(-90)" font-family='"Liberation Sans", sans-serif' font-size="5.0" text-anchor="middle" fill="#222">140</text>
<text transform="translate(326.40,653.70) rotate(-90)" font-family='"Liberation Sans", sans-serif' font-size="5.0" text-anchor="middle" fill="#222">280</text>
<text transform="translate(326.40,645.05) rotate(-90)" font-family='"Liberation Sans", sans-serif' font-size="5.0" text-anchor="middle" fill="#222">420</text>
<text transform="translate(326.40,636.40) rotate(-90)" font-family='"Liberation Sans", sans-serif' font-size="5.0" text-anchor="middle" fill="#222">560</text>
<text transform="translate(326.40,627.75) rotate(-90)" font-family='"Liberation Sans", sans-serif' font-size="5.0" text-anchor="middle" fill="#222">700</text>
<text transform="translate(318.80,648.75) rotate(-90)" font-family='"Liberation Sans", sans-serif' font-size="5.6" text-anchor="middle" fill="#222">Counts</text>
<text x="326.60" y="679.80" font-family='"Liberation Sans", sans-serif' font-size="6.4" fill="#222" textLength="8.8" lengthAdjust="spacingAndGlyphs">10<tspan font-size="4.8" dy="-3.0">0</tspan></text>
<text x="346.27" y="679.80" font-family='"Liberation Sans", sans-serif' font-size="6.4" fill="#222" textLength="8.8" lengthAdjust="spacingAndGlyphs">10<tspan font-size="4.8" dy="-3.0">1</tspan></text>
<text x="365.95" y="679.80" font-family='"Liberation Sans", sans-serif' font-size="6.4" fill="#222" textLength="8.8" lengthAdjust="spacingAndGlyphs">10<tspan font-size="4.8" dy="-3.0">2</tspan></text>
<text x="385.62" y="679.80" font-family='"Liberation Sans", sans-serif' font-size="6.4" fill="#222" textLength="8.8" lengthAdjust="spacingAndGlyphs">10<tspan font-size="4.8" dy="-3.0">3</tspan></text>
<text x="405.30" y="679.80" font-family='"Liberation Sans", sans-serif' font-size="6.4" fill="#222" textLength="8.8" lengthAdjust="spacingAndGlyphs">10<tspan font-size="4.8" dy="-3.0">4</tspan></text>
<text x="370.75" y="687.10" font-family='"Liberation Sans", sans-serif' font-size="5.6" font-weight="bold" text-anchor="middle" fill="#222">FL1-H</text>
<path d="M359.60,640.80H400.60M359.60,638.00V644.00M400.60,638.00V644.00" stroke="#555" stroke-width="1" fill="none"/>
<text x="363.20" y="635.60" font-family='"Liberation Sans", sans-serif' font-size="7" font-weight="normal" text-anchor="start" fill="#222" textLength="34.50" lengthAdjust="spacingAndGlyphs" stroke="#000" stroke-width="0.15">2.15 +-0.08</text>
<path d="M432.20,670.40V669.0h.250V669.0h.250V669.0h.250V669.0h.250V669.0h.250V669.0h.250V669.0h.250V669.0h.250V669.0h.250V669.0h.250V669.0h.250V669.0h.250V669.0h.250V669.0h.250V669.0h.250V669.0h.250V668.9h.250V668.9h.250V668.8h.250V668.7h.250V668.6h.250V668.5h.250V668.4h.250V668.3h.250V668.2h.250V668.1h.250V668.1h.250V668.0h.250V667.9h.250V667.9h.250V667.8h.250V667.7h.250V667.5h.250V667.2h.250V667.0h.250V666.6h.250V666.3h.250V666.0h.250V665.7h.250V665.4h.250V665.1h.250V664.8h.250V664.0h.250V663.1h.250V662.1h.250V661.5h.250V660.4h.250V659.6h.250V658.5h.250V657.7h.250V656.7h.250V655.4h.250V654.1h.250V652.2h.250V650.4h.250V648.4h.250V646.9h.250V645.2h.250V643.2h.250V641.4h.250V639.8h.250V638.1h.250V635.8h.250V634.4h.250V633.1h.250V632.2h.250V631.0h.250V630.0h.250V628.8h.250V628.3h.250V626.8h.250V627.4h.250V628.8h.250V627.4h.250V627.5h.250V628.1h.250V626.1h.250V627.1h.250V628.1h.250V629.1h.250V631.3h.250V632.7h.250V633.7h.250V635.4h.250V637.5h.250V639.0h.250V640.3h.250V642.3h.250V645.2h.250V647.0h.250V649.5h.250V651.1h.250V653.4h.250V655.1h.250V656.6h.250V658.1h.250V659.3h.250V660.8h.250V662.3h.250V663.4h.250V664.2h.250V664.7h.250V665.3h.250V665.7h.250V666.2h.250V666.7h.250V666.7h.250V666.8h.250V666.8h.250V666.8h.250V666.8h.250V666.8h.250V666.9h.250V667.0h.250V667.0h.250V667.0h.250V667.1h.250V667.1h.250V667.2h.250V667.2h.250V667.2h.250V667.2h.250V667.3h.250V667.3h.250V667.5h.250V667.5h.250V667.6h.250V667.6h.250V667.7h.250V667.7h.250V667.7h.250V667.7h.250V667.7h.250V667.7h.250V667.6h.250V667.7h.250V667.7h.250V667.7h.250V667.7h.250V667.7h.250V667.8h.250V667.9h.250V667.8h.250V667.8h.250V667.9h.250V667.9h.250V667.9h.250V667.9h.250V667.9h.250V667.9h.250V668.0h.250V668.0h.250V668.0h.250V668.0h.250V668.0h.250V668.1h.250V667.9h.250V668.0h.250V668.0h.250V668.0h.250V668.0h.250V668.0h.250V668.1h.250V668.1h.250V668.2h.250V668.2h.250V668.2h.250V668.2h.250V668.2h.250V668.2h.250V668.2h.250V668.2h.250V668.3h.250V668.3h.250V668.3h.250V668.3h.250V668.3h.250V668.4h.250V668.4h.250V668.4h.250V668.4h.250V668.4h.250V668.4h.250V668.4h.250V668.4h.250V668.4h.250V668.4h.250V668.4h.250V668.4h.250V668.5h.250V668.5h.250V668.5h.250V668.6h.250V668.6h.250V668.6h.250V668.6h.250V668.6h.250V668.6h.250V668.7h.250V668.7h.250V668.7h.250V668.7h.250V668.7h.250V668.7h.250V668.8h.250V668.8h.250V668.8h.250V668.8h.250V668.8h.250V668.8h.250V668.8h.250V668.8h.250V668.8h.250V668.8h.250V668.9h.250V668.9h.250V668.9h.250V668.9h.250V668.9h.250V668.9h.250V669.0h.250V669.0h.250V669.0h.250V669.0h.250V669.0h.250V669.0h.250V669.0h.250V669.1h.250V669.1h.250V669.1h.250V669.1h.250V669.1h.250V669.1h.250V669.2h.250V669.2h.250V669.2h.250V669.2h.250V669.2h.250V669.2h.250V669.2h.250V669.2h.250V669.3h.250V669.3h.250V669.3h.250V669.3h.250V669.3h.250V669.3h.250V669.3h.250V669.4h.250V669.4h.250V669.4h.250V669.4h.250V669.4h.250V669.4h.250V669.4h.250V669.4h.250V669.5h.250V669.5h.250V669.5h.250V669.5h.250V669.6h.250V669.6h.250V669.6h.250V669.6h.250V669.6h.250V669.6h.250V669.6h.250V669.6h.250V669.7h.250V669.7h.250V669.7h.250V669.7h.250V669.7h.250V669.7h.250V669.7h.250V669.8h.250V669.8h.250V669.8h.250V669.8h.250V669.8h.250V669.8h.250V669.8h.250V669.9h.250V669.9h.250V669.9h.250V669.9h.250V669.9h.250V669.9h.250V669.9h.250V669.9h.250V669.9h.250V669.9h.250V669.9h.250V669.9h.250V669.9h.250V669.9h.250V669.9h.250V669.9h.250V669.9h.250V669.9h.250V669.9h.250V669.9h.250V669.9h.250V669.9h.250V669.9h.250V669.9h.250V669.9h.250V669.9h.250V669.9h.250V669.9h.250V669.9h.250V669.9h.250V669.9h.250V670.0h.250V669.9h.250V669.9h.250V669.9h.250V669.9h.250V669.9h.250V669.9h.250V670.40Z" fill="#000"/>
<path d="M432.20,623.90H512.20V670.40" fill="none" stroke="#666" stroke-width="1"/>
<path d="M432.20,623.90V670.40H512.20" fill="none" stroke="#111" stroke-width="1.2"/>
<path d="M430.40,670.40H432.20M431.20,668.07H432.20M431.20,665.75H432.20M431.20,663.42H432.20M431.20,661.10H432.20M430.40,658.77H432.20M431.20,656.45H432.20M431.20,654.12H432.20M431.20,651.80H432.20M431.20,649.48H432.20M430.40,647.15H432.20M431.20,644.82H432.20M431.20,642.50H432.20M431.20,640.17H432.20M431.20,637.85H432.20M430.40,635.52H432.20M431.20,633.20H432.20M431.20,630.88H432.20M431.20,628.55H432.20M431.20,626.23H432.20M430.40,623.90H432.20M432.20,670.40V672.20M438.22,670.40V671.40M441.74,670.40V671.40M444.24,670.40V671.40M446.18,670.40V671.40M447.76,670.40V671.40M449.10,670.40V671.40M450.26,670.40V671.40M451.28,670.40V671.40M452.20,670.40V672.20M458.22,670.40V671.40M461.74,670.40V671.40M464.24,670.40V671.40M466.18,670.40V671.40M467.76,670.40V671.40M469.10,670.40V671.40M470.26,670.40V671.40M471.28,670.40V671.40M472.20,670.40V672.20M478.22,670.40V671.40M481.74,670.40V671.40M484.24,670.40V671.40M486.18,670.40V671.40M487.76,670.40V671.40M489.10,670.40V671.40M490.26,670.40V671.40M491.28,670.40V671.40M492.20,670.40V672.20M498.22,670.40V671.40M501.74,670.40V671.40M504.24,670.40V671.40M506.18,670.40V671.40M507.76,670.40V671.40M509.10,670.40V671.40M510.26,670.40V671.40M511.28,670.40V671.40" stroke="#444" stroke-width="0.5" fill="none"/>
<text transform="translate(428.60,670.40) rotate(-90)" font-family='"Liberation Sans", sans-serif' font-size="5.0" text-anchor="middle" fill="#222">0</text>
<text transform="translate(428.60,661.38) rotate(-90)" font-family='"Liberation Sans", sans-serif' font-size="5.0" text-anchor="middle" fill="#222">80</text>
<text transform="translate(428.60,652.36) rotate(-90)" font-family='"Liberation Sans", sans-serif' font-size="5.0" text-anchor="middle" fill="#222">160</text>
<text transform="translate(428.60,643.34) rotate(-90)" font-family='"Liberation Sans", sans-serif' font-size="5.0" text-anchor="middle" fill="#222">240</text>
<text transform="translate(428.60,634.32) rotate(-90)" font-family='"Liberation Sans", sans-serif' font-size="5.0" text-anchor="middle" fill="#222">320</text>
<text transform="translate(428.60,625.29) rotate(-90)" font-family='"Liberation Sans", sans-serif' font-size="5.0" text-anchor="middle" fill="#222">400</text>
<text transform="translate(421.00,648.15) rotate(-90)" font-family='"Liberation Sans", sans-serif' font-size="5.6" text-anchor="middle" fill="#222">Counts</text>
<text x="428.80" y="679.20" font-family='"Liberation Sans", sans-serif' font-size="6.4" fill="#222" textLength="8.8" lengthAdjust="spacingAndGlyphs">10<tspan font-size="4.8" dy="-3.0">0</tspan></text>
<text x="448.35" y="679.20" font-family='"Liberation Sans", sans-serif' font-size="6.4" fill="#222" textLength="8.8" lengthAdjust="spacingAndGlyphs">10<tspan font-size="4.8" dy="-3.0">1</tspan></text>
<text x="467.90" y="679.20" font-family='"Liberation Sans", sans-serif' font-size="6.4" fill="#222" textLength="8.8" lengthAdjust="spacingAndGlyphs">10<tspan font-size="4.8" dy="-3.0">2</tspan></text>
<text x="487.45" y="679.20" font-family='"Liberation Sans", sans-serif' font-size="6.4" fill="#222" textLength="8.8" lengthAdjust="spacingAndGlyphs">10<tspan font-size="4.8" dy="-3.0">3</tspan></text>
<text x="507.00" y="679.20" font-family='"Liberation Sans", sans-serif' font-size="6.4" fill="#222" textLength="8.8" lengthAdjust="spacingAndGlyphs">10<tspan font-size="4.8" dy="-3.0">4</tspan></text>
<text x="472.70" y="686.50" font-family='"Liberation Sans", sans-serif' font-size="5.6" font-weight="bold" text-anchor="middle" fill="#222">FL1-H</text>
<path d="M461.80,640.00H503.10M461.80,637.20V643.20M503.10,637.20V643.20" stroke="#555" stroke-width="1" fill="none"/>
<text x="463.90" y="634.80" font-family='"Liberation Sans", sans-serif' font-size="7" font-weight="normal" text-anchor="start" fill="#222" textLength="35.00" lengthAdjust="spacingAndGlyphs" stroke="#000" stroke-width="0.15">6.48 +-1.68</text>
<path d="M59,689.8H238" stroke="#222" stroke-width="2" fill="none"/>
<path d="M236,685.8L245.8,689.8L236,693.8Z" fill="#111"/>
<path d="M330,689.8H509" stroke="#222" stroke-width="2" fill="none"/>
<path d="M507.5,685.8L517,689.8L507.5,693.8Z" fill="#111"/>
<text x="136.70" y="710.80" font-family='"Liberation Sans", sans-serif' font-size="11.8" font-weight="normal" text-anchor="start" fill="#000" textLength="25.80" lengthAdjust="spacingAndGlyphs" stroke="#000" stroke-width="0.15">BrdU</text>
<text x="407.70" y="710.80" font-family='"Liberation Sans", sans-serif' font-size="11.8" font-weight="normal" text-anchor="start" fill="#000" textLength="26.20" lengthAdjust="spacingAndGlyphs" stroke="#000" stroke-width="0.15">BrdU</text>
</svg></body></html>
